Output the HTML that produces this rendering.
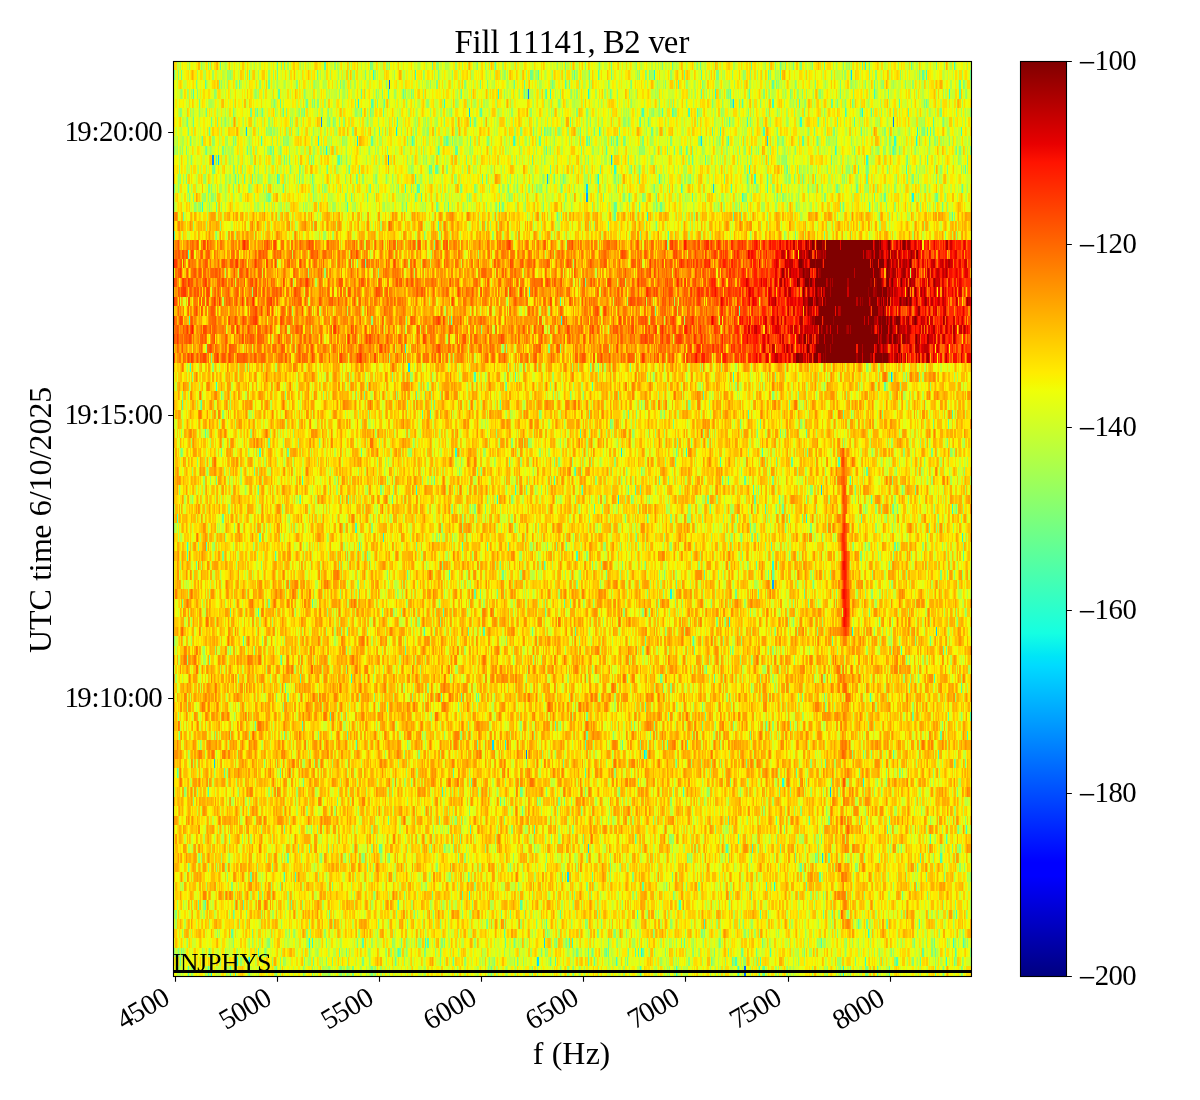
<!DOCTYPE html>
<html lang="en"><head><meta charset="utf-8"><title>Fill 11141, B2 ver</title>
<style>
html,body{margin:0;padding:0;background:#fff}
svg{display:block}
text{font-family:"Liberation Serif","DejaVu Serif",serif;fill:#000;white-space:pre}
.k{stroke:#000;stroke-width:1.11;fill:none}
</style></head><body>
<svg width="1200" height="1100" viewBox="0 0 1200 1100">
<defs>
<clipPath id="c"><rect x="173" y="61" width="799" height="916"/></clipPath>
<linearGradient id="j" x1="0" y1="0" x2="0" y2="1"><stop offset="0" stop-color="#800000"/><stop offset="0.09" stop-color="#e80000"/><stop offset="0.11" stop-color="#ff1300"/><stop offset="0.34" stop-color="#ffec00"/><stop offset="0.35" stop-color="#f7f600"/><stop offset="0.36" stop-color="#efff08"/><stop offset="0.625" stop-color="#15ffe2"/><stop offset="0.65" stop-color="#00e5f7"/><stop offset="0.66" stop-color="#00dbff"/><stop offset="0.875" stop-color="#0000ff"/><stop offset="0.89" stop-color="#0000ff"/><stop offset="1" stop-color="#000080"/></linearGradient>
</defs>
<rect width="1200" height="1100" fill="#fff"/>
<g clip-path="url(#c)" shape-rendering="crispEdges" fill="none">
<rect x="173" y="61" width="799" height="9" fill="#e9ff0e"/>
<rect x="173" y="70" width="799" height="10" fill="#f5f701"/>
<rect x="173" y="80" width="799" height="9" fill="#e9ff0e"/>
<rect x="173" y="89" width="799" height="10" fill="#f5f701"/>
<rect x="173" y="99" width="799" height="9" fill="#f5f701"/>
<rect x="173" y="108" width="799" height="9" fill="#f5f701"/>
<rect x="173" y="117" width="799" height="10" fill="#f5f701"/>
<rect x="173" y="127" width="799" height="9" fill="#f5f701"/>
<rect x="173" y="136" width="799" height="10" fill="#dcff1b"/>
<rect x="173" y="146" width="799" height="9" fill="#e9ff0e"/>
<rect x="173" y="155" width="799" height="10" fill="#f5f701"/>
<rect x="173" y="165" width="799" height="9" fill="#f5f701"/>
<rect x="173" y="174" width="799" height="10" fill="#f5f701"/>
<rect x="173" y="184" width="799" height="9" fill="#f5f701"/>
<rect x="173" y="193" width="799" height="9" fill="#f5f701"/>
<rect x="173" y="202" width="799" height="10" fill="#e9ff0e"/>
<rect x="173" y="212" width="799" height="9" fill="#ffcb00"/>
<rect x="173" y="221" width="799" height="10" fill="#ffcb00"/>
<rect x="173" y="231" width="799" height="9" fill="#ffcb00"/>
<rect x="173" y="240" width="799" height="10" fill="#ff9000"/>
<rect x="173" y="250" width="799" height="9" fill="#ff7200"/>
<rect x="173" y="259" width="799" height="9" fill="#ff7200"/>
<rect x="173" y="268" width="799" height="10" fill="#ff9000"/>
<rect x="173" y="278" width="799" height="9" fill="#ff9e00"/>
<rect x="173" y="287" width="799" height="10" fill="#ff8100"/>
<rect x="173" y="297" width="799" height="9" fill="#ff8100"/>
<rect x="173" y="306" width="799" height="10" fill="#ff9000"/>
<rect x="173" y="316" width="799" height="9" fill="#ff9000"/>
<rect x="173" y="325" width="799" height="9" fill="#ff7200"/>
<rect x="173" y="334" width="799" height="10" fill="#ff9e00"/>
<rect x="173" y="344" width="799" height="9" fill="#ff7200"/>
<rect x="173" y="353" width="799" height="10" fill="#ff9e00"/>
<rect x="173" y="363" width="799" height="9" fill="#ffda00"/>
<rect x="173" y="372" width="799" height="10" fill="#ffcb00"/>
<rect x="173" y="382" width="799" height="9" fill="#ffda00"/>
<rect x="173" y="391" width="799" height="9" fill="#ffbc00"/>
<rect x="173" y="400" width="799" height="10" fill="#ffcb00"/>
<rect x="173" y="410" width="799" height="9" fill="#ffcb00"/>
<rect x="173" y="419" width="799" height="10" fill="#ffbc00"/>
<rect x="173" y="429" width="799" height="9" fill="#ffcb00"/>
<rect x="173" y="438" width="799" height="10" fill="#ffcb00"/>
<rect x="173" y="448" width="799" height="9" fill="#ffcb00"/>
<rect x="173" y="457" width="799" height="10" fill="#ffe800"/>
<rect x="173" y="467" width="799" height="9" fill="#ffda00"/>
<rect x="173" y="476" width="799" height="9" fill="#ffcb00"/>
<rect x="173" y="485" width="799" height="10" fill="#ffda00"/>
<rect x="173" y="495" width="799" height="9" fill="#ffda00"/>
<rect x="173" y="504" width="799" height="10" fill="#ffcb00"/>
<rect x="173" y="514" width="799" height="9" fill="#ffda00"/>
<rect x="173" y="523" width="799" height="10" fill="#ffbc00"/>
<rect x="173" y="533" width="799" height="9" fill="#ffcb00"/>
<rect x="173" y="542" width="799" height="9" fill="#ffda00"/>
<rect x="173" y="551" width="799" height="10" fill="#ffbc00"/>
<rect x="173" y="561" width="799" height="9" fill="#ffda00"/>
<rect x="173" y="570" width="799" height="10" fill="#ffda00"/>
<rect x="173" y="580" width="799" height="9" fill="#ffcb00"/>
<rect x="173" y="589" width="799" height="10" fill="#ffe800"/>
<rect x="173" y="599" width="799" height="9" fill="#ffbc00"/>
<rect x="173" y="608" width="799" height="9" fill="#ffad00"/>
<rect x="173" y="617" width="799" height="10" fill="#ffcb00"/>
<rect x="173" y="627" width="799" height="9" fill="#ffcb00"/>
<rect x="173" y="636" width="799" height="10" fill="#ffcb00"/>
<rect x="173" y="646" width="799" height="9" fill="#ffcb00"/>
<rect x="173" y="655" width="799" height="10" fill="#ffbc00"/>
<rect x="173" y="665" width="799" height="9" fill="#ffbc00"/>
<rect x="173" y="674" width="799" height="9" fill="#ffbc00"/>
<rect x="173" y="683" width="799" height="10" fill="#ffcb00"/>
<rect x="173" y="693" width="799" height="9" fill="#ffcb00"/>
<rect x="173" y="702" width="799" height="10" fill="#ffcb00"/>
<rect x="173" y="712" width="799" height="9" fill="#ffbc00"/>
<rect x="173" y="721" width="799" height="10" fill="#ffcb00"/>
<rect x="173" y="731" width="799" height="9" fill="#ffcb00"/>
<rect x="173" y="740" width="799" height="10" fill="#ffbc00"/>
<rect x="173" y="750" width="799" height="9" fill="#ffbc00"/>
<rect x="173" y="759" width="799" height="9" fill="#ffbc00"/>
<rect x="173" y="768" width="799" height="10" fill="#ffbc00"/>
<rect x="173" y="778" width="799" height="9" fill="#ffcb00"/>
<rect x="173" y="787" width="799" height="10" fill="#ffcb00"/>
<rect x="173" y="797" width="799" height="9" fill="#ffcb00"/>
<rect x="173" y="806" width="799" height="10" fill="#ffcb00"/>
<rect x="173" y="816" width="799" height="9" fill="#ffcb00"/>
<rect x="173" y="825" width="799" height="9" fill="#ffcb00"/>
<rect x="173" y="834" width="799" height="10" fill="#ffcb00"/>
<rect x="173" y="844" width="799" height="9" fill="#ffcb00"/>
<rect x="173" y="853" width="799" height="10" fill="#ffda00"/>
<rect x="173" y="863" width="799" height="9" fill="#ffcb00"/>
<rect x="173" y="872" width="799" height="10" fill="#ffcb00"/>
<rect x="173" y="882" width="799" height="9" fill="#ffda00"/>
<rect x="173" y="891" width="799" height="9" fill="#ffe800"/>
<rect x="173" y="900" width="799" height="10" fill="#f5f701"/>
<rect x="173" y="910" width="799" height="9" fill="#ffcb00"/>
<rect x="173" y="919" width="799" height="10" fill="#ffe800"/>
<rect x="173" y="929" width="799" height="9" fill="#ffda00"/>
<rect x="173" y="938" width="799" height="10" fill="#f5f701"/>
<rect x="173" y="948" width="799" height="9" fill="#e9ff0e"/>
<rect x="173" y="957" width="799" height="9" fill="#e9ff0e"/>
<rect x="173" y="966" width="799" height="11" fill="#e9ff0e"/>
<path stroke="#0058ff" stroke-width="9" d="M389 84.5h1"/>
<path stroke="#0068ff" stroke-width="11" d="M744 971.5h2"/>
<path stroke="#0078ff" stroke-width="9" d="M526 754.5h1"/>
<path stroke="#0078ff" stroke-width="10" d="M528 94h1M893 122h1"/>
<path stroke="#0087ff" stroke-width="10" d="M321 122h1M212 160h2"/>
<path stroke="#00a7ff" stroke-width="9" d="M586 197.5h2M772 584.5h2"/>
<path stroke="#00a7ff" stroke-width="10" d="M388 160h1"/>
<path stroke="#00b7ff" stroke-width="10" d="M547 179h1M830 792h1"/>
<path stroke="#00c7ff" stroke-width="9" d="M469 112.5h1M246 131.5h1M713 188.5h1M936 631.5h1M214 763.5h1"/>
<path stroke="#00c7ff" stroke-width="10" d="M611 160h1M891 377h1M821 490h1"/>
<path stroke="#00d7ff" stroke-width="9" d="M733 103.5h1M586 188.5h2M408 367.5h2M588 848.5h1M537 961.5h1"/>
<path stroke="#00d7ff" stroke-width="10" d="M851 75h1M701 141h1m65 0h1M218 160h1M492 745h2M822 858h1M567 877h2M544 943h1"/>
<path stroke="#01e7f5" stroke-width="9" d="M396 131.5h1M621 452.5h1M618 499.5h1M644 754.5h1M249 961.5h1m288 0h1"/>
<path stroke="#01e7f5" stroke-width="10" d="M357 141h1"/>
<path stroke="#0ef7e9" stroke-width="9" d="M173 65.5h1M358 103.5h1M862 112.5h1M917 131.5h1M326 150.5h1M912 197.5h2M647 216.5h1M561 320.5h1M806 518.5h1M383 537.5h1m578 0h1M852 631.5h1M863 782.5h1M774 886.5h1M641 952.5h1"/>
<path stroke="#0ef7e9" stroke-width="10" d="M654 75h1M588 94h1M318 141h1m597 0h1M598 179h1M670 594h2M505 745h1M309 943h1"/>
<path stroke="#0ef7e9" stroke-width="11" d="M211 971.5h1m631 0h1"/>
<path stroke="#1bffdc" stroke-width="9" d="M865 65.5h1M444 103.5h1M749 169.5h1M405 348.5h1M686 452.5h1M772 565.5h2M351 678.5h1M782 782.5h2M469 895.5h1M868 933.5h1"/>
<path stroke="#1bffdc" stroke-width="10" d="M373 75h1M498 94h1m51 0h1m164 0h1M202 207h1M733 377h1M416 490h1M952 509h1M312 943h1"/>
<path stroke="#28ffcf" stroke-width="9" d="M599 131.5h1m120 0h1M835 150.5h1M614 169.5h2m290 0h1M742 197.5h1M216 386.5h1M455 452.5h2M497 499.5h1M187 546.5h1M258 612.5h1M752 848.5h1M237 961.5h1m627 0h1m80 0h1"/>
<path stroke="#28ffcf" stroke-width="10" d="M415 75h1m510 0h1M388 94h1m485 0h1m74 0h1M800 122h2M514 141h1m379 0h2M866 160h2M277 179h1m476 0h2M515 490h1M729 622h1M442 792h1M425 943h1m146 0h1m380 0h1"/>
<path stroke="#35ffc2" stroke-width="9" d="M954 65.5h1M772 103.5h2M845 112.5h1M961 131.5h1M438 150.5h1M405 188.5h1m11 0h1m263 0h1M421 197.5h1M188 254.5h1M190 367.5h1M430 414.5h1m317 0h1M580 433.5h1M259 452.5h2m501 0h1M302 480.5h1m251 0h1M206 546.5h1m152 0h1m102 0h1M870 697.5h1M967 735.5h1M470 829.5h1m63 0h1m431 0h1M766 886.5h1M637 914.5h1m318 0h1M616 961.5h1"/>
<path stroke="#35ffc2" stroke-width="10" d="M747 122h1M261 141h1m150 0h1m315 0h1M659 179h1M347 207h1M529 292h1M720 462h1M753 490h1M765 509h1M356 528h1M576 556h2M449 575h1M302 726h1M683 792h1M284 877h1m10 0h1M679 905h2M704 924h1"/>
<path stroke="#35ffc2" stroke-width="11" d="M676 971.5h1m61 0h1"/>
<path stroke="#42ffb5" stroke-width="9" d="M565 84.5h1m112 0h1M799 103.5h1m99 0h1M642 112.5h2m18 0h1m9 0h1m15 0h2M763 131.5h2m162 0h1m2 0h1M893 150.5h1M858 169.5h1M731 188.5h1m35 0h1M733 216.5h1M560 301.5h1M451 320.5h1M592 386.5h1M703 395.5h1M422 414.5h1m529 0h1M575 471.5h1M850 480.5h1M177 518.5h1M771 546.5h1M544 565.5h1M312 603.5h1M443 612.5h1M424 631.5h1M901 650.5h1M934 678.5h1M461 697.5h1M330 716.5h1M645 754.5h2m246 0h1m44 0h1M887 829.5h1M760 914.5h1M258 952.5h1m139 0h1m239 0h1m131 0h1M735 961.5h2m23 0h1m136 0h1"/>
<path stroke="#42ffb5" stroke-width="10" d="M193 94h1m352 0h1M397 122h1m72 0h1m383 0h1m78 0h1M338 160h1M415 179h1M499 207h1m369 0h1M438 226h1M474 377h2m39 0h1M182 405h1M838 462h2M582 490h1m52 0h1M594 509h1M355 528h1M187 556h1m87 0h1M243 641h1m449 0h1M961 688h1M555 726h1M356 745h1m228 0h1m101 0h1M585 773h1M930 839h1m15 0h1M920 858h1m19 0h2M919 924h1M569 943h1m251 0h1m141 0h1"/>
<path stroke="#42ffb5" stroke-width="11" d="M235 971.5h1m404 0h1"/>
<path stroke="#4effa8" stroke-width="9" d="M324 65.5h2M205 84.5h1m753 0h2M371 103.5h2m369 0h1M481 112.5h1m215 0h1m173 0h1M379 131.5h1m332 0h1M606 150.5h1M429 169.5h1m535 0h1M283 188.5h1m134 0h2M629 197.5h1m62 0h1M952 216.5h1M174 235.5h1m493 0h1M189 320.5h1M416 395.5h1M205 433.5h1m600 0h1M728 480.5h1M300 499.5h1m91 0h1m478 0h1M861 518.5h1M259 537.5h2M487 546.5h1M196 565.5h1m559 0h1M564 603.5h1M483 631.5h2m90 0h1M405 650.5h1M300 678.5h1m413 0h1M441 697.5h1M970 716.5h2M347 735.5h1M500 801.5h1M726 848.5h2M806 886.5h1M560 914.5h1M504 933.5h1M635 952.5h1m319 0h1M555 961.5h1m340 0h1"/>
<path stroke="#4effa8" stroke-width="10" d="M249 75h1m288 0h1m35 0h1m23 0h1m102 0h1m78 0h1M278 94h2m421 0h1m28 0h1m18 0h1m209 0h2M640 122h1m88 0h1M513 141h1m103 0h1m185 0h1M216 160h1m122 0h1m365 0h1M482 179h1m156 0h1m107 0h1m19 0h1M448 207h1M201 405h1m298 0h1M963 556h1M704 575h1M281 660h1M285 688h1M766 726h1M622 745h1m44 0h1M224 773h1m55 0h1m172 0h1M208 792h1M738 839h1M205 905h1m37 0h1m154 0h1m121 0h2M546 924h1m311 0h1M362 943h2m63 0h2"/>
<path stroke="#4effa8" stroke-width="11" d="M188 971.5h1m19 0h1m21 0h1m528 0h1"/>
<path stroke="#5bff9c" stroke-width="9" d="M220 65.5h1m56 0h1m154 0h1m62 0h1m176 0h1m78 0h1m110 0h1m48 0h1M239 84.5h1m28 0h2m244 0h1m9 0h1m247 0h2m100 0h1M280 103.5h1m103 0h1m446 0h1m94 0h1M257 112.5h1m4 0h1m20 0h1m77 0h1m21 0h1m96 0h1m427 0h1M209 131.5h1m334 0h1m316 0h1M247 150.5h1m25 0h1m181 0h3m88 0h1m139 0h1M349 169.5h1m81 0h1m3 0h3m112 0h1m49 0h1m186 0h1M188 188.5h1m181 0h1m410 0h1m180 0h1M415 197.5h1m240 0h1m227 0h2M183 216.5h1m373 0h1m56 0h2M365 263.5h1M506 386.5h1m377 0h2M628 414.5h1m214 0h1M780 433.5h1M361 452.5h1M254 471.5h1m611 0h2M434 480.5h1m224 0h1m62 0h1m21 0h2M754 499.5h2m23 0h1M222 518.5h2m565 0h1M894 546.5h2M676 584.5h1M230 612.5h1M468 631.5h1m63 0h1M943 650.5h1M476 697.5h1m1 0h1M948 716.5h1M284 735.5h1m655 0h2M825 763.5h1m128 0h1M471 782.5h1M728 820.5h1m80 0h1m79 0h1M379 848.5h1m400 0h1M800 867.5h2M642 886.5h2m272 0h1M462 895.5h1m288 0h1M233 914.5h1m589 0h1m8 0h1M231 933.5h2M588 952.5h1m17 0h1m1 0h1m313 0h2M248 961.5h1m146 0h1m57 0h1m96 0h1m37 0h1m5 0h1m137 0h1m187 0h1"/>
<path stroke="#5bff9c" stroke-width="10" d="M684 75h1m83 0h1m153 0h2M361 94h1m41 0h1m57 0h1M193 122h1m376 0h1m77 0h1M202 141h1m168 0h2m73 0h2m91 0h2m45 0h2m1 0h1m21 0h1m88 0h1m101 0h1M532 160h1m159 0h1m138 0h1m95 0h1M235 179h1m8 0h1m7 0h1m46 0h1m12 0h1m502 0h1m50 0h2M216 207h1m189 0h1m207 0h2m23 0h1M667 245h1M739 311h1M760 424h1m187 0h1M791 462h2M640 490h1M893 509h1M407 575h1m360 0h1m3 0h2M474 594h2m4 0h1m277 0h1m45 0h1M832 641h1M645 707h1M255 726h1M477 745h1M177 773h1m618 0h1M522 811h1M635 839h1M287 858h2m526 0h1M250 877h2m216 0h1m93 0h1m29 0h1m226 0h2M198 905h1M505 943h1m178 0h1"/>
<path stroke="#5bff9c" stroke-width="11" d="M763 971.5h2m112 0h1m11 0h1"/>
<path stroke="#68ff8f" stroke-width="9" d="M284 65.5h1m280 0h1m134 0h1m79 0h1m43 0h1m111 0h1M480 84.5h1m71 0h1m16 0h1M199 103.5h1m106 0h2m47 0h1m374 0h1m101 0h1m19 0h1M206 112.5h1m43 0h2m52 0h1m65 0h1M580 131.5h1m13 0h1m56 0h2M206 150.5h1m63 0h1m396 0h1m6 0h1m6 0h1m69 0h1m102 0h1m101 0h1M214 169.5h1m39 0h1m72 0h1m31 0h1m271 0h1m7 0h1M233 188.5h1m79 0h1m194 0h1m52 0h1m36 0h1m55 0h1m182 0h1m18 0h2M268 197.5h2m81 0h1m15 0h1m235 0h1m270 0h1m61 0h2M741 216.5h1M640 235.5h1m154 0h1m28 0h1M585 282.5h1M590 367.5h1m7 0h1M364 395.5h1M221 452.5h1m65 0h2m387 0h1m130 0h1M574 471.5h1M216 480.5h1M348 499.5h1m358 0h2m97 0h1M647 518.5h1m89 0h1m64 0h1M636 537.5h1m115 0h1m4 0h1M416 546.5h1m91 0h1m57 0h1m330 0h1M500 565.5h1M813 584.5h1M570 603.5h1M545 612.5h1m103 0h1M347 631.5h1M694 650.5h1m251 0h1M706 669.5h1M660 678.5h2M802 697.5h1m21 0h1M705 716.5h1m206 0h2M586 735.5h2m162 0h1M863 754.5h1M563 763.5h1m112 0h1m288 0h1M303 782.5h1M388 820.5h1m387 0h1M284 829.5h1M309 848.5h1m70 0h2M917 867.5h1M258 895.5h1m173 0h1m469 0h1M329 914.5h1m171 0h1m8 0h1M252 933.5h1M339 952.5h1m6 0h1m52 0h2m39 0h1m151 0h1m49 0h2m84 0h1m13 0h1m13 0h1m178 0h1M180 961.5h1m132 0h1m203 0h1m109 0h1m83 0h1m45 0h1m196 0h1"/>
<path stroke="#68ff8f" stroke-width="10" d="M174 75h1m6 0h1m95 0h1m39 0h1m212 0h2m57 0h1m21 0h1m358 0h2M524 94h1m20 0h1m64 0h1m229 0h1m47 0h1M187 122h1m23 0h1m606 0h1m18 0h1M190 141h1m279 0h1m109 0h1m236 0h1m111 0h1M284 160h1m4 0h1m617 0h1m59 0h1M238 179h1m39 0h2m76 0h1m129 0h1m67 0h1m8 0h1m33 0h1m126 0h1m78 0h1M436 207h2m178 0h1m43 0h2m178 0h1m2 0h1m98 0h1M608 226h1m47 0h1M655 311h1M892 377h1M434 405h1M610 424h1m62 0h1m66 0h1m192 0h1M268 443h2m407 0h1M675 462h1m100 0h1M258 490h1m267 0h1m101 0h1m286 0h1M710 509h1m71 0h2m172 0h1M750 528h1m178 0h1M367 556h1M502 575h2m102 0h1M735 594h2M645 641h1m284 0h1M209 660h1M702 707h1M702 726h1m87 0h1M520 792h2M821 839h1M795 858h1m32 0h2M672 877h1M291 905h1M866 924h2m19 0h1M514 943h1m93 0h1m72 0h1m37 0h1m42 0h1m171 0h1"/>
<path stroke="#68ff8f" stroke-width="11" d="M491 971.5h1m348 0h1m94 0h1"/>
<path stroke="#75ff82" stroke-width="9" d="M281 65.5h1m88 0h1m228 0h1m11 0h1m50 0h1m122 0h1m7 0h1m6 0h2m67 0h1M196 84.5h1m22 0h1m16 0h1m103 0h1m95 0h2m49 0h1m101 0h1m18 0h1m22 0h1m70 0h1m73 0h1m38 0h1m24 0h1m122 0h1M274 103.5h1m39 0h1m62 0h1m334 0h1m19 0h1m6 0h1m97 0h1m86 0h1M233 112.5h1m21 0h1m30 0h1m386 0h1m130 0h1m55 0h1m32 0h1m46 0h2M188 131.5h1m109 0h1m234 0h1m7 0h1m8 0h1m68 0h1m194 0h1m19 0h1m89 0h1m8 0h1M186 150.5h1m35 0h2m47 0h1m8 0h1m106 0h1m193 0h1m110 0h1m143 0h1m62 0h1m59 0h2M212 169.5h2m19 0h1m56 0h1m8 0h1m130 0h1m435 0h2m79 0h1M174 188.5h1m33 0h2m39 0h1m161 0h1m49 0h1m207 0h1m138 0h1m27 0h1M189 197.5h1m3 0h1m151 0h1m123 0h1m95 0h1m177 0h1m33 0h1M561 216.5h1m132 0h1M424 235.5h1M630 367.5h1M367 386.5h1m137 0h1M221 395.5h1m63 0h1m284 0h1M589 414.5h1m292 0h1M757 433.5h1M181 452.5h1m749 0h2M477 471.5h1m163 0h1M772 480.5h2M631 499.5h1M625 518.5h1m312 0h1M339 565.5h1m102 0h1m149 0h1m8 0h1m20 0h1m22 0h1m243 0h1M182 603.5h1m85 0h2m538 0h1M382 612.5h1m486 0h1M730 650.5h1m1 0h1M824 678.5h1M287 697.5h2M586 716.5h2m80 0h1M179 735.5h1m138 0h1m331 0h1M852 754.5h1M746 763.5h1M638 782.5h1m91 0h1m100 0h1M337 801.5h1m166 0h1m32 0h1m20 0h2m4 0h1M439 820.5h1m388 0h2M784 829.5h1m173 0h1M298 848.5h1m145 0h1m8 0h1m498 0h1M188 867.5h1m178 0h1m242 0h1M280 886.5h1m51 0h1m365 0h2M262 895.5h1m311 0h1m98 0h1m253 0h1M433 914.5h1m163 0h1M547 933.5h1m49 0h1m103 0h1M181 952.5h1m27 0h1m99 0h1m114 0h1m116 0h1m34 0h2m50 0h1m85 0h1m26 0h1m62 0h1M304 961.5h1m27 0h1m29 0h2m76 0h1m414 0h1"/>
<path stroke="#75ff82" stroke-width="10" d="M365 75h1m72 0h1m93 0h1m112 0h1m3 0h1m66 0h3m200 0h1M382 94h1m28 0h1m316 0h1m61 0h1M217 122h1m72 0h1m38 0h1m3 0h1m140 0h2m274 0h1m192 0h1M233 141h1m173 0h1m36 0h1m7 0h1m163 0h1m6 0h2m17 0h2m133 0h1m111 0h1M311 160h1m1 0h1m23 0h1m128 0h1m161 0h1m139 0h1M186 179h1m503 0h1m103 0h1m117 0h2m22 0h1M173 207h1m26 0h1m63 0h1m237 0h2m39 0h1m112 0h1M434 245h1M211 358h1M392 377h1m513 0h1m12 0h1M688 405h2m99 0h1M319 443h1M509 462h1m44 0h1M380 490h2m473 0h1m46 0h1M474 509h2m9 0h1m290 0h1m115 0h1m4 0h1M785 528h1m24 0h2M222 556h2m518 0h1m117 0h2m31 0h1M664 575h1m275 0h2m5 0h1M497 594h1M879 622h1M906 660h1M387 707h1m437 0h1M634 726h1m98 0h1M640 745h1M899 773h1M460 839h1m122 0h1M389 858h1m68 0h1m228 0h1m63 0h1M926 877h1m17 0h1M729 905h1M378 924h1m108 0h1M326 943h1m30 0h1m43 0h1m42 0h1m111 0h1m9 0h1m347 0h1"/>
<path stroke="#75ff82" stroke-width="11" d="M249 971.5h1m26 0h1m75 0h2m17 0h2m159 0h1m40 0h1m292 0h2m75 0h1"/>
<path stroke="#82ff75" stroke-width="9" d="M208 65.5h1m162 0h2m104 0h1m107 0h1m189 0h1m36 0h1m30 0h1M173 84.5h1m122 0h2m88 0h1m77 0h2m199 0h1m129 0h1m69 0h1m17 0h1m21 0h1M312 103.5h1m4 0h2m54 0h1m184 0h2m99 0h1m13 0h1m86 0h1m35 0h1m48 0h1M180 112.5h1m147 0h1m122 0h1m124 0h2m8 0h2m65 0h1m21 0h1m72 0h1m97 0h1m14 0h1M266 131.5h1m4 0h1m19 0h1m60 0h2m166 0h2m25 0h1m10 0h2m40 0h1m176 0h1m55 0h1m50 0h2m36 0h2M205 150.5h1m233 0h1m110 0h1m88 0h1m47 0h1m51 0h1m18 0h1m11 0h1m6 0h1m17 0h1m87 0h1m8 0h1m1 0h2m74 0h2M179 169.5h1m62 0h1m203 0h2m19 0h1m105 0h1m210 0h1m1 0h1m12 0h1m68 0h1m18 0h1m28 0h1m44 0h1M211 188.5h1m51 0h1m58 0h1m75 0h1m61 0h1m13 0h2m23 0h1m17 0h1m11 0h1m6 0h1m4 0h1m4 0h1m69 0h1m65 0h1M208 197.5h1m2 0h1m54 0h1m3 0h1m42 0h1m195 0h1m113 0h2m17 0h2m102 0h1m35 0h2m40 0h2m109 0h1M767 216.5h1m111 0h1m9 0h1m64 0h1M216 235.5h1m222 0h1m505 0h1m10 0h1M357 263.5h1M371 320.5h2M481 329.5h1M506 348.5h1m41 0h2m10 0h1M427 386.5h2m121 0h1m349 0h1M182 395.5h1m173 0h1m39 0h1m156 0h1m29 0h1m34 0h1m153 0h2m24 0h1M222 414.5h2m315 0h2m95 0h1m27 0h1m186 0h1M785 433.5h1M459 471.5h1m21 0h1m482 0h1M668 480.5h1m223 0h1M299 499.5h1m187 0h1m23 0h2m62 0h1M462 518.5h1m126 0h1m80 0h2m30 0h1M741 537.5h1m80 0h1M198 546.5h1m348 0h1m8 0h1m81 0h1m214 0h1m11 0h1m3 0h1m93 0h1M261 565.5h1M358 584.5h1m217 0h2m22 0h1m196 0h1M439 603.5h1m218 0h1m134 0h1M401 612.5h1m240 0h2m106 0h1M341 631.5h1m433 0h1m41 0h1M254 650.5h1m387 0h2m247 0h1M238 678.5h1m679 0h1M374 697.5h1m37 0h1m385 0h1M215 735.5h1m245 0h1m151 0h1M418 754.5h2m451 0h1M264 763.5h1M173 782.5h1m632 0h1m79 0h1M193 801.5h1M461 820.5h1m191 0h1M311 829.5h1m5 0h1m115 0h1m138 0h1M328 848.5h1m102 0h1m102 0h1m223 0h1m58 0h1m83 0h1m57 0h2M272 867.5h1m237 0h1m34 0h1m257 0h1m51 0h1M231 886.5h2m285 0h1m67 0h2m78 0h1m19 0h1M374 895.5h1m29 0h1m231 0h1m186 0h1M175 914.5h2m69 0h1m149 0h1m17 0h1m47 0h1m305 0h1M289 933.5h1m20 0h1m234 0h1m52 0h1m15 0h2m10 0h1m26 0h1m48 0h1m1 0h1m132 0h1m125 0h1M178 952.5h1m86 0h1m131 0h1m27 0h1m119 0h1m58 0h2m59 0h1m27 0h1m197 0h1m39 0h2m37 0h2M280 961.5h1m45 0h1m162 0h1m4 0h1m130 0h1m62 0h2m204 0h2m16 0h2"/>
<path stroke="#82ff75" stroke-width="10" d="M178 75h1m51 0h1m408 0h1m110 0h1m19 0h1m60 0h1m37 0h1m5 0h2m23 0h1M197 94h1m106 0h1m71 0h1m28 0h1m7 0h1m113 0h1m32 0h1m202 0h2m37 0h1m16 0h2m32 0h1M225 122h1m113 0h1m104 0h1m145 0h1m37 0h1m10 0h1m57 0h1M235 141h1m47 0h1m129 0h1m73 0h2m124 0h1m56 0h2m26 0h2m19 0h1m58 0h1m3 0h2m52 0h1m112 0h1M191 160h1m117 0h1m31 0h1m4 0h1m241 0h1m197 0h1M345 179h1m11 0h1m18 0h1m9 0h1m227 0h2m2 0h1m170 0h1m117 0h1m10 0h1M209 207h1m108 0h1m83 0h1m93 0h1m95 0h1m146 0h1m7 0h1m48 0h1m89 0h1m33 0h1M220 226h1M378 273h1M192 377h1m582 0h1M407 405h1m23 0h1m209 0h1M511 443h2m15 0h1m162 0h1m151 0h1m103 0h1M558 462h2M393 490h1m364 0h1m51 0h2M282 509h1m169 0h1m149 0h1m262 0h1m15 0h1M371 528h2M586 556h2m201 0h1M387 575h1m192 0h1m249 0h1m41 0h1m33 0h1m55 0h1M340 594h1m306 0h1m15 0h1m172 0h1m35 0h1M440 622h1m275 0h2m7 0h1m67 0h1M262 641h1m652 0h1M533 660h1M663 688h1m6 0h2m237 0h1M283 707h1m174 0h1M468 726h1m91 0h1m70 0h1m22 0h1m287 0h1M407 745h1M859 773h1m26 0h1m15 0h1M522 792h1m23 0h1m38 0h1m33 0h1m53 0h1m105 0h1m10 0h1m166 0h1M469 811h1m87 0h1m23 0h1M229 839h1m223 0h1m97 0h1M199 858h1m121 0h1m40 0h2m182 0h1m270 0h1m61 0h1M632 877h2M302 905h1m169 0h1m482 0h1M309 924h1m97 0h1m32 0h1m45 0h1m49 0h1m48 0h1m15 0h1m137 0h1m3 0h1m142 0h1M233 943h1m34 0h2m136 0h1m34 0h2m277 0h1"/>
<path stroke="#82ff75" stroke-width="11" d="M303 971.5h1m8 0h1m27 0h2m5 0h1m27 0h1m112 0h1m248 0h1m24 0h1m87 0h1m14 0h1m95 0h1"/>
<path stroke="#8fff68" stroke-width="9" d="M201 65.5h1m8 0h1m123 0h2m53 0h1m46 0h3m46 0h1m150 0h1m60 0h1m71 0h1m174 0h1M221 84.5h1m37 0h2m53 0h1m28 0h2m85 0h1m148 0h1m77 0h1m28 0h1m91 0h1m72 0h1m60 0h2m50 0h1M406 103.5h1m20 0h2m38 0h1m163 0h1m54 0h1m35 0h1m8 0h1m73 0h1M181 112.5h1m17 0h1m75 0h1m23 0h1m1 0h1m20 0h1m32 0h2m16 0h1m137 0h2m17 0h2m109 0h1m17 0h1m16 0h1m44 0h1m44 0h1m10 0h1m16 0h1m29 0h1m48 0h1m7 0h1m74 0h1m13 0h2M258 131.5h1m11 0h1m15 0h1m26 0h1m60 0h1m41 0h1m10 0h2m6 0h1m109 0h1m262 0h1m80 0h1M174 150.5h1m7 0h1m67 0h2m68 0h1m2 0h1m5 0h1m39 0h1m53 0h1m120 0h1m99 0h1m9 0h1m89 0h2m132 0h1m11 0h1m24 0h1M234 169.5h1m2 0h1m62 0h1m110 0h1m172 0h1m71 0h1m87 0h2m81 0h1m18 0h1m2 0h1m2 0h1m81 0h1m5 0h2m25 0h1M178 188.5h1m69 0h1m17 0h1m57 0h2m43 0h1m8 0h1m110 0h1m38 0h1m219 0h1m7 0h2m14 0h2m48 0h1m45 0h1m25 0h2m29 0h1M205 197.5h1m6 0h2m1 0h1m51 0h1m78 0h1m120 0h1m57 0h1m71 0h1m107 0h1m38 0h2m5 0h1m46 0h1m82 0h1m36 0h1m26 0h1M837 216.5h1m111 0h1M492 235.5h2m256 0h1m33 0h1M406 320.5h1M206 348.5h1m295 0h2M212 367.5h2m294 0h1m16 0h1m52 0h1m287 0h2M735 386.5h2m87 0h1m105 0h1M323 395.5h1m100 0h1m6 0h1m8 0h1M368 414.5h1M250 433.5h2m123 0h1m120 0h1m92 0h1m42 0h2m21 0h1m47 0h1m5 0h1M182 452.5h1m65 0h1m161 0h2m127 0h2m207 0h1m123 0h1m30 0h2m45 0h2M207 471.5h1m373 0h1m44 0h1m114 0h1m55 0h1m98 0h1M210 480.5h1m126 0h1m49 0h1m34 0h1m8 0h1m163 0h2m24 0h1M192 499.5h1m147 0h1m257 0h1m26 0h1m23 0h1m244 0h2m12 0h1M476 518.5h1m210 0h4m32 0h1m6 0h1m35 0h1m119 0h1m74 0h1M439 537.5h1m12 0h1m120 0h1m90 0h1m66 0h1m19 0h1m175 0h1M214 546.5h1m38 0h1m107 0h1m242 0h2m14 0h1m49 0h2m60 0h1m32 0h1m156 0h2M236 565.5h1m461 0h2m29 0h1m17 0h1m30 0h1M289 584.5h1m67 0h1m112 0h1m421 0h1M406 603.5h1m138 0h1m47 0h1m81 0h1m6 0h1m28 0h1M327 612.5h1m65 0h1m229 0h2m32 0h1m307 0h1M665 631.5h1m208 0h1M230 650.5h1m115 0h1m425 0h2M346 669.5h1M526 678.5h1m100 0h1m132 0h1m53 0h1m15 0h1m79 0h1M276 697.5h1m82 0h1m209 0h1M173 716.5h1m167 0h1m4 0h1m84 0h1m529 0h1M249 735.5h1m172 0h1m21 0h1m89 0h1m157 0h1M404 754.5h1m137 0h1M314 763.5h1m405 0h1m89 0h2m143 0h1M411 782.5h1m57 0h1M571 801.5h1m98 0h2M452 820.5h1m2 0h2m47 0h1m103 0h1m250 0h1m70 0h1m34 0h1M448 829.5h1m62 0h2m202 0h1M371 848.5h2m112 0h1M373 867.5h1m62 0h2m182 0h1m235 0h2m101 0h2m3 0h1M426 886.5h1m30 0h1m16 0h2M591 895.5h1m137 0h1m2 0h1m77 0h2m52 0h1M417 914.5h1m52 0h1m53 0h1m133 0h1m179 0h2m7 0h2m52 0h1m3 0h1m22 0h1m9 0h1m27 0h1M217 933.5h1m76 0h1m11 0h2m16 0h2m418 0h2m2 0h1m120 0h1m69 0h1M174 952.5h1m8 0h1m202 0h1m19 0h1m28 0h1m68 0h1m68 0h1m80 0h1m190 0h1m33 0h1m65 0h1m10 0h1M220 961.5h1m3 0h1m15 0h2m30 0h1m10 0h1m85 0h1m34 0h1m59 0h2m48 0h1m8 0h1m84 0h1m116 0h1m7 0h1m10 0h2m52 0h1m38 0h1m2 0h1m41 0h1m52 0h1m26 0h1"/>
<path stroke="#8fff68" stroke-width="10" d="M227 75h1m40 0h2m3 0h1m80 0h1m20 0h1m47 0h1m28 0h1m51 0h1m60 0h1m6 0h1m64 0h1m8 0h1m23 0h2m60 0h1m10 0h1m101 0h1m4 0h1M181 94h1m32 0h2m39 0h1m83 0h1m83 0h1m80 0h1m66 0h1m4 0h2m39 0h1m11 0h1m96 0h2m41 0h1m27 0h1m8 0h1m159 0h1M221 122h1m46 0h2m22 0h1m34 0h1m15 0h2m22 0h1m255 0h2m99 0h1m45 0h1m54 0h1M212 141h2m35 0h1m22 0h1m14 0h2m53 0h1m71 0h1m33 0h1m105 0h1m70 0h1m87 0h1m12 0h2m98 0h1m24 0h1m38 0h1m43 0h2m1 0h1M273 160h1m12 0h1m120 0h1m18 0h1m89 0h1m27 0h1m143 0h2m47 0h1m9 0h1m2 0h1m155 0h1m13 0h1m37 0h1M178 179h1m1 0h1m24 0h1m52 0h1m9 0h2m14 0h1m77 0h2m11 0h1m16 0h1m61 0h1m55 0h1m6 0h1m25 0h1m16 0h1m29 0h1m73 0h1m20 0h1m100 0h1m55 0h1m1 0h1m51 0h1M194 207h2m107 0h1m140 0h1m41 0h1m38 0h1m38 0h1m64 0h1m88 0h1m68 0h1m89 0h1m16 0h2m39 0h1m11 0h1M485 226h1m4 0h1m103 0h1M308 273h1m15 0h2M252 292h1M389 358h1M349 377h1m60 0h1m236 0h1m5 0h1M200 405h1m268 0h1m239 0h1M611 424h2m187 0h2M283 443h1m14 0h1m114 0h1m146 0h1m359 0h1M197 462h1m263 0h1m110 0h1m18 0h1m22 0h2m308 0h1M179 490h1m361 0h1m270 0h1M228 509h2m240 0h1m108 0h1m108 0h2m126 0h1m58 0h2m57 0h1M442 528h1m19 0h1m52 0h1m22 0h1m215 0h2m119 0h2m15 0h1m43 0h1M472 556h1m438 0h1M520 575h2m98 0h1m38 0h1m58 0h1m94 0h1m140 0h1M358 594h1m38 0h1m467 0h1m5 0h1M411 622h1m6 0h2m368 0h1m103 0h1m64 0h1M174 641h1m331 0h1m216 0h1m17 0h1M187 660h1m92 0h1m232 0h1m226 0h1m10 0h1m42 0h1m114 0h1M427 688h2m322 0h1M520 726h2m193 0h1m56 0h2M200 745h1m461 0h1m256 0h1M227 773h1m386 0h2m284 0h1m32 0h1M184 792h2m11 0h1m194 0h1m52 0h1m32 0h1m228 0h2m31 0h1m82 0h1M800 811h2m24 0h1m94 0h1M242 839h1m315 0h2m110 0h2m1 0h1m102 0h1M198 858h1m30 0h1m36 0h1m53 0h1m24 0h1m3 0h1m38 0h1m75 0h2m47 0h1m72 0h2m22 0h1m80 0h1m36 0h1m87 0h1m47 0h1m68 0h1M227 877h1m221 0h1m160 0h1m193 0h1M203 905h2m244 0h1m72 0h1m50 0h1m48 0h1M333 924h1m252 0h2m82 0h2m117 0h1M267 943h1m124 0h1m25 0h3m133 0h1m62 0h1m29 0h1m55 0h1m113 0h1m28 0h1m84 0h2m14 0h1m16 0h1m2 0h1"/>
<path stroke="#8fff68" stroke-width="11" d="M191 971.5h1m56 0h1m31 0h1m47 0h2m207 0h1m22 0h1m6 0h2m100 0h1m4 0h1m2 0h1m100 0h1m8 0h1m39 0h1m134 0h1"/>
<path stroke="#9cff5b" stroke-width="9" d="M189 65.5h1m97 0h2m48 0h1m11 0h1m36 0h2m67 0h2m32 0h1m67 0h1m207 0h1m15 0h1m64 0h1m2 0h1m48 0h1M206 84.5h1m20 0h1m49 0h1m59 0h1m12 0h1m202 0h2m11 0h1m63 0h1m43 0h1m12 0h1m41 0h1m4 0h1m14 0h1m75 0h1m29 0h1m21 0h1m3 0h2m10 0h1M324 103.5h2m16 0h1m40 0h1m42 0h1m28 0h2m87 0h1m38 0h1m220 0h1m48 0h1m14 0h1m11 0h1m8 0h1m38 0h1M190 112.5h1m2 0h1m67 0h1m40 0h1m24 0h1m39 0h1m3 0h2m57 0h1m67 0h1m52 0h1m1 0h1m97 0h2m5 0h1m15 0h1m23 0h2m1 0h1m21 0h1m29 0h1m14 0h1m160 0h1m31 0h1M193 131.5h1m74 0h2m3 0h2m2 0h1m58 0h1m45 0h1m4 0h1m13 0h1m11 0h1m1 0h1m39 0h3m56 0h1m42 0h1m9 0h2m9 0h1m67 0h1m10 0h1m167 0h1m45 0h1m37 0h1m11 0h1m12 0h1m13 0h1M177 150.5h1m2 0h1m29 0h1m14 0h1m30 0h1m7 0h1m2 0h3m11 0h1m7 0h1m23 0h2m6 0h1m12 0h2m10 0h1m28 0h1m94 0h1m1 0h1m32 0h1m30 0h1m55 0h2m46 0h4m16 0h2m17 0h2m21 0h1m23 0h2m5 0h1m22 0h1m27 0h1m87 0h1m4 0h1m6 0h2m43 0h1m25 0h1M206 169.5h1m51 0h1m6 0h1m9 0h1m60 0h1m11 0h1m89 0h1m52 0h1m119 0h1m4 0h1m12 0h1m10 0h1m154 0h1m11 0h1m8 0h1m30 0h2m114 0h1M187 188.5h1m37 0h1m72 0h1m37 0h1m5 0h1m4 0h1m6 0h1m87 0h1m59 0h2m3 0h1m29 0h1m1 0h2m21 0h1m11 0h1m78 0h1m9 0h1m83 0h1m64 0h1m52 0h1m9 0h2m47 0h1m4 0h1m31 0h1m5 0h1M202 197.5h3m49 0h1m73 0h1m45 0h1m41 0h1m24 0h1m3 0h1m65 0h2m53 0h1m61 0h1m15 0h2m39 0h1m36 0h1m51 0h1m89 0h1m46 0h1M496 216.5h1m30 0h1m85 0h1m68 0h1m214 0h1M215 235.5h1m19 0h1m87 0h3m7 0h1m217 0h1m158 0h1M431 254.5h1m46 0h1M277 263.5h1m295 0h1M507 301.5h1m119 0h1m46 0h1M684 320.5h1M405 329.5h1M248 367.5h1m323 0h1m148 0h1m156 0h1M189 386.5h1m228 0h2m153 0h1m126 0h1m1 0h1m56 0h1m98 0h1M658 395.5h1m157 0h1m29 0h1m43 0h1M249 414.5h1m410 0h2M181 433.5h1m25 0h1m85 0h1m305 0h1m6 0h1m41 0h1m15 0h1M408 452.5h2m73 0h2m32 0h1m436 0h1M192 471.5h1m340 0h1m291 0h1m38 0h1m52 0h1m3 0h1M203 480.5h2m35 0h2m383 0h1m301 0h1m3 0h2M494 499.5h1m61 0h1m47 0h2m26 0h2m62 0h1m19 0h2m137 0h1M289 518.5h1m221 0h2M225 537.5h1m54 0h1m155 0h2m87 0h1m185 0h1m20 0h1m7 0h1m224 0h1M530 546.5h2m71 0h1m41 0h1m82 0h1m139 0h1m29 0h1m43 0h1M180 565.5h1m161 0h1m5 0h1m77 0h1m68 0h1m49 0h1M364 584.5h1m23 0h1m72 0h1m5 0h1m171 0h1m164 0h1m84 0h1m1 0h1M469 603.5h1m13 0h2m98 0h1m160 0h2m72 0h1m56 0h2M295 612.5h1m171 0h1m319 0h1m168 0h1M367 631.5h1m66 0h1m362 0h1m150 0h1M203 650.5h2m10 0h1m12 0h1m504 0h1m34 0h1m68 0h1M420 669.5h1m171 0h1m111 0h1m60 0h1M373 678.5h1m76 0h1m321 0h2m129 0h2M423 697.5h1m70 0h1m104 0h1m126 0h2m33 0h1m64 0h1m128 0h1M178 716.5h1m55 0h1m337 0h1m229 0h1M425 735.5h1m34 0h1m309 0h1M188 754.5h1m196 0h1m169 0h1m56 0h1m252 0h1m20 0h1M318 763.5h1m79 0h1m127 0h1m164 0h1m129 0h1m60 0h1m33 0h1M404 782.5h1m342 0h1m129 0h1M249 801.5h1m289 0h2m81 0h1m81 0h1M613 820.5h1m252 0h2M261 829.5h1m109 0h2m152 0h1m47 0h1m204 0h1m111 0h1m35 0h1m15 0h1m14 0h1M429 848.5h1m15 0h1m3 0h1m45 0h1m176 0h1m52 0h1m2 0h1m36 0h1m29 0h1m94 0h1m7 0h1m29 0h1m11 0h2m2 0h1m12 0h1M208 867.5h1m7 0h1m8 0h1m31 0h1m250 0h1m118 0h1m121 0h1m28 0h1m20 0h1M261 886.5h1m9 0h1m149 0h1m172 0h1m151 0h1m24 0h1m121 0h1M287 895.5h2m65 0h1m177 0h1m37 0h1m17 0h1m43 0h2m164 0h1m17 0h1m29 0h1M234 914.5h1m26 0h1m11 0h1m174 0h1m198 0h1m7 0h1m11 0h1m279 0h1m5 0h2M182 933.5h1m102 0h1m7 0h1m64 0h2m17 0h1m80 0h1m129 0h1m24 0h1m71 0h1m34 0h1m33 0h2m3 0h1m18 0h1m26 0h1m111 0h1M202 952.5h1m22 0h1m11 0h1m26 0h1m52 0h1m50 0h2m20 0h2m66 0h1m88 0h1m43 0h1m1 0h1m98 0h1m116 0h1m64 0h1m18 0h1M308 961.5h1m1 0h1m36 0h1m38 0h1m230 0h1m42 0h2m11 0h1m4 0h1m33 0h1m21 0h1m8 0h1m94 0h2m39 0h1m37 0h1m37 0h2"/>
<path stroke="#9cff5b" stroke-width="10" d="M212 75h2m14 0h2m15 0h1m12 0h1m30 0h1m40 0h1m7 0h1m9 0h1m25 0h1m19 0h1m39 0h1m59 0h1m10 0h1m1 0h1m18 0h1m9 0h1m15 0h1m23 0h2m166 0h2m11 0h1m17 0h1m66 0h1m1 0h1m79 0h1M187 94h1m3 0h1m64 0h1m1 0h1m4 0h1m83 0h1m30 0h1m15 0h2m64 0h1m10 0h1m47 0h1m6 0h1m47 0h1m14 0h1m14 0h2m5 0h1m43 0h1m39 0h1m10 0h1m12 0h2m8 0h1m18 0h1m36 0h1m12 0h1m14 0h1m55 0h1m46 0h1m26 0h1m21 0h1M186 122h1m67 0h1m17 0h1m55 0h1m5 0h2m42 0h1m13 0h1m22 0h1m1 0h1m7 0h1m80 0h1m6 0h1m33 0h1m38 0h2m14 0h1m22 0h1m18 0h1m69 0h1m18 0h1m28 0h1m24 0h1m11 0h1m44 0h1m79 0h1m17 0h1M214 141h1m10 0h1m1 0h1m49 0h1m8 0h1m24 0h1m11 0h1m7 0h1m14 0h1m98 0h1m8 0h1m4 0h1m7 0h1m47 0h1m13 0h1m6 0h1m32 0h1m70 0h1m9 0h1m69 0h1m20 0h1m56 0h1m19 0h1m9 0h2m56 0h1m30 0h1M187 160h1m41 0h1m3 0h1m4 0h1m33 0h1m8 0h1m16 0h1m113 0h1m10 0h1m9 0h1m37 0h1m5 0h1m107 0h1m26 0h1m22 0h1m15 0h2m126 0h1m2 0h4m82 0h1M179 179h1m3 0h1m19 0h2m20 0h1m3 0h2m71 0h2m117 0h1m7 0h1m25 0h2m107 0h2m18 0h1m99 0h1m3 0h2m23 0h1m34 0h1m22 0h1m16 0h1m1 0h1m9 0h2m44 0h1m9 0h2m48 0h1m32 0h1M198 207h2m21 0h1m36 0h1m15 0h1m6 0h1m51 0h1m21 0h1m28 0h1m40 0h1m37 0h1m31 0h1m75 0h1m25 0h1m55 0h1m3 0h1m56 0h1m8 0h2m10 0h2m38 0h2m150 0h1M193 226h1m12 0h1m58 0h1m114 0h2m151 0h1m7 0h1m47 0h1m54 0h1m45 0h1m168 0h1m19 0h1M566 245h1M292 311h1M449 358h1M365 377h1m45 0h2m19 0h1m52 0h1m67 0h1m44 0h1m289 0h2m64 0h1M230 405h1m413 0h1m154 0h1m3 0h1M219 424h1m415 0h1m121 0h1M379 443h1m119 0h1m29 0h1m177 0h2m182 0h2m32 0h1m3 0h1m34 0h1M377 462h1m7 0h1m2 0h1m105 0h1m25 0h2m143 0h1m99 0h1M245 490h1m90 0h2m29 0h1m15 0h1m70 0h1m51 0h1m28 0h1m11 0h1m33 0h1m174 0h1M451 509h1m186 0h1m27 0h1m23 0h1m63 0h2m107 0h1m99 0h1M234 528h1m31 0h1m28 0h1m145 0h1m193 0h1m98 0h1m92 0h1m125 0h1M257 556h1m88 0h1m173 0h2m16 0h1m152 0h1m80 0h2m23 0h1m80 0h1M565 575h1m4 0h1m8 0h1m47 0h1m48 0h1m46 0h1m86 0h2M298 594h1m55 0h1m40 0h1m48 0h1m113 0h2m113 0h1m205 0h1M272 622h1m144 0h1m185 0h1m218 0h1M405 641h1m173 0h1m112 0h1m198 0h1m7 0h1M280 688h1m123 0h1m8 0h1m360 0h1M378 707h1m297 0h1m235 0h2M376 726h1m418 0h1m72 0h1M593 745h1m54 0h1m71 0h1M178 773h1m35 0h1m495 0h1m228 0h1M238 792h1m29 0h2m26 0h2m199 0h1m120 0h1m255 0h1m6 0h1M248 811h1m57 0h2m26 0h2m273 0h1m153 0h2m29 0h1m70 0h1m88 0h1M376 839h1m118 0h1m49 0h1m90 0h1m32 0h1m148 0h1M201 858h1m19 0h1m60 0h1m18 0h1m62 0h1m15 0h2m306 0h2M318 877h1m36 0h1m73 0h1m20 0h1m18 0h1m249 0h1m102 0h1m30 0h1m34 0h1m17 0h1m60 0h1m2 0h2M234 905h1m52 0h2m94 0h1m13 0h1m32 0h1m12 0h1m17 0h1m352 0h1m128 0h1M239 924h1m41 0h1m106 0h1m44 0h1m70 0h1m15 0h2m20 0h1m28 0h1m64 0h1m79 0h2m33 0h2m106 0h1m93 0h1M187 943h1m61 0h1m2 0h1m55 0h1m62 0h2m20 0h2m39 0h1m39 0h2m48 0h1m26 0h1m3 0h1m9 0h1m50 0h1m17 0h1m4 0h1m29 0h1m6 0h1m16 0h1m114 0h1m10 0h2m3 0h1m27 0h1m5 0h1m11 0h1m55 0h1m28 0h1m2 0h1m6 0h1"/>
<path stroke="#9cff5b" stroke-width="11" d="M192 971.5h1m12 0h1m20 0h1m48 0h1m46 0h1m16 0h1m8 0h1m21 0h1m9 0h2m75 0h1m48 0h1m8 0h1m56 0h1m6 0h1m18 0h1m24 0h2m16 0h1m25 0h1m42 0h1m39 0h1m24 0h2m35 0h1m23 0h1"/>
<path stroke="#a8ff4e" stroke-width="9" d="M180 65.5h1m44 0h1m28 0h1m45 0h1m144 0h1m16 0h1m13 0h1m17 0h1m7 0h2m12 0h1m45 0h1m8 0h1m83 0h1m2 0h1m17 0h1m17 0h1m1 0h1m36 0h2m64 0h1m33 0h1m2 0h1m14 0h1m98 0h2m3 0h1m11 0h1M224 84.5h1m39 0h1m19 0h1m28 0h1m4 0h1m4 0h1m30 0h2m70 0h1m67 0h1m12 0h1m5 0h1m25 0h2m9 0h2m39 0h1m17 0h1m37 0h1m15 0h1m30 0h1m8 0h2m10 0h4m31 0h1m45 0h1m53 0h1m99 0h2M209 103.5h3m21 0h1m37 0h1m1 0h1m1 0h1m7 0h1m21 0h1m108 0h1m27 0h1m14 0h1m16 0h2m7 0h2m11 0h1m36 0h1m14 0h2m2 0h1m7 0h1m5 0h1m7 0h1m23 0h1m2 0h1m15 0h1m12 0h1m37 0h1m1 0h2m112 0h1m5 0h1m2 0h1m48 0h1m68 0h1m15 0h1m34 0h1M179 112.5h1m37 0h1m7 0h1m30 0h1m25 0h1m15 0h1m4 0h1m13 0h1m3 0h1m9 0h1m25 0h1m2 0h1m47 0h2m6 0h1m23 0h2m7 0h2m28 0h1m82 0h1m63 0h1m1 0h1m20 0h1m65 0h1m6 0h1m63 0h1m130 0h1m12 0h1m4 0h1m3 0h1m25 0h1M324 131.5h2m97 0h2m90 0h1m20 0h1m11 0h2m3 0h1m6 0h1m25 0h2m68 0h1m6 0h1m50 0h1m3 0h1m33 0h1m111 0h1m17 0h1m10 0h1m4 0h2m19 0h1m27 0h1M218 150.5h1m9 0h1m2 0h2m22 0h1m71 0h1m50 0h1m24 0h2m64 0h1m21 0h1m28 0h2m76 0h1m15 0h2m1 0h1m85 0h1m19 0h1m128 0h1m36 0h1m24 0h1m52 0h1M187 169.5h1m10 0h1m46 0h1m56 0h2m22 0h1m10 0h1m8 0h1m61 0h2m2 0h2m48 0h1m10 0h1m80 0h1m75 0h1m7 0h1m8 0h1m15 0h1m10 0h1m3 0h1m5 0h1m1 0h1m6 0h1m95 0h1m13 0h1m27 0h1m2 0h1m75 0h1m8 0h1m4 0h1M173 188.5h1m17 0h1m4 0h1m18 0h1m3 0h3m28 0h2m21 0h1m52 0h1m66 0h1m2 0h1m16 0h1m34 0h1m27 0h1m37 0h1m10 0h1m34 0h1m23 0h1m19 0h2m147 0h1m20 0h1m24 0h1m7 0h1m5 0h1m1 0h1m2 0h1m2 0h1m5 0h1m10 0h2m11 0h1m12 0h1m1 0h2m16 0h2m2 0h1m31 0h1M187 197.5h1m37 0h1m7 0h1m6 0h2m66 0h1m93 0h1m26 0h1m40 0h1m30 0h1m4 0h1m1 0h1m1 0h1m8 0h1m2 0h1m20 0h1m36 0h1m30 0h1m51 0h1m13 0h1m4 0h1m38 0h1m1 0h1m52 0h1m8 0h1m3 0h1m1 0h2m15 0h1m44 0h1m7 0h1m6 0h1m75 0h1M207 216.5h1m70 0h2m37 0h1m2 0h1m158 0h1m76 0h1m1 0h2m76 0h1m48 0h1m4 0h1m57 0h1m51 0h2m105 0h1M332 235.5h1m107 0h1m76 0h1m46 0h1m64 0h1m58 0h2m95 0h1m65 0h1m17 0h1m42 0h2M293 282.5h1m21 0h2M494 329.5h1M187 367.5h1m57 0h1m30 0h1m171 0h1m65 0h1m5 0h2m15 0h1m66 0h2m58 0h1m35 0h1m1 0h1m32 0h2m14 0h1m33 0h1m84 0h1m54 0h1M345 386.5h1m92 0h1m143 0h1m98 0h1m58 0h1m65 0h1m80 0h1M188 395.5h1m41 0h1m506 0h1m39 0h1m125 0h2m5 0h1M253 414.5h1m104 0h1m147 0h1m3 0h1m30 0h1m18 0h1m62 0h2m85 0h1m122 0h1m19 0h1m75 0h1m24 0h1M208 433.5h1m61 0h1m149 0h1m18 0h1m171 0h1m204 0h1m82 0h1M180 452.5h1m76 0h1m227 0h1m62 0h2m127 0h1m5 0h1m268 0h1M224 471.5h1m15 0h2m16 0h1m11 0h1m31 0h1m27 0h1m27 0h1m25 0h1m259 0h1m124 0h1m35 0h1m143 0h1M228 480.5h1m33 0h1m71 0h2m58 0h1m32 0h2m86 0h1m12 0h1m21 0h1m141 0h1m11 0h1m43 0h1m53 0h1m147 0h2M221 499.5h1m34 0h1m303 0h1m30 0h1m77 0h1m32 0h3m77 0h2m44 0h2m89 0h1M173 518.5h1m196 0h1m5 0h1m13 0h2m256 0h1m100 0h1m19 0h1m124 0h2M327 537.5h1m82 0h1m32 0h2m19 0h2m99 0h1m69 0h1m89 0h1m107 0h1m1 0h1M212 546.5h2m19 0h1m69 0h1m39 0h2m12 0h1m207 0h1m61 0h1m66 0h1m46 0h1m44 0h1m65 0h1m24 0h1m68 0h1M201 565.5h1m168 0h1m168 0h2m11 0h1m42 0h2m44 0h1m106 0h1m178 0h1m29 0h1M347 584.5h1m54 0h1m2 0h1m11 0h1m45 0h1m49 0h1m136 0h1m5 0h1m3 0h2m28 0h1m42 0h1m20 0h3m201 0h1M202 603.5h1m62 0h1m249 0h1m22 0h1m250 0h1M205 612.5h1m190 0h1m19 0h1m18 0h1m77 0h1m155 0h1m8 0h1m100 0h1m164 0h1m21 0h1M326 631.5h1m7 0h2m144 0h1m108 0h1m29 0h1m64 0h1m89 0h1m107 0h1m3 0h1m4 0h1M382 650.5h1m81 0h2m99 0h1m209 0h1m33 0h1m56 0h2M266 669.5h1m28 0h1m78 0h1m8 0h1m71 0h3m234 0h1m12 0h1m57 0h2m6 0h1m7 0h1m138 0h1m49 0h2M175 678.5h2m93 0h1m90 0h1m205 0h2m93 0h1m46 0h1m13 0h1m99 0h1m137 0h1M542 697.5h1m71 0h2m114 0h1m37 0h1m118 0h1M494 716.5h1m308 0h1M230 735.5h1m50 0h1m49 0h1m381 0h2m62 0h1m150 0h1m32 0h1M882 754.5h1M193 763.5h1m3 0h1m105 0h2m27 0h1m208 0h1m64 0h1m68 0h1m25 0h1m9 0h1m87 0h1m34 0h1M236 782.5h1m120 0h1m34 0h2m2 0h1m8 0h1m99 0h1m196 0h1m73 0h1m7 0h1m14 0h1m47 0h2m81 0h1m2 0h1m25 0h2M233 801.5h1m11 0h1m104 0h1m56 0h1m187 0h2m11 0h1m17 0h1m101 0h1m43 0h2m141 0h1M601 820.5h1m26 0h1m3 0h2m22 0h1m36 0h1m30 0h1m22 0h1m40 0h1m32 0h1m125 0h1M306 829.5h2m15 0h1m54 0h1m63 0h1m18 0h1m35 0h1m60 0h2m163 0h1m2 0h2m95 0h1M188 848.5h1m143 0h1m25 0h1m48 0h1m40 0h1m17 0h1m71 0h1m102 0h1m42 0h1m12 0h1m107 0h1m152 0h1M226 867.5h1m87 0h1m89 0h1m74 0h2m41 0h1m53 0h2m79 0h1m176 0h1m99 0h1m9 0h1M182 886.5h1m23 0h1m31 0h1m112 0h1m12 0h1m60 0h1m257 0h1m46 0h2m16 0h1M234 895.5h1m15 0h2m99 0h1m21 0h1m174 0h2m6 0h1m43 0h1m17 0h1m55 0h1m66 0h1m75 0h1m7 0h1m26 0h1m35 0h2M203 914.5h2m24 0h1m42 0h1m54 0h1m95 0h1m45 0h1m63 0h1m200 0h1m6 0h1m45 0h1m10 0h1m76 0h2m54 0h2M219 933.5h1m13 0h1m36 0h1m15 0h1m106 0h1m31 0h1m22 0h1m83 0h1m15 0h2m8 0h2m19 0h1m60 0h1m13 0h1m12 0h1m145 0h1m20 0h1m36 0h1M173 952.5h1m36 0h1m44 0h1m10 0h1m14 0h1m21 0h1m24 0h1m56 0h1m8 0h2m11 0h1m74 0h1m26 0h1m9 0h1m10 0h2m14 0h1m20 0h2m9 0h1m2 0h1m3 0h1m63 0h1m36 0h1m11 0h2m98 0h1m3 0h1m7 0h2m3 0h1m74 0h1m46 0h1M179 961.5h1m104 0h2m23 0h1m12 0h1m73 0h1m47 0h1m37 0h1m9 0h2m79 0h1m38 0h1m53 0h1m9 0h1m25 0h1m10 0h1m4 0h1m22 0h1m51 0h1m10 0h1m102 0h1m55 0h1"/>
<path stroke="#a8ff4e" stroke-width="10" d="M197 75h1m7 0h1m25 0h2m87 0h1m31 0h2m15 0h1m7 0h1m46 0h1m46 0h1m14 0h1m13 0h1m32 0h1m1 0h1m1 0h1m44 0h1m5 0h1m10 0h1m50 0h4m51 0h1m3 0h1m14 0h1m164 0h1m72 0h1M180 94h1m7 0h1m27 0h1m37 0h1m50 0h1m20 0h1m2 0h1m13 0h2m20 0h1m36 0h1m54 0h1m71 0h1m25 0h1m14 0h1m24 0h2m39 0h1m20 0h1m46 0h1m4 0h1m2 0h1m55 0h1m22 0h2m25 0h1m3 0h1m52 0h2m33 0h1M224 122h1m3 0h1m14 0h1m57 0h1m48 0h1m72 0h1m3 0h2m7 0h2m17 0h2m79 0h2m23 0h1m67 0h1m19 0h2m17 0h1m57 0h2m4 0h1m53 0h1m30 0h1m44 0h1m14 0h1m1 0h1m7 0h1m31 0h1m1 0h1m31 0h1m11 0h1M177 141h1m4 0h2m17 0h1m24 0h1m57 0h2m57 0h2m34 0h3m29 0h1m26 0h2m3 0h1m11 0h2m3 0h2m15 0h1m26 0h1m4 0h1m9 0h1m5 0h2m17 0h1m46 0h1m12 0h3m44 0h2m14 0h1m41 0h1m6 0h2m20 0h1m5 0h2m70 0h1m47 0h1m15 0h1m15 0h1m43 0h2m1 0h1m8 0h1M230 160h1m19 0h3m11 0h1m85 0h1m15 0h1m7 0h1m4 0h1m161 0h1m62 0h3m14 0h1m63 0h1m21 0h2m6 0h1m2 0h1m1 0h1m1 0h1m17 0h1m36 0h1m3 0h1m11 0h1m47 0h1m5 0h2m7 0h2m25 0h1m69 0h1m5 0h2M226 179h1m28 0h1m1 0h1m3 0h1m8 0h1m14 0h1m24 0h1m2 0h1m16 0h1m42 0h1m46 0h1m11 0h1m74 0h1m6 0h1m17 0h2m8 0h1m5 0h2m3 0h1m31 0h3m7 0h2m23 0h1m39 0h2m6 0h1m12 0h1m11 0h1m76 0h1m14 0h1m42 0h2m81 0h1M174 207h1m21 0h1m57 0h1m2 0h1m14 0h1m7 0h1m5 0h1m18 0h1m26 0h1m1 0h2m47 0h1m54 0h1m13 0h1m14 0h1m139 0h1m5 0h1m6 0h1m15 0h1m17 0h1m7 0h1m1 0h1m28 0h1m39 0h1m27 0h4m32 0h1m1 0h1m10 0h2m95 0h1m3 0h1m17 0h1M295 226h1m17 0h1m59 0h1m124 0h1m56 0h1m2 0h2m208 0h1m58 0h1m5 0h1m46 0h1m5 0h1m2 0h1m34 0h1M416 245h1M225 273h1m188 0h1m495 0h1M320 311h1m26 0h1m97 0h1m102 0h2M453 358h1M459 377h1m19 0h1m24 0h2m46 0h1m101 0h1m31 0h1m74 0h1m23 0h1m32 0h1m7 0h1m51 0h1m24 0h2m17 0h2m33 0h1M271 405h1m223 0h1m28 0h1m114 0h1m50 0h1m215 0h1m18 0h1M286 424h1m74 0h1m6 0h2m115 0h1m62 0h2m14 0h1m239 0h1M191 443h1m18 0h1m18 0h1m300 0h2m54 0h2m29 0h1m252 0h1m17 0h1M209 462h1m55 0h1m18 0h1m8 0h1m161 0h2m127 0h1m15 0h1m280 0h1m17 0h1m11 0h1m28 0h2m25 0h1M257 490h1m70 0h1m69 0h1m68 0h1m187 0h1m23 0h2m126 0h1m135 0h1m21 0h1M309 509h1m67 0h1m81 0h1m40 0h1m112 0h1m2 0h1m50 0h1m62 0h3m34 0h1m187 0h1M174 528h1m3 0h1m38 0h1m38 0h1m86 0h2m156 0h1m12 0h1m82 0h1m2 0h1m112 0h1m14 0h1m41 0h1m87 0h1m40 0h1m38 0h1M173 556h1m182 0h1m5 0h2m5 0h1m51 0h1m24 0h2m14 0h1m56 0h1m180 0h1m38 0h1m124 0h1m15 0h1m40 0h1m24 0h1M193 575h1m26 0h1m136 0h1m108 0h1m38 0h1m259 0h1m8 0h1m20 0h1m27 0h1M398 594h1m105 0h1m198 0h1m128 0h1m23 0h2m22 0h1M191 622h1m532 0h1M191 641h1m92 0h1m49 0h2m366 0h1m186 0h1M203 660h3m209 0h1m125 0h1m87 0h1m79 0h1m144 0h1m67 0h2m3 0h1M617 688h1m36 0h1m121 0h1m190 0h1M322 707h1m26 0h1m122 0h1m4 0h1m95 0h1m40 0h2m77 0h1m37 0h1m94 0h1m7 0h1m40 0h2M343 726h2m51 0h1m214 0h1m155 0h1m56 0h1m49 0h1M262 745h1m162 0h1m194 0h1m187 0h1M173 773h1m232 0h1m9 0h1m52 0h1m161 0h1m74 0h1m71 0h1m28 0h1M207 792h1m64 0h1m65 0h1m9 0h1m39 0h1m63 0h1m5 0h1m250 0h1m100 0h2m26 0h2m24 0h1m54 0h2M358 811h1m65 0h1m23 0h1m4 0h1m87 0h1m9 0h1m140 0h1m201 0h3m17 0h1m40 0h1M250 839h2m165 0h1m115 0h1m138 0h1m47 0h1m35 0h1m12 0h1m26 0h1m5 0h2m12 0h1m28 0h1m45 0h1m43 0h1m11 0h1M228 858h1m132 0h1m25 0h1m80 0h1m106 0h1m77 0h1m48 0h1m19 0h1m51 0h1m48 0h1m21 0h1m1 0h2m93 0h1M326 877h1m66 0h1m1 0h1m138 0h1m121 0h1m45 0h1m55 0h1m195 0h1M177 905h1m5 0h1m8 0h1m55 0h1m73 0h2m47 0h2m38 0h2m78 0h1m69 0h2m115 0h1m39 0h1m39 0h1m211 0h2M175 924h2m32 0h1m212 0h1m25 0h1m95 0h1m12 0h1m77 0h1m55 0h1m20 0h1m7 0h1m12 0h1m57 0h2m25 0h1m11 0h1m1 0h1m20 0h1m6 0h1m9 0h1m65 0h1M259 943h2m45 0h2m32 0h1m66 0h1m6 0h1m34 0h1m44 0h1m20 0h1m2 0h1m8 0h1m35 0h1m68 0h2m26 0h2m56 0h1m50 0h1m19 0h1m14 0h1m13 0h1m4 0h1m1 0h1m18 0h2m51 0h1m3 0h1m10 0h2m40 0h1"/>
<path stroke="#a8ff4e" stroke-width="11" d="M177 971.5h1m1 0h1m29 0h2m47 0h1m15 0h1m48 0h1m19 0h2m1 0h1m2 0h1m10 0h1m5 0h1m7 0h1m14 0h1m34 0h2m28 0h1m22 0h1m12 0h1m5 0h1m87 0h1m54 0h1m16 0h1m7 0h1m22 0h1m27 0h1m2 0h1m1 0h1m18 0h1m2 0h1m15 0h1m7 0h1m19 0h1m3 0h1m2 0h1m30 0h1m13 0h2m80 0h1"/>
<path stroke="#b5ff42" stroke-width="9" d="M177 65.5h1m48 0h1m12 0h1m19 0h2m38 0h1m3 0h1m4 0h1m29 0h1m12 0h1m9 0h1m20 0h1m35 0h2m6 0h1m19 0h3m18 0h1m5 0h1m39 0h1m53 0h2m7 0h2m20 0h1m36 0h1m5 0h1m9 0h2m12 0h1m7 0h1m12 0h1m18 0h1m8 0h1m74 0h1m15 0h1m4 0h2m9 0h1m25 0h2m10 0h1m24 0h2m22 0h1m3 0h2m2 0h2m9 0h1M235 84.5h1m1 0h1m2 0h2m4 0h1m26 0h1m2 0h1m8 0h1m29 0h2m7 0h3m15 0h1m18 0h1m5 0h2m13 0h1m35 0h2m2 0h1m4 0h2m15 0h1m7 0h1m7 0h1m47 0h1m28 0h1m3 0h1m41 0h2m59 0h1m14 0h1m83 0h1m22 0h1m1 0h1m2 0h1m2 0h1m2 0h1m3 0h1m2 0h1m67 0h2m37 0h2m17 0h1m11 0h2m4 0h1m41 0h2M208 103.5h1m3 0h2m86 0h1m88 0h1m5 0h1m2 0h1m19 0h2m31 0h1m6 0h1m9 0h2m3 0h1m5 0h1m6 0h2m7 0h1m15 0h2m59 0h2m70 0h1m32 0h1m15 0h1m19 0h1m29 0h1m8 0h2m58 0h1m1 0h1m20 0h2m7 0h1m9 0h1m5 0h1m79 0h2M205 112.5h1m28 0h1m42 0h1m14 0h1m66 0h1m39 0h2m45 0h2m41 0h1m7 0h1m11 0h1m19 0h1m18 0h2m58 0h1m2 0h1m9 0h1m1 0h2m10 0h1m30 0h1m33 0h1m38 0h1m39 0h1m7 0h1m10 0h2m21 0h1m48 0h1m7 0h1m9 0h1m8 0h1m27 0h1M181 131.5h1m37 0h1m25 0h1m4 0h2m15 0h1m19 0h2m7 0h2m20 0h1m15 0h2m69 0h1m16 0h1m3 0h1m21 0h1m45 0h1m12 0h1m38 0h1m4 0h1m9 0h1m68 0h1m34 0h1m16 0h2m17 0h1m40 0h1m1 0h3m6 0h1m22 0h1m30 0h1m16 0h1m11 0h1m9 0h1m4 0h1m8 0h1m5 0h2m81 0h1M175 150.5h2m34 0h1m17 0h1m3 0h1m44 0h2m16 0h2m3 0h1m1 0h1m2 0h3m51 0h1m7 0h1m8 0h1m17 0h1m22 0h2m16 0h2m43 0h1m26 0h1m24 0h1m27 0h2m133 0h1m7 0h1m11 0h2m25 0h1m24 0h1m16 0h1m1 0h1m6 0h1m20 0h1m3 0h2m3 0h1m6 0h1m39 0h1m3 0h2m23 0h2m16 0h1m9 0h1m17 0h1m18 0h1M189 169.5h1m7 0h1m3 0h1m66 0h2m10 0h1m3 0h1m35 0h1m56 0h1m98 0h1m24 0h1m2 0h1m25 0h3m8 0h1m21 0h1m16 0h1m7 0h1m94 0h1m1 0h1m8 0h1m24 0h1m3 0h1m42 0h1m18 0h1m14 0h2m2 0h1m3 0h1m1 0h2m28 0h1m24 0h1m12 0h1m23 0h1m24 0h1M226 188.5h1m9 0h1m45 0h1m28 0h2m55 0h1m7 0h1m39 0h1m60 0h1m26 0h1m8 0h1m2 0h1m17 0h1m12 0h1m23 0h1m25 0h1m25 0h2m32 0h1m17 0h1m26 0h1m8 0h1m2 0h1m36 0h1m6 0h1m6 0h1m32 0h1m4 0h1m26 0h1m4 0h1m7 0h1m56 0h1m37 0h1m5 0h1m13 0h1M174 197.5h1m89 0h1m15 0h1m28 0h1m5 0h2m6 0h1m7 0h1m64 0h1m1 0h1m4 0h2m3 0h2m7 0h1m17 0h1m15 0h1m19 0h1m8 0h2m51 0h1m8 0h1m9 0h1m17 0h1m1 0h1m25 0h1m10 0h1m12 0h1m7 0h2m23 0h1m16 0h1m14 0h1m7 0h2m38 0h2m43 0h1m3 0h1m1 0h1m1 0h1m7 0h1m25 0h1m29 0h1m27 0h1m2 0h1m25 0h1m6 0h1m9 0h1m7 0h1m22 0h1m8 0h1M290 216.5h1m3 0h1m137 0h1m59 0h2m39 0h1m78 0h1m40 0h1m196 0h1m27 0h1m29 0h2m40 0h2M182 235.5h1m43 0h1m34 0h1m153 0h1m9 0h1m24 0h1m9 0h1m41 0h2m7 0h2m26 0h2m14 0h1m46 0h1m46 0h1m17 0h1m6 0h1m26 0h1m28 0h1m66 0h1m30 0h2m122 0h1M292 254.5h1m77 0h1m174 0h1M351 263.5h1M579 282.5h1m45 0h1M222 301.5h2m84 0h1m337 0h1M448 320.5h1m200 0h1m14 0h1M608 329.5h1M609 348.5h1M219 367.5h1m18 0h1m36 0h1m138 0h1m7 0h1m96 0h1m71 0h1m3 0h2m4 0h1m219 0h1m9 0h1m36 0h1m32 0h1m7 0h1M199 386.5h1m85 0h1m63 0h1m72 0h1m44 0h1m85 0h1m8 0h1m18 0h1m85 0h1m30 0h2m30 0h1m2 0h1m29 0h2m52 0h1m43 0h1m13 0h2m9 0h1M202 395.5h1m19 0h2m21 0h2m80 0h1m43 0h2m13 0h1m11 0h1m19 0h2m126 0h1m9 0h1m1 0h2m11 0h1m137 0h1m2 0h1m26 0h1m13 0h1m20 0h1m31 0h1m71 0h1m43 0h2M250 414.5h2m93 0h1m36 0h1m69 0h1m224 0h2m22 0h1m106 0h1m108 0h1M394 433.5h1m10 0h1m2 0h2m77 0h1m45 0h1m79 0h1m20 0h1m80 0h1m26 0h1m13 0h1m8 0h1m102 0h1M254 452.5h1m55 0h1m23 0h2m104 0h2m35 0h1m104 0h1m3 0h2m15 0h1m69 0h1m22 0h1m77 0h1m29 0h1m66 0h1m42 0h1m22 0h1M206 471.5h1m22 0h1m64 0h1m70 0h1m28 0h1m28 0h1m20 0h1m12 0h1m3 0h1m147 0h1m2 0h1m29 0h2m28 0h1m133 0h1m80 0h1m6 0h2m26 0h2m3 0h1m11 0h1m4 0h1m13 0h1m3 0h1M295 480.5h1m178 0h2m29 0h1m126 0h2m39 0h1m11 0h1m82 0h1m28 0h1m9 0h1m15 0h1m39 0h1m106 0h2M184 499.5h2m4 0h1m105 0h2m17 0h2m34 0h1m3 0h1m5 0h1m27 0h1m13 0h1m109 0h1m8 0h2m37 0h1m85 0h1m76 0h1m33 0h1m9 0h1m11 0h1m71 0h1m83 0h1M287 518.5h2m32 0h1m14 0h1m9 0h1m56 0h1m11 0h1m50 0h1m33 0h1m69 0h1m103 0h1m6 0h1m13 0h1m54 0h1m28 0h1m5 0h1m91 0h1m6 0h2m51 0h1m6 0h1M173 537.5h1m4 0h1m1 0h2m18 0h1m82 0h1m44 0h1m30 0h1m72 0h2m8 0h1m11 0h1m15 0h1m47 0h1m109 0h1m101 0h1m81 0h1m1 0h2m66 0h1m24 0h1M188 546.5h1m69 0h1m47 0h2m10 0h1m28 0h1m104 0h1m79 0h1m12 0h1m27 0h1m7 0h1m81 0h1m5 0h1m48 0h1m60 0h1m10 0h1m35 0h1m72 0h1m27 0h1M320 565.5h1m54 0h1m123 0h1m8 0h1m135 0h1m20 0h1m37 0h1m36 0h1m120 0h1m29 0h1M186 584.5h1m23 0h1m10 0h1m63 0h1m29 0h3m76 0h3m51 0h1m75 0h1m101 0h1m73 0h1m56 0h1m40 0h1m13 0h1m118 0h2M205 603.5h1m19 0h1m8 0h1m79 0h3m30 0h1m30 0h1m102 0h1m29 0h2m13 0h1m15 0h1m41 0h1m119 0h1m1 0h1m21 0h1m2 0h1m58 0h1m24 0h1m19 0h1m90 0h1m36 0h1M255 612.5h2m137 0h1m171 0h1m32 0h1m82 0h1m112 0h1m66 0h1m35 0h1m9 0h1m17 0h1M256 631.5h1m45 0h1m120 0h1m26 0h1m215 0h1m72 0h1m30 0h1m17 0h1m135 0h1M202 650.5h1m43 0h1m103 0h1m162 0h1m9 0h1m113 0h1m19 0h1m9 0h1m19 0h1m94 0h2m95 0h1M199 669.5h1m20 0h1m3 0h1m17 0h1m51 0h1m27 0h1m75 0h1m128 0h1m215 0h1m18 0h1m53 0h1m24 0h1m107 0h1M463 678.5h1m122 0h2m6 0h1m3 0h1m143 0h1m128 0h1m42 0h1M226 697.5h1m38 0h1m32 0h1m94 0h1m469 0h1m7 0h1M430 716.5h1m29 0h1m58 0h1m383 0h2M287 735.5h2m110 0h2m65 0h1m4 0h1m183 0h1m123 0h1m84 0h1M205 754.5h1m10 0h1m20 0h1m72 0h1m129 0h1m107 0h2m45 0h2m132 0h1m23 0h1m61 0h1m102 0h1m46 0h1M276 763.5h1m4 0h1m37 0h1m27 0h1m13 0h1m223 0h1m26 0h1m14 0h1m95 0h1m111 0h1m53 0h1m48 0h1m3 0h1M190 782.5h1m36 0h1m71 0h1m40 0h1m36 0h1m114 0h2m57 0h1m31 0h1m24 0h1m166 0h1m70 0h1M231 801.5h2m13 0h1m76 0h1m108 0h1m36 0h1m160 0h1m224 0h3m60 0h1m2 0h1m43 0h1m1 0h1M240 820.5h2m47 0h1m69 0h1m15 0h1m39 0h1m38 0h1m9 0h2m88 0h1m39 0h1m17 0h1m28 0h1m21 0h1m33 0h1m61 0h1m123 0h1m65 0h1M218 829.5h1m80 0h1m99 0h2m39 0h1m68 0h1m16 0h2m135 0h1m61 0h1m6 0h1m164 0h1m11 0h1m8 0h1m46 0h1m4 0h2M189 848.5h1m2 0h1m90 0h1m68 0h2m12 0h1m15 0h1m38 0h1m35 0h1m79 0h1m54 0h1m11 0h2m47 0h1m29 0h1m9 0h1m63 0h1m74 0h1m55 0h1m8 0h1M189 867.5h1m205 0h1m55 0h1m45 0h1m39 0h1m23 0h1m1 0h2m54 0h1m8 0h1m105 0h1m92 0h1m78 0h1m40 0h1m9 0h1M180 886.5h1m121 0h1m24 0h1m173 0h1m12 0h1m148 0h2m58 0h1m51 0h1m77 0h1m56 0h1m7 0h1m49 0h2M242 895.5h1m28 0h1m116 0h1m28 0h1m101 0h1m310 0h1M201 914.5h1m12 0h1m70 0h1m127 0h1m115 0h1m45 0h1m24 0h1m45 0h1m28 0h1m7 0h2m48 0h1m75 0h1m18 0h2m32 0h1m1 0h1m5 0h1m64 0h1m31 0h1M191 933.5h1m81 0h1m121 0h1m11 0h1m60 0h1m2 0h1m63 0h1m30 0h1m51 0h1m20 0h1m63 0h1m15 0h1m23 0h1m32 0h1m148 0h1m33 0h2M177 952.5h1m1 0h1m2 0h1m25 0h1m20 0h1m6 0h1m12 0h1m60 0h1m4 0h2m1 0h1m14 0h3m5 0h2m5 0h1m21 0h1m33 0h1m36 0h1m9 0h1m33 0h1m65 0h1m49 0h1m5 0h1m3 0h1m7 0h1m7 0h1m39 0h1m6 0h1m35 0h2m7 0h1m23 0h1m51 0h1m1 0h1m60 0h1m2 0h1m6 0h1m9 0h1m40 0h1m14 0h1M219 961.5h1m16 0h1m18 0h1m63 0h2m15 0h1m3 0h1m15 0h1m13 0h1m53 0h1m24 0h1m2 0h1m26 0h2m7 0h1m21 0h1m7 0h1m17 0h1m11 0h2m1 0h1m18 0h1m82 0h1m2 0h1m11 0h1m17 0h1m27 0h1m39 0h2m29 0h1m39 0h1m62 0h1m22 0h1m17 0h1m7 0h1m2 0h2m3 0h1m3 0h1m20 0h2"/>
<path stroke="#b5ff42" stroke-width="10" d="M203 75h2m17 0h2m100 0h2m15 0h1m61 0h2m34 0h1m18 0h1m13 0h2m16 0h1m11 0h2m41 0h1m38 0h2m27 0h1m108 0h1m39 0h1m6 0h1m7 0h2m44 0h1m13 0h1m34 0h1m8 0h1m25 0h1m9 0h1m2 0h1m22 0h1m3 0h1m5 0h1M182 94h1m42 0h1m4 0h1m41 0h1m17 0h1m21 0h1m4 0h1m18 0h1m5 0h1m30 0h1m30 0h1m3 0h2m2 0h1m54 0h1m20 0h1m18 0h1m2 0h1m3 0h1m8 0h1m1 0h1m6 0h1m6 0h2m38 0h1m51 0h1m19 0h2m5 0h1m3 0h1m25 0h2m1 0h1m55 0h1m24 0h2m8 0h2m62 0h1m16 0h1m13 0h1m6 0h2m12 0h1m23 0h2m12 0h1m8 0h2M182 122h2m47 0h2m29 0h1m97 0h1m5 0h1m1 0h1m1 0h3m15 0h1m25 0h1m20 0h1m47 0h2m9 0h1m2 0h1m30 0h1m4 0h1m7 0h1m9 0h1m11 0h1m17 0h1m13 0h2m4 0h1m10 0h1m51 0h1m50 0h1m14 0h1m9 0h1m19 0h1m27 0h1m7 0h1m63 0h1m14 0h2m38 0h1m2 0h1m1 0h1m1 0h2m20 0h1m1 0h2m14 0h1M191 141h1m27 0h1m28 0h1m1 0h2m28 0h1m31 0h1m14 0h3m15 0h1m8 0h1m18 0h1m47 0h1m4 0h3m6 0h1m14 0h1m11 0h1m26 0h1m60 0h1m24 0h1m12 0h1m12 0h1m51 0h1m33 0h1m46 0h1m25 0h1m11 0h2m5 0h1m1 0h1m51 0h1m27 0h1m22 0h2m34 0h2m8 0h1m25 0h2m10 0h2M179 160h1m8 0h1m26 0h1m176 0h1m38 0h2m11 0h1m8 0h1m4 0h1m52 0h2m16 0h1m15 0h1m10 0h1m23 0h2m19 0h1m7 0h1m28 0h2m7 0h1m5 0h1m27 0h1m11 0h1m6 0h1m8 0h1m19 0h1m21 0h1m9 0h1m1 0h2m13 0h1m55 0h1m1 0h1m3 0h1m30 0h1m1 0h1m19 0h1m40 0h2m6 0h1M196 179h1m15 0h2m6 0h1m13 0h1m10 0h1m3 0h1m9 0h2m1 0h1m11 0h1m12 0h2m7 0h2m144 0h1m17 0h1m26 0h1m13 0h1m42 0h1m12 0h1m4 0h1m50 0h1m68 0h1m24 0h2m37 0h1m37 0h1m19 0h1m25 0h1m4 0h1m7 0h1m11 0h1m17 0h1m59 0h1m6 0h2M207 207h1m3 0h1m13 0h1m29 0h1m12 0h2m8 0h2m3 0h1m22 0h2m37 0h1m6 0h3m12 0h1m14 0h1m4 0h1m5 0h1m9 0h1m10 0h1m7 0h2m66 0h1m10 0h1m13 0h2m6 0h2m23 0h2m48 0h1m12 0h1m51 0h1m19 0h1m48 0h1m4 0h1m60 0h1m4 0h1m12 0h1m25 0h1m27 0h1m4 0h2M271 226h1m98 0h1m55 0h1m15 0h1m26 0h1m10 0h1m76 0h1m23 0h1m37 0h1m35 0h1m25 0h1m12 0h1m66 0h1m19 0h1m13 0h1m21 0h1m31 0h1M523 273h1m71 0h2M446 339h2M318 377h1m82 0h1m108 0h1m6 0h1m1 0h1m230 0h1m47 0h1m62 0h1M186 405h1m9 0h1m17 0h1m83 0h1m1 0h1m173 0h2m5 0h1m41 0h1m65 0h1m46 0h1m13 0h1m5 0h1m11 0h1m138 0h1m91 0h1m7 0h1m40 0h1M182 424h1m52 0h1m62 0h1m74 0h1m59 0h1m47 0h1m5 0h1m134 0h1m8 0h1m55 0h1m46 0h1m190 0h1M222 443h2m158 0h1m31 0h1m2 0h1m105 0h1m41 0h1m87 0h1m10 0h1m36 0h1m48 0h1m7 0h1m86 0h1m64 0h1m51 0h2M205 462h1m48 0h1m9 0h1m12 0h1m39 0h1m177 0h1m85 0h1m63 0h1m113 0h1m10 0h1m60 0h1m57 0h1m28 0h1M196 490h1m6 0h2m107 0h1m52 0h1m92 0h1m152 0h1m14 0h1m37 0h1m110 0h1m40 0h1m37 0h1m48 0h2M364 509h1m9 0h1m97 0h1m16 0h1m88 0h1m10 0h1m78 0h2m28 0h2m9 0h1m14 0h1m8 0h1m14 0h1m26 0h1m90 0h2m39 0h1m46 0h1M175 528h2m31 0h1m10 0h1m42 0h1m7 0h1m18 0h1m2 0h1m12 0h1m191 0h1m19 0h1m15 0h1m54 0h1m22 0h1m6 0h1m1 0h1m74 0h1m39 0h2m16 0h1m189 0h1M237 556h1m25 0h1m40 0h1m7 0h1m15 0h1m7 0h1m11 0h1m19 0h1m53 0h1m161 0h1m32 0h1m17 0h1m131 0h1m137 0h1M247 575h1m4 0h1m214 0h1m64 0h2m4 0h1m2 0h1m20 0h1m11 0h1m100 0h1m33 0h1m174 0h2m15 0h1M188 594h1m20 0h1m36 0h1m38 0h1m28 0h1m8 0h1m45 0h1m31 0h1m1 0h1m9 0h1m109 0h1m1 0h1m2 0h1m4 0h1m78 0h1m14 0h1m87 0h1m171 0h1m70 0h3m6 0h1M259 622h2m78 0h1m8 0h1m21 0h1m17 0h1m156 0h1m307 0h1m76 0h1m25 0h1M245 641h1m21 0h1m13 0h1m89 0h2m16 0h1m111 0h1m35 0h1m53 0h1m20 0h1m16 0h1m64 0h1m185 0h1m7 0h1m1 0h1M178 660h1m135 0h1m13 0h1m70 0h2m24 0h1m276 0h1m49 0h1m77 0h1m13 0h1m105 0h2M524 688h1m105 0h1m35 0h1m17 0h1m104 0h1m143 0h1M187 707h1m50 0h1m98 0h1m154 0h2m141 0h1m4 0h1m36 0h1m4 0h1m21 0h1m81 0h1m10 0h1M180 726h1m92 0h1m71 0h1m94 0h1m48 0h1m38 0h1m5 0h1m23 0h2m57 0h1m57 0h1m9 0h1m110 0h1m26 0h1m122 0h1m9 0h1M198 745h1m2 0h1m26 0h1m179 0h2m162 0h1m36 0h1m45 0h1m291 0h1M277 773h1m13 0h1m55 0h1m191 0h2m183 0h1m181 0h1M174 792h1m140 0h2m49 0h1m121 0h1m25 0h1m40 0h1m145 0h1m102 0h1M283 811h1m12 0h2m95 0h1m49 0h1m64 0h1m2 0h2m57 0h1m60 0h1m38 0h3m112 0h1m177 0h1M203 839h2m9 0h1m6 0h3m22 0h1m25 0h1m45 0h1m18 0h1m67 0h1m19 0h1m8 0h1m87 0h1m7 0h2m28 0h1m39 0h1m89 0h1m12 0h1m20 0h1m27 0h1m46 0h3m11 0h1m3 0h1m36 0h1m69 0h1m4 0h1M285 858h1m33 0h1m23 0h2m13 0h1m47 0h1m150 0h1m7 0h1m8 0h1m65 0h1m34 0h1m14 0h1m30 0h1m83 0h1m47 0h1m34 0h1m36 0h1m29 0h1M262 877h1m20 0h1m87 0h2m14 0h1m42 0h1m17 0h1m4 0h1m69 0h1m11 0h1m21 0h1m22 0h1m26 0h1m115 0h1m75 0h1m3 0h1m69 0h1m7 0h1m35 0h1m50 0h2M186 905h1m152 0h1m91 0h1m8 0h1m1 0h1m12 0h2m33 0h1m1 0h2m33 0h1m41 0h1m12 0h1m12 0h2m2 0h1m59 0h1m2 0h1m42 0h1m9 0h1m35 0h1m14 0h1m31 0h2m7 0h1m24 0h1m41 0h1M184 924h2m59 0h1m82 0h1m11 0h1m11 0h2m128 0h1m16 0h1m6 0h1m104 0h1m48 0h2m10 0h1m108 0h1m51 0h1m22 0h2m14 0h1m5 0h1m36 0h1m2 0h1m25 0h1M229 943h1m18 0h1m7 0h1m9 0h1m5 0h1m11 0h1m2 0h2m6 0h1m22 0h2m21 0h1m35 0h2m32 0h1m50 0h2m46 0h1m2 0h1m6 0h2m45 0h2m19 0h1m5 0h1m6 0h1m8 0h1m55 0h1m3 0h2m1 0h1m13 0h1m3 0h2m29 0h1m40 0h2m5 0h1m23 0h1m68 0h1m58 0h2m25 0h1"/>
<path stroke="#b5ff42" stroke-width="11" d="M178 971.5h1m1 0h1m1 0h1m24 0h1m8 0h1m1 0h1m8 0h1m1 0h1m63 0h1m10 0h1m9 0h1m2 0h1m6 0h4m2 0h1m30 0h1m7 0h1m14 0h1m8 0h1m16 0h1m53 0h2m12 0h1m10 0h1m2 0h2m3 0h1m7 0h1m1 0h1m21 0h1m22 0h1m27 0h1m7 0h1m20 0h1m3 0h1m15 0h1m7 0h2m15 0h2m22 0h1m4 0h2m1 0h1m37 0h1m64 0h1m35 0h2m20 0h2m12 0h1m6 0h1m3 0h1m5 0h1m1 0h1m5 0h3m38 0h1m14 0h1"/>
<path stroke="#c2ff35" stroke-width="9" d="M178 65.5h1m8 0h1m14 0h3m19 0h1m20 0h1m4 0h2m4 0h1m11 0h2m6 0h1m13 0h1m40 0h1m33 0h1m12 0h1m1 0h2m6 0h1m25 0h1m2 0h1m22 0h2m54 0h1m14 0h2m9 0h1m9 0h1m23 0h1m3 0h1m39 0h1m3 0h3m13 0h1m13 0h1m5 0h1m19 0h2m4 0h1m1 0h2m4 0h1m2 0h2m22 0h1m2 0h1m13 0h1m3 0h1m40 0h2m14 0h1m2 0h2m7 0h2m13 0h1m35 0h1m25 0h1m21 0h1m30 0h1m4 0h1m6 0h1m15 0h1m20 0h2M177 84.5h1m5 0h3m11 0h1m9 0h1m47 0h1m18 0h1m8 0h1m24 0h1m1 0h1m6 0h1m28 0h1m12 0h1m27 0h1m15 0h1m30 0h1m10 0h1m20 0h1m4 0h1m2 0h2m16 0h2m12 0h1m20 0h1m57 0h1m30 0h1m9 0h1m28 0h2m1 0h1m36 0h1m1 0h1m7 0h1m17 0h3m2 0h1m11 0h1m26 0h1m11 0h1m14 0h1m19 0h1m8 0h2m2 0h1m16 0h1m11 0h2m1 0h1m3 0h2m3 0h2m10 0h1m13 0h2m2 0h3m7 0h2m11 0h1m4 0h1m29 0h1m1 0h1m6 0h2M186 103.5h1m1 0h1m17 0h1m21 0h1m13 0h1m3 0h1m25 0h1m3 0h1m19 0h2m15 0h1m7 0h1m11 0h3m81 0h1m17 0h3m50 0h1m15 0h1m27 0h1m34 0h2m6 0h4m15 0h1m7 0h1m3 0h1m16 0h2m1 0h1m7 0h1m23 0h1m8 0h1m46 0h2m7 0h1m4 0h1m12 0h1m5 0h1m9 0h1m7 0h1m1 0h1m21 0h1m1 0h2m9 0h1m18 0h1m5 0h1m15 0h1m22 0h2m1 0h1m13 0h1m21 0h1m13 0h1m1 0h3m1 0h1m10 0h1M178 112.5h1m7 0h1m5 0h1m7 0h1m1 0h1m24 0h2m6 0h1m23 0h2m2 0h1m3 0h1m8 0h1m4 0h1m8 0h2m1 0h1m2 0h2m10 0h1m21 0h1m11 0h1m11 0h1m3 0h1m38 0h1m19 0h1m18 0h2m35 0h1m8 0h1m16 0h3m5 0h1m35 0h1m14 0h2m13 0h2m13 0h1m1 0h1m4 0h2m47 0h1m5 0h1m3 0h1m1 0h1m3 0h2m49 0h2m1 0h1m9 0h1m3 0h1m17 0h1m4 0h1m26 0h1m18 0h1m24 0h1m2 0h1m33 0h1m24 0h2m38 0h1m42 0h3M175 131.5h2m3 0h1m6 0h1m12 0h1m7 0h1m1 0h1m11 0h2m16 0h3m32 0h2m5 0h1m21 0h1m4 0h1m9 0h1m9 0h1m34 0h1m10 0h1m21 0h1m36 0h1m11 0h2m19 0h1m28 0h2m24 0h1m31 0h1m21 0h2m1 0h1m3 0h1m9 0h1m7 0h1m2 0h2m38 0h1m8 0h1m27 0h1m3 0h1m5 0h1m33 0h1m12 0h1m22 0h2m27 0h1m12 0h1m5 0h1m27 0h1m7 0h1m33 0h1m3 0h1m13 0h1m2 0h1m7 0h1m16 0h1m28 0h1m3 0h3M179 150.5h1m8 0h1m18 0h1m1 0h1m17 0h1m11 0h1m3 0h1m2 0h1m2 0h1m22 0h1m29 0h1m21 0h2m25 0h1m62 0h1m10 0h1m9 0h1m17 0h1m10 0h2m1 0h1m3 0h1m17 0h1m16 0h1m3 0h1m32 0h1m1 0h1m2 0h2m2 0h2m30 0h1m19 0h2m1 0h1m22 0h1m6 0h1m17 0h1m13 0h1m48 0h1m1 0h1m3 0h1m4 0h1m5 0h2m30 0h1m14 0h2m5 0h2m23 0h1m12 0h1m51 0h1m16 0h1m10 0h2m15 0h1m33 0h1m2 0h1M186 169.5h1m1 0h1m19 0h1m6 0h1m28 0h1m10 0h1m25 0h1m7 0h1m1 0h1m27 0h1m12 0h1m5 0h1m37 0h1m16 0h1m16 0h1m6 0h1m9 0h2m10 0h1m11 0h1m22 0h2m11 0h1m2 0h1m37 0h1m41 0h1m12 0h1m5 0h1m35 0h1m10 0h2m17 0h1m10 0h1m44 0h1m2 0h1m11 0h2m7 0h2m15 0h1m12 0h1m39 0h1m6 0h1m8 0h1m4 0h1m6 0h1m4 0h2m5 0h1m4 0h1m37 0h1m20 0h1m10 0h1m1 0h2m14 0h2m2 0h1M179 188.5h1m62 0h1m32 0h1m1 0h1m17 0h1m19 0h2m10 0h1m62 0h2m5 0h1m25 0h1m14 0h2m9 0h1m12 0h1m24 0h1m10 0h1m39 0h1m3 0h1m14 0h1m8 0h1m11 0h1m6 0h1m3 0h1m24 0h2m21 0h1m13 0h2m3 0h1m1 0h1m17 0h1m17 0h1m20 0h1m14 0h1m18 0h1m36 0h1m27 0h1m16 0h1m26 0h1m30 0h1m6 0h1m6 0h2m6 0h1m38 0h2m3 0h1m7 0h1m2 0h1M181 197.5h1m8 0h1m23 0h1m11 0h1m2 0h1m4 0h1m4 0h1m19 0h2m1 0h1m2 0h1m48 0h1m4 0h2m8 0h2m1 0h1m7 0h1m11 0h2m10 0h1m18 0h1m2 0h2m11 0h2m5 0h1m39 0h3m10 0h2m5 0h1m29 0h1m21 0h1m27 0h2m5 0h1m27 0h1m35 0h1m7 0h1m13 0h1m33 0h1m4 0h1m7 0h1m1 0h2m12 0h1m13 0h2m8 0h2m10 0h2m10 0h1m28 0h1m41 0h1m13 0h1m43 0h1m21 0h1m19 0h1m43 0h1M346 216.5h1m15 0h2m25 0h1m20 0h1m22 0h1m95 0h1m9 0h2m7 0h2m33 0h1m22 0h1m28 0h1m38 0h1m2 0h1m15 0h1m4 0h2m93 0h1m8 0h1m18 0h1m18 0h1m1 0h1m34 0h1m37 0h1M187 235.5h1m1 0h1m64 0h1m38 0h1m9 0h1m14 0h1m35 0h1m212 0h2m32 0h1m17 0h1m30 0h1m100 0h1m34 0h1m6 0h1m10 0h1m41 0h1m44 0h1m2 0h2m26 0h2M349 254.5h1m204 0h1M408 263.5h2m11 0h1m8 0h1m30 0h1M235 282.5h1m337 0h1M429 301.5h1m76 0h1m106 0h1M542 320.5h1m176 0h1M226 329.5h1m157 0h1m35 0h1m124 0h1m2 0h2m5 0h1M295 348.5h1m99 0h1m118 0h1M189 367.5h1m8 0h1m64 0h1m193 0h1m11 0h1m141 0h1m76 0h2m23 0h1m95 0h1m35 0h1m33 0h1m60 0h2M173 386.5h1m1 0h2m54 0h2m24 0h1m25 0h1m12 0h2m23 0h1m148 0h1m11 0h1m2 0h1m51 0h1m203 0h1m65 0h1m14 0h1m85 0h1M301 395.5h1m10 0h1m39 0h2m16 0h1m96 0h1m31 0h1m82 0h1m26 0h1m53 0h1m4 0h1m13 0h1m27 0h1m76 0h1m3 0h2m58 0h1m53 0h1m8 0h1M181 414.5h2m28 0h1m4 0h1m31 0h1m32 0h1m30 0h1m94 0h1m78 0h1m18 0h1m5 0h2m9 0h1m122 0h1m17 0h1m57 0h1m59 0h1m14 0h1m80 0h1m65 0h1m2 0h1m18 0h1M201 433.5h1m36 0h1m39 0h2m1 0h1m4 0h1m41 0h1m47 0h1m83 0h1m56 0h1m43 0h1m5 0h2m144 0h1m52 0h1m15 0h2m15 0h1m71 0h1M173 452.5h1m32 0h1m9 0h1m32 0h1m92 0h1m47 0h2m9 0h1m24 0h1m5 0h1m27 0h1m81 0h1m18 0h1m61 0h2m21 0h1m77 0h1m36 0h1m5 0h1m4 0h2m21 0h1m34 0h1m5 0h1m23 0h2m16 0h1M247 471.5h1m19 0h3m62 0h1m44 0h1m43 0h1m10 0h1m8 0h1m18 0h1m19 0h1m76 0h1m69 0h1m139 0h1m163 0h2M231 480.5h2m87 0h1m6 0h1m104 0h1m40 0h1m15 0h1m21 0h2m5 0h1m27 0h1m28 0h1m30 0h1m10 0h1m58 0h1m9 0h1m36 0h1m15 0h1m37 0h1m21 0h1m36 0h1m12 0h1m8 0h1m20 0h1m36 0h1m3 0h1m37 0h1m4 0h1M191 499.5h1m10 0h1m12 0h1m14 0h1m27 0h1m16 0h1m17 0h1m194 0h1m7 0h1m42 0h2m95 0h1m11 0h1m17 0h1m64 0h1m12 0h2m113 0h1m8 0h1m3 0h1m10 0h1m58 0h1m1 0h1m3 0h1M238 518.5h1m43 0h1m21 0h1m3 0h1m4 0h1m3 0h1m64 0h1m3 0h1m47 0h1m28 0h1m4 0h1m14 0h2m1 0h1m17 0h1m2 0h1m61 0h1m38 0h1m25 0h1m127 0h1m5 0h1m45 0h1m12 0h1m31 0h1m8 0h1m3 0h1m45 0h1m1 0h1m46 0h1M208 537.5h1m6 0h1m49 0h2m91 0h1m1 0h1m94 0h2m49 0h1m31 0h1m3 0h1m36 0h1m31 0h1m33 0h1m96 0h1m15 0h2m29 0h1m27 0h1m88 0h1M191 546.5h1m51 0h1m50 0h1m18 0h1m32 0h1m42 0h1m12 0h1m17 0h1m113 0h1m7 0h2m25 0h1m60 0h1m31 0h1m114 0h1m4 0h2m22 0h1m57 0h1m63 0h1m5 0h1m17 0h1M191 565.5h1m18 0h1m45 0h1m53 0h1m127 0h1m40 0h1m44 0h2m90 0h1m20 0h1m25 0h1m27 0h1m31 0h1m126 0h1m30 0h1m6 0h1m20 0h1m2 0h2m23 0h1m12 0h2M188 584.5h1m25 0h1m182 0h1m71 0h1m84 0h1m126 0h1m42 0h1m7 0h1m28 0h1m32 0h1m60 0h1m8 0h1m10 0h2m33 0h1m27 0h1M242 603.5h1m105 0h1m39 0h1m18 0h1m117 0h1m24 0h1m74 0h1m29 0h1m54 0h1m60 0h1m30 0h1m71 0h1m40 0h1m46 0h1M189 612.5h1m54 0h1m31 0h1m22 0h1m32 0h1m22 0h1m96 0h1m28 0h1m12 0h1m51 0h1m94 0h1m6 0h1m27 0h1m76 0h3m5 0h1m163 0h1M358 631.5h1m53 0h1m2 0h1m28 0h2m30 0h1m68 0h1m4 0h1m126 0h1m73 0h1m56 0h1m15 0h1m65 0h1m19 0h1m59 0h2M175 650.5h2m42 0h1m7 0h1m7 0h1m39 0h1m23 0h1m49 0h1m150 0h1m23 0h1m59 0h1m15 0h1m55 0h1m26 0h1m83 0h1m9 0h1m1 0h1m33 0h1m64 0h1M302 669.5h1m29 0h1m60 0h1m218 0h1m37 0h1m15 0h1m63 0h1m11 0h1m43 0h1m72 0h1M182 678.5h1m17 0h1m44 0h1m9 0h1m66 0h1m97 0h1m127 0h2m47 0h1m136 0h1m35 0h1m4 0h2m39 0h1m1 0h1m6 0h1m93 0h1m32 0h1M190 697.5h1m127 0h1m60 0h1m54 0h1m81 0h1m148 0h1m114 0h1m41 0h1m19 0h1m95 0h1m6 0h1M192 716.5h1m5 0h1m1 0h1m80 0h1m143 0h1m7 0h1m239 0h1m17 0h1m102 0h1m58 0h1m12 0h2m94 0h1M211 735.5h1m6 0h1m205 0h1m85 0h1m17 0h1m117 0h1m11 0h1m36 0h1m4 0h1m17 0h1m139 0h1m53 0h2m8 0h2M189 754.5h1m102 0h1m15 0h1m186 0h1m69 0h1m22 0h1m3 0h1m48 0h1m33 0h1m63 0h1m77 0h1m60 0h1m15 0h2m67 0h2M189 763.5h1m95 0h1m16 0h1m104 0h1m105 0h1m240 0h2m143 0h1m37 0h1m23 0h1M208 782.5h1m3 0h2m75 0h1m130 0h1m98 0h1m32 0h3m42 0h1m46 0h1m29 0h1m73 0h1m9 0h1m116 0h2m3 0h1m35 0h1m41 0h1M294 801.5h1m1 0h2m145 0h1m22 0h1m23 0h1m69 0h1m124 0h1m12 0h2m5 0h1m60 0h2m31 0h1m26 0h1m14 0h1m20 0h1m39 0h1m27 0h1m35 0h1M212 820.5h2m40 0h1m106 0h1m16 0h1m20 0h2m49 0h1m46 0h1m50 0h2m7 0h1m9 0h2m5 0h1m39 0h2m95 0h1m28 0h1m67 0h1m17 0h1m101 0h1m9 0h1m13 0h1m2 0h1M205 829.5h1m16 0h2m85 0h1m42 0h2m2 0h2m86 0h1m22 0h1m28 0h1m26 0h1m43 0h2m77 0h1m35 0h1m2 0h1m6 0h1m35 0h1m90 0h2m48 0h1m19 0h1m4 0h2m16 0h2m34 0h1m10 0h2m6 0h1M228 848.5h1m62 0h1m12 0h1m96 0h1m8 0h1m32 0h1m2 0h2m13 0h1m28 0h1m32 0h1m47 0h1m9 0h2m20 0h1m44 0h1m5 0h1m41 0h1m43 0h1m8 0h1m69 0h2m66 0h1m12 0h1m36 0h1m4 0h1M394 867.5h1m40 0h1m178 0h2m58 0h1m16 0h1m4 0h1m5 0h1m2 0h1m13 0h1m78 0h1m115 0h1m3 0h1M276 886.5h1m26 0h1m24 0h1m53 0h2m15 0h2m5 0h1m15 0h1m16 0h1m62 0h3m6 0h3m5 0h1m37 0h1m16 0h1m22 0h1m11 0h1m12 0h1m44 0h1m48 0h2m1 0h1m4 0h1m16 0h1m5 0h1m5 0h1M224 895.5h1m67 0h1m21 0h3m58 0h1m75 0h1m29 0h1m23 0h1m18 0h1m131 0h1m6 0h1m11 0h1m1 0h1m22 0h1m90 0h2m12 0h1m153 0h2m6 0h1M173 914.5h2m4 0h1m9 0h1m10 0h1m14 0h1m54 0h1m6 0h1m18 0h2m44 0h1m21 0h1m106 0h1m15 0h1m48 0h1m21 0h2m2 0h1m82 0h1m10 0h1m13 0h2m42 0h1m71 0h1m30 0h1m13 0h1m14 0h1m6 0h1m27 0h1m4 0h1m55 0h1M215 933.5h1m40 0h1m38 0h1m36 0h1m40 0h1m1 0h1m65 0h1m9 0h1m1 0h1m16 0h1m34 0h1m45 0h1m37 0h1m16 0h1m10 0h1m10 0h1m7 0h1m77 0h1m19 0h1m64 0h1m6 0h1m14 0h1m6 0h2m1 0h1m31 0h1m10 0h1m13 0h1m8 0h1m28 0h1m4 0h2m5 0h1m16 0h1m6 0h1M175 952.5h2m7 0h2m3 0h1m13 0h2m12 0h2m1 0h1m6 0h1m11 0h1m56 0h2m31 0h1m21 0h3m25 0h1m25 0h1m67 0h1m9 0h2m14 0h1m13 0h1m9 0h1m14 0h1m3 0h1m9 0h1m16 0h1m2 0h1m1 0h1m5 0h1m31 0h1m31 0h1m3 0h1m46 0h1m8 0h1m13 0h1m38 0h1m4 0h1m6 0h1m1 0h1m2 0h1m2 0h1m13 0h2m3 0h1m6 0h1m31 0h1m8 0h1m1 0h1m12 0h1m11 0h1m9 0h2m32 0h1m11 0h1m5 0h1m2 0h1M183 961.5h1m27 0h1m15 0h1m15 0h1m12 0h1m5 0h1m27 0h1m103 0h1m13 0h2m3 0h1m25 0h1m32 0h1m10 0h2m6 0h1m15 0h1m1 0h1m1 0h2m13 0h1m19 0h1m13 0h1m17 0h1m10 0h1m3 0h1m1 0h2m7 0h2m3 0h1m3 0h3m23 0h1m19 0h1m2 0h1m12 0h1m16 0h1m44 0h1m49 0h1m8 0h1m29 0h1m4 0h2m8 0h1m35 0h1m38 0h1m2 0h1m13 0h1"/>
<path stroke="#c2ff35" stroke-width="10" d="M173 75h1m43 0h1m6 0h1m13 0h1m62 0h1m9 0h1m6 0h1m24 0h2m25 0h1m12 0h1m23 0h1m40 0h2m10 0h1m59 0h2m22 0h1m6 0h1m8 0h1m12 0h1m9 0h1m35 0h1m15 0h1m2 0h1m25 0h1m7 0h2m49 0h1m18 0h1m33 0h1m27 0h1m2 0h1m27 0h2m1 0h2m20 0h1m41 0h1m11 0h2m26 0h1m1 0h1m13 0h1M192 94h1m64 0h1m45 0h1m14 0h2m7 0h1m3 0h1m2 0h2m9 0h1m6 0h3m41 0h1m10 0h1m47 0h2m7 0h2m11 0h1m28 0h1m2 0h1m8 0h1m11 0h2m3 0h1m21 0h1m25 0h1m24 0h2m25 0h1m17 0h1m2 0h1m11 0h2m2 0h2m5 0h2m13 0h1m5 0h1m21 0h1m15 0h1m22 0h1m9 0h1m2 0h2m10 0h1m34 0h1m16 0h2m3 0h1m3 0h2m41 0h2m5 0h1m22 0h1m7 0h1m23 0h3m8 0h1M192 122h1m6 0h1m26 0h1m9 0h1m5 0h1m3 0h1m8 0h1m7 0h1m27 0h1m6 0h1m31 0h1m34 0h1m19 0h1m10 0h1m4 0h1m2 0h1m19 0h1m9 0h1m38 0h1m2 0h1m11 0h1m9 0h1m10 0h1m63 0h2m51 0h2m2 0h1m50 0h2m35 0h1m2 0h1m20 0h2m2 0h1m4 0h2m8 0h1m6 0h2m33 0h1m26 0h2m20 0h1m5 0h1m11 0h2m6 0h1m13 0h1m19 0h3M174 141h3m3 0h2m4 0h1m6 0h3m2 0h1m21 0h1m13 0h1m1 0h1m10 0h1m14 0h1m27 0h1m48 0h1m34 0h2m34 0h1m22 0h1m15 0h1m8 0h1m17 0h1m9 0h1m18 0h1m18 0h1m13 0h1m14 0h1m8 0h1m10 0h1m2 0h2m21 0h1m28 0h1m12 0h1m14 0h1m2 0h1m19 0h2m21 0h1m3 0h1m11 0h1m16 0h2m12 0h1m8 0h1m21 0h1m38 0h2m6 0h1m2 0h3m1 0h2m8 0h1m8 0h1m2 0h2m33 0h1m9 0h1m1 0h2m3 0h1m27 0h1m9 0h1m1 0h1m10 0h2m3 0h3M190 160h1m12 0h2m14 0h1m2 0h3m3 0h1m8 0h1m5 0h2m13 0h1m12 0h1m2 0h1m18 0h1m11 0h1m13 0h1m12 0h1m7 0h1m29 0h1m7 0h1m3 0h2m27 0h1m1 0h1m4 0h3m3 0h2m13 0h2m5 0h2m11 0h1m10 0h1m28 0h1m24 0h1m10 0h1m2 0h1m15 0h1m12 0h2m25 0h1m39 0h1m15 0h1m11 0h1m39 0h1m11 0h1m8 0h1m2 0h2m79 0h2m24 0h1m11 0h1m4 0h1m3 0h1m6 0h1m10 0h1m1 0h1m34 0h1m9 0h1m41 0h1M233 179h1m2 0h1m3 0h2m6 0h1m5 0h1m16 0h2m28 0h1m12 0h1m7 0h2m9 0h1m18 0h2m20 0h1m2 0h1m7 0h1m1 0h1m5 0h1m1 0h1m5 0h1m14 0h1m1 0h2m5 0h1m4 0h2m9 0h1m28 0h1m9 0h1m41 0h1m3 0h1m12 0h2m20 0h1m11 0h1m30 0h2m10 0h2m14 0h2m13 0h1m10 0h1m28 0h1m9 0h1m35 0h1m15 0h1m16 0h1m1 0h1m26 0h1m9 0h1m3 0h3m21 0h1m60 0h2m19 0h2m30 0h1m19 0h1M191 207h1m9 0h1m42 0h1m2 0h1m39 0h3m9 0h1m9 0h1m2 0h1m16 0h2m7 0h1m2 0h1m4 0h1m10 0h1m17 0h1m12 0h2m2 0h1m8 0h1m18 0h1m24 0h1m8 0h1m7 0h1m8 0h1m1 0h1m17 0h1m49 0h2m29 0h1m39 0h1m8 0h2m17 0h1m18 0h1m17 0h1m8 0h1m29 0h2m1 0h1m23 0h3m7 0h1m32 0h1m8 0h1m9 0h1m3 0h1m5 0h1m15 0h1m12 0h1m6 0h1m22 0h1m55 0h1m12 0h1m8 0h1M231 226h2m57 0h1m5 0h2m38 0h1m86 0h1m5 0h1m140 0h1m20 0h1m73 0h1m27 0h1m36 0h1m1 0h1m73 0h1m21 0h2m99 0h1m10 0h2M364 245h1m31 0h1m44 0h1m156 0h1M238 273h1M508 292h1m91 0h1M362 311h2m80 0h1m6 0h1m18 0h1m9 0h1m13 0h1m25 0h2m3 0h1m13 0h2m59 0h1m76 0h1M272 339h1M406 358h1m67 0h2M324 377h2m15 0h1m10 0h2m119 0h1m12 0h1m56 0h1m120 0h1m22 0h1m26 0h1m13 0h1m39 0h1m69 0h2m68 0h1M228 405h1m41 0h1m111 0h1m10 0h1m68 0h1m36 0h1m92 0h1m69 0h1m19 0h1m2 0h1m65 0h1m113 0h1m17 0h1M227 424h1m37 0h1m104 0h1m47 0h2m62 0h1m105 0h1m24 0h1m118 0h1m8 0h1m39 0h1m14 0h1m5 0h1m33 0h1m10 0h3m14 0h1M242 443h1m49 0h1m27 0h1m35 0h1m9 0h1m68 0h1m12 0h1m39 0h1m104 0h1m22 0h1m3 0h1m11 0h2m39 0h1m12 0h1m24 0h1m37 0h1m6 0h1m188 0h2M261 462h1m41 0h1m38 0h1m119 0h1m48 0h2m16 0h3m20 0h1m48 0h1m53 0h1m39 0h1m47 0h3m33 0h1m35 0h1m61 0h1m4 0h1m3 0h1m4 0h1m67 0h2m3 0h1M200 490h1m30 0h2m13 0h1m27 0h1m91 0h1m79 0h2m40 0h1m27 0h1m1 0h1m17 0h2m89 0h1m82 0h1m87 0h1m60 0h1m41 0h1m28 0h1m2 0h1M174 509h1m30 0h1m50 0h1m1 0h3m67 0h1m98 0h2m3 0h1m36 0h1m3 0h1m73 0h1m24 0h1m44 0h1m4 0h1m77 0h2m11 0h1m11 0h1m55 0h1m4 0h1m6 0h1m131 0h1M192 528h1m29 0h2m18 0h1m106 0h1m60 0h2m84 0h1m10 0h1m87 0h2m35 0h2m4 0h1m35 0h1m21 0h1m7 0h1m15 0h2m44 0h1m19 0h1m107 0h2m21 0h1M212 556h2m24 0h1m37 0h1m116 0h1m23 0h1m21 0h1m5 0h1m3 0h1m89 0h2m19 0h1m45 0h1m22 0h1m47 0h1m36 0h1m23 0h1m47 0h1m11 0h1m23 0h1m51 0h1m59 0h1m15 0h2m2 0h1M198 575h1m13 0h3m29 0h1m17 0h1m42 0h1m36 0h1m23 0h1m41 0h2m53 0h1m34 0h1m2 0h1m28 0h2m2 0h1m43 0h1m68 0h1m14 0h1m9 0h1m64 0h1m28 0h1M350 594h1m35 0h1m109 0h1m269 0h1m19 0h1m106 0h3m32 0h1m32 0h1m8 0h2M184 622h2m1 0h1m27 0h1m38 0h1m144 0h3m12 0h1m241 0h1m31 0h2m101 0h2m5 0h1m15 0h1m46 0h1m54 0h1m5 0h2m24 0h1M175 641h2m6 0h1m4 0h1m86 0h1m22 0h1m22 0h1m54 0h1m80 0h1m46 0h1m208 0h1m4 0h1m13 0h3m143 0h1m69 0h1M201 660h1m25 0h1m72 0h1m221 0h1m119 0h2m2 0h1m39 0h1m90 0h1m148 0h1m34 0h1m1 0h1M177 688h1m22 0h1m61 0h1m31 0h1m22 0h1m69 0h1m15 0h1m65 0h1m4 0h2m31 0h1m22 0h2m24 0h1m5 0h2m111 0h1m10 0h1m3 0h1m61 0h2m111 0h1m18 0h2m31 0h1m45 0h1M196 707h1m33 0h1m14 0h1m111 0h1m66 0h1m119 0h1m31 0h2m34 0h1m168 0h1m162 0h1M200 726h1m5 0h1m47 0h1m75 0h1m16 0h1m8 0h1m22 0h1m51 0h1m58 0h1m28 0h1m12 0h1m50 0h1m39 0h2m15 0h1m88 0h1m5 0h2m26 0h2m56 0h1M261 745h1m29 0h1m14 0h2m14 0h1m32 0h1m12 0h1m114 0h2m122 0h1m93 0h1m10 0h1m38 0h1m73 0h1m35 0h1m53 0h1M197 773h1m3 0h1m152 0h1m62 0h1m174 0h1m168 0h1m23 0h1m49 0h1m58 0h2M186 792h1m6 0h1m43 0h1m38 0h1m40 0h1m112 0h1m18 0h1m30 0h1m79 0h1m22 0h1m33 0h1m8 0h1m57 0h1m21 0h1m6 0h1m34 0h1m133 0h1m9 0h1m59 0h1M197 811h1m3 0h1m38 0h2m72 0h1m3 0h2m9 0h1m47 0h1m145 0h2m57 0h1m8 0h1m122 0h1m46 0h1m65 0h1m58 0h1m37 0h1M184 839h2m105 0h1m27 0h1m1 0h1m60 0h1m6 0h1m42 0h1m41 0h2m177 0h1m4 0h1m87 0h1m163 0h1m3 0h1m19 0h1m9 0h1M286 858h1m52 0h1m27 0h1m14 0h1m53 0h2m66 0h1m23 0h1m31 0h1m15 0h2m24 0h1m26 0h1m11 0h1m7 0h1m15 0h1m8 0h1m49 0h1m24 0h1m62 0h2m5 0h2m17 0h2m9 0h1m8 0h1m111 0h2M184 877h2m72 0h3m82 0h2m65 0h1m7 0h2m1 0h1m24 0h2m16 0h2m6 0h1m49 0h1m41 0h1m113 0h1m16 0h1m45 0h3m10 0h2m3 0h1m1 0h1m26 0h1m108 0h1m14 0h2m1 0h1M210 905h1m1 0h2m24 0h1m57 0h2m56 0h1m50 0h1m38 0h1m5 0h1m2 0h1m70 0h1m16 0h1m14 0h1m15 0h1m39 0h1m6 0h1m26 0h1m60 0h2m3 0h2m43 0h1m65 0h2m62 0h1m36 0h1m3 0h1m34 0h1M196 924h1m62 0h2m137 0h1m16 0h1m54 0h1m9 0h1m9 0h1m1 0h2m31 0h1m46 0h1m9 0h1m55 0h1m39 0h1m31 0h1m31 0h1m7 0h1m16 0h1m36 0h2m22 0h2m31 0h1m60 0h2m11 0h1m9 0h1M183 943h1m2 0h1m5 0h1m38 0h2m20 0h1m44 0h1m16 0h2m3 0h1m8 0h1m6 0h1m19 0h1m4 0h1m5 0h1m17 0h1m22 0h2m11 0h1m4 0h1m13 0h1m7 0h1m8 0h1m3 0h1m26 0h1m9 0h1m10 0h1m16 0h1m30 0h1m6 0h1m11 0h2m31 0h1m9 0h2m6 0h1m16 0h1m50 0h1m34 0h1m34 0h1m15 0h1m3 0h3m39 0h1m49 0h1m22 0h1m2 0h2m28 0h1m14 0h1"/>
<path stroke="#c2ff35" stroke-width="11" d="M183 971.5h1m3 0h1m1 0h1m16 0h1m12 0h2m7 0h1m2 0h2m14 0h1m2 0h2m4 0h1m9 0h1m17 0h1m47 0h1m5 0h1m3 0h1m30 0h1m9 0h1m3 0h1m17 0h1m12 0h4m1 0h1m16 0h1m7 0h1m38 0h1m26 0h1m8 0h2m5 0h2m9 0h1m19 0h1m7 0h1m8 0h1m28 0h2m1 0h1m7 0h3m47 0h1m10 0h2m4 0h1m44 0h3m48 0h1m59 0h2m16 0h2m55 0h1m2 0h1m19 0h1m4 0h1"/>
<path stroke="#cfff28" stroke-width="9" d="M179 65.5h1m39 0h1m2 0h2m7 0h2m3 0h1m16 0h1m18 0h1m12 0h1m16 0h1m3 0h2m2 0h1m19 0h1m1 0h1m6 0h1m3 0h2m13 0h1m14 0h1m22 0h1m4 0h1m13 0h1m4 0h1m4 0h1m23 0h1m24 0h2m4 0h1m5 0h1m20 0h1m12 0h2m11 0h1m12 0h1m3 0h2m1 0h2m6 0h1m4 0h1m2 0h1m5 0h1m2 0h1m18 0h1m3 0h1m8 0h1m12 0h3m1 0h2m3 0h2m8 0h2m4 0h2m13 0h1m11 0h1m11 0h1m10 0h2m2 0h1m8 0h1m9 0h1m13 0h2m6 0h1m13 0h1m19 0h1m10 0h1m5 0h1m13 0h2m27 0h1m7 0h1m4 0h1m20 0h1m8 0h1m5 0h2m17 0h3m17 0h1m8 0h1m21 0h1m6 0h2M186 84.5h1m33 0h1m1 0h2m2 0h1m16 0h1m28 0h1m5 0h2m7 0h3m3 0h3m5 0h1m20 0h1m11 0h2m5 0h1m3 0h1m5 0h1m14 0h1m10 0h1m7 0h1m11 0h2m5 0h1m8 0h2m9 0h1m7 0h2m17 0h1m5 0h1m11 0h1m8 0h2m8 0h2m1 0h1m19 0h2m3 0h1m2 0h1m14 0h1m8 0h1m23 0h2m4 0h1m6 0h1m9 0h1m13 0h3m10 0h1m2 0h1m39 0h2m6 0h1m16 0h1m2 0h2m3 0h1m25 0h1m6 0h2m25 0h1m3 0h1m5 0h2m15 0h1m10 0h2m12 0h1m4 0h2m14 0h1m11 0h2m14 0h1m20 0h2m19 0h1m6 0h2m2 0h1m9 0h2m15 0h1M174 103.5h1m2 0h1m22 0h1m13 0h1m2 0h2m28 0h1m53 0h1m6 0h1m2 0h1m15 0h1m15 0h2m29 0h1m5 0h3m18 0h1m3 0h1m1 0h1m12 0h1m4 0h1m3 0h1m4 0h1m8 0h1m18 0h1m9 0h1m3 0h1m8 0h1m23 0h1m3 0h1m21 0h1m10 0h1m10 0h1m3 0h1m17 0h2m12 0h1m38 0h2m1 0h1m1 0h1m13 0h2m4 0h1m5 0h1m2 0h1m11 0h1m8 0h1m23 0h1m49 0h1m32 0h1m5 0h2m1 0h1m2 0h1m8 0h1m6 0h1m15 0h2m6 0h1m27 0h1m2 0h1m20 0h1m3 0h3m1 0h1m41 0h1m3 0h1m3 0h1M191 112.5h1m6 0h1m2 0h1m10 0h2m2 0h1m1 0h2m2 0h2m34 0h1m5 0h1m5 0h1m23 0h1m19 0h3m3 0h1m11 0h1m4 0h1m30 0h1m16 0h2m7 0h1m20 0h1m22 0h1m9 0h1m3 0h1m13 0h1m18 0h1m2 0h1m15 0h2m27 0h1m1 0h1m8 0h2m6 0h1m19 0h1m27 0h1m17 0h1m6 0h1m1 0h1m1 0h2m5 0h1m18 0h1m1 0h1m5 0h1m43 0h2m11 0h1m9 0h1m7 0h1m8 0h1m11 0h1m7 0h1m2 0h1m5 0h1m5 0h2m16 0h2m5 0h1m4 0h1m13 0h1m29 0h2m6 0h1m36 0h1m10 0h2m4 0h1m3 0h2m4 0h1m2 0h2m3 0h1m15 0h1m11 0h1M179 131.5h1m18 0h1m6 0h1m18 0h1m24 0h1m6 0h1m15 0h1m22 0h1m18 0h3m20 0h1m29 0h1m15 0h1m2 0h1m17 0h1m7 0h1m12 0h1m14 0h3m18 0h1m14 0h1m57 0h1m55 0h1m31 0h1m12 0h1m9 0h1m9 0h1m19 0h1m52 0h1m10 0h1m34 0h1m25 0h3m29 0h1m20 0h1m9 0h1m8 0h1m5 0h1m1 0h1m13 0h2m5 0h2m4 0h1m2 0h1m4 0h1m39 0h2m10 0h1M173 150.5h1m7 0h1m12 0h2m5 0h1m1 0h2m3 0h1m3 0h3m9 0h1m1 0h1m3 0h1m17 0h1m42 0h1m1 0h1m6 0h1m11 0h1m2 0h2m11 0h1m10 0h1m2 0h1m2 0h1m13 0h1m10 0h1m21 0h1m3 0h2m9 0h1m18 0h1m23 0h1m8 0h1m6 0h1m23 0h1m10 0h1m5 0h1m47 0h1m4 0h1m30 0h1m3 0h3m5 0h1m6 0h1m5 0h1m6 0h2m3 0h2m2 0h3m3 0h1m7 0h1m6 0h1m19 0h1m11 0h1m15 0h1m7 0h2m8 0h1m32 0h1m1 0h2m22 0h1m23 0h1m1 0h2m10 0h1m5 0h2m1 0h1m6 0h1m1 0h1m3 0h3m14 0h1m5 0h1m11 0h1m14 0h1m9 0h1m3 0h1m6 0h1m6 0h2m12 0h1m2 0h1m5 0h1m7 0h1m6 0h1m7 0h1M192 169.5h1m27 0h1m5 0h1m2 0h1m34 0h1m13 0h2m12 0h2m1 0h1m44 0h1m24 0h1m7 0h3m13 0h1m35 0h1m6 0h1m11 0h1m18 0h1m24 0h1m3 0h2m6 0h1m15 0h1m2 0h1m19 0h2m2 0h1m46 0h1m37 0h1m16 0h1m13 0h1m37 0h1m14 0h2m20 0h1m5 0h1m16 0h1m56 0h1m7 0h1m1 0h1m12 0h1m5 0h1m17 0h2m8 0h1m8 0h1m10 0h1m11 0h2m12 0h1m3 0h1m34 0h1m7 0h1M175 188.5h3m11 0h1m2 0h1m12 0h2m3 0h1m1 0h2m10 0h1m2 0h1m24 0h2m11 0h1m6 0h1m5 0h2m4 0h1m1 0h3m25 0h1m8 0h1m26 0h1m13 0h1m10 0h1m28 0h1m2 0h1m13 0h2m11 0h2m15 0h2m33 0h1m22 0h1m8 0h1m14 0h1m1 0h1m17 0h1m21 0h1m3 0h1m8 0h1m1 0h1m2 0h1m8 0h1m8 0h1m8 0h1m24 0h2m3 0h1m4 0h1m9 0h1m8 0h1m8 0h2m16 0h1m4 0h1m33 0h1m5 0h1m7 0h2m10 0h1m24 0h2m16 0h3m16 0h2m10 0h1m1 0h1m12 0h1m15 0h1m14 0h1m22 0h1m11 0h1m4 0h1m1 0h1m1 0h1m12 0h1m3 0h1M182 197.5h1m5 0h1m12 0h1m5 0h1m2 0h1m11 0h3m28 0h1m7 0h1m1 0h1m7 0h1m32 0h1m12 0h1m15 0h1m24 0h1m6 0h1m2 0h1m28 0h1m3 0h1m12 0h1m18 0h2m18 0h1m1 0h3m10 0h1m8 0h1m9 0h1m12 0h1m6 0h1m21 0h1m2 0h1m6 0h2m7 0h2m1 0h1m4 0h1m4 0h1m11 0h1m14 0h1m23 0h1m1 0h3m9 0h1m10 0h1m2 0h1m12 0h2m28 0h2m43 0h1m3 0h1m16 0h1m11 0h2m4 0h1m29 0h1m1 0h1m14 0h1m29 0h1m24 0h1m17 0h1m5 0h1m8 0h1m14 0h1m1 0h1m18 0h1m7 0h1M178 216.5h1m5 0h2m30 0h2m4 0h2m24 0h1m21 0h1m6 0h1m5 0h1m72 0h1m8 0h1m8 0h1m1 0h1m3 0h2m24 0h1m79 0h1m80 0h2m22 0h1m10 0h2m22 0h1m13 0h1m5 0h1m37 0h1m66 0h1m81 0h1m7 0h1m48 0h1m8 0h1M188 235.5h1m28 0h2m8 0h1m64 0h1m22 0h3m2 0h1m5 0h1m25 0h2m22 0h2m38 0h1m96 0h1m38 0h1m28 0h1m7 0h1m74 0h1m29 0h1m7 0h1m29 0h1m29 0h1m26 0h1m53 0h1m1 0h1m24 0h2m86 0h1M394 254.5h1m32 0h2m1 0h1m33 0h2M280 263.5h1m210 0h1m150 0h2M491 282.5h1m125 0h1M180 301.5h1m2 0h1m173 0h1m205 0h1m89 0h1M467 320.5h1M287 329.5h3m21 0h1m220 0h1M243 348.5h1m8 0h1m215 0h1m32 0h1M186 367.5h1m118 0h1m12 0h1m24 0h2m56 0h1m57 0h1m82 0h1m1 0h1m52 0h1m41 0h1m16 0h1m74 0h1m185 0h2m5 0h1m24 0h1M215 386.5h1m54 0h1m22 0h1m16 0h1m2 0h1m51 0h1m60 0h1m3 0h1m35 0h1m7 0h2m67 0h1m111 0h1m41 0h1m41 0h1m51 0h2m28 0h1m1 0h1m1 0h1m36 0h1m93 0h1m4 0h2m2 0h1M173 395.5h1m24 0h1m43 0h1m30 0h1m44 0h1m40 0h1m51 0h2m45 0h1m20 0h1m15 0h1m4 0h1m29 0h2m42 0h1m94 0h1m15 0h1m1 0h1m25 0h1m5 0h1m26 0h1m50 0h1m19 0h1m19 0h1m18 0h2m31 0h1M295 414.5h1m4 0h1m29 0h1m17 0h1m2 0h1m80 0h2m20 0h1m59 0h1m110 0h1m127 0h1m51 0h1m46 0h1m11 0h1m74 0h1m16 0h1M197 433.5h1m5 0h2m1 0h1m8 0h1m12 0h1m119 0h1m37 0h1m31 0h2m14 0h1m5 0h1m5 0h2m6 0h1m4 0h1m67 0h1m19 0h1m79 0h1m18 0h1m177 0h1m10 0h1m8 0h1m4 0h1m51 0h1m9 0h3m2 0h2M220 452.5h1m12 0h1m2 0h1m27 0h1m11 0h1m7 0h1m16 0h1m10 0h1m11 0h2m20 0h1m1 0h1m15 0h2m17 0h1m23 0h1m116 0h1m87 0h1m24 0h1m13 0h2m21 0h1m90 0h1m3 0h1m11 0h1m49 0h1m37 0h1m3 0h2m19 0h2m3 0h1m10 0h2m17 0h1M179 471.5h1m2 0h1m25 0h1m117 0h1m2 0h1m34 0h1m20 0h1m49 0h1m96 0h1m2 0h1m37 0h1m63 0h1m39 0h1m19 0h1m41 0h1m22 0h1m12 0h1m6 0h2m69 0h1m9 0h1m20 0h3m24 0h1m2 0h1m35 0h2m7 0h2M214 480.5h1m12 0h1m50 0h2m12 0h1m47 0h1m7 0h1m2 0h1m25 0h1m10 0h2m43 0h1m5 0h1m6 0h2m21 0h1m6 0h1m13 0h1m22 0h1m9 0h1m8 0h1m79 0h1m9 0h1m17 0h1m7 0h1m4 0h1m72 0h2m18 0h1m4 0h1m28 0h1m19 0h2m76 0h1m43 0h2m2 0h1m1 0h1m25 0h1m4 0h2M193 499.5h1m24 0h1m5 0h1m2 0h1m85 0h1m18 0h1m12 0h1m44 0h2m15 0h1m26 0h1m54 0h1m24 0h1m19 0h1m23 0h2m33 0h1m9 0h1m47 0h2m4 0h1m7 0h1m11 0h1m63 0h1m46 0h1m20 0h3m51 0h1m2 0h2m2 0h1m18 0h1m34 0h1m37 0h2M196 518.5h1m3 0h1m17 0h1m2 0h1m21 0h1m6 0h2m78 0h1m24 0h1m33 0h1m7 0h1m35 0h1m7 0h1m32 0h2m12 0h1m13 0h2m1 0h1m4 0h1m6 0h1m57 0h1m33 0h1m13 0h2m20 0h1m17 0h1m14 0h3m33 0h1m13 0h1m43 0h3m40 0h1m2 0h1m36 0h3m21 0h1m9 0h2m1 0h1m17 0h1m8 0h1M192 537.5h1m168 0h1m17 0h1m12 0h1m31 0h1m23 0h1m41 0h1m28 0h1m16 0h1m73 0h1m43 0h1m17 0h1m45 0h1m7 0h2m39 0h1m19 0h1m2 0h1m17 0h1m14 0h1m57 0h1m5 0h1m8 0h1m2 0h1m35 0h1m31 0h1M186 546.5h1m30 0h1m36 0h1m30 0h1m9 0h1m15 0h1m14 0h1m12 0h1m10 0h1m1 0h2m40 0h1m6 0h1m95 0h1m26 0h1m4 0h1m5 0h1m15 0h1m15 0h2m49 0h1m15 0h1m14 0h1m31 0h1m28 0h1m65 0h1m8 0h1m3 0h1m34 0h1m24 0h1m16 0h2m87 0h1M192 565.5h1m64 0h1m25 0h1m6 0h1m12 0h1m51 0h1m12 0h1m29 0h1m25 0h1m2 0h2m22 0h1m54 0h1m29 0h1m77 0h2m1 0h1m2 0h1m6 0h1m6 0h1m31 0h1m8 0h1m28 0h1m16 0h1m19 0h1m2 0h2m20 0h1m35 0h1m11 0h1m9 0h1m41 0h2m14 0h1m63 0h2m8 0h1m13 0h2M181 584.5h1m2 0h2m1 0h1m4 0h1m162 0h1m12 0h1m29 0h1m26 0h1m17 0h1m13 0h2m9 0h1m36 0h1m66 0h1m28 0h3m23 0h1m4 0h2m39 0h1m20 0h1m3 0h2m16 0h2m5 0h1m1 0h1m25 0h1m6 0h1m12 0h1m42 0h1m6 0h1M329 603.5h1m27 0h1m17 0h1m49 0h1m12 0h1m71 0h1m83 0h1m99 0h1m29 0h1m41 0h1m5 0h2m10 0h3m32 0h2m9 0h1m29 0h1m8 0h1m20 0h1M178 612.5h1m23 0h3m89 0h1m39 0h2m1 0h1m13 0h1m58 0h1m20 0h1m36 0h2m39 0h1m6 0h1m9 0h1m31 0h2m70 0h1m7 0h1m1 0h1m63 0h1m42 0h1m29 0h2m9 0h1m8 0h1m44 0h1m74 0h1m35 0h1m10 0h1M194 631.5h2m5 0h1m31 0h1m5 0h1m35 0h1m23 0h1m9 0h2m35 0h1m38 0h1m85 0h1m2 0h2m3 0h1m22 0h2m14 0h1m11 0h2m1 0h1m14 0h2m1 0h1m47 0h1m18 0h1m12 0h1m28 0h2m10 0h1m23 0h1m8 0h1m27 0h1m25 0h1m105 0h1m7 0h1m73 0h1m1 0h1m2 0h1M217 650.5h2m48 0h1m22 0h1m75 0h1m20 0h1m58 0h2m11 0h1m29 0h1m39 0h1m48 0h1m89 0h1m5 0h1m66 0h1m20 0h1m44 0h1m69 0h1M174 669.5h1m166 0h1m52 0h1m16 0h1m61 0h1m72 0h1m46 0h1m20 0h3m79 0h1m22 0h1m50 0h1m9 0h1m108 0h1m8 0h1m12 0h1m44 0h1M198 678.5h1m8 0h1m70 0h2m10 0h1m160 0h1m9 0h1m21 0h2m62 0h1m17 0h1m47 0h1m25 0h1m18 0h1m18 0h1m38 0h2m19 0h2m152 0h1m25 0h1M187 697.5h1m68 0h1m4 0h1m37 0h1m3 0h1m79 0h1m24 0h2m10 0h1m56 0h1m8 0h1m51 0h1m17 0h1m17 0h1m4 0h1m18 0h1m135 0h1m21 0h1m74 0h1m32 0h1m4 0h1m2 0h1m41 0h1m11 0h1m12 0h1m23 0h1M220 716.5h1m14 0h1m11 0h1m4 0h1m43 0h2m38 0h1m51 0h1m23 0h1m53 0h1m18 0h1m9 0h1m52 0h2m44 0h1m42 0h1m43 0h1m81 0h2m2 0h1m2 0h1m4 0h1m10 0h2m5 0h1m18 0h1m107 0h1m38 0h2M178 735.5h1m12 0h1m79 0h1m43 0h2m25 0h1m35 0h1m23 0h1m20 0h1m11 0h1m51 0h1m32 0h2m16 0h1m33 0h1m2 0h1m36 0h1m1 0h2m7 0h2m107 0h1m51 0h1m8 0h1m19 0h2m22 0h3m34 0h1m71 0h1M295 754.5h1m41 0h1m13 0h1m64 0h1m12 0h1m23 0h1m3 0h1m38 0h1m3 0h1m53 0h1m9 0h1m16 0h1m31 0h1m16 0h1m162 0h1m25 0h2m34 0h1m40 0h1m37 0h1m12 0h1m8 0h1M236 763.5h1m90 0h1m17 0h1m98 0h1m66 0h2m11 0h1m10 0h1m33 0h1m29 0h1m85 0h1m84 0h1m47 0h1m22 0h1m65 0h1M191 782.5h1m63 0h1m45 0h2m109 0h1m10 0h1m53 0h1m36 0h1m61 0h2m31 0h1m35 0h1m29 0h1m83 0h1m67 0h1m2 0h1m53 0h2m53 0h1M228 801.5h1m29 0h1m8 0h1m17 0h1m22 0h1m31 0h1m47 0h1m31 0h1m18 0h1m4 0h1m50 0h1m5 0h3m3 0h1m1 0h1m4 0h1m9 0h1m13 0h1m3 0h1m31 0h1m28 0h1m2 0h1m12 0h1m5 0h1m3 0h1m10 0h1m16 0h1m16 0h1m8 0h1m22 0h1m19 0h2m34 0h1m35 0h1m104 0h2m22 0h1m31 0h2m3 0h1m3 0h2M179 820.5h1m29 0h1m5 0h1m26 0h1m12 0h1m104 0h1m45 0h4m22 0h2m32 0h1m16 0h2m44 0h1m22 0h1m32 0h1m14 0h1m8 0h1m11 0h1m54 0h1m27 0h1m41 0h1m37 0h1m4 0h1m56 0h1m40 0h1m43 0h2m30 0h1M229 829.5h1m15 0h1m31 0h1m32 0h1m19 0h1m5 0h1m65 0h1m33 0h2m8 0h2m15 0h1m60 0h1m38 0h1m49 0h1m16 0h1m16 0h1m10 0h1m8 0h1m56 0h1m15 0h1m2 0h1m44 0h1m1 0h1m8 0h1m65 0h1m13 0h1m11 0h1m4 0h1m41 0h1m22 0h1M191 848.5h1m4 0h1m14 0h1m27 0h3m26 0h3m3 0h1m47 0h1m15 0h1m23 0h3m103 0h1m20 0h1m2 0h2m22 0h1m7 0h1m10 0h2m2 0h2m15 0h1m23 0h1m12 0h1m8 0h1m17 0h1m16 0h1m20 0h1m11 0h2m4 0h2m31 0h1m10 0h1m8 0h1m104 0h1m16 0h1m39 0h1m11 0h2m58 0h1M218 867.5h1m11 0h1m72 0h1m8 0h2m1 0h2m2 0h1m93 0h1m16 0h1m32 0h1m10 0h3m22 0h1m7 0h1m1 0h1m1 0h2m3 0h1m15 0h1m29 0h1m35 0h1m13 0h1m25 0h1m11 0h1m12 0h1m31 0h1m39 0h2m15 0h1m36 0h1m17 0h1m1 0h1m76 0h1m18 0h1m23 0h1m15 0h1m16 0h1M181 886.5h1m1 0h1m13 0h1m18 0h1m9 0h1m138 0h1m26 0h1m31 0h1m15 0h1m18 0h1m29 0h1m8 0h1m11 0h1m9 0h2m19 0h1m18 0h1m6 0h2m9 0h1m16 0h2m62 0h1m51 0h1m3 0h1m38 0h2m5 0h1m62 0h1m10 0h2m82 0h1m44 0h1M198 895.5h1m110 0h1m57 0h1m30 0h1m6 0h1m51 0h1m14 0h1m12 0h1m49 0h1m33 0h1m31 0h1m2 0h2m11 0h1m36 0h1m14 0h1m21 0h1m76 0h1m10 0h1m34 0h1m4 0h2m10 0h1m45 0h1m25 0h2m24 0h1m8 0h1m27 0h1m3 0h2M190 914.5h1m72 0h1m37 0h1m32 0h2m5 0h1m19 0h1m3 0h1m24 0h2m13 0h1m20 0h1m5 0h1m11 0h1m15 0h1m27 0h1m6 0h1m3 0h1m7 0h1m31 0h2m16 0h1m13 0h1m38 0h1m6 0h1m7 0h2m11 0h1m61 0h1m20 0h1m17 0h1m30 0h1m35 0h1m28 0h1m55 0h2m3 0h1m5 0h1m15 0h1m2 0h4m15 0h2m4 0h1M178 933.5h1m10 0h1m15 0h1m31 0h1m19 0h1m3 0h1m2 0h1m2 0h1m19 0h2m34 0h1m7 0h1m4 0h1m4 0h2m33 0h1m10 0h1m26 0h1m3 0h2m6 0h1m22 0h1m2 0h1m16 0h1m7 0h1m40 0h1m11 0h2m14 0h1m15 0h1m23 0h2m35 0h2m2 0h1m45 0h1m19 0h1m13 0h2m9 0h1m13 0h1m14 0h1m20 0h1m21 0h1m127 0h1m2 0h1m2 0h1m8 0h1m30 0h1M180 952.5h1m11 0h1m18 0h1m3 0h1m10 0h1m1 0h1m1 0h3m26 0h2m9 0h1m29 0h1m7 0h1m2 0h1m31 0h2m14 0h1m7 0h1m28 0h1m4 0h1m19 0h2m13 0h2m10 0h1m10 0h1m7 0h2m22 0h1m3 0h2m3 0h1m9 0h1m11 0h1m1 0h1m2 0h1m11 0h2m24 0h2m8 0h1m8 0h1m1 0h2m25 0h1m41 0h1m1 0h1m4 0h1m24 0h3m22 0h2m18 0h1m4 0h1m20 0h1m2 0h1m1 0h2m29 0h1m26 0h1m11 0h2m6 0h1m38 0h1m5 0h1m2 0h1m24 0h1m3 0h1m5 0h1m1 0h1m11 0h1M181 961.5h2m5 0h1m9 0h1m13 0h2m24 0h1m3 0h1m34 0h1m28 0h2m13 0h1m32 0h1m4 0h1m1 0h1m21 0h1m9 0h1m7 0h1m10 0h1m10 0h1m1 0h1m10 0h3m27 0h1m3 0h1m19 0h1m8 0h1m8 0h1m4 0h1m6 0h2m3 0h1m3 0h1m35 0h1m6 0h1m26 0h2m5 0h1m13 0h1m7 0h1m34 0h1m3 0h1m37 0h1m17 0h1m14 0h1m12 0h2m16 0h1m29 0h1m44 0h1m19 0h1m19 0h2m3 0h1m8 0h1m7 0h1m35 0h1m23 0h4"/>
<path stroke="#cfff28" stroke-width="10" d="M175 75h2m41 0h1m1 0h1m4 0h1m24 0h2m3 0h1m14 0h1m5 0h1m4 0h1m14 0h2m2 0h1m3 0h1m32 0h1m7 0h1m12 0h2m2 0h3m15 0h3m9 0h1m9 0h1m8 0h1m28 0h1m2 0h1m7 0h1m33 0h1m1 0h2m57 0h1m24 0h1m3 0h1m10 0h2m6 0h1m17 0h1m9 0h1m8 0h1m4 0h1m26 0h1m27 0h2m5 0h2m20 0h1m16 0h1m3 0h1m11 0h1m25 0h1m34 0h1m7 0h1m9 0h1m7 0h2m4 0h1m33 0h1m9 0h1m27 0h1m2 0h1m12 0h1m14 0h1M174 94h1m2 0h1m1 0h1m19 0h1m1 0h1m19 0h3m21 0h1m7 0h1m23 0h1m4 0h2m1 0h1m20 0h2m1 0h2m17 0h1m3 0h2m26 0h1m14 0h1m1 0h1m11 0h1m11 0h1m27 0h1m11 0h1m3 0h1m5 0h1m14 0h1m66 0h1m10 0h1m27 0h1m17 0h1m15 0h1m5 0h1m3 0h1m13 0h1m1 0h2m20 0h1m15 0h2m20 0h1m12 0h1m29 0h2m3 0h1m2 0h1m8 0h1m9 0h1m21 0h1m11 0h1m3 0h2m6 0h1m3 0h1m10 0h1m6 0h1m2 0h1m8 0h1m2 0h1m35 0h1m10 0h2m2 0h1m2 0h1m21 0h1m26 0h1m1 0h2m15 0h1M184 122h2m2 0h1m2 0h1m6 0h1m13 0h2m8 0h2m3 0h1m1 0h1m7 0h1m32 0h2m22 0h1m5 0h1m4 0h1m8 0h1m7 0h1m3 0h1m5 0h1m24 0h1m6 0h1m21 0h1m12 0h2m12 0h1m2 0h1m12 0h1m2 0h1m10 0h1m16 0h1m8 0h1m17 0h1m8 0h1m11 0h1m16 0h1m16 0h2m18 0h1m19 0h1m6 0h1m4 0h1m4 0h1m7 0h2m7 0h1m4 0h2m12 0h1m11 0h1m8 0h1m10 0h1m7 0h1m2 0h1m4 0h1m1 0h2m3 0h1m2 0h1m8 0h1m13 0h2m1 0h1m11 0h1m2 0h1m9 0h2m3 0h1m4 0h2m3 0h1m22 0h2m14 0h1m3 0h1m16 0h2m40 0h1m1 0h1m5 0h1m16 0h1m1 0h1m12 0h1m4 0h1m4 0h1m22 0h2m1 0h2m6 0h1m2 0h1m5 0h1M189 141h1m10 0h1m20 0h1m21 0h1m37 0h1m7 0h1m1 0h2m26 0h1m10 0h1m6 0h1m2 0h1m6 0h1m22 0h1m14 0h1m22 0h2m47 0h1m8 0h1m4 0h2m9 0h1m9 0h2m13 0h1m8 0h1m35 0h1m3 0h1m4 0h1m30 0h1m5 0h1m4 0h1m5 0h2m1 0h1m1 0h2m2 0h3m6 0h1m3 0h1m17 0h1m15 0h1m6 0h1m3 0h1m14 0h2m10 0h2m5 0h1m26 0h1m21 0h1m1 0h1m6 0h1m15 0h2m18 0h3m3 0h2m40 0h1m20 0h1m7 0h1m11 0h1m11 0h1m4 0h1m3 0h2m26 0h1m1 0h2m12 0h1M183 160h1m8 0h1m4 0h1m4 0h1m3 0h1m10 0h1m13 0h2m6 0h1m8 0h1m13 0h1m20 0h1m6 0h1m21 0h1m1 0h1m3 0h1m23 0h4m1 0h1m1 0h1m19 0h1m26 0h1m7 0h1m3 0h2m20 0h1m3 0h1m13 0h1m13 0h1m13 0h1m2 0h1m8 0h1m2 0h1m26 0h1m1 0h2m1 0h1m13 0h1m4 0h1m7 0h1m4 0h1m15 0h1m14 0h2m14 0h1m24 0h1m45 0h2m16 0h1m3 0h1m2 0h2m1 0h1m8 0h1m32 0h3m30 0h1m12 0h1m12 0h1m11 0h1m20 0h1m1 0h1m11 0h1m1 0h1m7 0h1m10 0h1m16 0h1m6 0h2m9 0h1m22 0h1m15 0h1m10 0h1m7 0h1M173 179h1m3 0h1m19 0h1m8 0h1m20 0h2m47 0h1m16 0h1m12 0h2m1 0h1m37 0h1m18 0h2m20 0h1m7 0h1m25 0h1m27 0h1m39 0h1m1 0h2m15 0h1m10 0h2m24 0h1m19 0h3m6 0h1m7 0h1m10 0h1m11 0h1m12 0h1m1 0h1m28 0h1m2 0h1m2 0h1m5 0h1m13 0h1m14 0h2m10 0h1m2 0h1m35 0h4m17 0h2m14 0h1m7 0h1m8 0h1m21 0h3m16 0h1m3 0h1m16 0h1m3 0h1m23 0h1m23 0h1m6 0h1m2 0h2m6 0h1m19 0h1m7 0h1m4 0h1m4 0h1m1 0h2M175 207h2m6 0h1m9 0h1m3 0h1m10 0h1m1 0h1m6 0h1m15 0h2m8 0h1m5 0h1m6 0h1m2 0h2m24 0h1m14 0h1m9 0h1m17 0h1m13 0h3m28 0h1m12 0h1m9 0h1m1 0h1m5 0h2m15 0h1m2 0h1m9 0h1m4 0h1m6 0h2m3 0h1m12 0h2m8 0h2m6 0h1m14 0h1m6 0h1m30 0h1m27 0h1m1 0h2m14 0h1m53 0h1m19 0h1m26 0h1m1 0h1m9 0h1m11 0h1m6 0h1m1 0h1m54 0h1m6 0h1m7 0h1m7 0h1m10 0h1m48 0h1m25 0h1m20 0h1m33 0h1m13 0h1M248 226h1m96 0h1m19 0h1m21 0h1m15 0h1m7 0h1m15 0h2m7 0h2m10 0h1m21 0h1m39 0h1m12 0h1m11 0h2m19 0h1m26 0h1m45 0h1m23 0h1m12 0h1m15 0h1m24 0h2m106 0h1m14 0h1m41 0h1m39 0h2m35 0h1m7 0h1M341 245h1m23 0h1m18 0h1m129 0h1m43 0h2M262 273h1m232 0h1m67 0h1M211 292h1m92 0h1m41 0h1m132 0h1M487 311h1m31 0h1M291 339h1m258 0h1m122 0h1M529 358h1M187 377h1m36 0h1m13 0h1m57 0h2m32 0h1m38 0h1m4 0h1m30 0h1m27 0h1m1 0h1m24 0h1m21 0h1m50 0h2m26 0h1m27 0h1m22 0h1m52 0h1m86 0h1m9 0h1m49 0h1m15 0h2m38 0h1M253 405h1m33 0h2m77 0h1m16 0h1m28 0h1m2 0h1m8 0h1m32 0h1m22 0h1m41 0h1m12 0h1m68 0h2m13 0h1m22 0h2m23 0h1m28 0h1m4 0h1m79 0h1m16 0h1m1 0h2m73 0h2m21 0h1m22 0h1m35 0h1M175 424h2m6 0h1m71 0h1m5 0h1m53 0h2m3 0h1m6 0h1m23 0h1m40 0h1m86 0h1m61 0h1m23 0h1m15 0h1m11 0h1m36 0h1m166 0h1m34 0h1m23 0h2m16 0h3m73 0h2m3 0h1M179 443h1m58 0h1m8 0h1m97 0h1m13 0h1m27 0h2m43 0h1m7 0h1m17 0h1m39 0h1m34 0h1m7 0h1m14 0h1m1 0h2m4 0h1m29 0h1m39 0h1m28 0h1m18 0h1m9 0h1m22 0h1m60 0h2m3 0h1m12 0h1m51 0h1m6 0h1m32 0h1m22 0h1m5 0h1m2 0h1m11 0h1m12 0h1M180 462h1m30 0h1m33 0h1m37 0h1m18 0h1m24 0h1m62 0h2m10 0h1m23 0h1m7 0h1m22 0h2m4 0h1m26 0h2m53 0h1m14 0h2m23 0h1m2 0h1m10 0h1m8 0h1m67 0h1m58 0h2m3 0h1m82 0h1m36 0h1m19 0h1m7 0h1m14 0h2m20 0h1m13 0h1m5 0h1m3 0h1m15 0h1M220 490h1m23 0h1m8 0h1m13 0h1m12 0h1m29 0h1m10 0h1m60 0h1m79 0h1m9 0h1m4 0h1m27 0h1m17 0h1m3 0h1m6 0h1m41 0h2m78 0h1m54 0h1m23 0h2m39 0h1m114 0h1m37 0h1m7 0h1m15 0h1M184 509h2m60 0h1m36 0h2m23 0h1m6 0h3m1 0h1m4 0h2m49 0h2m9 0h1m47 0h1m26 0h1m1 0h1m44 0h1m101 0h1m82 0h1m84 0h1m61 0h1m17 0h1m5 0h1m29 0h3m3 0h1m23 0h1m8 0h1m10 0h1m12 0h1M189 528h1m28 0h1m2 0h1m74 0h2m60 0h1m7 0h1m105 0h1m43 0h1m8 0h1m25 0h1m11 0h1m2 0h1m52 0h1m6 0h1m1 0h1m10 0h1m17 0h1m61 0h1m38 0h1m17 0h1m25 0h1m4 0h1m6 0h1m35 0h1m27 0h2m11 0h1m13 0h1m16 0h2M229 556h1m18 0h1m43 0h1m56 0h1m20 0h1m2 0h1m106 0h2m54 0h1m15 0h1m51 0h2m35 0h1m158 0h2m7 0h1m8 0h1m7 0h1m9 0h2m2 0h1m27 0h1m49 0h1m16 0h1m19 0h1M179 575h1m59 0h1m55 0h1m10 0h2m12 0h1m31 0h2m32 0h1m46 0h1m12 0h3m8 0h1m14 0h1m4 0h1m5 0h2m24 0h1m9 0h1m19 0h2m59 0h1m2 0h1m24 0h1m36 0h1m22 0h2m51 0h1m5 0h1m6 0h2m35 0h2m68 0h1m106 0h2M206 594h1m173 0h2m2 0h1m25 0h1m5 0h1m29 0h2m3 0h1m10 0h1m20 0h2m49 0h1m16 0h1m28 0h1m28 0h1m35 0h1m22 0h1m3 0h1m1 0h1m49 0h1m56 0h1m6 0h1m20 0h1m7 0h1m59 0h1m5 0h1m30 0h1m11 0h1m15 0h1M242 622h1m91 0h2m19 0h1m15 0h2m29 0h2m6 0h1m21 0h1m39 0h1m25 0h1m10 0h1m81 0h2m4 0h1m19 0h1m28 0h1m19 0h1m14 0h1m15 0h1m96 0h1m85 0h1M177 641h1m42 0h1m115 0h2m77 0h1m14 0h1m27 0h1m40 0h1m2 0h2m28 0h1m38 0h1m1 0h1m14 0h1m1 0h1m10 0h1m35 0h1m57 0h1m33 0h1m170 0h1m28 0h1m1 0h2m14 0h1M179 660h1m82 0h1m21 0h1m20 0h1m143 0h1m27 0h1m11 0h1m24 0h1m21 0h1m60 0h1m33 0h1m4 0h1m8 0h1m1 0h1m16 0h1m14 0h2m32 0h1m5 0h2m3 0h1m5 0h1m28 0h1m54 0h1m92 0h1m8 0h1m22 0h1M237 688h1m49 0h2m1 0h1m59 0h1m45 0h1m37 0h1m4 0h1m33 0h1m14 0h1m25 0h1m23 0h1m41 0h1m110 0h1m2 0h1m27 0h1m38 0h1m41 0h2m54 0h1m33 0h1m43 0h1M370 707h1m5 0h1m57 0h1m54 0h1m1 0h1m24 0h2m5 0h1m69 0h1m57 0h2m63 0h2m19 0h1m127 0h1m55 0h1m6 0h1M187 726h1m43 0h2m19 0h1m70 0h4m68 0h1m109 0h1m1 0h2m42 0h1m13 0h1m38 0h2m78 0h1m29 0h1m61 0h1m23 0h2m5 0h1m27 0h1m45 0h1m58 0h2M183 745h1m86 0h1m77 0h1m53 0h1m20 0h1m28 0h1m6 0h1m55 0h1m23 0h2m80 0h1m3 0h1m28 0h1m10 0h1m13 0h2m30 0h1m60 0h2m17 0h2m58 0h1m56 0h1m25 0h1m23 0h1M226 773h1m51 0h2m39 0h1m35 0h1m144 0h1m122 0h2m11 0h1m142 0h1m25 0h1m13 0h2M215 792h1m14 0h1m35 0h1m63 0h1m1 0h1m21 0h1m32 0h1m45 0h1m37 0h1m24 0h1m1 0h1m24 0h2m37 0h1m23 0h2m48 0h1m14 0h2m7 0h2m16 0h1m25 0h1m33 0h2m1 0h2m11 0h2m9 0h1m52 0h1m6 0h1m2 0h2m1 0h1m39 0h1m21 0h1m24 0h1m7 0h3m5 0h1M220 811h1m134 0h1m1 0h1m7 0h1m16 0h1m32 0h1m5 0h1m7 0h1m2 0h1m40 0h1m46 0h2m30 0h1m59 0h1m42 0h1m50 0h1m12 0h1m4 0h1m90 0h1m12 0h2m22 0h1m7 0h1m2 0h2m35 0h1m21 0h2M191 839h2m94 0h2m23 0h1m7 0h1m7 0h1m4 0h1m14 0h1m16 0h1m18 0h1m25 0h1m15 0h1m17 0h1m65 0h1m18 0h1m16 0h1m24 0h1m6 0h1m10 0h1m12 0h1m17 0h1m104 0h1m13 0h1m14 0h2m7 0h2m5 0h1m15 0h1m47 0h1m36 0h1m45 0h1m10 0h1m25 0h1M253 858h1m18 0h1m5 0h2m34 0h1m7 0h1m73 0h1m18 0h1m57 0h1m71 0h1m9 0h1m2 0h2m7 0h2m15 0h1m10 0h2m15 0h1m10 0h2m5 0h1m33 0h1m5 0h2m20 0h1m10 0h1m9 0h1m6 0h1m29 0h1m6 0h1m13 0h1m7 0h2m21 0h1m7 0h2m44 0h2m36 0h2m35 0h2m17 0h2m7 0h2m3 0h1M192 877h1m52 0h2m61 0h1m18 0h1m14 0h1m19 0h2m5 0h1m24 0h1m67 0h1m10 0h1m11 0h1m11 0h1m73 0h1m36 0h1m4 0h1m37 0h2m6 0h1m4 0h1m23 0h2m88 0h1m108 0h1m28 0h1m45 0h1M202 905h1m51 0h1m19 0h1m2 0h1m91 0h1m3 0h1m58 0h1m21 0h1m7 0h1m36 0h1m28 0h1m71 0h1m7 0h1m4 0h1m7 0h1m75 0h1m30 0h1m1 0h1m9 0h1m2 0h1m19 0h3m25 0h2m73 0h3m28 0h1m22 0h1M173 924h1m60 0h1m144 0h1m7 0h1m8 0h1m28 0h1m15 0h1m7 0h1m19 0h1m47 0h1m19 0h1m57 0h2m2 0h1m2 0h1m4 0h1m15 0h2m9 0h1m2 0h1m1 0h1m56 0h1m41 0h1m27 0h1m8 0h1m41 0h1m19 0h1m30 0h1m2 0h1m25 0h1m56 0h1M179 943h1m13 0h3m25 0h1m4 0h1m1 0h1m1 0h1m16 0h1m16 0h2m4 0h1m11 0h1m2 0h1m3 0h1m2 0h1m3 0h2m5 0h1m6 0h1m17 0h1m1 0h1m6 0h1m1 0h1m12 0h2m1 0h1m4 0h1m13 0h1m4 0h3m7 0h1m5 0h1m3 0h2m1 0h1m9 0h1m4 0h1m12 0h1m12 0h1m35 0h1m17 0h1m6 0h1m11 0h1m2 0h1m12 0h1m58 0h1m12 0h3m4 0h1m6 0h1m12 0h1m3 0h1m21 0h1m7 0h1m1 0h1m15 0h1m18 0h1m4 0h2m1 0h2m3 0h3m22 0h1m36 0h1m27 0h1m10 0h1m5 0h1m5 0h3m3 0h1m5 0h1m9 0h1m5 0h2m21 0h1m18 0h1m19 0h1m18 0h1m18 0h1m5 0h1m3 0h1m3 0h2"/>
<path stroke="#cfff28" stroke-width="11" d="M193 971.5h1m21 0h1m1 0h1m19 0h1m15 0h1m23 0h1m11 0h1m15 0h1m28 0h2m14 0h1m17 0h1m7 0h1m17 0h1m2 0h1m10 0h2m3 0h1m30 0h1m4 0h1m8 0h1m11 0h1m3 0h3m5 0h1m18 0h1m8 0h1m5 0h1m2 0h1m30 0h1m23 0h1m8 0h1m69 0h1m9 0h1m2 0h1m6 0h1m1 0h1m25 0h1m12 0h1m8 0h1m17 0h1m1 0h1m9 0h1m26 0h1m10 0h2m1 0h2m2 0h1m18 0h1m1 0h2m24 0h1m3 0h1m6 0h2m25 0h1m8 0h1m7 0h1m5 0h1m8 0h1m10 0h1m27 0h1m4 0h2m4 0h1"/>
<path stroke="#dcff1b" stroke-width="9" d="M188 65.5h1m1 0h1m2 0h1m6 0h1m8 0h1m17 0h1m21 0h1m8 0h1m4 0h1m6 0h1m3 0h1m5 0h1m20 0h1m7 0h1m2 0h1m8 0h2m23 0h1m12 0h1m4 0h1m1 0h1m7 0h2m16 0h1m9 0h1m3 0h2m8 0h1m10 0h2m1 0h2m7 0h1m3 0h2m5 0h1m1 0h1m4 0h1m29 0h1m11 0h1m8 0h1m1 0h1m8 0h1m10 0h2m4 0h1m10 0h1m10 0h2m24 0h1m5 0h1m2 0h1m1 0h2m10 0h1m4 0h1m6 0h1m27 0h1m8 0h1m10 0h1m15 0h2m10 0h1m7 0h1m2 0h1m30 0h1m2 0h1m18 0h1m2 0h1m11 0h1m1 0h1m7 0h1m5 0h1m44 0h1m5 0h1m12 0h1m11 0h2m2 0h1m8 0h1m3 0h1m13 0h1m17 0h1m12 0h1m2 0h2m2 0h1m7 0h1m4 0h1M201 84.5h1m6 0h2m21 0h2m11 0h1m2 0h2m9 0h1m2 0h1m5 0h1m2 0h1m9 0h3m23 0h2m11 0h1m13 0h1m18 0h2m6 0h1m10 0h2m5 0h1m5 0h1m8 0h1m16 0h1m14 0h1m3 0h1m1 0h1m9 0h1m1 0h1m2 0h2m37 0h1m23 0h2m14 0h1m12 0h1m3 0h1m1 0h1m1 0h1m8 0h1m1 0h1m2 0h2m2 0h1m5 0h1m4 0h1m12 0h1m12 0h1m8 0h1m11 0h3m2 0h1m20 0h1m5 0h1m7 0h1m1 0h1m1 0h2m22 0h1m23 0h1m15 0h1m20 0h1m2 0h2m2 0h2m22 0h2m1 0h1m3 0h2m2 0h1m5 0h3m10 0h1m30 0h1m16 0h2m8 0h1m2 0h1m5 0h1m9 0h2m6 0h1m8 0h1m7 0h1m28 0h2m4 0h1m3 0h1M187 103.5h1m6 0h2m2 0h1m21 0h1m3 0h1m12 0h1m17 0h1m2 0h1m3 0h2m2 0h1m23 0h2m12 0h1m10 0h2m9 0h1m18 0h2m2 0h1m9 0h1m5 0h1m1 0h1m17 0h1m7 0h1m8 0h1m9 0h1m25 0h1m9 0h3m29 0h1m10 0h1m24 0h1m21 0h1m6 0h1m1 0h1m5 0h1m17 0h1m18 0h1m1 0h1m7 0h1m3 0h2m14 0h1m15 0h1m2 0h2m4 0h1m7 0h1m11 0h1m10 0h1m6 0h1m10 0h1m3 0h2m20 0h1m4 0h3m1 0h1m4 0h1m3 0h1m9 0h1m13 0h1m13 0h1m18 0h1m17 0h1m14 0h2m43 0h1m1 0h2m1 0h1m3 0h1m7 0h2m4 0h2m10 0h1m7 0h1m14 0h2m14 0h1m5 0h1M182 112.5h1m1 0h2m8 0h3m6 0h2m3 0h1m1 0h1m9 0h1m3 0h1m11 0h1m6 0h1m2 0h1m19 0h1m22 0h1m23 0h1m15 0h1m4 0h2m2 0h1m13 0h2m30 0h1m4 0h1m5 0h2m1 0h1m8 0h1m4 0h1m7 0h1m4 0h1m5 0h1m10 0h1m10 0h1m29 0h2m1 0h1m3 0h1m5 0h1m13 0h1m2 0h4m17 0h1m3 0h1m32 0h1m13 0h1m3 0h1m11 0h1m17 0h1m20 0h1m4 0h2m18 0h1m17 0h3m10 0h1m12 0h1m21 0h2m19 0h1m8 0h1m3 0h1m8 0h2m14 0h1m5 0h1m8 0h1m4 0h2m30 0h1m4 0h2m9 0h1m41 0h1m13 0h1m11 0h1m6 0h1m14 0h1m10 0h2m5 0h1M182 131.5h1m6 0h2m36 0h1m15 0h2m2 0h1m9 0h1m4 0h1m2 0h1m12 0h2m19 0h1m3 0h1m4 0h1m3 0h1m4 0h1m4 0h2m4 0h1m3 0h1m12 0h2m2 0h1m1 0h1m19 0h3m14 0h1m60 0h1m12 0h1m5 0h1m5 0h2m10 0h1m3 0h1m1 0h2m1 0h1m36 0h1m2 0h1m1 0h1m14 0h1m32 0h1m6 0h1m2 0h3m28 0h1m2 0h1m1 0h1m10 0h2m5 0h2m7 0h1m5 0h1m9 0h1m1 0h1m9 0h1m17 0h1m2 0h2m10 0h1m1 0h1m15 0h1m3 0h1m1 0h1m31 0h1m21 0h2m5 0h1m1 0h1m6 0h1m1 0h1m7 0h1m20 0h1m2 0h2m9 0h1m3 0h1m6 0h1m11 0h1m10 0h1m3 0h1m6 0h2m21 0h1m4 0h2m6 0h1m6 0h1m21 0h2M183 150.5h1m3 0h1m2 0h2m29 0h1m23 0h1m31 0h1m12 0h1m1 0h1m2 0h1m23 0h1m20 0h1m21 0h2m2 0h1m4 0h2m11 0h1m8 0h1m4 0h1m6 0h2m1 0h2m2 0h2m6 0h1m19 0h2m12 0h1m13 0h1m4 0h1m23 0h1m13 0h2m5 0h1m3 0h1m2 0h2m24 0h1m13 0h1m3 0h1m15 0h1m8 0h1m4 0h1m13 0h1m6 0h1m14 0h2m8 0h1m1 0h2m1 0h1m24 0h1m12 0h2m3 0h1m1 0h1m9 0h1m9 0h1m9 0h1m14 0h1m16 0h1m1 0h1m1 0h1m7 0h1m16 0h1m6 0h1m2 0h1m9 0h2m5 0h1m12 0h1m24 0h1m1 0h1m37 0h1m5 0h1m7 0h1m6 0h2m6 0h1m1 0h2m1 0h2m4 0h2m7 0h2m26 0h2M173 169.5h1m9 0h1m18 0h1m4 0h1m13 0h1m6 0h1m14 0h1m9 0h1m2 0h2m3 0h1m8 0h1m33 0h1m13 0h1m3 0h1m5 0h1m4 0h1m5 0h1m1 0h1m5 0h1m2 0h1m5 0h1m21 0h1m18 0h1m6 0h1m2 0h1m16 0h1m1 0h1m13 0h1m4 0h1m4 0h1m10 0h1m9 0h1m6 0h1m3 0h1m2 0h1m9 0h1m19 0h1m17 0h2m7 0h1m8 0h1m8 0h1m34 0h2m1 0h2m4 0h3m12 0h1m12 0h2m7 0h1m4 0h1m11 0h1m3 0h1m1 0h1m27 0h1m12 0h1m12 0h1m14 0h1m12 0h1m13 0h1m2 0h2m37 0h1m3 0h1m8 0h1m9 0h1m25 0h1m7 0h1m9 0h1m7 0h1m1 0h1m6 0h1m12 0h1m1 0h1m9 0h1m3 0h1m2 0h1m6 0h1m2 0h1m17 0h1m7 0h1m2 0h1M182 188.5h2m13 0h3m14 0h1m7 0h2m7 0h2m4 0h1m38 0h1m3 0h2m11 0h1m26 0h1m25 0h1m14 0h3m10 0h1m2 0h1m14 0h1m1 0h1m19 0h1m11 0h1m26 0h2m30 0h1m20 0h1m8 0h1m3 0h1m4 0h1m5 0h2m12 0h2m5 0h2m5 0h2m21 0h1m1 0h1m7 0h2m10 0h1m9 0h1m12 0h1m8 0h1m13 0h1m14 0h1m1 0h1m10 0h1m7 0h1m9 0h1m9 0h1m6 0h1m3 0h2m14 0h1m1 0h1m2 0h1m1 0h1m3 0h1m15 0h1m27 0h1m1 0h1m3 0h1m1 0h1m1 0h1m2 0h2m2 0h2m17 0h1m8 0h1m16 0h2m3 0h1m27 0h1m16 0h1m10 0h1m11 0h2m21 0h2m9 0h1m2 0h2m3 0h1m3 0h2M179 197.5h1m29 0h1m6 0h1m10 0h1m10 0h1m47 0h1m8 0h1m16 0h1m14 0h1m6 0h2m11 0h1m7 0h1m5 0h1m9 0h3m8 0h1m1 0h1m5 0h2m13 0h1m18 0h1m2 0h2m13 0h1m1 0h1m9 0h1m3 0h1m19 0h1m23 0h2m12 0h1m3 0h2m1 0h1m6 0h2m2 0h1m15 0h1m13 0h1m6 0h1m7 0h1m9 0h1m5 0h2m13 0h1m2 0h1m4 0h1m19 0h1m2 0h1m20 0h1m3 0h2m6 0h1m1 0h1m14 0h1m1 0h1m7 0h1m1 0h1m2 0h1m11 0h1m5 0h1m4 0h1m11 0h1m21 0h2m3 0h1m2 0h3m4 0h1m14 0h1m1 0h1m9 0h1m9 0h1m10 0h1m7 0h1m14 0h2m9 0h1m2 0h1m6 0h2m6 0h1m3 0h1m3 0h1m13 0h1m30 0h3m5 0h1m23 0h1M201 216.5h1m37 0h1m34 0h1m31 0h2m6 0h3m2 0h1m12 0h1m10 0h3m4 0h1m15 0h1m2 0h1m1 0h3m29 0h1m4 0h2m16 0h1m16 0h1m84 0h1m75 0h2m39 0h1m8 0h1m15 0h2m94 0h1m36 0h4m36 0h1m20 0h1m8 0h1m12 0h1m11 0h1m4 0h2m9 0h1M197 235.5h1m66 0h1m8 0h1m13 0h2m9 0h1m11 0h1m3 0h1m41 0h1m9 0h1m32 0h2m11 0h1m13 0h1m3 0h1m101 0h1m20 0h1m9 0h1m5 0h1m2 0h1m11 0h1m24 0h1m52 0h1m16 0h3m24 0h1m2 0h1m15 0h1m90 0h1m13 0h2m2 0h1m5 0h1m15 0h2m14 0h1m1 0h1m49 0h1m8 0h1m25 0h2M308 254.5h1m62 0h2m29 0h1m89 0h2m193 0h1M336 263.5h1m10 0h1m280 0h1M481 282.5h1m37 0h1M184 301.5h2m1 0h1m17 0h1m39 0h1m190 0h2m90 0h1m51 0h1m97 0h1m80 0h1M293 320.5h1m90 0h1m153 0h1m5 0h1m56 0h1M278 329.5h2m146 0h1m65 0h2m50 0h1m1 0h1m56 0h1m53 0h1m63 0h1M407 348.5h1m2 0h1m104 0h1m49 0h1M217 367.5h1m86 0h1m43 0h1m24 0h1m5 0h3m41 0h1m1 0h1m23 0h1m66 0h1m15 0h1m10 0h1m76 0h1m8 0h1m4 0h1m13 0h1m6 0h1m51 0h2m25 0h1m54 0h1m7 0h1m24 0h1m61 0h2m11 0h1m29 0h1m6 0h1m10 0h2m1 0h1m4 0h1M190 386.5h1m26 0h1m7 0h1m24 0h2m21 0h1m54 0h1m28 0h1m24 0h1m2 0h1m3 0h1m88 0h1m17 0h1m26 0h1m33 0h1m33 0h1m38 0h1m97 0h1m18 0h1m3 0h1m2 0h2m104 0h1m22 0h1m36 0h1m3 0h1m39 0h1m1 0h1M266 395.5h1m33 0h1m29 0h1m49 0h2m8 0h2m30 0h1m125 0h2m49 0h2m12 0h1m21 0h1m31 0h1m66 0h1m6 0h1m23 0h1m12 0h1m61 0h2m26 0h1m22 0h1m14 0h1m8 0h1m39 0h1M187 414.5h1m36 0h1m2 0h1m54 0h1m20 0h1m25 0h1m20 0h1m1 0h2m16 0h1m5 0h1m41 0h2m11 0h1m7 0h1m15 0h2m6 0h1m49 0h1m3 0h1m40 0h2m25 0h1m45 0h1m5 0h2m23 0h1m4 0h1m4 0h1m38 0h1m58 0h1m51 0h1m13 0h1m57 0h2m16 0h2m4 0h1m12 0h2M175 433.5h2m1 0h1m4 0h1m18 0h1m13 0h1m25 0h1m33 0h1m7 0h1m4 0h1m43 0h1m61 0h1m7 0h1m13 0h1m43 0h1m7 0h1m43 0h1m29 0h1m10 0h1m19 0h1m23 0h1m18 0h1m27 0h1m22 0h2m6 0h1m11 0h2m5 0h1m32 0h1m11 0h1m9 0h1m20 0h1m30 0h1m1 0h1m29 0h1m3 0h2m6 0h1m53 0h1m8 0h1m14 0h1M179 452.5h1m3 0h1m35 0h1m14 0h1m48 0h1m65 0h1m10 0h1m72 0h1m5 0h1m8 0h1m30 0h1m38 0h2m18 0h1m7 0h1m13 0h1m6 0h2m2 0h1m35 0h1m11 0h1m25 0h1m1 0h2m5 0h1m12 0h1m7 0h1m8 0h1m29 0h1m3 0h1m41 0h1m5 0h1m21 0h1m2 0h2m75 0h1m84 0h1m3 0h1m12 0h2M197 471.5h2m26 0h1m54 0h1m5 0h1m6 0h1m7 0h1m2 0h1m22 0h1m27 0h1m31 0h1m8 0h1m1 0h1m16 0h1m38 0h1m3 0h1m52 0h2m11 0h2m10 0h1m14 0h1m65 0h2m2 0h1m32 0h1m4 0h1m18 0h1m19 0h3m77 0h1m131 0h1m50 0h1M173 480.5h1m56 0h1m3 0h1m4 0h1m37 0h1m8 0h1m3 0h1m12 0h1m11 0h2m4 0h1m11 0h1m39 0h1m19 0h1m46 0h1m7 0h1m52 0h3m51 0h1m4 0h1m4 0h1m4 0h1m7 0h1m23 0h1m34 0h1m19 0h1m2 0h2m5 0h1m56 0h1m4 0h2m1 0h1m8 0h2m11 0h3m22 0h1m2 0h2m1 0h1m10 0h1m31 0h2m23 0h1m20 0h1m8 0h1m14 0h2m18 0h1m33 0h1m3 0h1M199 499.5h1m8 0h1m19 0h2m51 0h1m8 0h1m4 0h1m37 0h1m34 0h1m1 0h1m4 0h1m12 0h1m29 0h2m33 0h1m10 0h2m54 0h2m23 0h1m1 0h1m14 0h1m8 0h2m12 0h1m6 0h1m6 0h1m2 0h1m14 0h1m26 0h2m16 0h1m4 0h1m29 0h3m78 0h1m2 0h1m21 0h1m18 0h1m28 0h1m10 0h1m19 0h1m10 0h1m13 0h1m25 0h1M203 518.5h2m15 0h1m119 0h3m4 0h1m13 0h1m7 0h1m1 0h2m31 0h1m30 0h1m4 0h1m41 0h1m9 0h2m7 0h1m32 0h1m91 0h1m4 0h1m26 0h1m24 0h1m13 0h1m5 0h1m15 0h1m9 0h1m5 0h2m1 0h1m49 0h1m20 0h1m13 0h1m56 0h1m20 0h1m3 0h1m5 0h1m34 0h1M182 537.5h1m10 0h1m20 0h1m11 0h1m21 0h1m36 0h2m39 0h1m12 0h1m3 0h2m1 0h1m15 0h2m35 0h2m56 0h1m10 0h1m102 0h2m20 0h1m15 0h1m77 0h1m51 0h1m30 0h1m29 0h2m16 0h1m5 0h1m9 0h1m37 0h1m15 0h1m9 0h1m4 0h2m9 0h1m11 0h1M270 546.5h1m25 0h2m34 0h1m18 0h1m16 0h1m42 0h1m10 0h1m32 0h2m4 0h1m19 0h1m14 0h1m10 0h1m7 0h1m25 0h1m2 0h1m5 0h1m9 0h1m19 0h1m18 0h1m22 0h1m17 0h1m41 0h1m76 0h1m15 0h1m2 0h1m19 0h1m15 0h1m1 0h1m46 0h1m14 0h1m12 0h1m16 0h1m20 0h1m13 0h1m10 0h1M246 565.5h1m49 0h2m2 0h1m44 0h2m41 0h1m12 0h1m15 0h1m2 0h1m11 0h1m43 0h1m79 0h1m26 0h1m13 0h1m21 0h1m12 0h2m15 0h1m14 0h1m18 0h1m36 0h1m3 0h1m32 0h1m11 0h1m23 0h1m36 0h1m4 0h1m38 0h1m36 0h1m12 0h1m37 0h1M182 584.5h1m7 0h1m48 0h1m7 0h1m22 0h1m11 0h1m16 0h1m5 0h1m42 0h2m33 0h1m24 0h2m20 0h1m42 0h1m33 0h1m15 0h1m5 0h1m37 0h2m56 0h1m5 0h1m34 0h1m82 0h1m32 0h3m14 0h3m82 0h2m32 0h1m3 0h2m33 0h1m7 0h1M175 603.5h2m56 0h1m62 0h2m15 0h1m4 0h1m112 0h1m4 0h2m2 0h1m9 0h2m22 0h3m11 0h1m71 0h1m10 0h1m63 0h1m23 0h1m10 0h2m7 0h2m11 0h1m25 0h1m27 0h1m30 0h1m18 0h1m20 0h1m141 0h2M236 612.5h1m20 0h1m1 0h2m20 0h1m59 0h1m53 0h1m28 0h1m55 0h1m56 0h1m29 0h3m5 0h1m92 0h1m60 0h1m9 0h1m40 0h1m3 0h1m40 0h2m32 0h1m8 0h1M261 631.5h3m32 0h2m61 0h1m58 0h2m2 0h1m2 0h1m34 0h1m73 0h1m26 0h1m11 0h1m14 0h1m1 0h1m11 0h1m4 0h1m3 0h1m8 0h1m13 0h1m20 0h1m20 0h1m21 0h2m9 0h1m33 0h3m21 0h1m25 0h1m59 0h1m8 0h1m52 0h1M229 650.5h1m1 0h2m4 0h1m15 0h1m8 0h1m3 0h1m10 0h1m30 0h1m69 0h1m10 0h1m58 0h1m61 0h1m11 0h1m7 0h2m3 0h1m76 0h1m31 0h1m14 0h1m59 0h1m2 0h1m61 0h1m15 0h2m6 0h1m19 0h2m70 0h1m56 0h1M190 669.5h1m1 0h1m7 0h1m26 0h1m15 0h1m30 0h1m6 0h1m17 0h1m30 0h1m19 0h1m26 0h1m98 0h1m90 0h2m11 0h1m5 0h2m13 0h1m108 0h1m33 0h2m20 0h1m50 0h1m8 0h1m3 0h1m13 0h1m4 0h1m14 0h1m21 0h1m35 0h2m24 0h1M187 678.5h1m78 0h1m39 0h2m29 0h1m28 0h1m15 0h1m27 0h1m41 0h1m34 0h1m1 0h1m34 0h2m69 0h2m13 0h1m27 0h1m8 0h1m9 0h1m88 0h1m1 0h1m87 0h1m25 0h1m12 0h2m58 0h1M175 697.5h2m44 0h1m5 0h1m15 0h1m8 0h1m10 0h2m12 0h1m4 0h1m67 0h1m56 0h1m18 0h1m37 0h2m8 0h2m3 0h1m12 0h2m8 0h2m127 0h1m2 0h1m35 0h2m1 0h1m32 0h3m15 0h1m27 0h1m18 0h1m41 0h1m30 0h1m34 0h1m23 0h2M188 716.5h1m42 0h2m109 0h1m11 0h1m74 0h1m22 0h1m18 0h1m20 0h2m34 0h1m16 0h1m23 0h1m38 0h1m13 0h1m22 0h1m16 0h1m51 0h1m11 0h2m26 0h2m35 0h2m13 0h1m1 0h1m79 0h1m10 0h1m31 0h2m14 0h1m2 0h2M207 735.5h1m4 0h2m6 0h1m109 0h1m28 0h1m20 0h2m63 0h1m26 0h1m15 0h1m9 0h1m57 0h1m63 0h1m7 0h1m19 0h1m72 0h2m16 0h1m8 0h1m23 0h2m89 0h1m8 0h1m5 0h1m35 0h1m3 0h1m7 0h1m43 0h2M333 754.5h1m39 0h1m9 0h1m2 0h1m59 0h2m19 0h1m4 0h1m9 0h3m12 0h1m6 0h1m41 0h1m44 0h1m29 0h1m4 0h1m8 0h1m21 0h1m108 0h1m22 0h1m4 0h1m4 0h1m70 0h1m30 0h1m15 0h1m3 0h1m20 0h1m11 0h1M190 763.5h1m25 0h1m17 0h1m2 0h1m27 0h1m33 0h1m40 0h1m70 0h1m31 0h1m43 0h1m4 0h2m89 0h1m54 0h1m11 0h1m112 0h2m6 0h1m28 0h2m14 0h1m34 0h1m21 0h1m65 0h1M226 782.5h1m16 0h2m31 0h1m10 0h2m5 0h1m107 0h1m13 0h1m26 0h1m20 0h2m16 0h1m67 0h1m39 0h2m6 0h1m43 0h2m12 0h1m40 0h1m5 0h1m10 0h1m8 0h1m8 0h1m41 0h1m4 0h1m5 0h1m54 0h1m13 0h1m9 0h1m18 0h1m25 0h1m27 0h1m2 0h2M225 801.5h1m1 0h1m24 0h1m64 0h1m52 0h1m108 0h1m11 0h1m26 0h1m4 0h1m3 0h1m27 0h1m6 0h1m9 0h1m21 0h1m2 0h1m6 0h2m38 0h1m43 0h2m2 0h1m21 0h1m87 0h1m24 0h1m51 0h1m8 0h1m12 0h1m23 0h1m8 0h1M205 820.5h1m56 0h1m35 0h1m40 0h1m42 0h1m59 0h1m24 0h1m11 0h1m123 0h1m23 0h1m66 0h1m59 0h2m19 0h1m27 0h2m11 0h1m6 0h1m3 0h1m25 0h2m20 0h3m55 0h3m25 0h1m4 0h1m1 0h2M203 829.5h2m66 0h1m36 0h1m3 0h1m18 0h1m47 0h1m36 0h1m7 0h1m16 0h1m20 0h1m45 0h1m30 0h2m5 0h1m54 0h1m6 0h1m59 0h2m18 0h2m7 0h1m24 0h1m16 0h1m16 0h1m51 0h1m3 0h1m30 0h1m20 0h1m62 0h1m40 0h2M190 848.5h1m54 0h1m36 0h1m2 0h1m26 0h1m4 0h1m32 0h1m9 0h2m3 0h1m3 0h1m8 0h1m23 0h1m27 0h1m7 0h1m11 0h1m16 0h1m76 0h1m1 0h1m8 0h1m35 0h1m16 0h1m26 0h1m38 0h2m2 0h1m95 0h1m29 0h1m2 0h1m25 0h1m16 0h1m15 0h2m5 0h1m7 0h1m14 0h1m46 0h1m17 0h1M182 867.5h1m13 0h2m3 0h1m76 0h3m8 0h2m20 0h1m9 0h1m17 0h1m8 0h1m1 0h1m23 0h1m13 0h1m3 0h1m15 0h2m77 0h1m12 0h1m19 0h2m12 0h1m48 0h1m23 0h1m5 0h1m12 0h1m29 0h1m8 0h1m9 0h1m22 0h2m11 0h2m5 0h1m1 0h1m17 0h1m4 0h1m6 0h1m2 0h1m11 0h1m31 0h1m16 0h1m2 0h1m40 0h1m99 0h1m2 0h1m3 0h1M174 886.5h1m59 0h1m28 0h1m14 0h2m4 0h1m7 0h1m21 0h1m11 0h1m9 0h1m1 0h1m18 0h1m4 0h2m51 0h1m7 0h1m27 0h1m29 0h1m14 0h1m20 0h1m14 0h1m33 0h1m39 0h1m29 0h1m20 0h2m1 0h3m2 0h1m6 0h1m55 0h1m3 0h1m56 0h1m24 0h1m54 0h1m4 0h1m6 0h1m71 0h1M194 895.5h3m14 0h4m48 0h1m54 0h1m7 0h1m22 0h2m11 0h2m26 0h2m107 0h1m9 0h1m6 0h1m10 0h1m14 0h1m4 0h1m2 0h1m11 0h1m2 0h1m18 0h1m17 0h1m7 0h1m5 0h1m3 0h1m14 0h1m12 0h1m35 0h1m13 0h2m11 0h1m4 0h2m6 0h1m21 0h1m1 0h1m22 0h1m15 0h1m6 0h1m11 0h1m86 0h1m7 0h1m60 0h1M180 914.5h1m13 0h2m12 0h1m7 0h1m22 0h1m25 0h1m5 0h1m11 0h1m74 0h1m18 0h3m38 0h2m5 0h1m4 0h1m30 0h1m1 0h1m3 0h1m12 0h1m28 0h1m25 0h1m1 0h1m82 0h1m18 0h1m20 0h2m34 0h1m15 0h1m56 0h1m38 0h1m7 0h1m7 0h1m24 0h1m37 0h1m1 0h2m3 0h2m4 0h1m14 0h2m17 0h1m4 0h1m17 0h1m12 0h2M183 933.5h1m23 0h1m6 0h1m1 0h1m1 0h1m8 0h1m6 0h1m1 0h1m7 0h1m23 0h2m26 0h2m3 0h1m24 0h1m3 0h1m2 0h1m44 0h1m9 0h2m72 0h1m15 0h1m8 0h1m37 0h1m8 0h1m15 0h1m1 0h1m1 0h1m2 0h1m27 0h1m13 0h1m4 0h2m19 0h1m56 0h1m9 0h1m7 0h1m4 0h1m40 0h1m3 0h1m2 0h1m16 0h1m4 0h1m3 0h1m2 0h2m23 0h2m5 0h1m2 0h1m20 0h3m18 0h1m36 0h1m18 0h1m14 0h1m23 0h1M190 952.5h1m8 0h1m16 0h1m21 0h1m4 0h1m4 0h1m18 0h1m3 0h1m2 0h1m3 0h2m15 0h1m18 0h1m7 0h1m22 0h1m1 0h1m14 0h2m52 0h1m9 0h5m11 0h1m34 0h1m1 0h1m6 0h1m5 0h2m4 0h1m6 0h4m2 0h2m7 0h2m3 0h1m18 0h1m26 0h1m7 0h1m9 0h2m3 0h1m7 0h2m6 0h1m3 0h2m4 0h2m8 0h1m9 0h1m15 0h1m6 0h2m10 0h1m8 0h1m21 0h1m13 0h2m16 0h1m1 0h1m18 0h1m58 0h3m1 0h1m7 0h1m5 0h1m15 0h1m13 0h2m15 0h1m3 0h1m4 0h1m1 0h2m2 0h1m7 0h1m4 0h1m5 0h1m11 0h1m9 0h1m4 0h1m4 0h1m4 0h1M190 961.5h1m2 0h1m34 0h1m10 0h1m6 0h1m5 0h1m33 0h3m6 0h1m3 0h1m5 0h1m8 0h1m9 0h2m24 0h1m13 0h1m3 0h1m16 0h1m3 0h1m7 0h1m7 0h2m8 0h1m2 0h3m13 0h1m6 0h1m12 0h1m14 0h1m11 0h1m5 0h1m7 0h1m28 0h1m3 0h1m5 0h1m4 0h2m2 0h3m7 0h1m7 0h1m2 0h1m6 0h1m35 0h1m2 0h1m7 0h2m6 0h1m4 0h3m1 0h1m2 0h1m2 0h3m20 0h2m8 0h1m12 0h1m2 0h2m12 0h1m10 0h1m3 0h2m8 0h1m9 0h1m31 0h3m3 0h1m16 0h1m21 0h1m17 0h1m19 0h1m63 0h1m12 0h2m3 0h1m16 0h1"/>
<path stroke="#dcff1b" stroke-width="10" d="M179 75h1m2 0h2m5 0h1m24 0h1m4 0h1m6 0h1m12 0h1m8 0h1m7 0h2m22 0h1m2 0h2m2 0h2m30 0h1m2 0h2m5 0h1m3 0h1m2 0h1m2 0h1m20 0h1m5 0h1m26 0h1m11 0h1m4 0h1m25 0h2m3 0h1m4 0h2m2 0h1m28 0h1m35 0h1m3 0h1m14 0h1m4 0h2m9 0h1m12 0h2m51 0h1m3 0h1m11 0h2m14 0h1m7 0h1m3 0h3m3 0h1m12 0h2m9 0h1m5 0h1m3 0h1m6 0h2m3 0h1m6 0h1m10 0h1m2 0h1m18 0h1m3 0h1m14 0h1m2 0h1m16 0h2m2 0h3m29 0h1m5 0h1m15 0h1m2 0h1m1 0h1m27 0h1m20 0h2m5 0h4m11 0h1m7 0h1m1 0h1m9 0h2m3 0h2m16 0h2M173 94h1m4 0h1m11 0h1m7 0h1m12 0h3m17 0h3m3 0h1m1 0h3m20 0h1m1 0h1m2 0h5m9 0h1m2 0h1m1 0h1m2 0h1m3 0h1m4 0h1m2 0h1m6 0h1m2 0h1m18 0h1m6 0h2m2 0h1m4 0h1m11 0h1m20 0h3m5 0h1m5 0h1m4 0h1m7 0h1m3 0h1m15 0h1m7 0h1m23 0h1m17 0h1m5 0h3m6 0h1m10 0h2m1 0h1m37 0h1m7 0h1m2 0h1m1 0h1m1 0h2m6 0h1m6 0h1m1 0h1m44 0h3m41 0h2m8 0h1m3 0h1m35 0h1m6 0h1m1 0h1m7 0h1m2 0h1m7 0h1m13 0h1m42 0h1m3 0h1m5 0h1m21 0h1m5 0h1m3 0h1m8 0h1m17 0h1m3 0h2m4 0h1m3 0h1m3 0h1m15 0h1m12 0h1m1 0h1m6 0h2m13 0h1m24 0h1m3 0h4M177 122h1m11 0h2m14 0h1m4 0h1m9 0h1m31 0h2m2 0h1m1 0h1m7 0h1m6 0h1m4 0h2m2 0h1m28 0h1m11 0h3m14 0h1m14 0h1m23 0h1m18 0h1m3 0h1m8 0h1m9 0h1m27 0h1m27 0h1m29 0h1m14 0h1m3 0h1m17 0h1m19 0h1m19 0h2m7 0h1m6 0h1m8 0h1m4 0h2m1 0h1m18 0h1m5 0h2m1 0h2m8 0h1m32 0h2m6 0h1m1 0h2m3 0h1m6 0h1m9 0h1m4 0h1m2 0h1m19 0h1m22 0h3m11 0h1m11 0h1m6 0h1m27 0h1m20 0h1m2 0h2m14 0h1m16 0h2m19 0h1m15 0h1m3 0h1m27 0h1m7 0h1M180 160h1m8 0h1m3 0h1m2 0h1m1 0h2m7 0h1m19 0h1m7 0h1m20 0h1m18 0h1m6 0h1m2 0h1m1 0h2m3 0h1m6 0h1m10 0h1m22 0h1m2 0h1m25 0h4m32 0h4m20 0h1m4 0h2m12 0h1m27 0h1m8 0h1m1 0h1m15 0h1m20 0h1m8 0h2m18 0h4m25 0h1m6 0h1m7 0h1m2 0h1m1 0h2m11 0h1m31 0h1m5 0h1m7 0h1m2 0h2m1 0h2m2 0h4m35 0h1m15 0h1m8 0h1m1 0h1m10 0h1m6 0h1m4 0h1m4 0h1m21 0h1m6 0h2m1 0h1m3 0h1m4 0h3m21 0h1m8 0h1m11 0h1m1 0h1m6 0h1m4 0h1m1 0h1m2 0h1m5 0h1m31 0h1m6 0h1m15 0h1m11 0h1m15 0h1m4 0h1M184 179h2m8 0h2m15 0h1m9 0h1m9 0h2m6 0h1m13 0h1m13 0h1m5 0h1m1 0h1m14 0h1m9 0h1m10 0h1m7 0h2m20 0h2m5 0h1m11 0h2m2 0h1m4 0h1m12 0h2m42 0h1m8 0h1m3 0h1m9 0h1m16 0h1m35 0h2m11 0h1m2 0h2m5 0h1m9 0h3m3 0h1m10 0h1m2 0h1m16 0h1m6 0h1m9 0h1m10 0h1m2 0h1m4 0h1m3 0h1m22 0h1m4 0h1m8 0h1m7 0h1m5 0h1m1 0h2m8 0h1m10 0h1m27 0h1m19 0h1m18 0h1m21 0h1m6 0h2m23 0h1m8 0h1m5 0h1m13 0h1m8 0h1m1 0h2m5 0h1m20 0h3m22 0h1m30 0h2m2 0h1m6 0h1m22 0h1M182 207h1m7 0h1m12 0h2m1 0h1m5 0h2m6 0h1m18 0h1m6 0h1m14 0h1m1 0h1m13 0h1m23 0h1m9 0h1m25 0h1m10 0h1m2 0h1m12 0h1m6 0h2m1 0h1m10 0h1m4 0h2m21 0h1m4 0h2m7 0h2m24 0h1m5 0h1m25 0h1m8 0h1m11 0h1m55 0h1m4 0h2m4 0h1m21 0h2m20 0h1m1 0h1m10 0h1m13 0h1m4 0h1m1 0h2m5 0h1m26 0h1m4 0h1m5 0h1m31 0h1m9 0h1m1 0h1m30 0h1m2 0h1m5 0h1m3 0h1m3 0h1m11 0h2m4 0h1m1 0h1m8 0h1m6 0h1m1 0h1m22 0h1m11 0h1m1 0h1m2 0h2m14 0h1m1 0h2m3 0h1m12 0h1m9 0h3m6 0h1m18 0h2m2 0h1m5 0h2m14 0h4M173 226h1m56 0h1m6 0h1m9 0h1m7 0h1m61 0h1m1 0h1m22 0h1m5 0h1m10 0h2m64 0h1m41 0h2m10 0h1m6 0h1m33 0h2m51 0h1m1 0h1m31 0h1m17 0h1m4 0h1m5 0h1m14 0h2m1 0h1m2 0h1m15 0h1m14 0h2m8 0h3m2 0h1m2 0h1m15 0h1m10 0h1m50 0h1m85 0h1m19 0h1m1 0h2m45 0h1M358 245h1m14 0h1m30 0h1m22 0h2m19 0h1m193 0h2m24 0h1M371 273h2m31 0h2m18 0h1m52 0h1m59 0h1m134 0h1M518 292h1M276 311h1m28 0h1m6 0h1m6 0h1m13 0h1m158 0h2m14 0h1m17 0h1m74 0h1M324 339h2m32 0h1m54 0h1m40 0h1m14 0h1M348 358h1m119 0h1m166 0h1m30 0h1m45 0h1M177 377h1m55 0h1m23 0h1m64 0h1m6 0h1m1 0h1m35 0h1m5 0h1m21 0h1m33 0h1m31 0h1m14 0h1m24 0h1m9 0h2m19 0h1m29 0h1m41 0h2m12 0h1m18 0h1m10 0h2m1 0h2m10 0h1m6 0h2m22 0h1m16 0h2m30 0h1m44 0h1m54 0h1m10 0h1m11 0h2m13 0h1m8 0h1M180 405h1m8 0h1m9 0h1m16 0h1m145 0h2m20 0h1m78 0h1m4 0h1m19 0h1m3 0h2m16 0h1m14 0h1m29 0h1m6 0h2m18 0h1m51 0h2m33 0h1m3 0h1m48 0h1m18 0h1m4 0h1m5 0h1m12 0h1m36 0h1m23 0h2m16 0h1m5 0h1m26 0h1m32 0h1m15 0h1m12 0h1m25 0h2M190 424h1m6 0h1m3 0h1m18 0h1m41 0h1m3 0h2m17 0h1m20 0h2m6 0h1m37 0h2m6 0h1m22 0h1m1 0h1m29 0h1m16 0h1m25 0h1m12 0h1m11 0h2m3 0h1m22 0h3m13 0h1m16 0h1m39 0h1m36 0h1m35 0h1m30 0h2m52 0h1m52 0h1m29 0h1m5 0h1m71 0h3m13 0h1m4 0h1m18 0h1M177 443h1m31 0h1m4 0h1m21 0h1m2 0h1m25 0h1m12 0h2m2 0h1m38 0h1m4 0h1m2 0h1m30 0h1m28 0h1m22 0h1m23 0h2m8 0h2m11 0h1m3 0h3m39 0h1m8 0h1m51 0h1m4 0h1m32 0h2m8 0h2m9 0h1m20 0h1m112 0h1m33 0h1m8 0h1m5 0h1m23 0h1m8 0h1m10 0h1m6 0h1m9 0h1M186 462h1m52 0h1m17 0h1m27 0h1m6 0h1m94 0h1m1 0h1m26 0h1m10 0h2m48 0h2m3 0h1m2 0h1m55 0h1m34 0h2m17 0h2m5 0h1m19 0h1m23 0h1m54 0h1m19 0h2m45 0h1m29 0h1m25 0h1m12 0h1m21 0h1m27 0h1m2 0h1m10 0h1m8 0h1m45 0h1M180 490h1m7 0h1m8 0h1m12 0h1m4 0h1m3 0h1m7 0h1m12 0h3m4 0h1m23 0h1m60 0h1m24 0h1m16 0h1m93 0h1m38 0h1m2 0h1m53 0h2m5 0h1m3 0h1m26 0h1m17 0h1m62 0h1m18 0h1m11 0h1m15 0h1m28 0h1m2 0h1m5 0h1m13 0h2m19 0h1m5 0h1m37 0h2m37 0h1m5 0h1m7 0h1m39 0h2m15 0h1m10 0h2M180 509h1m2 0h1m17 0h1m31 0h1m39 0h1m36 0h1m9 0h2m33 0h1m5 0h1m22 0h1m20 0h1m6 0h1m22 0h1m5 0h1m15 0h2m65 0h1m1 0h1m28 0h2m23 0h1m19 0h2m12 0h2m21 0h1m36 0h1m10 0h1m8 0h1m8 0h1m56 0h1m16 0h1m12 0h1m47 0h2m37 0h1m11 0h1m8 0h1m9 0h2m8 0h1m3 0h2m5 0h1m23 0h1m13 0h1M180 528h1m28 0h1m30 0h2m10 0h1m8 0h1m25 0h2m15 0h1m4 0h1m20 0h1m5 0h1m37 0h1m1 0h1m10 0h1m20 0h2m26 0h2m36 0h2m5 0h1m47 0h1m69 0h1m12 0h1m45 0h1m1 0h2m11 0h1m28 0h1m3 0h1m7 0h1m1 0h2m7 0h1m25 0h2m19 0h2m13 0h1m5 0h1m15 0h1m5 0h1m15 0h1m82 0h1m30 0h1m12 0h1m4 0h2M180 556h1m120 0h1m76 0h1m20 0h2m62 0h1m9 0h1m15 0h1m35 0h1m18 0h1m38 0h1m4 0h1m12 0h2m7 0h1m17 0h1m89 0h1m6 0h1m24 0h1m1 0h2m2 0h1m6 0h2m1 0h1m21 0h1m1 0h1m32 0h1m45 0h1m9 0h1m9 0h1m12 0h1m11 0h1m2 0h1m43 0h1M181 575h1m39 0h1m24 0h1m7 0h1m21 0h2m8 0h1m23 0h1m38 0h1m9 0h1m24 0h2m4 0h2m4 0h1m45 0h1m2 0h1m58 0h1m1 0h1m6 0h1m41 0h1m13 0h1m22 0h1m11 0h2m73 0h2m41 0h1m3 0h2m48 0h1m16 0h1m32 0h1m35 0h1m63 0h1m19 0h1m6 0h1m1 0h1m8 0h1M216 594h1m16 0h1m30 0h1m2 0h1m61 0h1m37 0h1m14 0h1m16 0h2m3 0h1m15 0h2m44 0h1m18 0h1m8 0h1m12 0h1m24 0h1m5 0h1m71 0h1m47 0h1m5 0h1m27 0h2m6 0h1m33 0h1m4 0h1m6 0h1m2 0h1m7 0h1m29 0h1m19 0h1m5 0h1m7 0h1m33 0h1m14 0h1m62 0h1m23 0h1m8 0h1M190 622h1m33 0h1m5 0h1m8 0h1m10 0h2m114 0h1m2 0h1m6 0h1m27 0h1m40 0h1m6 0h1m28 0h1m33 0h1m3 0h1m22 0h1m4 0h3m61 0h1m9 0h1m25 0h1m3 0h2m19 0h1m70 0h1m14 0h1m4 0h2m3 0h1m106 0h2M190 641h1m33 0h1m17 0h1m25 0h2m34 0h1m28 0h1m53 0h1m9 0h1m6 0h1m69 0h2m16 0h2m75 0h2m36 0h1m111 0h1m50 0h1m17 0h2m47 0h1m12 0h1m19 0h1m16 0h1m4 0h1m24 0h1m32 0h2M329 660h1m59 0h1m68 0h2m1 0h1m4 0h1m38 0h1m32 0h1m31 0h1m21 0h1m13 0h1m2 0h1m12 0h1m30 0h1m41 0h1m16 0h1m13 0h2m19 0h1m18 0h1m5 0h2m25 0h1m108 0h1m3 0h2m30 0h1m14 0h2M178 688h1m14 0h1m3 0h1m4 0h1m42 0h1m27 0h1m12 0h1m112 0h2m23 0h1m10 0h1m34 0h1m90 0h1m38 0h1m6 0h4m28 0h1m39 0h2m15 0h1m12 0h1m14 0h1m3 0h1m48 0h1m7 0h1m63 0h1m74 0h1M198 707h1m22 0h1m7 0h1m1 0h2m3 0h1m43 0h2m31 0h1m42 0h1m22 0h1m41 0h1m9 0h1m22 0h1m4 0h1m2 0h1m82 0h1m19 0h1m45 0h1m10 0h1m41 0h1m16 0h1m5 0h1m3 0h1m8 0h1m2 0h1m31 0h2m23 0h1m13 0h1m25 0h2m148 0h2M184 726h2m13 0h1m45 0h1m4 0h2m18 0h1m34 0h1m15 0h1m14 0h1m13 0h1m7 0h1m58 0h1m27 0h1m26 0h1m26 0h1m4 0h1m13 0h1m31 0h1m10 0h1m2 0h1m70 0h3m22 0h2m31 0h1m56 0h1m8 0h1m34 0h1m30 0h1m26 0h1m65 0h1m42 0h1M181 745h1m23 0h1m33 0h1m7 0h1m38 0h1m8 0h1m55 0h1m22 0h1m35 0h1m15 0h1m8 0h1m2 0h1m32 0h1m42 0h1m4 0h1m5 0h1m11 0h1m10 0h2m16 0h1m135 0h1m18 0h1m53 0h1m76 0h2m8 0h1m2 0h1m23 0h1m3 0h1m11 0h1m29 0h1M190 773h1m24 0h1m68 0h1m11 0h2m24 0h1m5 0h1m2 0h1m58 0h2m109 0h1m22 0h1m13 0h1m26 0h1m59 0h1m55 0h1m20 0h1m18 0h1m84 0h1m63 0h1m9 0h1m9 0h2m4 0h1m56 0h1M210 792h1m13 0h1m56 0h1m5 0h2m29 0h1m12 0h1m1 0h1m70 0h1m26 0h1m32 0h3m2 0h1m22 0h3m14 0h1m35 0h1m1 0h1m13 0h1m16 0h1m103 0h1m93 0h1m29 0h1m38 0h1m14 0h1m64 0h1m23 0h1m6 0h1m1 0h3M224 811h1m34 0h2m30 0h1m28 0h2m61 0h1m26 0h1m23 0h1m32 0h1m6 0h2m82 0h2m47 0h2m13 0h1m31 0h1m2 0h1m7 0h1m7 0h1m9 0h1m18 0h1m64 0h1m28 0h1m47 0h1m5 0h1m27 0h1m38 0h1m17 0h1M215 839h1m47 0h1m2 0h1m63 0h1m9 0h1m11 0h2m3 0h1m21 0h3m14 0h1m4 0h1m11 0h1m4 0h2m38 0h1m4 0h1m13 0h1m101 0h1m61 0h1m4 0h1m1 0h2m16 0h1m14 0h1m12 0h1m6 0h2m10 0h1m7 0h1m7 0h1m23 0h1m12 0h1m1 0h1m5 0h1m33 0h1m14 0h1m62 0h1m34 0h1m23 0h1m3 0h1m12 0h1M197 858h1m7 0h1m8 0h1m12 0h1m2 0h3m2 0h1m11 0h1m55 0h1m19 0h1m22 0h1m23 0h1m12 0h1m18 0h1m10 0h2m17 0h1m21 0h1m37 0h2m2 0h2m18 0h1m17 0h1m4 0h2m13 0h1m9 0h1m26 0h1m2 0h1m2 0h1m5 0h1m21 0h1m5 0h1m10 0h2m16 0h3m43 0h1m16 0h1m10 0h1m46 0h1m16 0h1m5 0h1m9 0h1m50 0h1m12 0h1m4 0h1m16 0h1m23 0h1m43 0h2M190 877h1m31 0h2m2 0h1m36 0h2m41 0h2m4 0h1m11 0h2m2 0h1m32 0h1m5 0h1m15 0h1m28 0h1m4 0h1m4 0h1m4 0h2m13 0h1m14 0h1m18 0h1m6 0h2m5 0h1m5 0h1m29 0h1m31 0h2m23 0h1m36 0h1m1 0h1m103 0h2m67 0h1m10 0h1m14 0h1m30 0h1m9 0h1m3 0h2m18 0h1m58 0h1m9 0h1M184 905h2m25 0h1m6 0h1m34 0h1m3 0h1m4 0h1m5 0h2m12 0h1m2 0h1m18 0h1m6 0h1m50 0h2m18 0h1m16 0h2m1 0h1m42 0h1m52 0h1m40 0h2m22 0h1m1 0h1m45 0h1m17 0h1m1 0h1m45 0h1m3 0h1m22 0h1m4 0h1m10 0h1m23 0h2m6 0h1m36 0h1m66 0h2m22 0h1m15 0h1m8 0h1m33 0h1m8 0h1m3 0h1m12 0h1m2 0h2M200 924h1m21 0h2m31 0h1m2 0h1m19 0h2m2 0h1m9 0h1m5 0h1m1 0h1m14 0h2m25 0h3m2 0h1m36 0h3m10 0h1m10 0h2m33 0h1m30 0h4m5 0h2m3 0h1m19 0h1m7 0h1m9 0h1m5 0h1m12 0h1m8 0h1m3 0h2m7 0h2m24 0h1m6 0h1m9 0h1m21 0h2m13 0h1m2 0h1m2 0h1m9 0h1m9 0h2m17 0h2m3 0h1m9 0h2m14 0h1m25 0h1m3 0h1m20 0h1m1 0h1m16 0h1m4 0h1m15 0h1m1 0h1m6 0h1m17 0h1m12 0h1m69 0h1m18 0h1m23 0h1M202 943h1m4 0h1m2 0h1m16 0h1m10 0h1m47 0h1m3 0h2m9 0h1m9 0h1m2 0h1m2 0h1m5 0h1m26 0h1m7 0h1m9 0h1m4 0h1m39 0h1m19 0h1m39 0h1m2 0h1m3 0h1m8 0h1m6 0h1m2 0h1m6 0h1m10 0h1m7 0h1m2 0h1m52 0h3m15 0h2m6 0h1m15 0h3m19 0h1m13 0h1m15 0h1m9 0h1m8 0h1m3 0h2m12 0h2m7 0h1m4 0h2m1 0h1m7 0h1m1 0h1m16 0h1m9 0h1m4 0h3m10 0h1m8 0h1m4 0h1m7 0h1m5 0h1m38 0h1m9 0h2m1 0h1m4 0h1m1 0h1m6 0h1m1 0h1m7 0h1m26 0h1m1 0h1m3 0h1m8 0h1m7 0h1m7 0h1m12 0h2m7 0h2"/>
<path stroke="#dcff1b" stroke-width="11" d="M181 971.5h1m8 0h1m7 0h1m37 0h1m8 0h1m6 0h1m43 0h2m2 0h1m1 0h1m12 0h2m14 0h1m19 0h1m4 0h1m2 0h1m7 0h1m11 0h1m8 0h1m7 0h1m1 0h3m2 0h1m25 0h1m5 0h1m10 0h2m2 0h1m35 0h1m13 0h1m3 0h1m33 0h1m6 0h2m1 0h2m3 0h1m4 0h2m25 0h1m16 0h2m12 0h1m33 0h1m6 0h1m7 0h1m16 0h1m7 0h2m6 0h3m4 0h1m5 0h1m7 0h1m13 0h2m5 0h1m8 0h1m7 0h1m2 0h1m4 0h1m4 0h1m3 0h1m13 0h1m7 0h2m4 0h1m10 0h1m7 0h1m29 0h1m3 0h1m23 0h1m4 0h2m4 0h1m11 0h1m7 0h1m6 0h1m18 0h1m16 0h1"/>
<path stroke="#e9ff0e" stroke-width="9" d="M178 103.5h1m5 0h2m5 0h1m13 0h1m1 0h1m28 0h1m11 0h1m3 0h1m1 0h1m4 0h2m3 0h1m2 0h3m14 0h1m17 0h1m16 0h1m10 0h1m1 0h1m7 0h1m9 0h1m3 0h1m1 0h1m5 0h3m1 0h1m1 0h1m1 0h1m7 0h1m11 0h3m6 0h2m7 0h2m3 0h1m2 0h1m35 0h1m8 0h1m8 0h1m18 0h2m10 0h3m1 0h1m12 0h9m7 0h1m4 0h2m13 0h3m12 0h1m16 0h2m7 0h3m18 0h1m1 0h1m3 0h1m6 0h1m8 0h1m23 0h1m16 0h2m11 0h1m4 0h1m8 0h1m17 0h1m19 0h2m12 0h1m7 0h1m4 0h1m2 0h2m9 0h1m2 0h1m70 0h1m5 0h1m13 0h1m29 0h2m1 0h2m3 0h2m31 0h2m9 0h1m4 0h2M175 112.5h2m6 0h1m13 0h1m28 0h1m11 0h2m4 0h2m2 0h1m29 0h2m31 0h1m12 0h2m7 0h1m12 0h1m1 0h1m17 0h1m11 0h1m3 0h1m5 0h1m15 0h2m12 0h2m6 0h1m2 0h1m2 0h1m6 0h1m5 0h1m8 0h1m4 0h3m5 0h2m5 0h2m2 0h1m27 0h1m1 0h1m23 0h1m17 0h1m6 0h1m2 0h2m1 0h1m5 0h1m5 0h1m8 0h1m12 0h1m1 0h1m2 0h1m3 0h2m1 0h1m12 0h1m25 0h1m15 0h1m37 0h1m13 0h2m11 0h1m10 0h1m3 0h2m3 0h1m4 0h2m4 0h1m19 0h1m8 0h1m16 0h1m6 0h1m1 0h1m7 0h1m7 0h1m3 0h2m3 0h1m2 0h2m6 0h1m2 0h2m7 0h1m4 0h1m14 0h1m2 0h1m5 0h1m5 0h1m6 0h1m41 0h1m5 0h1m1 0h1m6 0h1M177 131.5h1m8 0h1m9 0h2m1 0h1m1 0h2m3 0h1m41 0h1m10 0h2m20 0h1m1 0h1m9 0h1m6 0h1m9 0h1m15 0h1m23 0h1m6 0h1m8 0h1m9 0h2m6 0h1m10 0h1m3 0h2m7 0h2m4 0h1m6 0h1m28 0h1m18 0h2m1 0h1m4 0h2m23 0h2m4 0h1m19 0h1m14 0h1m21 0h1m16 0h1m19 0h1m9 0h1m5 0h1m1 0h1m6 0h1m19 0h2m5 0h1m12 0h1m10 0h1m5 0h1m44 0h1m1 0h2m7 0h1m9 0h1m20 0h1m6 0h1m9 0h2m28 0h3m14 0h1m4 0h2m12 0h1m1 0h2m7 0h1m2 0h1m1 0h1m15 0h1m19 0h1m5 0h2m2 0h1m1 0h1m1 0h1m7 0h2m10 0h2m3 0h1m11 0h1M180 169.5h1m35 0h1m8 0h1m1 0h1m3 0h2m13 0h1m5 0h1m14 0h1m6 0h1m7 0h1m2 0h1m8 0h1m6 0h1m6 0h2m32 0h1m17 0h1m8 0h1m10 0h2m2 0h1m5 0h3m21 0h3m1 0h2m14 0h1m6 0h1m6 0h1m6 0h3m1 0h1m21 0h1m1 0h2m4 0h1m6 0h1m1 0h2m5 0h1m1 0h1m9 0h2m1 0h3m6 0h1m16 0h1m1 0h2m8 0h2m5 0h1m10 0h2m15 0h1m16 0h1m7 0h1m4 0h2m23 0h1m8 0h1m7 0h1m1 0h1m2 0h2m3 0h2m2 0h2m6 0h1m7 0h1m14 0h1m14 0h1m11 0h1m5 0h1m4 0h1m7 0h1m5 0h1m9 0h2m6 0h1m7 0h1m1 0h1m3 0h1m14 0h1m7 0h1m5 0h1m8 0h1m31 0h1m9 0h1m9 0h2m4 0h1m1 0h1m7 0h1m4 0h1m1 0h1m25 0h1m9 0h1m4 0h1m1 0h2m3 0h1m2 0h3m5 0h1M186 188.5h1m3 0h1m9 0h2m1 0h2m11 0h1m1 0h1m11 0h1m3 0h2m4 0h2m4 0h2m14 0h1m11 0h1m15 0h1m3 0h1m35 0h2m19 0h1m31 0h1m3 0h2m6 0h1m3 0h2m5 0h1m1 0h2m5 0h1m4 0h1m3 0h1m18 0h1m2 0h2m11 0h1m18 0h1m9 0h1m8 0h1m3 0h1m3 0h1m5 0h2m14 0h1m15 0h1m4 0h2m13 0h1m8 0h1m3 0h2m2 0h1m13 0h1m6 0h1m4 0h2m4 0h1m12 0h1m2 0h1m9 0h1m9 0h1m24 0h1m5 0h2m15 0h1m10 0h2m1 0h1m7 0h2m4 0h1m19 0h2m4 0h1m17 0h1m2 0h1m3 0h1m14 0h1m5 0h1m9 0h1m12 0h2m3 0h3m17 0h1m7 0h2m29 0h1m8 0h1m5 0h1m3 0h1m11 0h1m16 0h2m4 0h1m1 0h1m17 0h1M183 197.5h1m2 0h1m4 0h2m28 0h1m13 0h1m1 0h1m34 0h1m5 0h2m1 0h1m12 0h1m6 0h1m1 0h1m2 0h2m10 0h1m17 0h1m2 0h1m1 0h1m6 0h1m1 0h1m6 0h1m2 0h1m9 0h1m14 0h1m24 0h1m1 0h1m10 0h1m15 0h1m39 0h1m3 0h4m1 0h3m14 0h1m18 0h1m16 0h1m2 0h1m10 0h1m1 0h1m4 0h1m13 0h3m3 0h1m2 0h1m18 0h2m1 0h2m12 0h1m5 0h1m4 0h2m26 0h2m35 0h1m6 0h1m15 0h1m10 0h1m5 0h1m10 0h1m3 0h1m22 0h1m5 0h1m5 0h1m2 0h1m3 0h1m5 0h2m4 0h2m2 0h3m10 0h1m4 0h2m11 0h1m3 0h1m27 0h1m15 0h1m17 0h1m2 0h1m11 0h2m3 0h1m26 0h1m1 0h1m7 0h1m2 0h1M187 216.5h3m12 0h1m41 0h1m46 0h1m29 0h1m18 0h1m13 0h1m5 0h1m3 0h1m10 0h1m8 0h1m2 0h1m10 0h3m6 0h1m19 0h2m2 0h1m4 0h2m6 0h1m19 0h2m41 0h1m16 0h1m21 0h1m3 0h1m4 0h1m60 0h1m52 0h1m37 0h2m6 0h1m26 0h1m6 0h1m6 0h1m3 0h1m4 0h1m6 0h2m7 0h1m16 0h1m37 0h1m1 0h2m53 0h3m14 0h1m6 0h1m19 0h1m15 0h1M181 235.5h1m43 0h1m31 0h1m46 0h1m8 0h1m8 0h1m4 0h1m1 0h1m13 0h2m20 0h1m36 0h1m4 0h1m6 0h1m23 0h1m3 0h1m16 0h1m8 0h1m4 0h1m17 0h1m3 0h1m14 0h1m9 0h3m7 0h2m30 0h1m8 0h1m1 0h1m43 0h1m7 0h1m2 0h1m7 0h1m22 0h1m3 0h1m5 0h1m23 0h1m34 0h1m20 0h1m13 0h2m17 0h2m7 0h2m3 0h1m66 0h2m3 0h1m9 0h1m17 0h1m23 0h1m4 0h1m5 0h2m11 0h1m1 0h2M194 254.5h2m43 0h1m121 0h1m6 0h1m8 0h1m37 0h1m27 0h1m22 0h2m48 0h1m112 0h1M182 263.5h1m3 0h1m60 0h1m50 0h1m31 0h1m25 0h1m44 0h1m40 0h1m109 0h1M323 282.5h1m53 0h1m196 0h1m31 0h1M192 301.5h1m116 0h1m140 0h1m48 0h1m53 0h1M267 320.5h1m54 0h1m7 0h1m34 0h1m136 0h2m218 0h1M235 329.5h1m41 0h1m54 0h1m64 0h2m7 0h1m8 0h1m52 0h1m28 0h1M192 348.5h1m12 0h1m124 0h1M196 367.5h2m4 0h3m6 0h1m12 0h1m28 0h1m18 0h1m41 0h1m2 0h1m4 0h1m18 0h1m5 0h1m26 0h2m6 0h1m5 0h1m8 0h1m9 0h1m3 0h1m3 0h1m8 0h1m9 0h1m25 0h1m34 0h1m26 0h1m7 0h2m30 0h1m22 0h1m63 0h1m31 0h1m24 0h1m7 0h1m22 0h1m2 0h1m19 0h1m32 0h1m25 0h2m5 0h1m28 0h1m7 0h1m5 0h1m36 0h1m13 0h1m14 0h2m5 0h1m1 0h1m14 0h2M203 386.5h3m27 0h1m24 0h1m22 0h1m29 0h1m6 0h1m27 0h1m45 0h1m36 0h1m6 0h2m90 0h1m32 0h1m5 0h2m43 0h1m14 0h1m54 0h1m5 0h2m11 0h1m40 0h1m42 0h1m11 0h1m90 0h1m20 0h2m8 0h1M181 395.5h1m7 0h1m6 0h1m6 0h3m14 0h1m16 0h1m6 0h1m4 0h1m28 0h2m16 0h2m12 0h1m8 0h2m10 0h1m74 0h1m31 0h1m4 0h1m16 0h1m5 0h1m13 0h1m8 0h1m2 0h2m28 0h1m27 0h2m8 0h3m10 0h1m7 0h1m40 0h1m13 0h1m14 0h2m58 0h1m10 0h1m12 0h2m3 0h1m13 0h2m6 0h1m3 0h1m4 0h1m43 0h1m2 0h1m4 0h1m26 0h1m1 0h1m5 0h1m39 0h1m8 0h2m22 0h2m33 0h1M183 414.5h1m33 0h1m7 0h1m5 0h2m29 0h1m3 0h1m7 0h2m2 0h2m3 0h1m9 0h1m89 0h2m3 0h1m12 0h1m10 0h1m3 0h1m57 0h2m4 0h1m7 0h1m15 0h1m10 0h1m13 0h1m23 0h1m26 0h1m19 0h1m21 0h1m23 0h2m10 0h1m33 0h1m7 0h1m4 0h1m1 0h2m30 0h1m10 0h1m3 0h2m50 0h1m14 0h1m81 0h3m9 0h1m5 0h1m31 0h1m16 0h2M182 433.5h1m15 0h1m30 0h1m1 0h2m12 0h1m11 0h1m1 0h2m10 0h1m13 0h1m20 0h2m13 0h1m5 0h1m6 0h2m11 0h1m1 0h1m4 0h1m4 0h1m38 0h1m3 0h1m40 0h1m45 0h1m14 0h1m10 0h1m28 0h1m10 0h1m10 0h1m70 0h1m13 0h2m28 0h1m3 0h1m25 0h1m37 0h1m8 0h1m25 0h1m4 0h1m10 0h2m1 0h1m1 0h1m35 0h1m27 0h1m9 0h3m26 0h1m10 0h1m2 0h2m7 0h2m3 0h1m26 0h1M174 452.5h1m14 0h1m12 0h1m4 0h1m9 0h1m4 0h2m1 0h1m18 0h1m5 0h3m12 0h1m7 0h1m3 0h1m7 0h1m32 0h1m9 0h1m2 0h1m4 0h1m2 0h1m7 0h1m14 0h2m15 0h1m41 0h1m13 0h3m58 0h1m9 0h1m2 0h2m17 0h1m4 0h1m3 0h1m12 0h1m38 0h1m2 0h1m11 0h2m2 0h1m7 0h2m2 0h1m4 0h1m6 0h2m2 0h1m16 0h1m31 0h1m11 0h1m24 0h2m26 0h2m11 0h2m12 0h1m35 0h1m3 0h1m9 0h3m23 0h1m5 0h1m36 0h1m20 0h1m20 0h1m23 0h1m3 0h1M174 471.5h1m8 0h1m58 0h1m5 0h1m46 0h1m17 0h1m4 0h1m33 0h2m3 0h1m28 0h1m1 0h1m28 0h1m6 0h1m23 0h1m4 0h1m22 0h1m17 0h2m26 0h1m3 0h1m1 0h1m1 0h2m9 0h1m10 0h1m19 0h1m49 0h1m5 0h2m10 0h1m16 0h1m12 0h2m4 0h1m16 0h1m40 0h1m5 0h1m1 0h1m14 0h1m3 0h1m6 0h1m15 0h1m5 0h1m16 0h1m18 0h2m31 0h1m21 0h1m6 0h1m11 0h1m24 0h1m7 0h1m4 0h1m6 0h2m10 0h1M189 480.5h1m12 0h1m4 0h1m3 0h3m12 0h1m10 0h1m16 0h1m18 0h1m9 0h1m28 0h1m4 0h1m1 0h1m3 0h1m62 0h1m39 0h1m33 0h1m27 0h1m5 0h1m15 0h1m3 0h1m74 0h1m2 0h1m35 0h1m53 0h1m22 0h2m7 0h1m16 0h1m11 0h1m6 0h1m20 0h1m12 0h1m4 0h1m3 0h1m1 0h1m21 0h1m57 0h3m2 0h1m29 0h1m8 0h1m19 0h1M179 499.5h1m6 0h1m16 0h2m21 0h1m37 0h2m5 0h1m11 0h1m14 0h1m4 0h5m72 0h2m12 0h2m2 0h1m37 0h2m14 0h1m10 0h1m19 0h2m6 0h1m15 0h2m24 0h1m21 0h1m1 0h1m30 0h1m21 0h1m19 0h1m8 0h1m10 0h1m5 0h1m1 0h1m41 0h2m20 0h1m3 0h5m11 0h1m24 0h1m2 0h2m46 0h1m2 0h1m31 0h1m7 0h1m34 0h2m7 0h1m12 0h1m1 0h1m13 0h1M216 518.5h2m1 0h1m9 0h1m4 0h1m14 0h1m2 0h1m3 0h1m7 0h1m21 0h1m4 0h1m11 0h1m1 0h1m25 0h1m13 0h1m12 0h1m18 0h1m14 0h1m65 0h1m47 0h1m12 0h1m15 0h1m5 0h3m22 0h1m4 0h1m11 0h1m7 0h1m11 0h1m45 0h1m10 0h2m20 0h1m30 0h1m11 0h1m15 0h1m9 0h1m8 0h2m18 0h1m9 0h1m17 0h1m12 0h1m10 0h1m42 0h2m22 0h2m29 0h1m5 0h1m8 0h1m4 0h2m16 0h2M183 537.5h1m77 0h1m20 0h1m9 0h1m10 0h3m2 0h1m2 0h1m2 0h1m34 0h1m4 0h1m16 0h2m3 0h1m9 0h1m1 0h1m45 0h1m3 0h1m14 0h1m15 0h1m6 0h1m19 0h1m10 0h1m2 0h1m6 0h1m12 0h2m20 0h1m8 0h1m12 0h1m14 0h1m18 0h1m12 0h2m82 0h1m31 0h2m7 0h1m1 0h1m1 0h1m2 0h1m32 0h1m45 0h1m3 0h1m25 0h1m5 0h1m1 0h1m13 0h2m3 0h1m7 0h1m7 0h1m2 0h1m11 0h1m3 0h1m3 0h1m4 0h2m29 0h1M211 546.5h1m19 0h2m1 0h1m3 0h1m5 0h1m53 0h1m3 0h1m1 0h2m21 0h1m8 0h1m25 0h2m19 0h1m40 0h1m32 0h1m24 0h1m5 0h1m59 0h2m22 0h1m25 0h1m10 0h1m29 0h1m14 0h1m1 0h1m1 0h1m13 0h1m6 0h2m12 0h1m13 0h2m11 0h2m28 0h1m1 0h1m55 0h1m16 0h1m8 0h1m19 0h1m1 0h2m15 0h1m43 0h1m27 0h1m3 0h1m17 0h1M193 565.5h1m3 0h1m7 0h1m48 0h1m3 0h1m3 0h1m8 0h1m19 0h1m2 0h1m3 0h1m7 0h2m1 0h1m11 0h1m10 0h1m27 0h1m38 0h2m14 0h2m14 0h1m20 0h1m35 0h1m15 0h1m11 0h1m1 0h1m11 0h3m13 0h1m10 0h1m5 0h1m8 0h1m6 0h1m11 0h1m21 0h1m9 0h2m28 0h1m2 0h1m2 0h1m7 0h1m13 0h1m31 0h1m32 0h1m6 0h1m11 0h1m94 0h1m22 0h3m73 0h2M189 584.5h1m13 0h2m3 0h1m6 0h1m6 0h3m9 0h1m21 0h1m14 0h1m67 0h1m6 0h1m9 0h1m2 0h1m26 0h2m1 0h1m3 0h1m51 0h1m3 0h1m12 0h1m9 0h1m17 0h1m92 0h1m4 0h1m79 0h1m18 0h1m16 0h1m10 0h1m6 0h1m11 0h1m4 0h1m10 0h1m64 0h2m46 0h1m10 0h1m6 0h1m1 0h1m13 0h1m9 0h1m12 0h2m24 0h1M177 603.5h1m23 0h1m14 0h3m7 0h1m71 0h1m43 0h1m31 0h1m9 0h1m7 0h2m61 0h3m2 0h1m3 0h2m1 0h1m9 0h1m17 0h1m12 0h2m38 0h2m8 0h2m16 0h2m3 0h1m3 0h1m26 0h1m3 0h1m55 0h1m5 0h1m14 0h1m15 0h1m5 0h1m27 0h1m38 0h2m14 0h1m10 0h1m11 0h1m6 0h2m1 0h1m51 0h1m19 0h2m22 0h1m33 0h1m4 0h1M175 612.5h3m4 0h1m102 0h1m94 0h2m1 0h1m28 0h1m12 0h1m34 0h1m12 0h1m14 0h1m25 0h1m39 0h1m10 0h1m23 0h1m13 0h3m25 0h3m2 0h2m17 0h1m6 0h1m3 0h1m17 0h1m15 0h2m17 0h1m39 0h2m11 0h2m84 0h1m27 0h2m12 0h1m13 0h1m21 0h1m11 0h1m10 0h2m9 0h2M217 631.5h2m6 0h1m50 0h1m14 0h1m27 0h1m2 0h1m22 0h1m14 0h1m8 0h1m1 0h2m34 0h1m3 0h1m14 0h1m2 0h1m3 0h1m15 0h1m88 0h1m13 0h1m16 0h1m21 0h2m1 0h1m11 0h1m20 0h1m19 0h1m54 0h1m11 0h1m45 0h1m2 0h2m17 0h2m3 0h1m3 0h2m1 0h1m9 0h1m2 0h1m5 0h1m61 0h2m4 0h1m5 0h1m4 0h1m26 0h1m2 0h2m4 0h1m39 0h2M201 650.5h1m3 0h1m72 0h2m46 0h1m59 0h1m5 0h1m25 0h2m46 0h2m3 0h1m9 0h1m43 0h2m12 0h2m1 0h1m1 0h1m6 0h1m2 0h1m9 0h1m42 0h1m8 0h2m33 0h2m10 0h1m14 0h1m5 0h1m17 0h1m9 0h1m18 0h1m54 0h1m15 0h1m2 0h2m5 0h1m27 0h1m24 0h1m9 0h2m11 0h1m30 0h1m16 0h1m17 0h1M177 669.5h1m27 0h1m163 0h1m70 0h1m9 0h1m36 0h1m25 0h1m40 0h1m55 0h1m2 0h1m5 0h1m81 0h1m9 0h1m3 0h1m43 0h1m29 0h2m21 0h1m41 0h1m61 0h1m11 0h1m15 0h1m13 0h1m11 0h2M177 678.5h1m6 0h3m12 0h1m3 0h2m1 0h1m30 0h1m33 0h1m5 0h1m42 0h1m7 0h1m20 0h2m23 0h1m22 0h1m7 0h1m52 0h1m3 0h1m1 0h2m8 0h2m12 0h1m93 0h2m7 0h1m1 0h1m7 0h1m26 0h1m6 0h1m1 0h1m90 0h1m48 0h1m6 0h1m30 0h1m54 0h1m7 0h1m4 0h3m2 0h1m27 0h1m33 0h2m1 0h1m2 0h1m9 0h1M278 697.5h3m58 0h1m62 0h1m2 0h2m9 0h2m6 0h1m46 0h1m128 0h1m19 0h1m9 0h1m13 0h1m10 0h1m11 0h1m25 0h1m15 0h1m75 0h1m11 0h1m1 0h1m3 0h1m15 0h2m16 0h1m21 0h1m5 0h1m7 0h1m16 0h1m5 0h1m28 0h1M181 716.5h2m16 0h1m1 0h1m8 0h1m19 0h1m2 0h1m60 0h1m54 0h2m1 0h2m22 0h1m37 0h1m6 0h1m4 0h1m15 0h1m6 0h1m7 0h1m46 0h1m51 0h1m26 0h1m34 0h1m1 0h1m11 0h2m41 0h2m13 0h1m22 0h1m1 0h1m3 0h1m21 0h1m32 0h1m15 0h1m92 0h1m24 0h1m58 0h1M187 735.5h2m3 0h1m42 0h2m30 0h1m5 0h1m3 0h1m2 0h1m2 0h1m7 0h1m41 0h1m7 0h1m16 0h1m3 0h2m19 0h1m6 0h2m3 0h1m7 0h1m8 0h1m21 0h1m6 0h1m4 0h2m3 0h1m40 0h2m2 0h1m29 0h1m26 0h2m3 0h2m20 0h1m35 0h1m20 0h1m72 0h1m20 0h1m11 0h1m2 0h1m9 0h1m6 0h2m24 0h1m34 0h2m1 0h1m3 0h1m14 0h1m14 0h1m7 0h3m3 0h3m4 0h1m7 0h1m11 0h3m14 0h1m7 0h1m5 0h1m5 0h1m17 0h1M184 754.5h2m29 0h1m1 0h1m40 0h1m7 0h1m27 0h1m57 0h2m8 0h3m38 0h1m9 0h2m36 0h1m101 0h1m20 0h1m8 0h1m13 0h3m27 0h1m6 0h1m20 0h2m1 0h1m17 0h1m2 0h2m11 0h1m28 0h1m50 0h2m14 0h1m9 0h1m1 0h3m3 0h1m67 0h1m12 0h1m56 0h1m12 0h1M183 763.5h1m4 0h1m7 0h1m8 0h1m12 0h1m3 0h2m43 0h1m43 0h1m12 0h2m20 0h1m3 0h1m43 0h1m17 0h1m3 0h1m65 0h1m8 0h1m5 0h1m8 0h1m18 0h1m13 0h2m1 0h1m11 0h1m37 0h1m14 0h1m75 0h2m31 0h2m73 0h2m31 0h1m38 0h1m36 0h1m11 0h2m52 0h1M270 782.5h1m10 0h1m8 0h1m35 0h1m22 0h1m89 0h1m5 0h1m42 0h1m2 0h1m2 0h1m60 0h1m54 0h1m28 0h1m1 0h1m13 0h1m14 0h2m38 0h1m27 0h1m24 0h2m40 0h1m22 0h2m22 0h2m24 0h1m36 0h1m15 0h2m3 0h1m10 0h1M219 801.5h1m14 0h1m12 0h1m91 0h1m6 0h1m7 0h1m2 0h1m15 0h1m6 0h2m4 0h1m6 0h1m19 0h2m1 0h1m6 0h1m7 0h1m10 0h1m25 0h1m23 0h2m5 0h1m5 0h1m16 0h1m3 0h1m6 0h1m29 0h1m5 0h1m19 0h1m19 0h1m11 0h1m50 0h1m11 0h1m2 0h1m7 0h1m13 0h1m2 0h1m28 0h1m6 0h1m33 0h2m16 0h2m20 0h1m8 0h1m10 0h1m29 0h1m8 0h1m15 0h1m7 0h1m4 0h1m3 0h1M180 820.5h1m3 0h2m52 0h1m4 0h2m22 0h1m34 0h1m9 0h1m44 0h2m9 0h1m7 0h2m9 0h1m1 0h1m7 0h2m11 0h1m29 0h1m22 0h1m4 0h1m20 0h1m8 0h1m6 0h1m4 0h1m36 0h1m10 0h2m33 0h1m10 0h2m1 0h1m8 0h1m5 0h1m63 0h1m5 0h1m2 0h1m7 0h1m34 0h2m11 0h1m4 0h1m20 0h2m39 0h3m4 0h1m8 0h1m17 0h1m19 0h3m13 0h1m22 0h1m17 0h1m16 0h1m17 0h1M175 829.5h2m11 0h1m11 0h1m14 0h1m10 0h2m7 0h1m7 0h1m50 0h1m3 0h1m6 0h1m16 0h1m14 0h1m2 0h1m25 0h1m30 0h1m23 0h1m9 0h1m2 0h1m10 0h1m3 0h1m14 0h3m7 0h3m33 0h1m4 0h1m14 0h2m9 0h1m2 0h2m1 0h1m8 0h1m3 0h1m4 0h1m68 0h1m25 0h2m10 0h1m6 0h2m15 0h1m10 0h2m68 0h1m4 0h2m37 0h1m22 0h1m29 0h1m13 0h1m25 0h1m29 0h1m4 0h1M205 848.5h1m12 0h1m7 0h1m11 0h1m23 0h1m4 0h1m5 0h1m10 0h1m33 0h1m1 0h1m8 0h1m21 0h1m7 0h1m23 0h2m66 0h1m18 0h1m6 0h1m1 0h1m14 0h1m20 0h1m9 0h3m4 0h2m19 0h1m11 0h1m9 0h1m7 0h1m16 0h1m13 0h2m15 0h1m58 0h1m10 0h2m36 0h1m23 0h2m1 0h1m18 0h2m34 0h2m46 0h1m7 0h1m21 0h1m2 0h1m23 0h1m27 0h1M187 867.5h1m22 0h1m28 0h1m80 0h1m35 0h1m11 0h1m20 0h1m17 0h1m2 0h1m23 0h1m3 0h1m29 0h1m1 0h1m24 0h1m19 0h1m25 0h1m1 0h2m1 0h1m18 0h1m7 0h2m13 0h1m3 0h1m25 0h1m36 0h1m13 0h1m14 0h1m19 0h1m5 0h1m2 0h1m2 0h2m3 0h1m9 0h1m16 0h1m20 0h1m9 0h1m13 0h1m2 0h1m24 0h1m9 0h1m21 0h2m35 0h1m5 0h1m22 0h2m7 0h1m34 0h1m2 0h1m3 0h2M201 886.5h1m27 0h2m4 0h1m7 0h1m2 0h1m27 0h1m8 0h1m9 0h1m49 0h4m20 0h1m11 0h1m4 0h1m3 0h1m1 0h2m4 0h1m17 0h1m26 0h1m2 0h1m5 0h1m44 0h1m4 0h1m23 0h1m11 0h1m10 0h1m7 0h1m13 0h1m6 0h2m10 0h1m28 0h1m12 0h1m6 0h1m30 0h1m1 0h2m35 0h2m3 0h1m5 0h1m3 0h1m14 0h1m18 0h2m14 0h2m4 0h2m10 0h1m9 0h2m66 0h1m19 0h2m2 0h1m35 0h1m23 0h1m14 0h1m2 0h2M174 895.5h1m12 0h1m19 0h1m9 0h1m25 0h1m13 0h1m22 0h1m1 0h1m10 0h1m1 0h1m14 0h1m6 0h1m89 0h1m45 0h1m4 0h1m15 0h2m2 0h1m7 0h1m7 0h1m7 0h2m4 0h1m1 0h1m15 0h1m28 0h1m37 0h1m5 0h1m25 0h1m81 0h2m25 0h1m21 0h1m3 0h2m62 0h1m29 0h1m19 0h3m14 0h1m2 0h2m10 0h1m17 0h1m27 0h2M186 914.5h1m1 0h1m4 0h1m8 0h1m16 0h1m8 0h1m1 0h1m11 0h1m1 0h1m29 0h1m11 0h3m2 0h2m7 0h1m18 0h1m3 0h1m8 0h1m3 0h1m1 0h1m1 0h1m7 0h1m7 0h1m3 0h1m1 0h2m7 0h2m35 0h2m6 0h1m17 0h1m15 0h1m35 0h1m15 0h2m10 0h1m13 0h1m5 0h1m13 0h2m5 0h1m75 0h1m3 0h1m4 0h1m16 0h1m1 0h1m2 0h1m3 0h1m30 0h1m17 0h1m22 0h1m3 0h1m16 0h1m1 0h1m9 0h3m1 0h1m13 0h1m17 0h1m14 0h1m13 0h1m21 0h1m25 0h2m31 0h1m2 0h1m8 0h1m3 0h1m21 0h1m7 0h1M181 933.5h1m26 0h2m11 0h1m16 0h4m24 0h1m9 0h1m13 0h1m1 0h1m34 0h1m19 0h1m6 0h1m2 0h1m10 0h1m15 0h1m11 0h2m1 0h2m7 0h3m2 0h1m10 0h1m4 0h2m15 0h2m11 0h1m29 0h1m2 0h2m3 0h1m1 0h1m33 0h1m2 0h1m30 0h2m15 0h1m44 0h1m2 0h2m1 0h1m30 0h1m19 0h1m19 0h1m14 0h1m41 0h2m6 0h3m3 0h1m6 0h1m6 0h2m5 0h1m5 0h1m7 0h1m9 0h1m3 0h1m28 0h1m8 0h1m5 0h1m64 0h1m4 0h2m5 0h1m13 0h1"/>
<path stroke="#e9ff0e" stroke-width="10" d="M198 75h2m11 0h1m23 0h3m6 0h1m14 0h2m4 0h1m1 0h1m6 0h1m3 0h2m12 0h1m6 0h1m15 0h2m4 0h1m18 0h1m26 0h2m7 0h1m1 0h1m10 0h3m3 0h2m16 0h1m2 0h1m5 0h1m7 0h1m2 0h1m19 0h1m5 0h1m8 0h1m8 0h1m13 0h3m7 0h1m4 0h1m1 0h1m33 0h2m34 0h1m12 0h1m5 0h1m4 0h5m10 0h2m4 0h2m9 0h1m20 0h1m2 0h1m34 0h1m3 0h1m6 0h1m10 0h1m9 0h1m33 0h1m3 0h2m2 0h1m4 0h2m12 0h2m5 0h1m4 0h1m14 0h1m2 0h1m1 0h3m7 0h3m12 0h1m19 0h2m9 0h1m18 0h1m12 0h1m1 0h1m27 0h1m1 0h1m15 0h1m8 0h1M175 94h2m6 0h1m10 0h3m27 0h1m2 0h1m8 0h1m1 0h1m4 0h1m2 0h1m27 0h3m14 0h1m23 0h2m5 0h1m17 0h1m9 0h1m4 0h1m3 0h1m6 0h1m3 0h3m10 0h1m1 0h1m4 0h3m23 0h1m10 0h2m1 0h2m10 0h1m7 0h1m11 0h1m5 0h1m9 0h1m1 0h1m27 0h1m7 0h1m31 0h2m14 0h1m21 0h2m3 0h1m5 0h2m1 0h1m2 0h1m19 0h2m9 0h1m31 0h2m9 0h1m12 0h1m5 0h1m1 0h2m7 0h2m1 0h2m13 0h1m6 0h1m4 0h1m1 0h1m1 0h1m4 0h1m4 0h1m1 0h1m13 0h1m2 0h1m5 0h1m2 0h2m8 0h1m3 0h1m16 0h2m2 0h1m19 0h2m13 0h1m9 0h1m19 0h1m3 0h1m3 0h1m1 0h1m13 0h2m2 0h1m3 0h3m12 0h2m9 0h1m2 0h2m2 0h1M194 122h2m5 0h2m3 0h1m1 0h1m5 0h1m15 0h1m13 0h1m2 0h1m19 0h1m9 0h1m11 0h1m3 0h1m5 0h1m4 0h1m7 0h1m18 0h1m4 0h1m1 0h1m8 0h1m8 0h1m1 0h1m21 0h2m2 0h1m2 0h1m5 0h1m18 0h1m9 0h1m10 0h1m5 0h1m2 0h1m7 0h1m3 0h1m8 0h1m7 0h1m8 0h1m1 0h1m6 0h1m2 0h2m1 0h1m9 0h1m17 0h1m8 0h1m1 0h2m14 0h1m4 0h1m4 0h1m8 0h1m1 0h1m3 0h1m4 0h1m10 0h2m13 0h1m27 0h1m3 0h1m2 0h1m11 0h2m8 0h1m23 0h1m23 0h1m11 0h1m15 0h1m49 0h1m1 0h3m28 0h1m5 0h2m3 0h1m8 0h1m4 0h2m2 0h1m3 0h1m9 0h1m7 0h1m9 0h3m8 0h2m2 0h1m8 0h1m28 0h1m2 0h3m25 0h1M173 141h1m14 0h1m3 0h1m3 0h1m9 0h1m8 0h1m12 0h1m25 0h1m1 0h2m8 0h1m1 0h2m12 0h1m10 0h1m16 0h1m11 0h1m25 0h2m26 0h1m9 0h1m9 0h1m18 0h1m4 0h1m1 0h1m45 0h2m10 0h2m3 0h1m4 0h1m6 0h1m29 0h1m6 0h1m6 0h1m5 0h1m3 0h1m5 0h1m2 0h1m3 0h1m2 0h2m5 0h1m3 0h1m6 0h1m40 0h1m9 0h1m8 0h1m11 0h1m8 0h1m1 0h2m4 0h1m18 0h1m13 0h2m2 0h1m13 0h1m7 0h1m5 0h2m9 0h1m2 0h1m33 0h1m24 0h1m24 0h4m1 0h1m2 0h2m7 0h2m4 0h1m4 0h1m2 0h1m1 0h1m12 0h1m16 0h1m1 0h1m25 0h1m38 0h1m2 0h2M173 160h2m3 0h1m29 0h1m25 0h1m1 0h1m8 0h2m2 0h1m13 0h1m13 0h1m16 0h1m22 0h1m5 0h1m5 0h1m4 0h2m12 0h1m2 0h1m6 0h1m1 0h2m6 0h1m8 0h1m24 0h1m7 0h1m10 0h1m13 0h1m13 0h1m13 0h1m8 0h1m27 0h1m4 0h2m6 0h1m11 0h1m17 0h1m18 0h1m35 0h1m1 0h1m2 0h1m3 0h1m2 0h1m9 0h1m8 0h1m6 0h2m3 0h1m6 0h2m6 0h1m2 0h1m3 0h1m8 0h1m2 0h1m2 0h1m8 0h1m6 0h1m2 0h1m6 0h1m1 0h1m6 0h1m2 0h2m3 0h1m9 0h1m3 0h2m2 0h1m9 0h1m19 0h2m20 0h2m2 0h1m1 0h2m6 0h2m2 0h1m17 0h3m8 0h2m12 0h1m12 0h1m15 0h1m14 0h1m5 0h1m8 0h1m4 0h3m3 0h2m2 0h1m6 0h1m3 0h1m2 0h2m1 0h1m6 0h2m4 0h1m5 0h1m3 0h1M190 179h1m2 0h1m24 0h2m17 0h1m25 0h1m2 0h1m19 0h1m4 0h2m2 0h1m2 0h1m5 0h1m3 0h1m6 0h4m12 0h1m2 0h2m4 0h1m2 0h2m4 0h1m4 0h1m13 0h1m9 0h1m5 0h1m4 0h3m2 0h1m7 0h1m30 0h1m2 0h2m5 0h1m4 0h1m8 0h1m18 0h1m12 0h1m18 0h1m4 0h1m2 0h1m10 0h1m2 0h2m6 0h1m17 0h1m1 0h2m9 0h1m29 0h1m1 0h1m7 0h3m15 0h1m39 0h1m15 0h1m10 0h2m8 0h1m5 0h1m9 0h1m8 0h1m8 0h2m10 0h1m5 0h4m5 0h1m3 0h1m68 0h2m19 0h1m3 0h1m6 0h1m7 0h1m3 0h1m10 0h1m5 0h1m2 0h1m16 0h1m2 0h2m5 0h1m4 0h1m14 0h1m5 0h1m1 0h1m4 0h1m1 0h1m5 0h2M186 226h1m37 0h2m1 0h3m16 0h1m38 0h1m24 0h1m13 0h2m26 0h2m22 0h1m132 0h1m24 0h1m12 0h1m21 0h1m4 0h1m31 0h1m41 0h1m21 0h3m2 0h2m54 0h1m20 0h1m27 0h1m27 0h1m5 0h1m1 0h1m56 0h1m4 0h1m8 0h1m22 0h1m9 0h1m27 0h1M173 245h1m25 0h1m78 0h2m10 0h1m130 0h1m38 0h1m7 0h1m66 0h1m29 0h1M174 273h1m167 0h1m133 0h1m66 0h1m6 0h1m16 0h2m1 0h1m2 0h1m7 0h1m52 0h1m81 0h2M334 292h2m47 0h1m140 0h1m51 0h2m21 0h1m27 0h1M207 311h1m8 0h1m29 0h1m39 0h1m27 0h1m96 0h1m23 0h1m38 0h2m12 0h1m17 0h1m50 0h1m6 0h1m51 0h1m23 0h1M209 339h1m118 0h1m17 0h1m105 0h1M291 358h1m46 0h1m82 0h1m19 0h1m36 0h1m30 0h1m1 0h2m56 0h1m1 0h1m23 0h2m88 0h1m35 0h1M174 377h1m15 0h1m7 0h1m2 0h1m9 0h1m3 0h1m42 0h1m61 0h1m22 0h2m21 0h1m16 0h1m34 0h2m4 0h1m9 0h1m48 0h2m17 0h2m12 0h1m3 0h3m56 0h2m22 0h1m21 0h2m58 0h1m2 0h2m3 0h1m10 0h1m36 0h1m9 0h1m2 0h2m4 0h1m2 0h2m72 0h1m36 0h1m61 0h1m31 0h2M205 405h1m9 0h1m23 0h1m14 0h1m2 0h4m2 0h1m31 0h1m5 0h1m13 0h6m18 0h1m17 0h2m21 0h2m116 0h1m44 0h1m10 0h1m57 0h1m27 0h1m29 0h2m30 0h1m47 0h1m77 0h2m44 0h1m3 0h1m9 0h1m11 0h1m10 0h1m16 0h2m7 0h1m9 0h1m1 0h1m2 0h2M174 424h1m121 0h2m14 0h2m9 0h1m2 0h1m6 0h4m17 0h1m4 0h1m11 0h2m4 0h2m5 0h1m5 0h2m28 0h2m18 0h2m11 0h1m16 0h1m1 0h1m60 0h1m16 0h1m57 0h1m14 0h2m33 0h1m15 0h1m3 0h1m7 0h1m8 0h1m19 0h1m3 0h1m13 0h1m10 0h2m10 0h1m1 0h2m6 0h1m36 0h1m17 0h1m2 0h1m35 0h1m40 0h1m4 0h1m1 0h1m7 0h1m3 0h1m28 0h1M178 443h1m7 0h1m21 0h1m7 0h1m7 0h1m15 0h2m38 0h2m11 0h1m60 0h2m67 0h1m9 0h1m28 0h1m16 0h1m33 0h1m3 0h1m14 0h1m4 0h1m4 0h1m3 0h1m10 0h1m3 0h1m33 0h2m11 0h1m4 0h1m17 0h1m13 0h1m3 0h1m88 0h1m15 0h2m1 0h1m12 0h1m36 0h1m11 0h2m30 0h1m8 0h1m29 0h1m20 0h1m5 0h1m32 0h2M174 462h1m23 0h1m11 0h1m9 0h2m2 0h1m1 0h1m19 0h1m9 0h1m21 0h2m61 0h1m29 0h3m8 0h1m1 0h1m20 0h1m48 0h1m4 0h1m4 0h2m13 0h1m3 0h2m7 0h2m10 0h1m9 0h1m29 0h1m28 0h1m20 0h1m25 0h1m14 0h1m18 0h1m23 0h1m14 0h1m3 0h1m20 0h1m35 0h2m1 0h1m11 0h1m23 0h1m1 0h1m1 0h1m21 0h2m4 0h1m6 0h1m25 0h1m43 0h1m23 0h2m16 0h1m9 0h1m8 0h1M209 490h1m14 0h1m18 0h1m12 0h1m8 0h2m8 0h1m17 0h1m4 0h1m10 0h1m1 0h1m2 0h1m7 0h1m16 0h1m6 0h1m9 0h1m7 0h1m8 0h1m18 0h1m6 0h2m2 0h1m7 0h1m21 0h1m62 0h1m31 0h2m12 0h1m3 0h1m72 0h1m3 0h2m4 0h1m23 0h2m8 0h1m2 0h1m7 0h1m1 0h1m32 0h1m3 0h1m53 0h1m17 0h1m20 0h1m1 0h1m26 0h2m38 0h3m2 0h1m38 0h1m11 0h2m6 0h1m8 0h1m5 0h1m3 0h1M173 509h1m56 0h1m26 0h1m6 0h1m7 0h1m22 0h1m26 0h1m7 0h2m5 0h2m3 0h1m8 0h1m27 0h1m38 0h2m11 0h1m1 0h1m26 0h1m10 0h1m4 0h1m6 0h2m3 0h1m7 0h1m9 0h1m4 0h2m2 0h1m13 0h1m16 0h1m7 0h1m27 0h1m5 0h1m1 0h1m2 0h1m27 0h1m19 0h1m5 0h1m25 0h1m38 0h1m27 0h1m9 0h1m10 0h1m10 0h2m13 0h1m6 0h1m8 0h1m15 0h3m40 0h1m36 0h1m11 0h1m35 0h1M216 528h1m3 0h1m3 0h1m8 0h1m1 0h1m11 0h1m19 0h1m12 0h1m5 0h1m13 0h2m4 0h2m6 0h1m9 0h2m6 0h1m15 0h1m10 0h1m5 0h1m1 0h1m5 0h1m19 0h1m3 0h1m6 0h1m12 0h1m16 0h1m22 0h1m72 0h2m2 0h1m2 0h1m9 0h1m77 0h1m1 0h1m27 0h1m35 0h1m6 0h2m3 0h1m8 0h1m9 0h1m48 0h1m22 0h1m3 0h1m5 0h1m1 0h1m1 0h1m3 0h2m47 0h1m6 0h1m8 0h1m2 0h2m8 0h1m5 0h1m6 0h2m25 0h1m24 0h1m6 0h1M192 556h1m15 0h1m18 0h1m8 0h1m33 0h1m6 0h1m37 0h2m44 0h1m30 0h1m45 0h1m11 0h1m16 0h1m1 0h1m12 0h1m17 0h1m32 0h1m3 0h1m17 0h1m18 0h2m40 0h1m8 0h1m4 0h1m41 0h1m5 0h1m58 0h1m11 0h1m8 0h1m12 0h1m52 0h1m10 0h1m27 0h1m19 0h1m3 0h1m4 0h1m5 0h1m13 0h2m6 0h1m7 0h1m4 0h1m24 0h1m3 0h1m1 0h2M173 575h1m14 0h1m3 0h1m6 0h1m9 0h1m45 0h2m4 0h1m4 0h1m22 0h1m25 0h2m33 0h2m6 0h1m8 0h1m20 0h1m6 0h1m15 0h2m45 0h1m5 0h2m5 0h1m6 0h1m18 0h1m16 0h1m20 0h1m6 0h1m3 0h1m3 0h1m5 0h1m19 0h2m7 0h1m33 0h1m5 0h1m13 0h1m20 0h2m1 0h1m3 0h1m9 0h2m8 0h1m19 0h2m2 0h1m7 0h1m14 0h3m5 0h1m24 0h1m16 0h1m11 0h1m30 0h1m35 0h1m5 0h1m17 0h1m11 0h1m27 0h1m20 0h1m14 0h1M218 594h1m3 0h2m26 0h2m63 0h2m40 0h1m6 0h1m3 0h1m14 0h1m61 0h1m33 0h1m9 0h1m2 0h2m22 0h1m3 0h2m5 0h1m7 0h1m10 0h1m20 0h2m51 0h1m61 0h1m49 0h2m9 0h1m35 0h1m2 0h2m16 0h2m14 0h1m7 0h2m43 0h1m3 0h1m4 0h1m58 0h1m12 0h2m10 0h1m2 0h1m2 0h2M198 622h1m44 0h1m1 0h1m31 0h1m9 0h2m20 0h1m44 0h1m1 0h1m4 0h1m15 0h1m12 0h2m43 0h1m12 0h1m8 0h1m8 0h1m21 0h3m45 0h1m20 0h1m5 0h1m8 0h1m15 0h1m12 0h1m2 0h2m2 0h1m50 0h1m8 0h1m1 0h2m1 0h1m17 0h1m10 0h2m53 0h1m32 0h1m12 0h1m14 0h1m33 0h1m2 0h1m4 0h1m17 0h1m7 0h1m4 0h1m1 0h1m21 0h1m51 0h3M184 641h2m3 0h1m65 0h1m5 0h1m1 0h1m9 0h1m57 0h1m19 0h1m5 0h1m7 0h1m22 0h1m1 0h2m4 0h1m5 0h1m13 0h1m31 0h1m1 0h1m19 0h1m8 0h1m20 0h1m13 0h1m12 0h1m89 0h1m1 0h1m3 0h2m7 0h2m25 0h1m2 0h2m96 0h1m7 0h1m5 0h1m41 0h1m49 0h2m30 0h1m9 0h1m29 0h1m31 0h2M202 660h1m3 0h1m7 0h2m67 0h1m1 0h1m10 0h2m32 0h1m33 0h2m14 0h2m30 0h1m19 0h1m27 0h1m40 0h1m9 0h2m40 0h1m4 0h2m50 0h1m26 0h1m11 0h1m10 0h2m41 0h1m25 0h1m30 0h1m23 0h1m8 0h1m2 0h1m31 0h2m38 0h1m42 0h1m5 0h1m1 0h1m1 0h1m8 0h1m4 0h2m8 0h1m3 0h1m12 0h1m1 0h1m1 0h1M229 688h1m4 0h1m8 0h1m48 0h1m113 0h1m3 0h1m27 0h1m59 0h1m33 0h1m6 0h2m9 0h1m16 0h2m6 0h3m10 0h1m10 0h1m1 0h1m19 0h1m16 0h1m1 0h1m23 0h2m19 0h1m11 0h1m4 0h1m3 0h1m3 0h1m18 0h2m6 0h1m12 0h1m18 0h1m10 0h1m77 0h1m4 0h1m44 0h1m13 0h2m10 0h1m23 0h3m3 0h1M194 707h2m1 0h1m39 0h1m1 0h1m12 0h1m23 0h1m16 0h1m2 0h2m48 0h1m11 0h1m10 0h1m7 0h1m61 0h2m12 0h1m3 0h1m18 0h1m42 0h1m14 0h1m22 0h1m14 0h1m37 0h1m2 0h1m5 0h1m36 0h1m21 0h1m13 0h1m22 0h1m16 0h1m29 0h1m7 0h1m31 0h1m48 0h2m38 0h1m4 0h1m14 0h1m3 0h1m19 0h1m28 0h1M193 726h1m17 0h1m10 0h2m3 0h1m49 0h1m12 0h1m18 0h1m12 0h1m41 0h1m8 0h1m4 0h1m8 0h1m9 0h1m18 0h1m7 0h1m13 0h1m15 0h1m18 0h1m17 0h1m14 0h1m59 0h1m33 0h1m2 0h1m2 0h1m1 0h2m29 0h1m18 0h1m6 0h1m7 0h1m60 0h1m13 0h1m8 0h1m21 0h1m26 0h1m15 0h1m9 0h1m5 0h2m46 0h1m43 0h1m26 0h1M222 745h2m70 0h1m7 0h1m31 0h2m67 0h1m107 0h2m30 0h1m21 0h1m42 0h1m10 0h1m3 0h2m11 0h1m10 0h1m76 0h1m37 0h1m13 0h1m16 0h1m15 0h1m7 0h1m88 0h1m3 0h1m25 0h1M175 773h2m5 0h1m26 0h1m51 0h1m1 0h1m11 0h1m39 0h2m33 0h1m5 0h1m5 0h2m22 0h1m14 0h1m27 0h1m41 0h1m19 0h1m14 0h1m4 0h3m5 0h1m13 0h1m14 0h2m10 0h1m5 0h1m17 0h1m8 0h1m38 0h2m105 0h1m30 0h1m26 0h1m84 0h2m19 0h3m12 0h2m5 0h1m8 0h1m14 0h1m5 0h1M181 792h1m20 0h1m17 0h1m6 0h2m25 0h1m35 0h1m15 0h2m63 0h2m20 0h1m2 0h1m6 0h1m3 0h1m8 0h1m62 0h1m99 0h1m13 0h1m8 0h1m9 0h2m21 0h1m18 0h2m12 0h1m3 0h1m6 0h2m21 0h1m2 0h1m13 0h1m8 0h1m32 0h1m24 0h1m29 0h1m24 0h1m19 0h1m13 0h2m34 0h1M174 811h1m2 0h1m6 0h2m23 0h1m54 0h1m2 0h1m49 0h1m15 0h1m3 0h1m32 0h1m52 0h1m15 0h1m17 0h2m7 0h1m1 0h1m1 0h3m6 0h1m10 0h1m1 0h3m14 0h2m3 0h1m3 0h1m26 0h1m1 0h3m36 0h2m12 0h1m5 0h1m13 0h1m13 0h1m24 0h1m33 0h1m9 0h1m7 0h1m14 0h2m18 0h1m19 0h1m19 0h1m3 0h1m33 0h2m12 0h2m19 0h1m1 0h1m7 0h1m17 0h1m23 0h1m7 0h1m9 0h1m10 0h2m7 0h1m18 0h2M193 839h1m5 0h1m12 0h2m14 0h1m14 0h1m23 0h1m10 0h2m12 0h2m17 0h1m1 0h1m9 0h1m5 0h1m6 0h1m13 0h1m27 0h1m6 0h1m4 0h2m12 0h1m1 0h1m13 0h1m28 0h2m21 0h1m33 0h1m4 0h2m19 0h1m17 0h1m1 0h2m7 0h1m18 0h2m29 0h2m1 0h2m5 0h1m1 0h2m20 0h1m1 0h1m8 0h1m10 0h1m11 0h2m19 0h1m17 0h1m22 0h1m25 0h1m41 0h1m39 0h1m24 0h1m14 0h1m22 0h2m1 0h2m8 0h1m1 0h1m3 0h3m21 0h1M240 858h2m10 0h1m1 0h2m6 0h1m17 0h1m2 0h1m7 0h2m17 0h1m18 0h1m17 0h1m9 0h1m10 0h1m15 0h1m1 0h1m3 0h3m5 0h1m2 0h1m8 0h1m24 0h1m12 0h2m3 0h1m15 0h1m2 0h1m6 0h2m17 0h1m11 0h3m1 0h2m1 0h1m9 0h1m13 0h2m13 0h1m6 0h1m9 0h1m11 0h1m6 0h1m14 0h1m1 0h1m1 0h1m9 0h1m22 0h2m10 0h1m16 0h1m8 0h1m15 0h2m18 0h1m16 0h2m11 0h1m3 0h1m14 0h1m2 0h1m4 0h1m11 0h1m9 0h1m11 0h1m11 0h1m22 0h1m1 0h1m5 0h1m21 0h1m2 0h1m27 0h1m6 0h2m16 0h1m5 0h3m8 0h1m17 0h1M173 877h1m4 0h1m7 0h1m18 0h1m1 0h1m1 0h1m14 0h1m6 0h2m14 0h1m13 0h1m6 0h2m12 0h1m6 0h1m2 0h1m58 0h1m8 0h1m9 0h1m61 0h1m33 0h1m21 0h1m6 0h1m10 0h1m12 0h1m4 0h1m2 0h1m16 0h1m34 0h1m32 0h1m5 0h1m2 0h1m8 0h1m19 0h1m2 0h1m11 0h1m3 0h3m13 0h1m5 0h1m6 0h2m4 0h1m23 0h1m4 0h1m40 0h1m52 0h1m63 0h1m43 0h1m3 0h1m16 0h1m9 0h1M178 905h1m8 0h1m2 0h1m10 0h1m22 0h1m1 0h1m2 0h2m40 0h1m3 0h1m10 0h1m39 0h1m52 0h1m21 0h1m31 0h1m44 0h1m17 0h1m26 0h1m21 0h1m24 0h1m9 0h1m26 0h1m6 0h2m39 0h1m13 0h1m3 0h1m17 0h1m4 0h1m1 0h2m14 0h1m8 0h1m10 0h3m2 0h1m2 0h1m35 0h1m5 0h2m11 0h1m2 0h3m2 0h1m2 0h1m4 0h1m7 0h2m15 0h2m9 0h1m33 0h1m16 0h1m26 0h1m1 0h1m5 0h1m8 0h2M174 924h1m8 0h1m26 0h2m38 0h3m4 0h1m8 0h1m3 0h1m9 0h1m6 0h2m4 0h1m1 0h1m14 0h1m12 0h1m33 0h1m12 0h1m9 0h2m22 0h1m1 0h1m9 0h1m4 0h1m4 0h1m7 0h1m19 0h1m5 0h1m24 0h1m12 0h1m10 0h2m2 0h1m24 0h1m4 0h1m3 0h3m10 0h1m14 0h3m6 0h1m9 0h1m11 0h1m1 0h1m4 0h3m2 0h1m12 0h1m8 0h1m28 0h1m20 0h1m7 0h3m20 0h1m10 0h1m8 0h1m5 0h1m11 0h1m40 0h2m1 0h1m5 0h3m3 0h1m3 0h2m15 0h1m18 0h1m25 0h1m16 0h1m17 0h1m3 0h1m25 0h1m16 0h1M174 943h1m22 0h1m8 0h1m1 0h1m2 0h1m8 0h1m14 0h1m1 0h1m1 0h1m2 0h1m3 0h1m3 0h2m5 0h1m13 0h1m1 0h1m6 0h1m21 0h1m1 0h1m19 0h2m1 0h1m5 0h3m6 0h1m5 0h2m1 0h1m7 0h1m10 0h1m25 0h1m1 0h1m32 0h1m7 0h1m5 0h1m7 0h2m3 0h1m23 0h3m7 0h2m8 0h2m30 0h1m38 0h1m1 0h1m2 0h1m13 0h1m2 0h2m1 0h1m3 0h1m19 0h1m5 0h1m9 0h1m3 0h2m24 0h1m8 0h2m11 0h1m6 0h1m2 0h2m36 0h1m8 0h2m12 0h1m17 0h1m15 0h1m6 0h1m12 0h1m15 0h1m3 0h1m2 0h2m14 0h2m3 0h1m15 0h2m5 0h2m9 0h1m2 0h1m2 0h1m8 0h1m15 0h2m9 0h2m6 0h1m6 0h3m4 0h1m3 0h1"/>
<path stroke="#f5f701" stroke-width="9" d="M184 65.5h3m4 0h2m12 0h1m1 0h1m32 0h2m6 0h1m6 0h1m5 0h2m2 0h1m1 0h1m3 0h1m14 0h1m4 0h1m3 0h1m22 0h1m10 0h1m15 0h1m44 0h2m2 0h1m13 0h3m12 0h1m36 0h2m4 0h1m16 0h2m21 0h1m2 0h1m19 0h1m7 0h1m4 0h1m48 0h2m1 0h1m13 0h1m5 0h2m13 0h1m7 0h2m5 0h1m19 0h1m5 0h2m13 0h1m2 0h2m22 0h1m6 0h1m3 0h3m6 0h1m9 0h1m1 0h2m10 0h1m4 0h1m4 0h3m26 0h1m2 0h1m5 0h1m18 0h1m1 0h1m5 0h2m5 0h2m18 0h1m14 0h2m14 0h1m2 0h1m6 0h1m2 0h1m26 0h1m10 0h2m3 0h1m15 0h2m5 0h2M182 84.5h1m5 0h1m1 0h1m3 0h2m4 0h1m2 0h2m6 0h1m18 0h1m14 0h1m7 0h2m2 0h1m5 0h1m1 0h1m24 0h1m18 0h1m1 0h1m46 0h1m6 0h1m7 0h2m15 0h2m7 0h2m16 0h1m50 0h1m7 0h1m6 0h2m10 0h1m5 0h1m2 0h1m10 0h1m2 0h1m1 0h2m14 0h1m8 0h1m10 0h1m6 0h1m8 0h1m1 0h1m6 0h1m4 0h2m6 0h1m8 0h1m10 0h2m2 0h1m10 0h1m4 0h1m3 0h1m3 0h2m2 0h1m2 0h1m48 0h2m9 0h1m1 0h1m19 0h2m2 0h2m2 0h1m16 0h1m5 0h1m43 0h2m5 0h1m2 0h1m2 0h3m8 0h1m2 0h1m3 0h1m63 0h2m17 0h1m6 0h1m29 0h1M200 150.5h1m14 0h1m1 0h1m17 0h2m7 0h1m7 0h1m5 0h1m15 0h3m6 0h1m1 0h1m1 0h2m5 0h1m4 0h1m11 0h1m10 0h1m15 0h1m10 0h1m2 0h2m1 0h1m8 0h1m24 0h3m2 0h1m22 0h1m11 0h1m2 0h3m10 0h1m6 0h1m9 0h1m11 0h2m7 0h2m7 0h2m15 0h1m3 0h2m15 0h3m4 0h2m3 0h1m4 0h1m8 0h1m6 0h2m10 0h1m3 0h1m2 0h1m3 0h5m18 0h1m1 0h1m7 0h1m1 0h1m9 0h1m31 0h1m2 0h1m3 0h2m4 0h1m1 0h1m5 0h1m9 0h1m2 0h1m2 0h1m11 0h1m25 0h1m3 0h1m3 0h2m5 0h1m11 0h1m8 0h1m4 0h1m23 0h1m8 0h1m4 0h1m10 0h2m11 0h1m2 0h1m2 0h2m7 0h2m8 0h4m10 0h2m54 0h1m13 0h2m14 0h1M179 216.5h1m13 0h1m3 0h1m59 0h1m31 0h1m28 0h1m28 0h1m3 0h1m30 0h1m3 0h1m43 0h1m26 0h2m4 0h1m12 0h1m4 0h1m8 0h2m34 0h1m27 0h1m5 0h1m46 0h1m36 0h1m12 0h1m14 0h2m9 0h1m36 0h1m26 0h1m11 0h1m1 0h1m6 0h1m2 0h1m14 0h1m20 0h1m11 0h2m1 0h2m30 0h1m20 0h2m23 0h1m1 0h1m2 0h1m21 0h1m27 0h2M190 235.5h1m1 0h2m7 0h1m1 0h2m16 0h1m49 0h1m18 0h1m14 0h1m3 0h1m1 0h1m19 0h1m7 0h1m1 0h2m2 0h1m9 0h1m27 0h1m2 0h1m34 0h1m39 0h1m12 0h2m18 0h1m14 0h1m4 0h1m10 0h1m17 0h1m16 0h1m13 0h1m4 0h1m3 0h1m6 0h1m2 0h1m3 0h1m23 0h1m5 0h1m20 0h1m17 0h1m15 0h1m30 0h1m10 0h1m6 0h1m1 0h1m3 0h1m2 0h1m6 0h2m4 0h1m3 0h1m17 0h1m14 0h1m24 0h1m22 0h2m4 0h1m2 0h2m24 0h1m15 0h1m3 0h1m25 0h1m7 0h2m41 0h2M242 254.5h1m28 0h1m29 0h1m82 0h1m13 0h1m8 0h1m15 0h1m5 0h1m56 0h1m311 0h1M265 263.5h1m12 0h2m26 0h2m3 0h1m34 0h1m7 0h1m118 0h1m90 0h1m64 0h1m14 0h1m19 0h1M245 282.5h1m31 0h1m17 0h1m88 0h1m4 0h1m71 0h1m20 0h1m30 0h1m11 0h1m192 0h1M201 301.5h1m54 0h1m151 0h2m10 0h1m34 0h3m50 0h1m21 0h3m122 0h1m48 0h1m1 0h1M227 320.5h1m151 0h1m209 0h1m20 0h1m67 0h1M256 329.5h1m46 0h2m108 0h1m60 0h2m124 0h1M290 348.5h1m236 0h2m157 0h1m262 0h1M188 367.5h1m18 0h1m10 0h1m10 0h1m25 0h1m26 0h1m9 0h1m5 0h1m22 0h1m9 0h1m8 0h1m4 0h1m3 0h2m13 0h1m6 0h2m13 0h1m2 0h1m16 0h1m6 0h1m13 0h3m37 0h1m21 0h1m10 0h1m25 0h1m26 0h1m3 0h1m26 0h1m1 0h2m11 0h1m21 0h1m9 0h1m12 0h1m12 0h1m7 0h1m66 0h2m5 0h1m10 0h1m8 0h1m12 0h2m16 0h1m3 0h1m70 0h1m24 0h1m2 0h1m11 0h1m1 0h1m25 0h1m3 0h1m1 0h1m3 0h1m6 0h2m5 0h1M174 386.5h1m59 0h1m12 0h1m1 0h1m4 0h1m7 0h1m17 0h1m1 0h1m1 0h1m10 0h1m26 0h1m17 0h2m16 0h2m30 0h2m1 0h1m5 0h2m24 0h1m36 0h1m36 0h1m4 0h1m4 0h1m12 0h1m12 0h1m16 0h1m5 0h2m6 0h1m5 0h1m17 0h1m2 0h1m22 0h1m4 0h2m6 0h1m23 0h1m2 0h1m47 0h1m20 0h3m15 0h1m17 0h1m6 0h1m1 0h1m13 0h1m1 0h1m9 0h1m3 0h2m7 0h1m28 0h4m4 0h1m7 0h1m10 0h1m45 0h1m6 0h1m3 0h2m2 0h2m9 0h1m6 0h1m1 0h2M180 395.5h1m5 0h1m10 0h1m45 0h1m12 0h1m23 0h1m5 0h1m3 0h1m4 0h1m7 0h1m45 0h1m4 0h1m13 0h1m4 0h1m36 0h1m3 0h1m8 0h1m12 0h2m23 0h2m28 0h1m6 0h1m9 0h1m7 0h1m2 0h3m2 0h1m4 0h1m14 0h1m41 0h2m7 0h2m28 0h1m46 0h1m17 0h1m38 0h1m8 0h1m3 0h1m24 0h1m26 0h1m12 0h1m4 0h1m25 0h2m3 0h1m9 0h1m6 0h1m22 0h1m16 0h1m15 0h1m4 0h1m3 0h1m26 0h1M174 414.5h1m9 0h2m35 0h1m7 0h1m6 0h1m15 0h1m52 0h1m3 0h1m5 0h2m9 0h3m14 0h2m1 0h1m2 0h1m11 0h1m15 0h1m11 0h1m3 0h1m5 0h2m3 0h1m16 0h1m28 0h1m28 0h1m63 0h1m32 0h2m5 0h1m15 0h1m9 0h1m2 0h1m17 0h1m10 0h3m7 0h2m3 0h1m11 0h1m24 0h1m15 0h1m2 0h1m28 0h1m15 0h3m5 0h1m22 0h1m6 0h1m29 0h1m8 0h1m15 0h1m14 0h1m3 0h1m4 0h3m16 0h1m2 0h1m31 0h1m16 0h1M180 433.5h1m49 0h1m6 0h1m1 0h1m9 0h1m41 0h1m13 0h1m40 0h1m3 0h1m4 0h1m32 0h1m10 0h3m2 0h1m16 0h1m28 0h1m11 0h1m7 0h2m13 0h2m1 0h1m22 0h2m1 0h1m4 0h1m18 0h1m18 0h3m19 0h1m8 0h1m21 0h1m25 0h1m10 0h1m2 0h1m19 0h2m18 0h1m38 0h3m27 0h1m3 0h2m9 0h1m4 0h1m1 0h1m28 0h2m30 0h2m1 0h1m24 0h1m36 0h1m29 0h1m32 0h2M184 452.5h2m5 0h1m17 0h1m25 0h1m6 0h2m11 0h1m22 0h2m9 0h1m8 0h1m7 0h2m11 0h2m8 0h1m3 0h1m17 0h1m18 0h1m14 0h1m18 0h1m17 0h1m2 0h1m16 0h1m7 0h1m3 0h1m27 0h1m3 0h2m17 0h1m17 0h1m12 0h1m7 0h1m2 0h1m3 0h1m3 0h1m20 0h2m2 0h1m17 0h1m3 0h1m19 0h1m4 0h2m26 0h1m7 0h1m2 0h1m3 0h2m7 0h2m17 0h4m4 0h1m73 0h1m3 0h1m29 0h1m7 0h1m9 0h1m19 0h1m3 0h2m12 0h1m16 0h1m10 0h1m13 0h2m2 0h1m3 0h1m7 0h1m4 0h1m5 0h1M180 471.5h2m6 0h1m7 0h1m41 0h1m11 0h2m21 0h1m16 0h1m7 0h1m4 0h1m10 0h3m65 0h2m11 0h1m14 0h2m10 0h1m3 0h3m10 0h1m9 0h1m5 0h2m5 0h2m2 0h1m19 0h1m15 0h2m9 0h1m6 0h2m1 0h1m3 0h1m6 0h1m18 0h1m2 0h1m14 0h1m11 0h2m9 0h1m18 0h1m11 0h1m8 0h1m1 0h1m1 0h1m8 0h1m21 0h1m3 0h1m20 0h1m28 0h1m6 0h1m4 0h2m19 0h1m13 0h1m22 0h1m14 0h1m5 0h1m4 0h3m6 0h2m24 0h1m6 0h1m3 0h1m9 0h2m16 0h1m3 0h1m14 0h2m12 0h1m1 0h1m5 0h1m12 0h2M201 480.5h1m6 0h2m32 0h2m11 0h1m19 0h1m17 0h2m3 0h1m2 0h1m16 0h1m7 0h1m1 0h1m2 0h1m4 0h1m25 0h2m42 0h1m5 0h1m17 0h1m7 0h1m2 0h1m40 0h1m42 0h1m13 0h2m4 0h1m6 0h1m13 0h1m7 0h1m11 0h3m8 0h1m13 0h1m11 0h2m4 0h1m4 0h1m35 0h2m6 0h1m12 0h1m1 0h2m5 0h1m32 0h1m6 0h1m6 0h1m33 0h1m12 0h1m3 0h1m5 0h1m10 0h1m2 0h1m32 0h1m14 0h2m38 0h1m4 0h1m3 0h1m1 0h1m11 0h1m10 0h2m11 0h1m1 0h1M189 499.5h1m4 0h2m16 0h2m6 0h1m29 0h2m5 0h1m10 0h2m6 0h2m23 0h1m6 0h1m3 0h1m14 0h1m9 0h1m19 0h1m18 0h1m5 0h1m29 0h1m1 0h1m14 0h1m11 0h2m28 0h1m43 0h1m47 0h2m9 0h1m15 0h1m3 0h1m14 0h1m43 0h3m39 0h1m25 0h1m1 0h1m1 0h1m7 0h2m8 0h1m6 0h2m11 0h2m4 0h1m5 0h1m29 0h1m6 0h2m3 0h1m1 0h2m17 0h2m14 0h1m1 0h2m32 0h1m18 0h1m2 0h2m7 0h1m6 0h1m6 0h1m1 0h1m1 0h1m7 0h1M181 518.5h1m25 0h1m3 0h1m12 0h1m17 0h1m10 0h1m5 0h2m12 0h1m9 0h1m45 0h1m4 0h2m7 0h2m35 0h2m1 0h1m47 0h1m14 0h3m1 0h1m62 0h1m2 0h1m37 0h1m1 0h2m18 0h3m7 0h2m2 0h1m22 0h1m8 0h1m13 0h1m2 0h1m13 0h1m88 0h1m15 0h2m15 0h1m15 0h3m6 0h2m5 0h1m25 0h1m12 0h1m19 0h2m1 0h1m8 0h1m4 0h1m7 0h1m24 0h1m10 0h1m12 0h2m17 0h2m1 0h1M189 537.5h1m1 0h1m2 0h2m31 0h1m5 0h1m9 0h1m2 0h1m2 0h1m8 0h1m5 0h1m2 0h1m4 0h2m7 0h1m5 0h2m2 0h1m18 0h1m26 0h2m16 0h1m11 0h1m25 0h1m2 0h1m1 0h1m6 0h1m1 0h1m3 0h1m3 0h1m14 0h2m8 0h1m17 0h1m12 0h1m1 0h1m34 0h2m10 0h2m7 0h1m4 0h1m13 0h2m4 0h1m7 0h1m27 0h1m29 0h1m8 0h1m9 0h1m23 0h1m6 0h2m16 0h2m2 0h1m3 0h1m12 0h1m3 0h1m14 0h1m6 0h2m26 0h2m11 0h3m37 0h1m2 0h2m38 0h1m1 0h1m7 0h1m1 0h1m22 0h2m4 0h1m11 0h2m8 0h2m14 0h1m10 0h1m3 0h2m4 0h3M175 546.5h2m4 0h1m27 0h1m10 0h1m9 0h1m9 0h2m7 0h1m21 0h1m8 0h1m2 0h1m7 0h2m15 0h1m19 0h1m2 0h1m1 0h3m1 0h2m6 0h1m2 0h1m6 0h1m13 0h2m7 0h2m4 0h1m3 0h1m1 0h2m11 0h1m19 0h1m1 0h1m22 0h1m20 0h2m12 0h2m7 0h2m59 0h1m16 0h1m37 0h1m14 0h2m1 0h1m10 0h1m3 0h1m18 0h2m3 0h1m17 0h1m17 0h1m4 0h1m6 0h1m23 0h1m55 0h2m2 0h1m11 0h3m1 0h1m1 0h1m11 0h4m29 0h1m19 0h2m5 0h1m2 0h1m5 0h1m21 0h2m1 0h1m2 0h1m5 0h1m7 0h1m1 0h2m11 0h1m16 0h2M174 565.5h1m31 0h1m26 0h1m15 0h1m3 0h1m1 0h1m3 0h2m7 0h2m43 0h2m14 0h1m1 0h1m11 0h2m26 0h3m19 0h1m3 0h1m20 0h2m5 0h1m4 0h1m2 0h1m19 0h1m20 0h2m35 0h2m35 0h2m14 0h2m12 0h1m9 0h1m5 0h1m40 0h2m3 0h1m1 0h2m13 0h2m11 0h2m2 0h1m1 0h1m5 0h1m2 0h1m9 0h2m8 0h1m8 0h1m4 0h1m19 0h1m11 0h1m15 0h2m2 0h1m15 0h1m29 0h2m3 0h1m4 0h3m25 0h1m3 0h1m2 0h3m8 0h1m6 0h1m59 0h2M199 584.5h1m2 0h1m30 0h1m29 0h1m20 0h1m29 0h1m3 0h1m1 0h1m11 0h1m32 0h1m1 0h1m2 0h1m3 0h1m4 0h1m35 0h2m9 0h1m5 0h1m19 0h1m7 0h1m5 0h1m15 0h1m4 0h1m37 0h1m15 0h1m6 0h2m2 0h2m12 0h1m11 0h1m1 0h1m9 0h1m8 0h1m18 0h2m39 0h1m12 0h1m1 0h1m10 0h1m2 0h2m30 0h2m26 0h1m3 0h1m32 0h1m7 0h1m14 0h1m14 0h1m4 0h3m38 0h1m3 0h1m3 0h1m8 0h1m3 0h1m5 0h1m5 0h1m5 0h1m6 0h1m1 0h1m1 0h1m4 0h1m1 0h1m36 0h1m6 0h2M180 603.5h1m27 0h1m20 0h1m10 0h2m2 0h1m19 0h1m20 0h1m4 0h1m2 0h1m5 0h1m79 0h1m5 0h1m3 0h3m13 0h1m56 0h2m18 0h1m15 0h1m42 0h1m9 0h1m11 0h1m62 0h1m5 0h2m17 0h2m20 0h1m10 0h1m20 0h1m1 0h2m7 0h2m50 0h1m30 0h1m32 0h1m4 0h1m25 0h1m6 0h1m7 0h1m15 0h2m15 0h1m13 0h1m2 0h1m15 0h1M179 612.5h1m16 0h1m21 0h1m24 0h1m20 0h1m21 0h1m11 0h1m5 0h1m6 0h1m5 0h1m24 0h1m32 0h1m21 0h2m22 0h1m48 0h1m7 0h2m9 0h1m5 0h2m22 0h1m5 0h1m26 0h2m28 0h1m15 0h1m1 0h1m1 0h1m9 0h1m3 0h1m12 0h1m30 0h2m21 0h1m10 0h1m54 0h1m1 0h1m13 0h1m3 0h1m6 0h1m19 0h1m33 0h1m30 0h1m8 0h1m1 0h1m9 0h1m37 0h1m1 0h3m5 0h1m12 0h1m5 0h1m4 0h1M189 631.5h2m5 0h1m14 0h1m14 0h2m12 0h2m4 0h1m8 0h1m22 0h2m14 0h1m8 0h1m7 0h1m17 0h1m31 0h1m6 0h1m4 0h1m2 0h1m50 0h2m9 0h1m19 0h1m22 0h1m37 0h1m17 0h1m15 0h1m9 0h1m3 0h2m39 0h1m3 0h1m12 0h1m11 0h1m10 0h1m9 0h1m3 0h1m40 0h1m11 0h1m6 0h2m5 0h2m30 0h2m51 0h1m45 0h1m27 0h1m32 0h1m12 0h1m4 0h1M178 650.5h2m11 0h1m1 0h1m13 0h2m29 0h1m6 0h1m73 0h1m9 0h1m6 0h1m28 0h1m5 0h2m2 0h1m3 0h1m16 0h1m13 0h1m19 0h1m14 0h1m14 0h1m17 0h1m8 0h1m13 0h1m6 0h2m9 0h1m61 0h1m8 0h1m23 0h2m44 0h3m32 0h3m3 0h1m24 0h2m6 0h1m16 0h1m8 0h2m1 0h2m4 0h1m4 0h1m13 0h1m8 0h1m12 0h2m7 0h2m23 0h1m57 0h3m9 0h1m1 0h1m5 0h2m21 0h1m7 0h1m1 0h2m6 0h1M173 669.5h1m42 0h1m16 0h1m1 0h2m2 0h1m14 0h1m6 0h1m9 0h1m33 0h1m25 0h1m43 0h1m6 0h1m2 0h1m9 0h1m3 0h2m3 0h2m18 0h1m1 0h1m16 0h1m10 0h1m33 0h2m16 0h1m13 0h2m3 0h1m11 0h1m79 0h1m9 0h1m11 0h1m8 0h1m6 0h1m25 0h1m6 0h2m17 0h3m16 0h2m18 0h1m4 0h1m9 0h1m43 0h1m16 0h1m4 0h1m4 0h1m14 0h2m6 0h1m27 0h1m28 0h2m15 0h2m7 0h1m8 0h1m2 0h2m9 0h1M180 678.5h2m19 0h1m22 0h1m9 0h1m11 0h1m58 0h1m69 0h1m11 0h1m42 0h1m9 0h1m30 0h1m23 0h1m54 0h1m13 0h1m7 0h1m6 0h1m12 0h1m18 0h1m4 0h1m4 0h1m7 0h1m26 0h1m2 0h1m12 0h1m3 0h1m8 0h1m2 0h2m20 0h1m2 0h1m33 0h1m2 0h1m3 0h2m11 0h1m3 0h1m2 0h1m30 0h1m11 0h1m10 0h2m34 0h1m35 0h1m19 0h2m4 0h1m9 0h1m17 0h1M262 697.5h1m11 0h1m11 0h1m2 0h1m6 0h2m6 0h1m68 0h1m4 0h1m20 0h2m20 0h1m7 0h1m12 0h1m2 0h3m10 0h1m21 0h1m62 0h2m111 0h1m18 0h1m1 0h1m7 0h1m1 0h1m6 0h1m2 0h1m23 0h1m15 0h1m10 0h1m2 0h1m5 0h1m77 0h1m20 0h2m16 0h1m14 0h1m10 0h1m30 0h2M191 716.5h1m45 0h1m26 0h1m7 0h1m4 0h1m4 0h2m7 0h1m20 0h1m9 0h1m28 0h1m35 0h1m25 0h1m39 0h1m4 0h1m22 0h1m4 0h1m15 0h2m11 0h1m22 0h1m37 0h2m7 0h1m13 0h1m3 0h1m3 0h1m1 0h1m3 0h1m3 0h1m1 0h1m3 0h2m1 0h1m42 0h1m52 0h1m25 0h1m12 0h2m14 0h1m2 0h1m1 0h3m19 0h2m4 0h2m6 0h1m2 0h1m41 0h1m41 0h1m3 0h1m24 0h1m9 0h1m4 0h1m8 0h1m5 0h1m3 0h2M182 735.5h1m57 0h2m15 0h1m6 0h1m11 0h1m12 0h1m18 0h1m5 0h1m14 0h1m4 0h2m30 0h1m34 0h1m75 0h1m45 0h1m15 0h2m9 0h1m4 0h1m25 0h1m25 0h1m2 0h1m11 0h1m2 0h1m13 0h1m9 0h1m18 0h1m13 0h1m3 0h1m14 0h1m3 0h1m1 0h2m3 0h1m16 0h2m3 0h1m12 0h1m4 0h1m27 0h1m42 0h1m9 0h1m15 0h2m14 0h1m34 0h2m22 0h1m34 0h2m7 0h2M206 754.5h1m11 0h2m23 0h2m26 0h1m18 0h1m2 0h1m7 0h1m9 0h1m24 0h1m28 0h1m5 0h2m14 0h1m27 0h1m6 0h1m3 0h1m18 0h1m17 0h1m24 0h1m16 0h1m17 0h1m3 0h1m38 0h1m3 0h1m29 0h1m27 0h1m31 0h2m44 0h1m6 0h1m34 0h1m35 0h2m5 0h2m23 0h1m1 0h1m45 0h1m27 0h1m15 0h1m2 0h1m4 0h1m20 0h1m5 0h1m8 0h1m9 0h1M187 763.5h1m12 0h1m11 0h2m34 0h1m8 0h1m5 0h1m9 0h1m6 0h1m95 0h1m11 0h1m21 0h1m14 0h1m3 0h1m25 0h2m20 0h1m5 0h2m11 0h1m10 0h1m6 0h1m3 0h1m4 0h1m5 0h1m16 0h1m4 0h1m1 0h1m3 0h1m2 0h1m9 0h1m15 0h2m5 0h1m15 0h1m34 0h1m4 0h1m5 0h1m6 0h2m15 0h2m5 0h1m41 0h2m3 0h1m3 0h1m2 0h1m31 0h3m48 0h1m22 0h1m2 0h1m19 0h1m13 0h1m6 0h1m34 0h1m2 0h1m1 0h1m5 0h1m25 0h1M183 782.5h1m94 0h2m16 0h2m2 0h1m18 0h1m31 0h1m9 0h1m4 0h1m11 0h1m5 0h1m12 0h1m12 0h1m31 0h1m1 0h1m21 0h1m13 0h1m8 0h1m35 0h1m30 0h1m16 0h1m18 0h1m6 0h2m1 0h1m11 0h2m2 0h1m57 0h1m6 0h1m6 0h1m5 0h1m1 0h2m6 0h1m18 0h1m5 0h1m7 0h1m22 0h1m28 0h2m4 0h2m4 0h1m6 0h2m1 0h1m3 0h1m8 0h1m43 0h3m6 0h1m34 0h1m11 0h1m2 0h1m13 0h1m8 0h1m17 0h2M184 801.5h3m7 0h2m28 0h1m11 0h1m2 0h1m33 0h1m15 0h1m3 0h1m28 0h1m1 0h2m2 0h1m4 0h1m4 0h1m6 0h1m9 0h1m10 0h1m25 0h1m9 0h1m2 0h2m15 0h1m15 0h1m7 0h2m15 0h3m8 0h3m55 0h1m8 0h1m8 0h1m14 0h1m4 0h1m27 0h1m8 0h1m6 0h2m38 0h1m3 0h1m7 0h1m6 0h1m7 0h1m29 0h1m35 0h1m2 0h1m3 0h2m4 0h1m24 0h2m29 0h1m41 0h1m21 0h1m8 0h1m41 0h2m17 0h2M183 820.5h1m16 0h1m13 0h1m1 0h1m4 0h1m31 0h1m18 0h1m30 0h1m52 0h1m22 0h1m43 0h1m2 0h1m44 0h1m10 0h1m12 0h1m10 0h1m2 0h1m8 0h1m50 0h2m7 0h2m6 0h2m32 0h1m8 0h1m10 0h1m1 0h2m20 0h1m16 0h1m32 0h1m26 0h1m2 0h2m20 0h2m17 0h1m19 0h1m63 0h1m48 0h1m2 0h3m3 0h1M182 829.5h1m18 0h2m30 0h1m4 0h1m10 0h1m7 0h1m20 0h3m6 0h2m3 0h2m2 0h2m43 0h1m3 0h1m13 0h1m20 0h2m16 0h1m2 0h1m3 0h1m11 0h1m5 0h1m6 0h1m7 0h2m3 0h1m29 0h1m14 0h1m10 0h1m71 0h1m2 0h1m23 0h1m18 0h1m41 0h1m2 0h1m7 0h2m31 0h1m10 0h1m15 0h1m7 0h1m3 0h1m4 0h2m2 0h1m24 0h1m12 0h1m1 0h2m12 0h1m4 0h2m6 0h1m19 0h2m21 0h1m1 0h1m2 0h2m15 0h1m14 0h1m4 0h2m11 0h1m17 0h1m8 0h1m9 0h1M174 848.5h1m6 0h2m4 0h1m27 0h1m18 0h1m19 0h2m1 0h1m13 0h1m33 0h1m2 0h1m4 0h1m10 0h2m16 0h1m27 0h1m37 0h2m10 0h1m31 0h1m9 0h1m1 0h2m6 0h1m18 0h1m4 0h1m14 0h4m4 0h1m74 0h1m6 0h1m10 0h1m16 0h1m25 0h2m16 0h1m7 0h1m25 0h2m3 0h4m14 0h1m25 0h1m18 0h1m18 0h1m1 0h1m16 0h1m9 0h1m11 0h1m24 0h1m4 0h1m12 0h1m1 0h1m5 0h1m25 0h4m2 0h1m14 0h1m4 0h1m7 0h1m3 0h2M180 867.5h2m1 0h1m30 0h1m32 0h1m16 0h1m6 0h1m20 0h1m12 0h1m51 0h1m53 0h1m15 0h3m39 0h1m15 0h2m18 0h1m13 0h1m5 0h1m7 0h1m2 0h1m5 0h1m23 0h1m3 0h1m13 0h1m31 0h1m36 0h1m10 0h1m3 0h1m3 0h1m3 0h2m12 0h1m1 0h1m4 0h1m17 0h1m8 0h2m4 0h1m1 0h1m4 0h1m1 0h1m2 0h1m8 0h1m2 0h3m19 0h2m8 0h1m3 0h1m15 0h1m11 0h3m5 0h1m23 0h1m1 0h1m13 0h2m5 0h2m7 0h1m8 0h1m5 0h1m45 0h1m2 0h1m1 0h1M173 886.5h1m13 0h2m7 0h1m1 0h1m25 0h1m8 0h1m3 0h1m4 0h1m19 0h1m12 0h1m10 0h3m1 0h1m4 0h1m35 0h1m2 0h2m12 0h3m5 0h1m18 0h1m4 0h2m5 0h1m1 0h1m37 0h2m3 0h1m3 0h3m10 0h1m14 0h2m19 0h1m8 0h1m4 0h1m25 0h1m8 0h1m9 0h1m9 0h1m10 0h1m17 0h3m14 0h1m20 0h1m7 0h1m8 0h1m34 0h1m10 0h2m14 0h1m2 0h1m6 0h1m2 0h1m7 0h1m13 0h2m21 0h1m1 0h1m1 0h1m31 0h2m2 0h1m3 0h1m19 0h1m5 0h3m3 0h1m2 0h1m6 0h1m9 0h1m15 0h1m2 0h1m8 0h1m11 0h2m16 0h2m3 0h1m36 0h1M183 895.5h1m13 0h1m51 0h1m26 0h2m18 0h3m7 0h2m37 0h1m2 0h1m3 0h2m28 0h1m29 0h1m3 0h1m4 0h1m12 0h1m15 0h1m1 0h1m35 0h1m36 0h1m2 0h1m1 0h2m19 0h2m8 0h1m24 0h2m4 0h1m10 0h1m2 0h1m6 0h1m5 0h1m1 0h1m1 0h2m6 0h1m17 0h1m8 0h1m33 0h1m16 0h1m9 0h1m2 0h2m19 0h3m6 0h1m4 0h1m4 0h1m17 0h1m12 0h1m14 0h2m11 0h2m5 0h2m21 0h1m1 0h1m30 0h4m4 0h1m12 0h1m19 0h1m5 0h2m11 0h1m9 0h2m5 0h1m3 0h1M177 914.5h1m3 0h3m41 0h1m19 0h1m20 0h1m57 0h2m2 0h1m8 0h1m13 0h1m3 0h1m27 0h1m13 0h1m22 0h3m23 0h2m1 0h1m18 0h1m14 0h2m5 0h1m3 0h1m25 0h3m4 0h1m4 0h1m5 0h1m6 0h1m4 0h1m12 0h1m2 0h1m5 0h1m7 0h1m11 0h2m14 0h1m3 0h1m14 0h1m8 0h1m17 0h1m17 0h1m3 0h1m5 0h1m3 0h1m19 0h1m6 0h1m12 0h3m38 0h1m6 0h1m5 0h1m7 0h1m13 0h1m15 0h3m9 0h1m6 0h1m23 0h1m1 0h1m13 0h1m2 0h1m1 0h1m16 0h1m30 0h1m37 0h2M177 933.5h1m2 0h1m12 0h1m16 0h1m9 0h1m1 0h2m4 0h1m19 0h1m1 0h2m3 0h1m7 0h1m13 0h1m6 0h1m23 0h2m4 0h1m59 0h1m23 0h1m4 0h2m30 0h1m4 0h1m9 0h1m39 0h2m10 0h2m13 0h1m1 0h3m2 0h1m1 0h1m14 0h2m40 0h1m8 0h1m2 0h2m3 0h1m2 0h1m12 0h1m13 0h1m6 0h2m2 0h1m30 0h1m11 0h1m9 0h1m2 0h1m31 0h1m1 0h1m1 0h1m8 0h1m24 0h1m6 0h1m5 0h2m12 0h1m8 0h1m11 0h1m7 0h1m3 0h1m2 0h1m5 0h1m9 0h1m11 0h1m1 0h3m3 0h2m7 0h2m1 0h2m7 0h1m2 0h2m22 0h1m1 0h1m2 0h2m7 0h2m12 0h1m2 0h2m1 0h2m2 0h1m5 0h1M188 952.5h1m7 0h1m1 0h1m6 0h1m18 0h1m22 0h1m9 0h1m14 0h1m2 0h1m4 0h1m5 0h1m11 0h1m5 0h1m14 0h2m3 0h2m1 0h1m22 0h1m3 0h1m3 0h1m7 0h1m6 0h1m1 0h2m15 0h1m15 0h2m4 0h1m2 0h1m5 0h1m10 0h1m11 0h2m1 0h1m4 0h3m3 0h1m8 0h1m4 0h2m14 0h1m6 0h1m4 0h2m22 0h1m10 0h1m15 0h2m6 0h1m2 0h1m5 0h1m26 0h1m18 0h1m20 0h1m7 0h1m1 0h1m5 0h1m19 0h1m3 0h2m11 0h2m11 0h1m1 0h1m9 0h1m6 0h1m6 0h1m4 0h1m15 0h1m16 0h1m4 0h2m7 0h1m3 0h1m2 0h1m10 0h3m5 0h1m4 0h1m12 0h1m6 0h1m9 0h2m3 0h2m4 0h1m6 0h1m4 0h1m7 0h1m23 0h1m1 0h1m1 0h1m14 0h1m3 0h1m9 0h1m12 0h1m15 0h3m4 0h2M187 961.5h1m1 0h1m1 0h2m21 0h2m2 0h1m34 0h1m9 0h1m1 0h1m12 0h2m1 0h1m12 0h1m8 0h1m25 0h2m2 0h1m5 0h1m1 0h1m3 0h2m4 0h3m3 0h2m1 0h1m5 0h1m4 0h2m9 0h1m4 0h1m2 0h2m24 0h2m32 0h1m9 0h1m13 0h2m1 0h2m7 0h1m11 0h1m1 0h1m5 0h1m8 0h1m3 0h1m2 0h1m18 0h1m14 0h1m5 0h1m29 0h1m29 0h1m6 0h1m10 0h1m4 0h1m8 0h1m22 0h1m1 0h2m1 0h1m15 0h2m6 0h1m3 0h1m19 0h1m30 0h1m12 0h1m1 0h1m18 0h1m12 0h4m2 0h1m6 0h1m8 0h1m2 0h1m2 0h1m8 0h1m6 0h1m9 0h2m7 0h1m1 0h1m1 0h2m10 0h1m12 0h1m14 0h1m5 0h1m6 0h1m14 0h1m6 0h2m13 0h1"/>
<path stroke="#f5f701" stroke-width="10" d="M178 141h1m20 0h1m7 0h2m7 0h2m6 0h1m5 0h1m8 0h1m2 0h1m24 0h1m5 0h2m3 0h2m23 0h1m16 0h1m11 0h1m3 0h1m4 0h1m9 0h1m4 0h1m12 0h1m17 0h1m1 0h1m4 0h1m2 0h1m26 0h1m5 0h1m11 0h1m20 0h1m9 0h1m9 0h2m10 0h2m1 0h2m10 0h1m9 0h2m1 0h1m6 0h2m5 0h1m4 0h2m1 0h1m9 0h1m2 0h2m5 0h1m24 0h1m3 0h1m5 0h1m6 0h1m14 0h1m6 0h2m4 0h1m1 0h1m1 0h1m4 0h1m3 0h1m5 0h2m2 0h1m14 0h1m8 0h1m3 0h1m7 0h4m14 0h1m1 0h1m6 0h1m20 0h1m5 0h1m14 0h2m11 0h1m11 0h1m7 0h1m12 0h1m4 0h1m7 0h1m1 0h1m16 0h1m5 0h3m13 0h1m18 0h1m4 0h1m11 0h1m9 0h1m8 0h1m5 0h1m1 0h1m27 0h2m5 0h1M184 207h2m28 0h2m11 0h1m7 0h1m16 0h2m8 0h1m3 0h2m7 0h1m6 0h1m34 0h1m18 0h1m3 0h1m9 0h1m5 0h1m12 0h2m9 0h2m12 0h1m12 0h1m2 0h1m4 0h1m10 0h1m13 0h3m6 0h2m9 0h1m8 0h1m10 0h1m6 0h2m11 0h1m4 0h1m4 0h3m1 0h1m4 0h4m7 0h2m4 0h1m2 0h2m11 0h1m5 0h2m9 0h1m4 0h1m8 0h1m4 0h1m1 0h1m12 0h3m4 0h1m17 0h1m2 0h1m6 0h1m2 0h1m8 0h1m15 0h1m9 0h1m1 0h1m2 0h1m18 0h1m11 0h1m9 0h1m6 0h1m18 0h1m3 0h1m3 0h1m8 0h1m6 0h2m20 0h1m17 0h1m32 0h1m13 0h2m4 0h1m17 0h1m3 0h1m2 0h3m3 0h1m4 0h1m4 0h1m1 0h2m14 0h1m1 0h1m9 0h1m8 0h1m3 0h1m3 0h2m10 0h1M226 226h1m6 0h1m1 0h1m4 0h2m1 0h1m18 0h1m7 0h1m1 0h1m45 0h1m24 0h2m1 0h1m24 0h2m1 0h1m19 0h1m7 0h1m1 0h1m25 0h1m32 0h1m12 0h1m4 0h1m7 0h1m4 0h1m20 0h1m6 0h1m1 0h1m3 0h1m10 0h2m5 0h1m1 0h2m10 0h1m2 0h1m7 0h1m4 0h2m4 0h1m9 0h1m16 0h1m16 0h1m18 0h1m4 0h1m9 0h2m6 0h1m10 0h2m15 0h1m16 0h1m4 0h1m15 0h1m8 0h1m10 0h4m4 0h4m16 0h2m1 0h1m2 0h1m35 0h1m9 0h1m8 0h1m8 0h1m5 0h1m7 0h2m9 0h1m10 0h1m2 0h1m2 0h3m6 0h2m6 0h1m18 0h3m2 0h1m6 0h1m4 0h1M200 245h1m15 0h1m32 0h1m35 0h1m38 0h2m13 0h1m46 0h1m55 0h1m72 0h1m13 0h1m18 0h2m372 0h2M265 273h1m24 0h1m1 0h1m73 0h1m54 0h1m13 0h1m27 0h1m58 0h1m12 0h2m64 0h1m2 0h2M221 292h1m63 0h1m44 0h1m5 0h1m5 0h1m19 0h2m90 0h1m42 0h1m96 0h1M184 311h2m33 0h1m25 0h1m131 0h1m43 0h1m17 0h1m82 0h1m44 0h2m5 0h1m107 0h1M268 339h2m49 0h1m7 0h1m125 0h1m4 0h1m78 0h1m13 0h1m13 0h1M293 358h1m84 0h1m23 0h1m12 0h1m73 0h1m6 0h1m20 0h1m25 0h1m16 0h2m77 0h1m39 0h2m256 0h1M182 377h2m38 0h2m20 0h1m2 0h2m3 0h1m6 0h2m30 0h1m10 0h1m16 0h1m3 0h1m37 0h1m26 0h2m9 0h2m12 0h1m11 0h1m1 0h2m10 0h1m17 0h1m20 0h1m27 0h1m2 0h1m18 0h1m6 0h3m6 0h2m1 0h1m16 0h1m4 0h1m4 0h1m41 0h2m4 0h1m9 0h2m24 0h1m7 0h1m10 0h1m25 0h1m9 0h1m12 0h2m4 0h1m1 0h1m11 0h1m6 0h1m3 0h1m13 0h1m6 0h1m7 0h2m1 0h1m9 0h3m21 0h1m1 0h1m9 0h1m6 0h1m29 0h1m26 0h1m39 0h3m17 0h2m4 0h1M179 405h1m42 0h2m16 0h2m14 0h1m20 0h3m11 0h1m4 0h2m1 0h1m32 0h1m28 0h1m11 0h1m49 0h1m8 0h1m15 0h2m5 0h2m107 0h1m44 0h1m17 0h2m3 0h2m15 0h1m7 0h1m16 0h1m28 0h1m2 0h3m2 0h1m9 0h1m22 0h2m1 0h1m8 0h1m14 0h1m16 0h1m20 0h1m7 0h1m17 0h1m4 0h3m15 0h1m5 0h1m38 0h2m22 0h1m8 0h1m1 0h1M194 424h2m30 0h1m1 0h2m17 0h1m8 0h1m7 0h1m9 0h1m15 0h1m17 0h1m36 0h1m12 0h1m8 0h1m6 0h1m1 0h1m5 0h1m4 0h1m23 0h1m27 0h1m12 0h1m1 0h1m18 0h1m6 0h1m5 0h1m11 0h1m27 0h1m18 0h1m1 0h1m3 0h1m2 0h1m47 0h1m1 0h2m31 0h1m4 0h2m19 0h1m15 0h3m1 0h2m25 0h1m12 0h1m43 0h1m9 0h2m1 0h1m7 0h1m23 0h2m5 0h2m2 0h1m13 0h1m2 0h1m14 0h1m22 0h1m18 0h1m2 0h1m6 0h1m1 0h1m2 0h2m17 0h2m2 0h2m5 0h1m1 0h1m2 0h1m5 0h1M182 443h1m1 0h2m13 0h1m6 0h1m10 0h1m7 0h2m21 0h1m22 0h1m3 0h1m18 0h1m9 0h1m37 0h3m4 0h1m8 0h1m18 0h1m8 0h1m9 0h1m19 0h1m3 0h1m5 0h1m7 0h1m14 0h2m20 0h1m8 0h2m8 0h2m2 0h1m14 0h1m38 0h2m25 0h1m33 0h1m2 0h1m6 0h1m31 0h2m9 0h1m9 0h1m8 0h1m2 0h1m5 0h1m15 0h1m33 0h1m7 0h1m33 0h2m11 0h1m22 0h1m2 0h1m4 0h1m9 0h1m24 0h1m43 0h1m10 0h1m11 0h1m2 0h2m11 0h1m9 0h1m1 0h2m3 0h1m5 0h1M187 462h1m2 0h1m26 0h3m10 0h1m22 0h1m1 0h1m6 0h1m4 0h1m13 0h1m13 0h1m2 0h1m20 0h1m4 0h2m3 0h1m38 0h1m7 0h1m6 0h1m10 0h1m15 0h1m11 0h2m15 0h1m56 0h1m4 0h1m11 0h1m11 0h1m12 0h1m3 0h1m10 0h1m24 0h1m7 0h2m9 0h1m5 0h1m2 0h1m12 0h1m3 0h2m12 0h1m18 0h1m11 0h1m8 0h1m1 0h3m16 0h2m2 0h1m2 0h1m17 0h2m16 0h2m8 0h1m20 0h2m4 0h1m17 0h1m25 0h1m5 0h2m3 0h2m28 0h1m5 0h1m8 0h2m4 0h2m10 0h1m3 0h1m4 0h1m3 0h1m12 0h2m11 0h1m17 0h1m3 0h2m2 0h1m4 0h1m3 0h2M181 490h2m8 0h1m7 0h1m48 0h1m59 0h1m4 0h1m4 0h1m8 0h1m3 0h1m28 0h1m14 0h1m2 0h1m5 0h1m5 0h2m5 0h1m3 0h2m19 0h1m30 0h1m10 0h2m24 0h1m9 0h1m38 0h2m3 0h1m33 0h1m15 0h1m37 0h3m24 0h1m2 0h1m2 0h1m11 0h2m11 0h2m29 0h1m30 0h1m1 0h2m7 0h2m5 0h1m10 0h1m9 0h3m5 0h1m13 0h1m5 0h2m9 0h3m28 0h2m11 0h1m47 0h2m11 0h1m6 0h1m9 0h1M193 509h1m17 0h1m9 0h1m4 0h1m11 0h1m4 0h1m24 0h2m24 0h1m1 0h2m4 0h1m15 0h1m8 0h1m4 0h1m3 0h1m6 0h2m7 0h3m18 0h1m4 0h1m11 0h2m34 0h1m59 0h1m3 0h1m7 0h1m2 0h1m17 0h1m3 0h1m17 0h1m20 0h1m20 0h1m11 0h2m22 0h1m33 0h1m18 0h1m2 0h1m10 0h1m10 0h1m4 0h1m11 0h1m29 0h2m3 0h1m3 0h1m2 0h1m2 0h1m14 0h1m33 0h1m3 0h1m5 0h1m3 0h1m30 0h5m10 0h3m30 0h2m3 0h1m14 0h1m4 0h1m1 0h1m11 0h2m1 0h1M173 528h1m3 0h1m10 0h1m4 0h1m37 0h2m3 0h1m9 0h1m1 0h1m16 0h1m6 0h1m9 0h2m44 0h1m2 0h1m5 0h2m11 0h1m13 0h1m24 0h1m5 0h1m6 0h1m2 0h1m9 0h1m2 0h2m6 0h3m6 0h1m15 0h1m3 0h2m23 0h1m18 0h2m1 0h2m9 0h1m4 0h1m29 0h3m13 0h1m15 0h1m3 0h1m7 0h1m5 0h1m2 0h1m21 0h2m9 0h1m32 0h1m7 0h1m14 0h1m24 0h1m13 0h2m10 0h1m15 0h1m1 0h1m7 0h3m19 0h1m1 0h2m6 0h1m54 0h1m1 0h2m4 0h1m1 0h1m6 0h1m14 0h2m12 0h1m17 0h1m5 0h1m27 0h1m1 0h1M191 556h1m36 0h1m15 0h1m4 0h1m8 0h1m3 0h1m5 0h2m11 0h1m9 0h1m8 0h1m12 0h2m3 0h2m4 0h2m15 0h1m29 0h2m11 0h1m5 0h2m2 0h1m6 0h1m11 0h1m6 0h1m5 0h1m24 0h1m9 0h1m6 0h1m14 0h2m5 0h1m25 0h1m10 0h1m13 0h1m3 0h1m11 0h1m5 0h1m21 0h1m9 0h2m6 0h1m5 0h1m13 0h2m2 0h1m8 0h1m3 0h1m10 0h2m3 0h2m7 0h1m10 0h1m6 0h1m4 0h2m13 0h1m3 0h2m6 0h1m27 0h3m28 0h1m32 0h2m1 0h2m20 0h1m20 0h1m11 0h1m4 0h2m12 0h2m33 0h1m2 0h2m12 0h1m2 0h1m9 0h1m20 0h2M174 575h1m25 0h1m21 0h3m18 0h1m15 0h2m24 0h1m6 0h1m19 0h3m12 0h1m1 0h1m2 0h1m21 0h1m28 0h1m50 0h1m15 0h1m4 0h2m22 0h1m2 0h1m33 0h1m20 0h1m10 0h2m1 0h1m9 0h1m1 0h1m2 0h1m8 0h1m72 0h1m9 0h1m24 0h1m6 0h1m2 0h1m16 0h1m9 0h1m18 0h2m16 0h1m1 0h1m9 0h2m6 0h1m1 0h1m7 0h1m15 0h1m8 0h1m53 0h3m17 0h1m9 0h2m38 0h2m18 0h2M200 594h1m2 0h2m19 0h1m27 0h1m15 0h2m17 0h2m10 0h1m26 0h1m12 0h1m3 0h2m15 0h1m16 0h1m18 0h1m11 0h2m16 0h1m23 0h1m7 0h1m5 0h2m4 0h1m7 0h1m2 0h1m8 0h1m28 0h1m9 0h1m56 0h2m40 0h1m12 0h1m25 0h1m1 0h1m34 0h1m6 0h1m28 0h1m1 0h1m20 0h2m11 0h1m7 0h1m14 0h1m3 0h1m33 0h1m30 0h1m6 0h2m14 0h1m16 0h1m3 0h2m2 0h1m19 0h1M186 622h1m16 0h2m21 0h1m10 0h1m9 0h1m7 0h1m12 0h2m19 0h1m16 0h2m2 0h1m17 0h1m20 0h1m39 0h1m18 0h2m2 0h1m7 0h1m32 0h1m4 0h1m55 0h1m15 0h2m14 0h1m4 0h1m32 0h2m30 0h1m28 0h1m19 0h1m11 0h1m28 0h1m8 0h1m5 0h1m10 0h1m23 0h1m12 0h1m7 0h1m6 0h1m28 0h1m12 0h1m7 0h1m19 0h1m1 0h2m4 0h2m7 0h1m2 0h1m9 0h2m2 0h1m5 0h2m11 0h1m35 0h1m11 0h1m8 0h1M194 641h2m3 0h2m21 0h2m1 0h1m9 0h1m8 0h1m14 0h2m9 0h1m3 0h1m3 0h3m1 0h1m16 0h1m10 0h1m18 0h1m17 0h1m4 0h2m54 0h2m1 0h2m26 0h1m19 0h1m7 0h1m18 0h2m6 0h1m20 0h1m1 0h1m2 0h2m3 0h1m63 0h1m7 0h1m11 0h1m1 0h1m1 0h1m14 0h1m10 0h1m90 0h2m20 0h2m3 0h1m41 0h1m14 0h1m6 0h1m11 0h1m4 0h2m88 0h1m15 0h1m19 0h3M210 660h1m5 0h1m11 0h1m6 0h1m27 0h1m2 0h1m24 0h1m2 0h1m23 0h1m116 0h1m35 0h1m26 0h3m38 0h2m5 0h2m12 0h1m8 0h1m24 0h1m3 0h1m18 0h1m41 0h1m2 0h1m4 0h1m10 0h1m2 0h1m10 0h1m1 0h1m74 0h1m8 0h1m25 0h1m3 0h1m47 0h2m24 0h1m54 0h1m8 0h1m10 0h1M179 688h1m41 0h1m34 0h1m27 0h1m4 0h1m25 0h2m1 0h1m3 0h1m48 0h3m4 0h1m26 0h1m62 0h1m7 0h1m5 0h1m19 0h2m2 0h1m20 0h2m22 0h3m6 0h1m18 0h1m1 0h1m4 0h2m30 0h1m12 0h1m12 0h1m2 0h1m1 0h1m28 0h1m36 0h1m22 0h2m4 0h2m1 0h1m10 0h1m12 0h3m77 0h1m18 0h1m47 0h1m28 0h1M177 707h1m56 0h1m12 0h1m6 0h1m16 0h1m31 0h1m25 0h1m8 0h1m32 0h2m13 0h1m1 0h1m29 0h3m11 0h1m2 0h3m13 0h1m19 0h1m15 0h1m9 0h2m7 0h1m2 0h1m16 0h2m4 0h1m10 0h1m30 0h1m41 0h1m10 0h1m27 0h1m14 0h2m16 0h2m11 0h1m19 0h1m1 0h2m13 0h1m28 0h1m8 0h1m27 0h1m2 0h2m18 0h1m3 0h1m23 0h1m15 0h1m20 0h1m1 0h2m5 0h1m16 0h1m10 0h1m12 0h1m3 0h1m2 0h1m9 0h2M182 726h1m7 0h1m12 0h2m21 0h1m7 0h1m1 0h1m2 0h1m66 0h2m40 0h1m22 0h2m25 0h1m34 0h1m23 0h1m13 0h1m30 0h2m10 0h2m6 0h1m4 0h1m5 0h1m48 0h1m14 0h1m15 0h1m2 0h1m52 0h1m2 0h1m8 0h1m34 0h3m30 0h1m4 0h3m17 0h1m38 0h2m38 0h1m26 0h1m13 0h3m1 0h1m13 0h2m12 0h1m16 0h1m1 0h1m7 0h1m14 0h2M182 745h1m14 0h1m1 0h1m46 0h1m12 0h2m48 0h1m13 0h1m36 0h1m19 0h3m21 0h1m1 0h1m17 0h1m8 0h1m2 0h2m11 0h1m20 0h1m10 0h1m13 0h1m3 0h1m1 0h1m11 0h1m12 0h1m20 0h1m3 0h1m18 0h2m1 0h1m2 0h2m4 0h1m20 0h3m12 0h1m7 0h1m8 0h1m20 0h1m21 0h1m9 0h2m17 0h2m1 0h1m15 0h2m22 0h1m23 0h1m2 0h1m6 0h1m9 0h1m31 0h1m55 0h1m33 0h1m9 0h1M189 773h1m12 0h1m54 0h1m4 0h1m20 0h1m11 0h1m14 0h1m16 0h1m14 0h1m5 0h1m19 0h1m6 0h1m28 0h1m33 0h1m6 0h3m6 0h4m14 0h1m12 0h1m10 0h1m12 0h1m8 0h1m13 0h1m11 0h2m34 0h1m38 0h2m9 0h1m8 0h2m1 0h2m34 0h1m13 0h1m26 0h2m16 0h1m2 0h1m1 0h1m13 0h2m24 0h2m9 0h1m40 0h1m21 0h3m5 0h1m19 0h2m1 0h1m4 0h1m8 0h1m7 0h1m38 0h1m10 0h2M206 792h1m2 0h1m1 0h1m7 0h1m9 0h1m5 0h2m8 0h1m19 0h1m4 0h1m11 0h1m43 0h1m10 0h1m5 0h2m15 0h1m52 0h1m12 0h1m21 0h1m18 0h1m42 0h4m4 0h1m29 0h2m6 0h1m15 0h1m19 0h1m7 0h1m31 0h2m22 0h1m17 0h1m43 0h1m1 0h1m2 0h1m29 0h1m6 0h1m7 0h1m40 0h1m7 0h1m4 0h1m1 0h1m29 0h1m4 0h1m39 0h2m9 0h1m6 0h1m3 0h1m2 0h1m4 0h1m31 0h1M173 811h1m17 0h1m8 0h1m7 0h1m1 0h2m21 0h1m15 0h1m22 0h1m19 0h2m21 0h2m5 0h1m15 0h1m2 0h1m12 0h1m37 0h1m29 0h1m41 0h2m23 0h1m7 0h1m1 0h3m40 0h1m7 0h1m12 0h1m10 0h1m72 0h1m36 0h1m9 0h1m23 0h1m2 0h1m9 0h1m10 0h1m7 0h1m2 0h1m20 0h1m39 0h1m4 0h2m26 0h2m13 0h1m21 0h2m7 0h1m12 0h1m5 0h2m1 0h1m4 0h1m13 0h1m11 0h1m12 0h2m6 0h1M173 839h1m12 0h1m7 0h2m2 0h1m31 0h1m9 0h2m3 0h1m1 0h1m4 0h1m2 0h1m8 0h1m20 0h2m3 0h1m7 0h2m24 0h2m6 0h1m8 0h1m7 0h1m8 0h1m5 0h1m6 0h2m30 0h1m10 0h1m24 0h1m29 0h1m9 0h1m22 0h2m12 0h2m2 0h2m1 0h1m23 0h1m26 0h1m24 0h1m1 0h1m1 0h1m2 0h1m3 0h1m8 0h1m7 0h1m29 0h1m1 0h1m14 0h2m12 0h2m19 0h1m1 0h1m2 0h1m1 0h2m8 0h2m7 0h2m11 0h1m38 0h2m8 0h1m12 0h3m6 0h2m1 0h1m10 0h1m17 0h1m17 0h2m21 0h1m14 0h3m26 0h1m11 0h1m4 0h1m2 0h1m1 0h1M183 858h1m16 0h1m25 0h1m36 0h1m3 0h1m21 0h1m3 0h1m8 0h1m1 0h2m24 0h1m62 0h1m5 0h2m6 0h3m28 0h1m11 0h1m6 0h1m1 0h1m6 0h2m6 0h2m9 0h1m9 0h1m9 0h1m37 0h1m3 0h3m16 0h1m4 0h2m20 0h1m24 0h1m17 0h1m32 0h1m7 0h1m23 0h1m24 0h2m10 0h1m7 0h2m17 0h1m16 0h2m7 0h2m40 0h1m20 0h2m10 0h2m7 0h2m14 0h1m1 0h1m12 0h1m9 0h2m8 0h2m7 0h1m7 0h2m16 0h2M175 877h3m28 0h1m14 0h1m6 0h1m1 0h1m8 0h1m27 0h1m2 0h1m5 0h4m1 0h1m28 0h2m9 0h1m19 0h1m31 0h1m8 0h1m15 0h1m9 0h2m6 0h1m3 0h1m24 0h1m21 0h1m11 0h1m9 0h1m19 0h2m2 0h2m5 0h2m19 0h1m6 0h2m4 0h1m1 0h1m6 0h1m2 0h1m14 0h1m7 0h1m3 0h1m17 0h1m11 0h2m4 0h1m1 0h1m31 0h1m3 0h2m4 0h2m15 0h1m1 0h1m3 0h1m13 0h2m6 0h1m13 0h1m2 0h4m5 0h2m7 0h1m6 0h1m1 0h1m5 0h1m2 0h1m9 0h3m7 0h2m9 0h1m2 0h1m29 0h2m17 0h1m5 0h2m2 0h1m7 0h1m19 0h1m1 0h2m14 0h2m2 0h1m3 0h2m2 0h3m15 0h2m15 0h1M190 924h1m6 0h1m5 0h2m19 0h1m10 0h1m8 0h1m8 0h2m1 0h1m26 0h1m1 0h1m8 0h1m9 0h1m21 0h1m46 0h1m3 0h1m15 0h2m19 0h1m31 0h2m5 0h1m1 0h2m16 0h1m5 0h1m27 0h1m6 0h2m8 0h1m5 0h2m3 0h1m3 0h2m32 0h1m46 0h2m3 0h1m25 0h2m4 0h1m10 0h1m13 0h1m3 0h1m26 0h2m7 0h1m1 0h5m2 0h1m22 0h2m14 0h1m9 0h1m1 0h2m4 0h1m17 0h1m5 0h2m8 0h1m8 0h1m6 0h2m22 0h1m2 0h1m7 0h1m18 0h1m3 0h1m6 0h3m1 0h1m17 0h1m11 0h1m1 0h1m7 0h1m4 0h1m4 0h1m8 0h1m1 0h2"/>
<path stroke="#f5f701" stroke-width="11" d="M173 971.5h1m1 0h2m17 0h2m16 0h2m11 0h1m38 0h1m5 0h1m10 0h1m1 0h1m3 0h2m2 0h2m1 0h2m10 0h2m2 0h1m7 0h1m17 0h1m8 0h1m9 0h1m2 0h1m27 0h1m8 0h1m19 0h3m4 0h1m3 0h1m3 0h1m3 0h1m4 0h1m11 0h1m9 0h1m1 0h1m2 0h1m1 0h1m2 0h2m6 0h1m1 0h1m31 0h1m4 0h1m1 0h2m11 0h1m2 0h1m5 0h1m1 0h1m2 0h1m7 0h1m14 0h2m10 0h1m6 0h4m7 0h1m3 0h2m5 0h1m2 0h2m15 0h1m40 0h1m15 0h2m12 0h1m9 0h1m3 0h2m30 0h1m2 0h1m17 0h1m38 0h1m1 0h2m6 0h1m3 0h1m5 0h2m3 0h1m1 0h1m28 0h1m10 0h2m14 0h1m7 0h1m3 0h2m6 0h1m10 0h2m10 0h1m15 0h3m3 0h2"/>
<path stroke="#ffe800" stroke-width="9" d="M182 65.5h1m13 0h2m20 0h1m9 0h1m5 0h1m9 0h1m19 0h1m8 0h1m8 0h2m8 0h1m3 0h2m7 0h1m13 0h2m5 0h1m13 0h1m11 0h2m1 0h1m12 0h1m8 0h1m7 0h1m7 0h1m3 0h1m5 0h1m20 0h1m10 0h1m17 0h2m3 0h1m5 0h2m5 0h1m16 0h1m1 0h1m7 0h1m5 0h1m9 0h1m2 0h2m7 0h1m8 0h1m28 0h1m5 0h1m10 0h1m31 0h1m8 0h1m8 0h1m7 0h1m6 0h1m32 0h2m9 0h2m1 0h1m13 0h3m3 0h1m6 0h1m9 0h2m6 0h2m12 0h2m4 0h1m27 0h1m15 0h2m10 0h2m6 0h1m3 0h1m25 0h1m7 0h1m2 0h1m11 0h2m11 0h1m2 0h1m1 0h1m9 0h2m15 0h1m9 0h1m7 0h1m13 0h1m13 0h1M178 84.5h1m8 0h1m1 0h1m2 0h1m23 0h1m12 0h1m4 0h1m15 0h3m9 0h1m8 0h1m19 0h1m13 0h1m6 0h1m16 0h1m6 0h1m10 0h1m1 0h1m7 0h1m6 0h1m4 0h2m9 0h2m6 0h1m5 0h2m5 0h2m4 0h3m1 0h2m3 0h1m21 0h1m15 0h1m6 0h1m11 0h1m3 0h1m18 0h1m1 0h1m3 0h2m13 0h1m5 0h1m2 0h1m5 0h1m2 0h1m12 0h2m8 0h2m2 0h1m8 0h1m10 0h1m12 0h2m1 0h1m13 0h2m5 0h1m1 0h1m15 0h1m1 0h1m5 0h1m4 0h1m18 0h1m3 0h1m3 0h1m3 0h1m28 0h1m1 0h1m7 0h1m20 0h1m23 0h1m3 0h1m16 0h1m11 0h1m3 0h1m5 0h1m9 0h1m16 0h1m9 0h2m15 0h1m21 0h2m2 0h1m27 0h1m12 0h2m7 0h1m7 0h2m7 0h1M175 103.5h2m2 0h1m3 0h1m13 0h1m5 0h2m10 0h1m9 0h1m4 0h1m3 0h1m3 0h2m13 0h1m23 0h1m14 0h2m1 0h1m2 0h1m11 0h1m9 0h1m1 0h2m12 0h1m11 0h1m3 0h2m3 0h1m3 0h1m7 0h1m18 0h1m8 0h1m12 0h1m10 0h1m2 0h1m6 0h2m6 0h1m14 0h1m8 0h1m13 0h2m13 0h3m3 0h3m13 0h2m20 0h1m13 0h1m14 0h1m16 0h1m20 0h1m3 0h1m6 0h2m3 0h1m27 0h2m1 0h1m3 0h1m9 0h1m4 0h1m2 0h1m1 0h1m6 0h1m14 0h1m4 0h1m7 0h2m5 0h2m1 0h1m15 0h2m3 0h1m27 0h1m8 0h1m19 0h2m8 0h1m15 0h1m2 0h1m3 0h1m10 0h1m14 0h2m13 0h2m8 0h1m11 0h1m7 0h1m5 0h1m6 0h1m18 0h1m4 0h1m3 0h1M173 112.5h2m32 0h1m3 0h1m2 0h2m5 0h1m20 0h1m9 0h3m13 0h2m1 0h2m14 0h2m30 0h1m16 0h1m8 0h1m5 0h1m17 0h1m7 0h1m9 0h1m5 0h1m7 0h1m4 0h1m4 0h1m9 0h1m13 0h1m28 0h2m10 0h2m13 0h1m28 0h2m19 0h1m23 0h1m1 0h2m1 0h1m27 0h1m4 0h1m33 0h1m9 0h1m29 0h1m4 0h1m4 0h1m4 0h2m31 0h3m15 0h1m13 0h1m4 0h3m16 0h1m6 0h1m2 0h2m2 0h1m13 0h1m6 0h1m10 0h1m2 0h1m1 0h2m19 0h1m12 0h2m6 0h1m2 0h1m1 0h1m7 0h1m14 0h1m3 0h1m3 0h1m5 0h1m2 0h1m7 0h1m16 0h1m1 0h1m7 0h1m2 0h2m4 0h1M174 131.5h1m16 0h2m10 0h2m9 0h3m44 0h1m2 0h1m19 0h1m7 0h1m8 0h2m18 0h1m8 0h2m1 0h1m4 0h1m54 0h1m16 0h1m7 0h2m9 0h2m14 0h1m5 0h1m2 0h1m18 0h1m8 0h1m2 0h1m1 0h1m11 0h1m6 0h1m6 0h1m2 0h1m1 0h1m4 0h1m2 0h2m1 0h1m9 0h2m15 0h1m5 0h2m2 0h1m2 0h1m18 0h1m2 0h1m17 0h3m11 0h3m6 0h2m7 0h1m35 0h1m9 0h1m8 0h2m7 0h1m3 0h1m1 0h1m12 0h1m5 0h1m3 0h1m14 0h1m6 0h1m3 0h1m4 0h1m3 0h2m14 0h1m24 0h2m4 0h2m3 0h2m7 0h1m57 0h1m16 0h1m5 0h1m25 0h2m5 0h1m7 0h1m13 0h1M193 150.5h1m5 0h1m38 0h1m1 0h3m11 0h1m2 0h1m26 0h1m19 0h2m11 0h2m11 0h1m10 0h1m12 0h1m3 0h1m40 0h2m1 0h1m8 0h1m3 0h1m8 0h1m6 0h1m10 0h1m3 0h4m1 0h1m8 0h2m15 0h1m2 0h1m7 0h1m7 0h1m26 0h2m2 0h2m5 0h1m6 0h1m12 0h1m15 0h1m7 0h1m39 0h1m30 0h1m7 0h1m4 0h1m1 0h1m12 0h1m5 0h1m38 0h1m14 0h1m10 0h1m1 0h1m20 0h1m3 0h1m12 0h1m8 0h1m2 0h2m6 0h4m31 0h1m5 0h1m77 0h1m7 0h1m8 0h2m3 0h1m3 0h1M174 169.5h3m5 0h1m1 0h2m14 0h1m2 0h3m3 0h1m20 0h1m16 0h2m1 0h2m14 0h1m4 0h1m11 0h1m2 0h1m30 0h1m12 0h2m19 0h1m2 0h1m2 0h1m6 0h1m1 0h1m1 0h1m1 0h1m8 0h1m5 0h1m10 0h1m2 0h2m1 0h1m3 0h1m26 0h1m24 0h1m1 0h1m3 0h2m4 0h1m37 0h2m4 0h1m12 0h1m8 0h2m14 0h2m1 0h1m6 0h1m1 0h1m9 0h2m3 0h1m6 0h2m3 0h1m2 0h1m14 0h1m12 0h1m4 0h1m7 0h1m13 0h1m10 0h2m6 0h2m3 0h1m7 0h1m6 0h2m1 0h1m12 0h1m1 0h1m2 0h1m18 0h1m9 0h1m2 0h1m11 0h1m37 0h2m37 0h1m5 0h1m56 0h1m3 0h2m27 0h1m2 0h2m13 0h2m6 0h1m15 0h4M243 188.5h1m10 0h2m2 0h3m3 0h1m6 0h1m17 0h1m6 0h2m2 0h1m3 0h1m13 0h1m9 0h1m9 0h2m20 0h1m6 0h1m5 0h1m6 0h3m1 0h1m25 0h1m16 0h2m7 0h2m26 0h2m1 0h1m3 0h1m9 0h1m9 0h1m2 0h1m15 0h1m9 0h2m4 0h1m23 0h1m3 0h3m7 0h2m1 0h2m4 0h1m21 0h2m12 0h2m20 0h3m2 0h1m33 0h2m56 0h1m13 0h1m27 0h1m9 0h1m3 0h2m16 0h1m31 0h1m11 0h1m12 0h1m2 0h1m6 0h1m2 0h1m8 0h1m9 0h1m20 0h2m5 0h1m7 0h1m6 0h2m18 0h1m15 0h2M173 197.5h1m20 0h2m4 0h1m19 0h1m10 0h2m10 0h1m2 0h1m2 0h3m5 0h2m23 0h2m6 0h1m1 0h1m7 0h1m4 0h1m4 0h2m10 0h1m1 0h2m11 0h2m10 0h1m12 0h2m15 0h1m9 0h1m4 0h1m12 0h1m3 0h1m6 0h3m22 0h1m5 0h1m11 0h2m10 0h1m2 0h1m5 0h1m12 0h1m1 0h2m5 0h1m12 0h1m8 0h1m1 0h1m16 0h1m17 0h1m19 0h1m35 0h1m37 0h1m1 0h1m4 0h1m3 0h1m6 0h1m39 0h1m3 0h1m10 0h1m25 0h1m1 0h1m1 0h1m5 0h1m42 0h1m17 0h1m2 0h1m2 0h1m3 0h1m5 0h1m7 0h1m7 0h1m17 0h1m10 0h1m17 0h1m7 0h2m4 0h1m7 0h1m1 0h1m11 0h1m5 0h2M180 216.5h1m5 0h1m11 0h1m7 0h1m24 0h2m5 0h1m16 0h1m2 0h1m7 0h1m1 0h2m32 0h2m8 0h1m36 0h1m5 0h1m14 0h1m12 0h1m4 0h1m16 0h1m39 0h1m14 0h1m19 0h1m6 0h1m9 0h1m10 0h1m1 0h1m4 0h1m4 0h2m1 0h1m1 0h1m4 0h2m2 0h1m6 0h1m3 0h1m16 0h1m1 0h1m17 0h1m7 0h1m7 0h2m8 0h1m2 0h1m8 0h1m6 0h1m1 0h1m28 0h1m28 0h1m7 0h1m14 0h1m7 0h1m2 0h1m16 0h1m19 0h1m25 0h1m11 0h1m2 0h1m18 0h1m28 0h3m24 0h1m8 0h3m5 0h1m4 0h1m9 0h1m9 0h1m4 0h3m7 0h2m26 0h2M175 235.5h3m8 0h1m4 0h1m4 0h1m3 0h1m13 0h1m15 0h1m3 0h1m27 0h1m28 0h1m8 0h1m11 0h1m8 0h1m16 0h1m7 0h1m20 0h1m10 0h1m6 0h1m10 0h3m14 0h1m15 0h1m13 0h1m18 0h1m3 0h1m2 0h1m15 0h1m4 0h1m47 0h1m2 0h1m19 0h1m3 0h1m4 0h1m9 0h1m4 0h1m8 0h1m12 0h1m4 0h1m5 0h1m3 0h3m5 0h1m8 0h1m11 0h2m2 0h2m16 0h1m21 0h1m30 0h2m1 0h1m9 0h1m18 0h1m2 0h1m5 0h2m7 0h1m10 0h1m6 0h1m3 0h1m7 0h1m11 0h3m2 0h1m1 0h1m23 0h1m3 0h1m4 0h1m3 0h1m2 0h1m17 0h1m13 0h2m6 0h3m30 0h1m24 0h1m3 0h3M189 254.5h1m22 0h2m12 0h1m3 0h1m4 0h1m34 0h1m65 0h1m38 0h2m1 0h1m24 0h1m18 0h1m1 0h1m17 0h1m7 0h1m18 0h1m24 0h1m14 0h1m5 0h1m9 0h1m6 0h1m32 0h1m12 0h1m5 0h1m5 0h1m6 0h1m21 0h1m36 0h1m25 0h1m48 0h1M187 263.5h1m85 0h1m9 0h1m44 0h1m114 0h1m10 0h1m13 0h1m21 0h1m59 0h1m2 0h1m29 0h1m1 0h1m21 0h1m8 0h1m59 0h1M179 282.5h1m146 0h1m16 0h2m21 0h1m15 0h1m107 0h1m35 0h1m1 0h1m14 0h2m21 0h1m30 0h1m56 0h1m71 0h2M198 301.5h1m83 0h2m18 0h1m48 0h1m70 0h1m66 0h1m5 0h1m33 0h1m12 0h1m9 0h1m1 0h1m6 0h1m11 0h1m36 0h1m14 0h1m336 0h1M203 320.5h3m148 0h1m53 0h2m8 0h2m44 0h2m31 0h1m3 0h1m115 0h1m4 0h1m56 0h2m57 0h1M276 329.5h1m51 0h1m39 0h1m10 0h1m15 0h1m18 0h1m47 0h1m6 0h1m28 0h1m28 0h1m56 0h1m59 0h1m13 0h1m24 0h1M203 348.5h2m80 0h1m29 0h2m207 0h1m20 0h1m91 0h1m88 0h2m207 0h1M175 367.5h2m7 0h2m8 0h2m24 0h1m5 0h1m19 0h1m3 0h2m2 0h1m16 0h1m13 0h1m14 0h1m12 0h1m5 0h1m9 0h1m29 0h1m23 0h1m21 0h1m6 0h1m8 0h1m24 0h2m2 0h1m2 0h1m4 0h1m7 0h1m24 0h3m2 0h1m8 0h1m5 0h3m19 0h1m18 0h1m16 0h1m19 0h1m32 0h3m25 0h1m7 0h1m18 0h1m9 0h1m17 0h1m9 0h1m14 0h1m10 0h1m10 0h1m8 0h1m9 0h1m26 0h1m14 0h1m36 0h1m1 0h1m24 0h1m13 0h1m16 0h1m38 0h1m4 0h1m8 0h1m5 0h1M214 386.5h1m11 0h1m8 0h1m19 0h1m3 0h2m2 0h1m4 0h2m24 0h1m10 0h1m25 0h1m5 0h1m42 0h2m1 0h1m12 0h1m1 0h1m17 0h2m45 0h3m3 0h1m9 0h1m18 0h1m8 0h1m5 0h1m1 0h1m14 0h2m16 0h2m1 0h1m11 0h1m19 0h2m4 0h1m23 0h1m22 0h1m8 0h1m8 0h1m7 0h1m6 0h1m3 0h1m5 0h2m12 0h2m16 0h1m3 0h1m4 0h1m1 0h2m8 0h1m1 0h1m18 0h1m13 0h1m22 0h1m3 0h1m71 0h3m8 0h1m2 0h3m6 0h1m17 0h1m7 0h1m5 0h1m3 0h1m7 0h1m4 0h1m9 0h1m19 0h2M187 395.5h1m21 0h2m20 0h2m32 0h1m2 0h2m7 0h1m31 0h1m7 0h1m4 0h1m1 0h2m12 0h1m18 0h1m11 0h1m8 0h1m13 0h1m6 0h2m12 0h1m3 0h1m16 0h2m3 0h1m38 0h1m3 0h3m12 0h1m16 0h1m18 0h1m20 0h1m8 0h1m2 0h1m5 0h1m3 0h2m10 0h1m3 0h2m4 0h1m9 0h1m17 0h1m10 0h3m8 0h1m4 0h1m3 0h1m4 0h1m7 0h2m12 0h1m1 0h1m1 0h2m17 0h2m24 0h1m9 0h3m5 0h1m11 0h2m3 0h1m6 0h1m3 0h1m4 0h2m2 0h1m4 0h1m60 0h2m23 0h2m30 0h1m36 0h2M194 414.5h4m5 0h3m2 0h1m1 0h1m22 0h1m8 0h1m11 0h1m13 0h2m14 0h1m34 0h1m11 0h1m6 0h1m8 0h1m16 0h1m43 0h2m1 0h1m11 0h1m37 0h1m2 0h2m15 0h1m20 0h2m3 0h1m8 0h1m25 0h1m9 0h1m18 0h1m1 0h1m4 0h1m5 0h1m7 0h1m28 0h1m12 0h1m9 0h1m5 0h1m2 0h1m3 0h1m1 0h1m6 0h1m6 0h1m23 0h1m33 0h2m4 0h1m6 0h2m3 0h1m2 0h1m3 0h1m15 0h2m1 0h1m1 0h1m2 0h1m12 0h1m3 0h1m5 0h1m3 0h1m5 0h1m5 0h2m2 0h2m1 0h2m7 0h1m23 0h1m3 0h1m14 0h1m4 0h1m6 0h1m1 0h1m5 0h1m7 0h1m18 0h1m4 0h1m9 0h2M214 433.5h1m2 0h1m9 0h1m28 0h1m25 0h1m4 0h2m3 0h1m17 0h1m19 0h1m5 0h1m1 0h1m4 0h2m13 0h1m57 0h1m15 0h1m5 0h1m9 0h2m8 0h1m15 0h2m2 0h2m22 0h2m1 0h1m19 0h2m1 0h1m3 0h1m15 0h2m6 0h1m5 0h2m5 0h1m8 0h1m18 0h1m5 0h1m8 0h1m18 0h1m3 0h1m2 0h2m2 0h2m10 0h1m5 0h2m3 0h1m6 0h3m4 0h2m1 0h1m21 0h1m11 0h2m35 0h1m6 0h1m51 0h1m12 0h1m10 0h1m3 0h1m31 0h1m13 0h1m51 0h2m5 0h1m7 0h1m2 0h1m5 0h1M177 452.5h1m10 0h1m8 0h1m3 0h1m6 0h1m3 0h2m10 0h1m22 0h1m10 0h1m2 0h1m13 0h1m47 0h1m14 0h1m4 0h2m5 0h1m8 0h1m20 0h2m10 0h1m20 0h1m4 0h2m23 0h1m20 0h2m12 0h1m9 0h1m2 0h1m9 0h1m5 0h2m16 0h1m8 0h2m5 0h1m1 0h1m8 0h1m4 0h3m4 0h1m16 0h1m8 0h1m4 0h3m1 0h1m1 0h1m9 0h1m14 0h1m7 0h1m29 0h1m7 0h1m14 0h1m15 0h2m2 0h2m4 0h1m2 0h2m7 0h3m11 0h1m3 0h3m1 0h1m1 0h1m2 0h1m22 0h1m47 0h1m1 0h1m9 0h1m54 0h1m6 0h1m2 0h1m17 0h2m6 0h1m3 0h1m3 0h1m7 0h1m3 0h2m17 0h1m1 0h1M189 471.5h2m36 0h1m6 0h1m4 0h1m13 0h1m12 0h1m14 0h1m46 0h1m2 0h1m1 0h1m4 0h1m9 0h1m5 0h1m1 0h1m3 0h1m1 0h2m14 0h1m13 0h1m9 0h1m2 0h3m4 0h1m37 0h1m16 0h1m3 0h1m20 0h2m3 0h1m6 0h1m24 0h1m9 0h2m5 0h1m19 0h1m23 0h2m7 0h2m13 0h2m3 0h1m10 0h1m1 0h2m17 0h3m1 0h1m2 0h1m9 0h1m23 0h1m8 0h1m12 0h1m18 0h1m4 0h1m4 0h1m3 0h1m29 0h1m1 0h2m4 0h1m5 0h2m11 0h1m8 0h1m20 0h1m17 0h1m5 0h1m1 0h1m11 0h2m3 0h1m20 0h1m3 0h3m13 0h1m5 0h1m27 0h1m14 0h3M199 480.5h1m17 0h1m17 0h1m40 0h1m3 0h1m1 0h1m2 0h1m24 0h1m11 0h1m9 0h1m6 0h1m19 0h1m30 0h2m13 0h1m17 0h3m3 0h1m5 0h1m9 0h1m3 0h1m13 0h1m2 0h1m1 0h1m8 0h1m5 0h2m1 0h2m10 0h1m1 0h1m21 0h1m1 0h1m5 0h2m3 0h2m7 0h1m2 0h1m28 0h2m29 0h1m1 0h2m16 0h1m10 0h2m4 0h1m2 0h1m2 0h1m3 0h1m7 0h1m9 0h1m6 0h2m22 0h1m9 0h1m7 0h1m16 0h1m10 0h1m7 0h1m1 0h1m16 0h1m11 0h1m1 0h1m12 0h1m20 0h1m6 0h1m15 0h2m5 0h2m3 0h1m5 0h1m7 0h1m8 0h1m41 0h2m9 0h1m2 0h1m6 0h1m15 0h1M178 499.5h1m46 0h1m29 0h1m35 0h1m17 0h1m16 0h1m4 0h1m9 0h1m20 0h2m29 0h1m5 0h2m14 0h1m6 0h1m4 0h2m25 0h1m40 0h1m2 0h1m7 0h1m17 0h3m1 0h1m3 0h1m5 0h1m5 0h1m1 0h1m1 0h2m23 0h1m12 0h2m9 0h1m10 0h1m2 0h1m7 0h1m14 0h2m1 0h2m25 0h1m5 0h2m18 0h1m18 0h1m22 0h1m2 0h2m3 0h1m16 0h1m18 0h2m9 0h1m49 0h1m2 0h1m28 0h1m36 0h1m15 0h2m25 0h1m14 0h1M188 518.5h3m8 0h1m65 0h1m18 0h1m5 0h1m1 0h1m6 0h1m2 0h1m3 0h2m2 0h2m6 0h2m4 0h2m2 0h1m4 0h1m40 0h2m11 0h1m13 0h1m15 0h1m11 0h2m1 0h1m11 0h1m22 0h1m19 0h1m30 0h1m13 0h1m5 0h1m5 0h1m6 0h1m3 0h1m16 0h1m19 0h1m18 0h1m18 0h1m10 0h1m22 0h1m2 0h3m2 0h2m19 0h2m6 0h1m13 0h1m4 0h3m1 0h1m1 0h2m18 0h1m10 0h1m12 0h2m22 0h1m52 0h2m9 0h1m1 0h1m10 0h1m1 0h1m8 0h1m13 0h1m10 0h1m1 0h1m16 0h1m1 0h1m4 0h1m5 0h1m7 0h1M179 537.5h1m19 0h1m28 0h2m4 0h1m12 0h1m6 0h1m35 0h1m2 0h1m6 0h1m5 0h2m4 0h1m11 0h2m8 0h2m6 0h1m2 0h1m2 0h1m29 0h1m10 0h1m4 0h1m13 0h2m19 0h1m5 0h1m5 0h1m7 0h1m24 0h2m2 0h2m3 0h2m12 0h1m7 0h1m22 0h1m6 0h1m3 0h2m5 0h1m10 0h1m24 0h1m5 0h1m8 0h1m6 0h2m17 0h2m1 0h1m7 0h1m6 0h1m8 0h4m15 0h1m3 0h3m17 0h3m4 0h1m9 0h1m4 0h3m1 0h1m13 0h1m10 0h2m10 0h1m3 0h1m19 0h1m7 0h1m9 0h2m13 0h1m13 0h1m25 0h1m23 0h2m1 0h1m2 0h1m2 0h1m24 0h1m7 0h1m9 0h1m14 0h1m1 0h2m2 0h2m11 0h1M173 546.5h1m15 0h1m7 0h1m1 0h1m7 0h1m34 0h1m2 0h1m2 0h1m1 0h3m12 0h1m7 0h1m1 0h2m9 0h1m6 0h1m21 0h2m6 0h3m30 0h1m7 0h1m21 0h1m10 0h1m1 0h2m4 0h1m4 0h1m1 0h1m5 0h2m20 0h1m9 0h1m9 0h1m25 0h1m11 0h1m3 0h3m6 0h2m1 0h1m12 0h1m10 0h1m7 0h1m17 0h1m6 0h1m11 0h1m2 0h3m8 0h1m16 0h2m12 0h1m15 0h1m2 0h1m5 0h1m1 0h1m1 0h1m1 0h1m6 0h1m25 0h1m4 0h3m9 0h1m4 0h1m4 0h1m6 0h2m1 0h1m3 0h1m15 0h1m6 0h2m4 0h1m3 0h3m1 0h1m16 0h1m8 0h1m10 0h1m4 0h1m18 0h1m4 0h2m17 0h1m2 0h1m13 0h1m2 0h2m2 0h1m12 0h1m7 0h1m19 0h1m12 0h1m5 0h1m4 0h1m14 0h2M194 565.5h2m15 0h1m7 0h1m8 0h1m6 0h1m1 0h1m14 0h1m14 0h1m2 0h1m6 0h1m17 0h1m12 0h1m19 0h1m32 0h1m14 0h2m16 0h1m1 0h1m8 0h1m1 0h1m13 0h1m7 0h1m4 0h1m1 0h2m22 0h1m10 0h1m17 0h1m20 0h1m2 0h1m15 0h1m5 0h1m17 0h3m6 0h1m18 0h2m10 0h1m4 0h1m9 0h1m12 0h1m4 0h1m20 0h1m2 0h1m18 0h1m2 0h2m4 0h3m3 0h1m7 0h3m5 0h1m10 0h2m9 0h1m19 0h1m9 0h1m21 0h1m2 0h1m7 0h2m26 0h1m11 0h1m28 0h1m13 0h1m10 0h1m7 0h1m2 0h1m9 0h1m7 0h1m1 0h1m3 0h1m18 0h1m8 0h1m2 0h1m9 0h1m5 0h1m1 0h2m3 0h2M174 584.5h1m16 0h1m1 0h1m2 0h1m9 0h1m2 0h1m7 0h2m27 0h1m30 0h1m32 0h1m1 0h2m40 0h1m11 0h1m15 0h1m16 0h2m6 0h1m2 0h2m6 0h2m1 0h1m7 0h1m24 0h1m16 0h1m7 0h1m3 0h2m7 0h4m8 0h1m1 0h1m1 0h1m19 0h1m13 0h1m17 0h3m28 0h1m19 0h1m28 0h2m9 0h2m1 0h2m9 0h1m20 0h1m4 0h1m39 0h1m3 0h2m16 0h1m5 0h2m16 0h2m1 0h2m6 0h1m18 0h1m1 0h1m8 0h1m3 0h1m1 0h1m27 0h1m12 0h1m16 0h1m4 0h2m36 0h1m2 0h2m14 0h1m5 0h3M192 603.5h2m17 0h1m3 0h1m3 0h1m7 0h1m3 0h2m2 0h1m7 0h1m2 0h2m11 0h3m8 0h1m6 0h3m21 0h1m1 0h1m7 0h1m5 0h1m8 0h1m3 0h1m10 0h1m24 0h1m13 0h2m5 0h1m6 0h2m1 0h2m3 0h1m12 0h1m8 0h1m1 0h1m25 0h1m46 0h2m6 0h1m5 0h2m7 0h1m6 0h1m9 0h2m13 0h1m1 0h1m12 0h1m12 0h1m20 0h1m17 0h1m9 0h1m21 0h2m14 0h1m4 0h1m8 0h1m2 0h1m8 0h2m73 0h1m8 0h1m7 0h2m5 0h1m5 0h2m1 0h2m17 0h1m36 0h1m17 0h1m11 0h1m3 0h1m2 0h2m45 0h1m2 0h1M186 612.5h1m44 0h2m15 0h1m25 0h1m12 0h2m7 0h2m2 0h1m1 0h1m9 0h2m8 0h1m27 0h1m13 0h1m6 0h2m3 0h1m12 0h1m16 0h2m7 0h1m4 0h1m9 0h1m3 0h1m13 0h1m8 0h1m14 0h1m4 0h1m73 0h1m8 0h1m18 0h1m1 0h1m6 0h1m1 0h1m15 0h1m21 0h1m6 0h1m14 0h1m8 0h1m3 0h1m15 0h3m3 0h1m25 0h1m9 0h2m5 0h1m1 0h1m15 0h1m5 0h1m3 0h1m25 0h2m15 0h1m27 0h3m4 0h1m21 0h2m2 0h1m27 0h1m10 0h1m15 0h1m3 0h1m1 0h1m18 0h2m19 0h1M179 631.5h1m6 0h1m10 0h2m6 0h1m28 0h1m7 0h1m2 0h1m2 0h4m2 0h1m4 0h2m3 0h2m26 0h1m5 0h1m7 0h2m19 0h2m1 0h2m18 0h1m19 0h1m3 0h1m30 0h1m8 0h1m1 0h2m25 0h1m15 0h1m9 0h2m14 0h1m9 0h1m2 0h2m6 0h1m8 0h1m4 0h2m2 0h1m16 0h1m18 0h1m1 0h1m16 0h1m4 0h2m35 0h1m7 0h2m18 0h1m25 0h1m17 0h2m2 0h1m3 0h1m2 0h1m2 0h2m15 0h1m9 0h1m30 0h1m6 0h2m2 0h1m2 0h1m6 0h1m2 0h1m22 0h1m59 0h1m11 0h2m10 0h1m1 0h1m2 0h1m18 0h1m9 0h3m2 0h1m1 0h1m12 0h2m9 0h2m2 0h1M174 650.5h1m15 0h1m56 0h1m1 0h1m7 0h1m16 0h1m40 0h2m15 0h1m4 0h1m9 0h1m32 0h2m1 0h1m6 0h2m19 0h1m5 0h1m9 0h2m9 0h1m1 0h1m27 0h1m5 0h2m3 0h1m2 0h3m5 0h1m1 0h2m8 0h2m24 0h1m18 0h1m2 0h1m1 0h1m8 0h1m4 0h1m15 0h2m25 0h1m3 0h1m20 0h1m4 0h1m32 0h1m6 0h2m1 0h1m8 0h1m12 0h1m5 0h2m8 0h1m8 0h1m9 0h2m1 0h1m13 0h1m21 0h1m2 0h1m16 0h1m24 0h1m1 0h1m4 0h1m7 0h2m5 0h1m9 0h1m56 0h2m1 0h1m19 0h1m8 0h1m2 0h1m4 0h1m8 0h1M181 669.5h1m9 0h1m30 0h2m10 0h1m24 0h2m2 0h1m8 0h1m7 0h1m1 0h1m21 0h1m37 0h1m6 0h1m11 0h3m6 0h1m9 0h2m25 0h1m10 0h2m7 0h2m15 0h2m20 0h3m3 0h1m7 0h1m16 0h2m15 0h1m3 0h1m11 0h2m6 0h1m25 0h2m4 0h1m1 0h1m31 0h3m34 0h1m42 0h1m8 0h1m30 0h1m4 0h1m1 0h1m1 0h1m18 0h1m7 0h1m30 0h2m60 0h1m11 0h1m58 0h2m5 0h3m1 0h1m1 0h1m1 0h1m3 0h1m2 0h1m15 0h1M178 678.5h1m4 0h1m26 0h1m19 0h1m13 0h1m20 0h1m46 0h1m1 0h1m6 0h1m40 0h2m1 0h1m4 0h3m73 0h2m1 0h1m7 0h1m12 0h1m52 0h1m14 0h1m2 0h1m1 0h1m13 0h1m8 0h1m8 0h1m60 0h1m5 0h2m11 0h1m8 0h1m2 0h1m2 0h2m3 0h1m6 0h2m2 0h1m3 0h1m24 0h1m2 0h2m60 0h1m23 0h1m26 0h1m1 0h1m1 0h1m33 0h1m39 0h1m38 0h1m18 0h1M192 697.5h1m38 0h2m17 0h2m7 0h2m5 0h2m15 0h1m7 0h1m14 0h2m33 0h1m12 0h1m5 0h1m40 0h1m20 0h1m31 0h1m34 0h1m11 0h1m32 0h1m20 0h1m7 0h1m2 0h3m11 0h1m2 0h1m44 0h2m6 0h1m17 0h1m23 0h1m3 0h1m37 0h1m4 0h1m2 0h1m2 0h1m43 0h1m5 0h1m4 0h2m8 0h1m10 0h1m13 0h1m1 0h1m1 0h1m4 0h1m3 0h1m18 0h1m14 0h1m24 0h3m1 0h1m7 0h1m62 0h2M177 716.5h1m1 0h1m3 0h1m6 0h1m2 0h1m9 0h2m33 0h1m20 0h2m1 0h1m8 0h1m47 0h1m8 0h1m11 0h1m6 0h1m17 0h1m26 0h2m12 0h1m25 0h1m10 0h2m5 0h1m13 0h2m1 0h1m8 0h1m2 0h2m2 0h2m21 0h1m2 0h1m4 0h1m7 0h2m5 0h1m6 0h2m19 0h1m20 0h1m13 0h2m16 0h1m16 0h1m13 0h4m18 0h1m3 0h1m6 0h1m31 0h1m11 0h1m11 0h1m1 0h1m4 0h1m11 0h2m6 0h2m6 0h1m3 0h1m1 0h1m4 0h1m30 0h1m1 0h1m48 0h1m21 0h3m3 0h1m15 0h1m19 0h2m28 0h1m2 0h1M173 735.5h1m34 0h1m25 0h1m58 0h1m23 0h1m4 0h1m9 0h1m7 0h1m48 0h1m6 0h1m17 0h2m24 0h1m26 0h1m14 0h1m3 0h1m10 0h1m4 0h2m10 0h1m2 0h2m8 0h1m1 0h1m21 0h1m8 0h2m9 0h1m7 0h1m22 0h1m8 0h1m5 0h1m12 0h1m10 0h1m5 0h1m3 0h2m13 0h1m14 0h1m16 0h2m44 0h2m42 0h1m20 0h1m2 0h1m2 0h1m10 0h1m79 0h1m31 0h1m5 0h1m11 0h1m1 0h1M233 754.5h1m11 0h1m13 0h2m6 0h1m21 0h1m22 0h1m7 0h1m8 0h1m44 0h2m6 0h1m24 0h1m24 0h2m2 0h2m14 0h1m1 0h1m31 0h1m2 0h1m21 0h2m2 0h1m16 0h1m5 0h1m5 0h1m17 0h1m19 0h1m20 0h1m7 0h1m8 0h1m1 0h1m8 0h1m5 0h2m58 0h1m16 0h1m5 0h1m1 0h2m2 0h3m6 0h2m15 0h1m7 0h1m6 0h1m6 0h2m34 0h2m2 0h1m7 0h2m8 0h1m4 0h1m23 0h2m20 0h3m59 0h2m3 0h2m3 0h1m5 0h1m4 0h1M181 763.5h2m20 0h2m4 0h1m9 0h1m5 0h1m2 0h2m19 0h1m21 0h1m2 0h1m7 0h1m3 0h1m8 0h1m17 0h1m12 0h1m2 0h1m27 0h1m2 0h1m8 0h1m1 0h2m23 0h1m45 0h1m18 0h1m18 0h1m17 0h1m9 0h2m18 0h1m14 0h1m6 0h1m4 0h1m25 0h1m9 0h1m10 0h1m5 0h1m1 0h2m5 0h1m8 0h1m13 0h1m40 0h1m36 0h1m3 0h1m1 0h1m44 0h1m5 0h1m3 0h1m1 0h1m20 0h1m2 0h1m11 0h1m1 0h2m9 0h1m11 0h1m7 0h1m3 0h1m10 0h1m4 0h1m10 0h1m2 0h2m12 0h1m10 0h1m7 0h1m4 0h2m16 0h2m1 0h1m9 0h1m5 0h2m9 0h2M174 782.5h4m8 0h1m2 0h1m11 0h1m29 0h2m2 0h1m3 0h1m9 0h1m3 0h1m28 0h1m10 0h1m11 0h1m7 0h1m10 0h2m1 0h1m2 0h1m7 0h1m3 0h1m13 0h1m1 0h1m23 0h1m2 0h1m8 0h1m3 0h1m2 0h1m4 0h1m29 0h2m13 0h1m7 0h1m10 0h1m7 0h2m15 0h1m5 0h1m2 0h1m1 0h3m4 0h1m22 0h1m5 0h1m19 0h1m19 0h1m1 0h1m18 0h1m16 0h1m15 0h1m22 0h1m4 0h1m1 0h1m6 0h1m12 0h1m6 0h1m6 0h2m3 0h1m12 0h1m18 0h1m8 0h1m2 0h2m6 0h1m12 0h1m9 0h2m25 0h1m26 0h1m20 0h1m9 0h1m8 0h1m33 0h1m8 0h1m16 0h2m6 0h1m1 0h1m10 0h1m9 0h1M198 801.5h1m15 0h1m1 0h1m31 0h1m37 0h1m14 0h2m12 0h2m9 0h1m3 0h1m5 0h1m14 0h1m4 0h1m17 0h1m3 0h1m5 0h1m2 0h1m8 0h2m5 0h1m4 0h3m14 0h2m3 0h1m2 0h1m11 0h1m32 0h1m1 0h1m13 0h1m78 0h1m53 0h1m3 0h1m6 0h2m22 0h1m2 0h1m9 0h1m2 0h1m3 0h1m14 0h1m22 0h1m2 0h2m18 0h3m3 0h1m1 0h1m5 0h1m1 0h1m21 0h1m2 0h1m32 0h1m10 0h2m8 0h3m32 0h1m16 0h1m7 0h1m1 0h1m5 0h1m5 0h2m5 0h1m8 0h2m3 0h1m18 0h1m3 0h1m4 0h1m1 0h1M181 820.5h1m8 0h1m5 0h1m6 0h2m47 0h1m17 0h2m24 0h2m1 0h1m1 0h1m16 0h1m24 0h3m34 0h2m3 0h2m5 0h1m32 0h1m27 0h1m6 0h1m11 0h1m15 0h1m25 0h1m9 0h1m28 0h1m18 0h1m9 0h2m26 0h1m25 0h1m12 0h4m21 0h1m9 0h2m10 0h1m1 0h2m6 0h1m11 0h1m11 0h1m17 0h2m3 0h1m6 0h1m13 0h1m19 0h1m5 0h3m4 0h1m2 0h2m3 0h1m39 0h1m6 0h2m4 0h1m13 0h1m13 0h1m9 0h1m2 0h2m5 0h1m26 0h1m4 0h1m1 0h2m7 0h2m1 0h1M189 829.5h1m26 0h1m33 0h3m6 0h2m5 0h1m8 0h2m6 0h1m11 0h1m4 0h1m14 0h2m7 0h2m6 0h1m18 0h1m3 0h1m2 0h1m1 0h1m7 0h1m14 0h1m1 0h3m2 0h2m11 0h2m3 0h2m25 0h1m16 0h2m14 0h2m17 0h1m4 0h2m10 0h1m33 0h1m13 0h1m9 0h1m1 0h1m1 0h1m8 0h1m2 0h1m2 0h1m6 0h1m3 0h1m34 0h1m1 0h1m15 0h1m2 0h1m2 0h2m4 0h1m18 0h1m14 0h1m3 0h1m2 0h3m1 0h1m28 0h1m9 0h1m12 0h2m9 0h1m2 0h2m9 0h1m5 0h1m7 0h1m12 0h2m1 0h1m3 0h1m8 0h1m52 0h3m2 0h2m17 0h1m2 0h1m37 0h2m20 0h1M178 848.5h2m17 0h1m5 0h2m16 0h1m13 0h1m12 0h1m4 0h1m9 0h1m8 0h1m7 0h2m8 0h1m9 0h1m18 0h1m3 0h1m6 0h1m3 0h2m3 0h3m4 0h1m2 0h1m18 0h1m6 0h1m1 0h1m11 0h1m3 0h2m4 0h2m2 0h2m55 0h1m2 0h1m5 0h1m1 0h1m4 0h1m1 0h1m1 0h1m21 0h3m36 0h2m26 0h1m6 0h2m43 0h1m8 0h1m1 0h2m2 0h1m1 0h1m10 0h1m1 0h2m4 0h1m21 0h2m1 0h1m2 0h2m18 0h1m27 0h2m3 0h1m2 0h1m25 0h1m1 0h2m28 0h3m4 0h1m5 0h1m3 0h1m14 0h1m6 0h2m9 0h1m11 0h1m6 0h1m6 0h2m12 0h1m27 0h1m1 0h1m2 0h2m11 0h2m2 0h1m5 0h1m7 0h1m10 0h1M190 867.5h1m16 0h1m1 0h1m11 0h1m5 0h1m3 0h2m2 0h1m18 0h2m7 0h1m17 0h1m9 0h1m30 0h2m23 0h1m14 0h2m7 0h2m13 0h1m3 0h2m1 0h1m11 0h1m18 0h1m1 0h1m6 0h1m7 0h3m4 0h2m7 0h1m13 0h1m32 0h1m1 0h1m19 0h1m3 0h2m6 0h3m11 0h1m26 0h1m2 0h1m6 0h1m3 0h1m17 0h1m5 0h1m11 0h1m1 0h1m8 0h1m3 0h1m28 0h1m14 0h2m4 0h1m6 0h1m12 0h1m14 0h1m14 0h2m16 0h1m3 0h1m5 0h3m6 0h1m9 0h2m1 0h1m7 0h1m19 0h4m43 0h2m10 0h1m5 0h1m1 0h1m2 0h1m1 0h2m6 0h1m13 0h1m16 0h1m1 0h1m16 0h1m3 0h1M178 886.5h2m38 0h1m1 0h1m4 0h1m1 0h1m11 0h1m24 0h1m2 0h1m9 0h1m13 0h1m7 0h1m5 0h1m27 0h1m3 0h1m2 0h1m13 0h2m17 0h1m2 0h1m18 0h1m11 0h1m3 0h1m5 0h1m2 0h1m8 0h2m4 0h1m19 0h2m1 0h1m17 0h1m11 0h1m27 0h1m5 0h1m23 0h1m11 0h2m4 0h1m10 0h1m6 0h1m15 0h2m13 0h1m4 0h1m4 0h2m29 0h1m33 0h2m3 0h1m3 0h1m6 0h1m1 0h1m2 0h1m19 0h1m8 0h1m4 0h3m3 0h1m13 0h3m3 0h1m7 0h1m18 0h2m25 0h1m1 0h1m19 0h1m3 0h1m2 0h1m26 0h1m6 0h2m8 0h1m14 0h1m13 0h1m3 0h1m5 0h1m10 0h1m18 0h2M187 914.5h1m8 0h1m8 0h1m14 0h1m1 0h2m11 0h4m4 0h1m3 0h2m3 0h1m22 0h1m2 0h2m2 0h1m1 0h1m13 0h2m10 0h1m28 0h1m17 0h1m1 0h1m6 0h1m6 0h1m12 0h1m2 0h1m2 0h1m5 0h3m14 0h1m8 0h1m20 0h1m18 0h2m23 0h1m7 0h2m1 0h1m3 0h1m6 0h2m2 0h1m7 0h1m2 0h1m15 0h1m1 0h1m11 0h1m10 0h2m4 0h2m3 0h2m8 0h1m9 0h1m2 0h2m6 0h1m1 0h1m9 0h1m22 0h1m5 0h1m22 0h2m12 0h1m16 0h1m25 0h1m9 0h1m6 0h1m28 0h1m14 0h2m1 0h2m3 0h1m3 0h2m5 0h2m15 0h1m24 0h1m7 0h1m4 0h3m1 0h1m1 0h1m26 0h1m20 0h1m5 0h1m32 0h1M190 933.5h1m11 0h1m3 0h1m23 0h1m11 0h1m4 0h1m6 0h1m7 0h1m9 0h1m2 0h1m5 0h1m1 0h1m7 0h1m6 0h2m34 0h2m7 0h2m4 0h1m2 0h2m6 0h1m4 0h1m19 0h2m7 0h1m16 0h1m3 0h1m6 0h1m13 0h4m26 0h2m8 0h1m2 0h1m14 0h1m3 0h1m2 0h1m4 0h1m2 0h2m26 0h1m1 0h2m12 0h1m9 0h1m7 0h1m3 0h1m31 0h1m4 0h1m21 0h1m14 0h1m8 0h1m9 0h1m1 0h2m11 0h1m29 0h1m1 0h3m4 0h1m7 0h1m4 0h2m3 0h1m8 0h1m6 0h1m8 0h1m3 0h1m15 0h1m7 0h1m3 0h1m2 0h3m13 0h1m1 0h1m14 0h1m10 0h1m6 0h1m4 0h2m28 0h1m5 0h1m1 0h2m4 0h2m9 0h1m10 0h2m12 0h1M186 952.5h1m6 0h1m3 0h1m23 0h1m11 0h1m1 0h1m6 0h1m1 0h1m7 0h2m31 0h1m15 0h1m19 0h1m4 0h1m9 0h3m16 0h2m7 0h1m28 0h1m16 0h1m4 0h1m17 0h1m4 0h2m3 0h3m6 0h1m17 0h2m43 0h1m16 0h2m14 0h3m6 0h1m64 0h5m5 0h2m12 0h1m54 0h1m24 0h2m5 0h1m10 0h2m7 0h1m11 0h2m1 0h1m6 0h2m1 0h1m8 0h1m5 0h1m43 0h3m9 0h1m5 0h3m6 0h1m4 0h1m2 0h1m4 0h1m6 0h2m60 0h1m11 0h1M177 961.5h2m7 0h1m7 0h2m1 0h1m1 0h1m3 0h4m14 0h3m2 0h1m4 0h2m31 0h1m3 0h2m1 0h1m19 0h2m7 0h1m10 0h2m5 0h1m9 0h1m2 0h1m2 0h2m1 0h1m5 0h2m4 0h1m5 0h1m17 0h2m13 0h1m13 0h2m10 0h1m11 0h3m6 0h1m6 0h1m2 0h1m2 0h1m2 0h1m15 0h2m2 0h1m24 0h1m4 0h1m2 0h2m24 0h2m10 0h1m15 0h2m6 0h1m8 0h1m22 0h1m45 0h1m1 0h1m8 0h1m1 0h1m11 0h1m14 0h1m8 0h1m3 0h1m24 0h1m1 0h1m1 0h2m3 0h1m8 0h1m18 0h1m28 0h1m11 0h4m2 0h2m4 0h1m2 0h1m1 0h1m10 0h2m23 0h1m4 0h1m24 0h1m8 0h2m14 0h1m1 0h1m14 0h1"/>
<path stroke="#ffe800" stroke-width="10" d="M177 75h1m8 0h2m2 0h1m3 0h3m5 0h1m3 0h1m1 0h1m6 0h2m16 0h1m27 0h1m4 0h1m4 0h1m21 0h1m9 0h1m2 0h2m2 0h1m1 0h2m17 0h1m10 0h1m42 0h1m20 0h1m5 0h1m4 0h4m8 0h1m14 0h1m12 0h1m6 0h2m10 0h1m1 0h1m1 0h1m43 0h1m4 0h1m23 0h1m3 0h3m6 0h1m12 0h1m13 0h1m15 0h1m4 0h2m5 0h1m3 0h3m2 0h1m11 0h2m13 0h1m20 0h1m2 0h1m3 0h1m20 0h1m3 0h1m2 0h1m12 0h2m1 0h1m16 0h1m1 0h1m2 0h1m42 0h1m7 0h1m2 0h1m4 0h2m9 0h1m2 0h1m22 0h2m13 0h1m3 0h3m23 0h1m1 0h2m3 0h1m5 0h1m3 0h1m17 0h1m1 0h2m8 0h3m22 0h1M189 94h1m10 0h1m16 0h1m2 0h1m8 0h1m12 0h1m1 0h1m7 0h1m6 0h3m18 0h1m11 0h1m7 0h1m1 0h1m20 0h1m24 0h2m12 0h2m4 0h1m15 0h1m30 0h1m6 0h1m1 0h1m7 0h1m3 0h2m1 0h1m19 0h1m9 0h1m2 0h1m12 0h1m8 0h1m4 0h1m22 0h1m13 0h1m1 0h1m2 0h1m10 0h2m47 0h1m5 0h1m19 0h2m20 0h1m26 0h1m7 0h2m11 0h1m4 0h1m10 0h1m19 0h1m16 0h1m7 0h1m1 0h1m16 0h1m26 0h1m21 0h1m27 0h1m1 0h3m1 0h1m39 0h1m29 0h3m9 0h1m4 0h1m10 0h1M203 122h2m11 0h1m1 0h1m19 0h2m5 0h1m11 0h1m3 0h1m14 0h1m4 0h1m2 0h1m2 0h2m26 0h2m3 0h1m20 0h1m17 0h1m23 0h1m6 0h2m11 0h1m26 0h2m14 0h3m8 0h1m4 0h1m9 0h1m8 0h1m9 0h1m19 0h2m3 0h1m28 0h1m6 0h2m2 0h1m8 0h1m17 0h1m26 0h1m2 0h1m6 0h1m10 0h3m3 0h1m22 0h3m7 0h2m1 0h1m3 0h1m6 0h1m6 0h1m9 0h1m5 0h2m3 0h1m50 0h2m2 0h1m10 0h2m1 0h1m23 0h1m4 0h2m2 0h3m7 0h1m9 0h1m1 0h1m9 0h1m2 0h1m9 0h1m8 0h1m12 0h1m14 0h1m3 0h1m2 0h2m4 0h1m15 0h1m2 0h1m26 0h2M187 141h1m30 0h1m3 0h2m13 0h1m2 0h2m2 0h1m7 0h1m2 0h1m8 0h2m5 0h1m4 0h1m17 0h1m4 0h1m6 0h4m5 0h3m6 0h3m23 0h1m4 0h1m2 0h1m6 0h2m10 0h1m4 0h1m5 0h1m9 0h3m2 0h1m21 0h1m3 0h1m2 0h1m1 0h1m71 0h1m4 0h2m4 0h2m3 0h1m43 0h1m14 0h1m2 0h1m10 0h2m24 0h1m59 0h1m2 0h2m19 0h1m26 0h1m13 0h1m15 0h1m6 0h1m5 0h1m10 0h1m2 0h1m4 0h1m5 0h2m19 0h1m1 0h1m38 0h1m3 0h2m11 0h1m27 0h1m4 0h2m24 0h1M182 160h1m18 0h1m12 0h1m5 0h1m19 0h2m28 0h1m5 0h1m25 0h1m3 0h2m12 0h1m5 0h1m30 0h1m15 0h1m1 0h1m8 0h1m18 0h1m2 0h1m7 0h1m2 0h1m32 0h1m13 0h2m2 0h1m4 0h1m12 0h2m4 0h3m6 0h1m2 0h1m2 0h1m1 0h2m3 0h1m4 0h1m2 0h1m5 0h1m24 0h1m7 0h1m8 0h1m13 0h1m7 0h1m26 0h1m3 0h2m1 0h1m3 0h2m12 0h1m10 0h1m12 0h1m7 0h1m7 0h1m1 0h1m25 0h1m25 0h1m13 0h1m1 0h3m2 0h1m2 0h1m2 0h1m1 0h1m4 0h3m38 0h1m1 0h1m1 0h2m6 0h1m4 0h1m11 0h2m31 0h3m11 0h1m1 0h1m5 0h1m14 0h2m7 0h1m23 0h2m2 0h1m15 0h1m2 0h4M187 179h1m12 0h1m1 0h1m7 0h1m31 0h2m21 0h1m15 0h1m7 0h1m49 0h1m6 0h1m4 0h1m52 0h2m2 0h3m3 0h1m19 0h1m9 0h2m15 0h1m1 0h1m3 0h1m1 0h1m3 0h1m3 0h1m3 0h1m23 0h1m17 0h1m27 0h1m28 0h3m8 0h1m15 0h1m17 0h1m8 0h1m6 0h1m2 0h1m1 0h1m8 0h1m13 0h1m7 0h2m17 0h1m5 0h1m6 0h1m6 0h3m6 0h1m4 0h1m4 0h3m3 0h1m20 0h1m13 0h1m46 0h1m7 0h2m7 0h1m10 0h2m11 0h1m7 0h1m1 0h1m5 0h2m1 0h1m5 0h2m6 0h1m3 0h1m6 0h2m14 0h4m2 0h1m6 0h1m8 0h1m3 0h3m5 0h1M177 207h1m1 0h1m8 0h1m39 0h1m7 0h3m11 0h2m19 0h1m1 0h1m10 0h1m13 0h1m14 0h1m5 0h1m2 0h1m1 0h2m35 0h1m14 0h1m18 0h1m15 0h1m4 0h1m16 0h1m27 0h1m15 0h2m29 0h2m16 0h1m5 0h1m13 0h1m3 0h1m2 0h1m6 0h1m21 0h1m25 0h1m17 0h1m15 0h2m1 0h1m19 0h1m2 0h1m3 0h2m24 0h2m9 0h1m16 0h2m3 0h1m2 0h1m14 0h1m1 0h1m14 0h1m11 0h2m1 0h1m31 0h1m4 0h1m27 0h3m5 0h2m6 0h1m1 0h1m38 0h2m34 0h1m15 0h1M175 226h2m17 0h2m12 0h1m13 0h2m25 0h1m14 0h1m1 0h1m13 0h1m17 0h1m57 0h1m29 0h1m23 0h1m5 0h2m6 0h1m10 0h1m18 0h1m16 0h1m19 0h3m11 0h2m11 0h1m7 0h1m23 0h1m3 0h1m29 0h1m8 0h1m4 0h2m3 0h3m6 0h2m4 0h1m4 0h2m6 0h1m5 0h1m20 0h1m5 0h1m4 0h1m4 0h1m2 0h1m9 0h1m3 0h1m3 0h1m18 0h1m1 0h2m5 0h1m29 0h1m17 0h3m1 0h1m10 0h2m8 0h1m5 0h1m4 0h1m1 0h1m9 0h2m10 0h1m13 0h1m9 0h1m4 0h1m3 0h1m9 0h1m22 0h3m9 0h1m7 0h1m1 0h1m1 0h1m11 0h1m20 0h1m12 0h1M182 245h1m43 0h1m45 0h1m4 0h1m36 0h1m28 0h2m84 0h1m65 0h1m17 0h1m2 0h1m6 0h1m33 0h1m35 0h1m6 0h1m26 0h1m26 0h1m23 0h1M183 273h1m5 0h1m38 0h2m46 0h1m14 0h1m7 0h1m28 0h1m14 0h2m1 0h1m18 0h1m4 0h1m47 0h2m26 0h2m5 0h1m38 0h2m48 0h1m14 0h1m78 0h1m83 0h1M202 292h1m7 0h1m28 0h1m4 0h1m16 0h1m47 0h1m21 0h1m74 0h1m19 0h1m8 0h1m14 0h1m27 0h1m3 0h1m45 0h1m43 0h1m2 0h1m3 0h1m357 0h1M270 311h1m3 0h1m3 0h2m24 0h1m21 0h1m24 0h1m14 0h1m9 0h1m17 0h1m90 0h1m16 0h2m19 0h1m30 0h1m10 0h1m3 0h2m41 0h1m18 0h1m25 0h1m14 0h1m22 0h1M207 339h1m7 0h1m2 0h1m12 0h3m102 0h1m77 0h1m21 0h2m12 0h2m36 0h1m45 0h1m1 0h1m51 0h1m373 0h1M209 358h1m82 0h1m24 0h1m93 0h1m64 0h1m20 0h1m67 0h1m23 0h1m2 0h1M188 377h1m4 0h1m12 0h1m7 0h1m3 0h1m27 0h1m40 0h2m5 0h1m6 0h1m15 0h1m22 0h1m35 0h1m7 0h1m53 0h1m4 0h2m7 0h1m37 0h2m2 0h2m4 0h1m13 0h1m15 0h2m6 0h1m15 0h3m10 0h2m6 0h1m2 0h1m7 0h2m13 0h1m18 0h1m2 0h2m2 0h1m1 0h1m16 0h1m15 0h1m6 0h1m25 0h1m14 0h1m11 0h1m6 0h1m5 0h2m5 0h1m1 0h2m13 0h1m6 0h1m23 0h1m6 0h1m6 0h1m4 0h1m12 0h1m27 0h1m11 0h1m10 0h1m6 0h1m19 0h2m3 0h1m15 0h1m25 0h1m2 0h2m1 0h1m1 0h2m1 0h1m11 0h2M178 405h1m5 0h2m1 0h2m9 0h1m22 0h1m51 0h1m6 0h1m9 0h1m18 0h1m11 0h2m5 0h1m5 0h2m58 0h1m11 0h1m1 0h2m1 0h1m34 0h2m6 0h1m18 0h1m2 0h1m2 0h1m14 0h1m16 0h3m1 0h1m40 0h1m4 0h1m28 0h1m17 0h1m14 0h2m56 0h1m1 0h2m10 0h1m14 0h1m13 0h1m23 0h1m9 0h1m10 0h1m20 0h1m25 0h1m26 0h1m1 0h1m20 0h2m11 0h1m2 0h1m1 0h2m3 0h1m15 0h1m14 0h1m22 0h1m17 0h1m8 0h2M184 424h2m7 0h1m2 0h1m5 0h1m4 0h2m6 0h1m2 0h1m6 0h1m7 0h1m8 0h1m60 0h1m7 0h1m36 0h1m6 0h2m29 0h1m27 0h1m1 0h1m21 0h1m5 0h1m12 0h1m11 0h1m19 0h2m3 0h1m1 0h1m2 0h1m14 0h1m5 0h2m1 0h1m4 0h1m10 0h2m5 0h1m14 0h1m1 0h1m2 0h1m8 0h1m4 0h1m1 0h1m8 0h1m2 0h1m3 0h1m10 0h1m9 0h1m7 0h3m4 0h1m6 0h1m4 0h1m7 0h1m12 0h1m4 0h1m2 0h1m1 0h1m4 0h1m7 0h2m28 0h1m10 0h1m3 0h2m9 0h1m6 0h1m7 0h2m2 0h1m4 0h1m4 0h1m6 0h3m9 0h1m31 0h1m17 0h1m26 0h1m5 0h1m5 0h1m4 0h1m13 0h1m11 0h1m3 0h1m11 0h1m23 0h1m8 0h1m1 0h5M200 443h1m1 0h1m15 0h1m18 0h1m5 0h1m1 0h1m38 0h1m6 0h1m23 0h2m16 0h1m3 0h2m7 0h1m21 0h1m9 0h1m1 0h2m15 0h2m25 0h2m12 0h1m2 0h1m2 0h1m25 0h1m21 0h2m40 0h1m4 0h2m2 0h1m3 0h1m14 0h1m11 0h1m5 0h1m2 0h1m26 0h1m27 0h1m3 0h2m13 0h1m27 0h1m14 0h1m1 0h1m10 0h1m2 0h2m5 0h1m7 0h1m9 0h1m19 0h1m3 0h1m2 0h2m8 0h1m1 0h1m8 0h1m1 0h2m12 0h1m16 0h1m4 0h1m7 0h1m11 0h2m9 0h1m3 0h3m12 0h1m4 0h1m1 0h2m3 0h1m29 0h1m4 0h1m13 0h1m9 0h1m6 0h1m14 0h2M178 490h1m10 0h1m11 0h1m5 0h1m10 0h1m11 0h1m5 0h1m2 0h1m12 0h1m38 0h2m1 0h1m5 0h1m2 0h1m11 0h2m12 0h1m4 0h2m2 0h1m4 0h3m5 0h1m9 0h1m9 0h2m6 0h1m24 0h1m15 0h1m2 0h1m10 0h1m4 0h1m8 0h1m6 0h2m6 0h1m2 0h1m24 0h1m16 0h2m4 0h1m23 0h1m4 0h1m57 0h1m1 0h1m26 0h1m13 0h1m6 0h2m20 0h1m1 0h1m5 0h1m19 0h1m1 0h2m34 0h1m3 0h1m6 0h2m5 0h1m2 0h1m16 0h1m6 0h1m1 0h1m35 0h1m1 0h1m3 0h2m23 0h1m24 0h1m8 0h1m11 0h1m20 0h1m4 0h1m8 0h1m1 0h1m22 0h2m6 0h1M178 509h1m9 0h1m26 0h1m4 0h1m15 0h1m7 0h2m8 0h1m19 0h1m14 0h1m8 0h2m4 0h1m6 0h1m21 0h3m9 0h2m2 0h1m56 0h1m18 0h1m27 0h1m33 0h1m11 0h1m4 0h2m3 0h1m10 0h2m3 0h1m11 0h1m15 0h1m4 0h2m13 0h1m10 0h2m5 0h2m4 0h3m3 0h1m7 0h2m7 0h1m7 0h1m1 0h1m4 0h1m27 0h1m1 0h1m10 0h1m1 0h1m5 0h1m6 0h2m18 0h1m8 0h2m1 0h1m19 0h1m2 0h2m15 0h2m4 0h1m19 0h1m12 0h1m7 0h2m5 0h1m5 0h1m26 0h2m22 0h1m35 0h1m4 0h1m1 0h1m12 0h1m4 0h1m3 0h1m10 0h2m12 0h1m3 0h2M179 528h1m4 0h2m11 0h2m11 0h1m34 0h1m3 0h1m3 0h1m17 0h1m1 0h1m1 0h1m8 0h1m5 0h1m7 0h1m28 0h1m23 0h1m5 0h1m10 0h1m6 0h1m12 0h1m27 0h1m26 0h2m9 0h1m33 0h1m9 0h1m6 0h2m13 0h3m1 0h1m7 0h1m6 0h2m24 0h1m1 0h2m6 0h1m9 0h1m35 0h1m15 0h1m7 0h1m4 0h1m2 0h2m1 0h1m7 0h1m3 0h1m31 0h1m4 0h1m5 0h1m6 0h1m4 0h1m13 0h1m2 0h1m15 0h1m8 0h1m11 0h1m22 0h2m1 0h1m1 0h1m13 0h3m33 0h1m13 0h2m3 0h1m7 0h1m6 0h1m3 0h1m4 0h1m3 0h1m16 0h1m11 0h2m13 0h1m3 0h2m13 0h1M186 556h1m1 0h1m22 0h1m2 0h1m16 0h2m1 0h1m12 0h1m5 0h1m2 0h1m2 0h2m10 0h1m2 0h1m11 0h1m6 0h2m13 0h1m18 0h1m15 0h2m10 0h1m26 0h2m30 0h1m18 0h1m2 0h2m2 0h3m1 0h1m7 0h1m25 0h1m26 0h1m9 0h1m1 0h2m3 0h1m19 0h1m13 0h1m13 0h1m11 0h1m10 0h1m20 0h2m3 0h2m1 0h1m9 0h3m7 0h3m10 0h1m14 0h2m3 0h1m14 0h1m1 0h1m11 0h1m6 0h1m7 0h1m2 0h1m11 0h3m17 0h2m6 0h1m16 0h1m1 0h1m5 0h1m8 0h1m7 0h1m54 0h1m2 0h1m12 0h3m4 0h1m3 0h1m16 0h2m22 0h1m14 0h1m23 0h1M189 575h1m35 0h3m6 0h2m4 0h2m3 0h1m21 0h4m10 0h1m14 0h2m10 0h1m2 0h1m16 0h1m18 0h1m13 0h1m6 0h1m5 0h1m2 0h1m14 0h1m4 0h2m21 0h2m2 0h1m1 0h1m14 0h1m28 0h1m16 0h2m11 0h1m6 0h2m6 0h1m31 0h1m16 0h1m2 0h2m13 0h1m14 0h1m31 0h1m6 0h2m2 0h1m5 0h1m2 0h1m3 0h1m1 0h1m12 0h1m13 0h1m22 0h1m10 0h2m12 0h1m25 0h1m18 0h1m33 0h1m12 0h1m5 0h2m24 0h1m16 0h1m28 0h1m6 0h1m8 0h2m11 0h1m3 0h3m6 0h2M179 622h1m29 0h1m17 0h1m7 0h1m4 0h2m4 0h1m15 0h1m15 0h2m10 0h1m4 0h4m9 0h1m5 0h1m8 0h3m31 0h1m20 0h1m8 0h1m4 0h2m19 0h1m53 0h2m11 0h1m10 0h1m18 0h1m11 0h1m4 0h2m25 0h1m6 0h1m47 0h1m3 0h1m25 0h2m23 0h1m2 0h1m10 0h1m39 0h1m4 0h1m10 0h1m9 0h4m4 0h1m9 0h1m2 0h1m10 0h1m4 0h1m13 0h1m8 0h1m1 0h1m18 0h1m2 0h2m1 0h1m5 0h1m30 0h1m3 0h2m25 0h2m2 0h2m7 0h2m5 0h1m4 0h1m1 0h1m4 0h2m9 0h1M197 641h1m4 0h1m23 0h1m10 0h1m2 0h2m8 0h2m24 0h1m6 0h1m9 0h1m36 0h1m1 0h1m7 0h1m5 0h1m3 0h1m18 0h1m7 0h1m1 0h1m26 0h1m3 0h1m11 0h1m13 0h2m15 0h1m7 0h1m6 0h1m9 0h1m6 0h1m5 0h1m3 0h2m8 0h1m2 0h1m7 0h1m16 0h1m17 0h1m9 0h1m14 0h3m7 0h2m6 0h1m13 0h1m5 0h2m2 0h1m2 0h1m8 0h1m23 0h1m29 0h2m5 0h1m9 0h1m7 0h1m57 0h1m1 0h1m11 0h1m5 0h1m18 0h1m3 0h2m11 0h2m61 0h1m14 0h1m8 0h1m22 0h1m2 0h1m5 0h2m8 0h2m14 0h2M175 660h2m20 0h1m80 0h2m10 0h1m4 0h1m7 0h2m7 0h1m35 0h1m13 0h2m59 0h1m6 0h1m5 0h2m15 0h1m3 0h1m4 0h1m4 0h2m7 0h1m3 0h1m6 0h2m26 0h1m7 0h1m2 0h1m5 0h1m28 0h1m24 0h2m5 0h1m1 0h2m4 0h1m6 0h1m7 0h1m21 0h1m1 0h2m2 0h1m43 0h2m1 0h1m1 0h1m39 0h1m57 0h2m2 0h1m4 0h2m11 0h1m1 0h1m29 0h1m4 0h1m1 0h2m1 0h1m4 0h1m1 0h1m7 0h1m2 0h2m4 0h3m2 0h2m3 0h1m1 0h1m6 0h2m10 0h1m4 0h1m12 0h1m9 0h1m1 0h2m16 0h1M252 688h1m6 0h2m30 0h1m1 0h1m17 0h1m8 0h1m17 0h1m10 0h1m7 0h1m50 0h2m2 0h1m1 0h1m14 0h2m2 0h1m20 0h1m5 0h1m38 0h2m4 0h1m3 0h4m10 0h1m11 0h1m22 0h2m23 0h1m8 0h1m1 0h1m21 0h1m5 0h1m18 0h3m32 0h1m15 0h1m2 0h1m11 0h2m7 0h2m13 0h1m8 0h1m49 0h4m16 0h2m14 0h1m7 0h1m25 0h1m14 0h2m6 0h1m21 0h1m23 0h1m12 0h1m3 0h1m7 0h1m13 0h2M182 707h1m23 0h1m3 0h1m8 0h1m8 0h1m29 0h1m18 0h3m20 0h1m49 0h1m8 0h2m3 0h1m46 0h1m17 0h1m25 0h2m3 0h1m21 0h1m5 0h1m1 0h1m16 0h1m2 0h1m9 0h3m15 0h1m14 0h1m72 0h1m3 0h1m1 0h2m10 0h1m30 0h1m3 0h2m17 0h2m13 0h1m11 0h1m14 0h1m7 0h1m1 0h1m5 0h1m2 0h1m1 0h1m18 0h1m13 0h1m1 0h1m9 0h1m15 0h1m12 0h1m4 0h1m15 0h2m2 0h1m9 0h1m8 0h1m65 0h1m24 0h2M181 726h1m7 0h1m4 0h2m11 0h1m12 0h1m4 0h1m9 0h1m8 0h1m27 0h1m7 0h1m27 0h1m10 0h2m6 0h1m1 0h1m12 0h1m3 0h1m14 0h1m13 0h1m12 0h1m43 0h1m1 0h1m4 0h1m4 0h1m8 0h1m6 0h1m3 0h2m29 0h1m1 0h2m18 0h1m24 0h1m24 0h2m6 0h3m20 0h1m8 0h1m11 0h2m4 0h1m2 0h1m3 0h2m32 0h1m7 0h1m11 0h1m10 0h1m12 0h1m13 0h1m15 0h1m30 0h1m3 0h1m15 0h2m9 0h1m12 0h1m18 0h1m27 0h2m1 0h1m18 0h2m6 0h1m9 0h1m14 0h1m29 0h1m7 0h1M173 745h1m63 0h2m6 0h1m12 0h1m4 0h1m7 0h3m11 0h1m6 0h1m18 0h1m42 0h1m14 0h1m14 0h1m16 0h1m3 0h1m26 0h1m1 0h1m29 0h2m7 0h1m8 0h1m21 0h1m23 0h1m9 0h1m3 0h1m51 0h1m15 0h1m18 0h1m4 0h1m22 0h1m8 0h1m9 0h1m7 0h1m6 0h1m65 0h1m27 0h1m1 0h1m2 0h1m4 0h1m59 0h3m36 0h2m5 0h1m7 0h1m4 0h1m35 0h2M188 773h1m9 0h1m1 0h1m17 0h1m55 0h1m6 0h1m4 0h1m7 0h1m46 0h1m15 0h1m11 0h1m4 0h1m3 0h2m8 0h1m8 0h1m1 0h2m1 0h1m4 0h1m2 0h1m16 0h2m11 0h1m19 0h1m5 0h1m15 0h1m16 0h1m10 0h1m12 0h1m17 0h1m25 0h2m21 0h2m2 0h1m8 0h5m58 0h1m7 0h1m7 0h1m12 0h1m9 0h1m1 0h2m9 0h1m4 0h1m8 0h2m9 0h3m57 0h2m9 0h2m6 0h1m15 0h2m49 0h1m8 0h1m13 0h2m10 0h1m1 0h2m10 0h1m1 0h2m1 0h1m3 0h1m2 0h2m6 0h1m4 0h1M173 792h1m6 0h1m8 0h1m8 0h1m13 0h2m2 0h1m4 0h3m7 0h2m7 0h2m11 0h1m4 0h3m1 0h1m4 0h1m23 0h1m1 0h1m10 0h1m29 0h3m12 0h1m6 0h1m10 0h1m2 0h1m2 0h1m21 0h1m10 0h1m7 0h1m17 0h1m3 0h2m6 0h1m1 0h2m9 0h1m10 0h1m26 0h1m6 0h2m11 0h1m3 0h1m24 0h1m9 0h1m3 0h2m6 0h1m4 0h1m2 0h1m19 0h3m4 0h1m7 0h2m14 0h1m2 0h1m2 0h1m17 0h2m49 0h1m2 0h1m8 0h1m18 0h1m11 0h1m15 0h1m7 0h1m7 0h1m19 0h1m11 0h2m4 0h1m5 0h2m14 0h1m41 0h1m2 0h1m2 0h1m3 0h1m9 0h1m7 0h2m43 0h2m12 0h1M175 811h2m9 0h1m6 0h1m13 0h1m17 0h1m18 0h2m1 0h1m10 0h1m4 0h1m7 0h1m15 0h2m5 0h2m2 0h3m4 0h1m2 0h2m18 0h1m17 0h1m12 0h1m4 0h1m6 0h2m2 0h1m13 0h1m13 0h1m13 0h4m12 0h1m4 0h1m1 0h1m1 0h1m7 0h2m2 0h1m7 0h1m15 0h1m19 0h1m14 0h1m5 0h1m7 0h1m2 0h2m7 0h2m2 0h2m1 0h1m6 0h1m2 0h1m4 0h1m26 0h1m10 0h1m10 0h1m33 0h1m3 0h1m7 0h1m34 0h1m12 0h2m1 0h2m3 0h2m1 0h3m5 0h1m1 0h1m6 0h1m4 0h1m13 0h1m8 0h1m11 0h2m3 0h1m20 0h1m6 0h1m1 0h1m8 0h1m4 0h1m13 0h1m9 0h1m3 0h1m39 0h1m7 0h1m1 0h1m1 0h1m14 0h1m1 0h1m11 0h1m22 0h1m16 0h2M174 839h1m2 0h1m5 0h1m4 0h1m13 0h1m17 0h1m6 0h1m28 0h1m1 0h1m6 0h1m5 0h1m3 0h1m46 0h1m8 0h1m11 0h2m2 0h1m12 0h4m10 0h2m7 0h1m13 0h1m4 0h1m24 0h2m4 0h1m4 0h1m3 0h1m2 0h1m8 0h1m9 0h2m10 0h1m1 0h1m1 0h2m19 0h1m6 0h1m28 0h2m5 0h1m11 0h2m35 0h1m13 0h1m1 0h1m3 0h1m11 0h1m8 0h1m3 0h1m12 0h2m34 0h1m18 0h1m3 0h1m1 0h1m19 0h1m4 0h1m11 0h1m10 0h1m1 0h1m2 0h1m6 0h2m1 0h1m3 0h1m18 0h1m28 0h1m22 0h1m2 0h1m1 0h1m2 0h1m3 0h1m3 0h2m4 0h2m3 0h1m19 0h2m12 0h1m26 0h1m4 0h1m15 0h2m2 0h2M182 858h1m50 0h1m24 0h1m2 0h1m3 0h1m11 0h1m20 0h1m1 0h1m10 0h1m1 0h1m4 0h1m92 0h1m9 0h2m8 0h1m2 0h1m4 0h2m3 0h1m6 0h2m17 0h2m6 0h1m2 0h4m1 0h1m4 0h1m46 0h1m5 0h1m6 0h1m1 0h1m29 0h1m29 0h1m2 0h1m10 0h2m10 0h1m14 0h1m8 0h1m12 0h1m2 0h2m2 0h2m11 0h1m10 0h2m2 0h1m2 0h1m1 0h2m12 0h1m22 0h1m2 0h1m15 0h2m16 0h1m2 0h1m9 0h1m2 0h1m17 0h1m5 0h1m9 0h1m2 0h1m15 0h1m20 0h1m8 0h1m2 0h1m6 0h1m3 0h2m2 0h1m31 0h1m5 0h2m5 0h1m10 0h1M179 877h1m3 0h1m5 0h1m18 0h1m1 0h1m6 0h1m11 0h1m7 0h1m19 0h1m7 0h1m5 0h1m3 0h1m9 0h1m1 0h2m1 0h1m18 0h1m3 0h2m5 0h1m12 0h3m1 0h1m2 0h1m4 0h3m6 0h1m1 0h1m11 0h1m10 0h1m12 0h1m8 0h2m1 0h2m8 0h2m15 0h1m3 0h1m5 0h1m1 0h1m8 0h1m6 0h1m10 0h1m11 0h1m8 0h1m10 0h2m21 0h1m13 0h2m6 0h1m24 0h3m7 0h1m1 0h1m3 0h1m2 0h1m3 0h2m1 0h1m7 0h1m7 0h2m21 0h1m2 0h1m5 0h2m7 0h1m10 0h1m17 0h1m1 0h1m18 0h1m10 0h2m2 0h2m12 0h1m14 0h1m29 0h1m4 0h1m4 0h1m35 0h1m29 0h1m9 0h1m11 0h1m11 0h2m2 0h1m8 0h1m4 0h1m17 0h1m1 0h1m14 0h1m18 0h1m3 0h1M175 905h2m2 0h1m39 0h2m4 0h1m1 0h1m11 0h1m5 0h1m27 0h1m24 0h2m8 0h1m25 0h4m7 0h1m12 0h2m1 0h1m6 0h1m26 0h1m11 0h3m5 0h1m2 0h2m53 0h1m12 0h1m30 0h1m1 0h1m9 0h1m4 0h1m7 0h1m23 0h3m19 0h1m4 0h1m7 0h1m1 0h1m2 0h1m28 0h1m49 0h1m4 0h1m12 0h1m2 0h1m17 0h1m7 0h1m5 0h1m2 0h1m4 0h1m1 0h1m1 0h1m11 0h1m14 0h1m10 0h1m1 0h1m2 0h3m10 0h1m8 0h1m1 0h4m7 0h2m6 0h1m4 0h1m35 0h1m1 0h1m2 0h1m3 0h1m24 0h1m13 0h1m4 0h1m5 0h1m10 0h1m1 0h1m3 0h2m11 0h1M173 943h1m6 0h1m1 0h1m5 0h1m1 0h2m20 0h4m2 0h1m24 0h1m10 0h1m3 0h1m2 0h1m13 0h2m44 0h1m32 0h1m9 0h1m4 0h1m6 0h1m38 0h1m8 0h1m7 0h1m2 0h1m28 0h2m19 0h1m21 0h1m27 0h1m2 0h1m6 0h1m39 0h3m24 0h2m7 0h1m4 0h1m13 0h1m7 0h1m1 0h3m5 0h1m27 0h1m1 0h2m6 0h1m9 0h1m2 0h1m18 0h1m2 0h1m1 0h1m9 0h1m6 0h1m8 0h2m7 0h1m13 0h2m15 0h1m7 0h1m1 0h3m2 0h1m17 0h2m7 0h1m1 0h1m9 0h1m18 0h1m21 0h2m6 0h1m2 0h2m3 0h2m8 0h1m6 0h1m11 0h1m2 0h1m1 0h1"/>
<path stroke="#ffe800" stroke-width="11" d="M196 971.5h1m2 0h4m11 0h1m6 0h1m12 0h1m9 0h1m14 0h2m1 0h2m4 0h2m1 0h1m1 0h1m24 0h2m8 0h2m1 0h1m7 0h1m17 0h1m44 0h1m2 0h1m6 0h1m8 0h1m5 0h1m28 0h3m14 0h1m41 0h1m2 0h1m3 0h2m7 0h2m12 0h4m14 0h1m13 0h1m8 0h1m8 0h1m5 0h1m4 0h2m7 0h2m9 0h1m5 0h1m9 0h1m2 0h2m5 0h3m12 0h1m3 0h2m5 0h1m3 0h1m18 0h1m10 0h1m10 0h1m2 0h1m47 0h2m23 0h1m2 0h2m1 0h1m19 0h3m8 0h1m6 0h1m8 0h1m19 0h1m9 0h2m33 0h1m14 0h2m4 0h1m2 0h1m6 0h1m1 0h1m6 0h2m19 0h1m5 0h1"/>
<path stroke="#ffda00" stroke-width="9" d="M174 65.5h3m29 0h1m4 0h1m2 0h2m31 0h1m50 0h1m15 0h1m2 0h1m9 0h1m13 0h1m6 0h1m5 0h1m21 0h1m6 0h2m26 0h1m21 0h2m24 0h1m10 0h1m10 0h2m9 0h2m11 0h1m9 0h1m8 0h2m8 0h1m6 0h1m2 0h1m27 0h1m1 0h1m4 0h1m9 0h1m19 0h1m7 0h1m8 0h1m3 0h1m95 0h2m13 0h1m4 0h2m1 0h2m3 0h2m16 0h2m42 0h2m1 0h2m6 0h4m22 0h1m2 0h2m6 0h1m13 0h1m2 0h2m11 0h2m5 0h1m7 0h1M179 84.5h1m1 0h1m11 0h1m18 0h2m1 0h1m12 0h1m4 0h1m15 0h1m6 0h1m42 0h1m3 0h2m23 0h1m3 0h1m15 0h1m30 0h1m16 0h1m8 0h2m32 0h1m2 0h1m5 0h1m1 0h1m7 0h2m22 0h1m39 0h1m5 0h1m47 0h3m14 0h1m41 0h1m5 0h1m11 0h1m25 0h2m3 0h1m15 0h1m12 0h1m7 0h1m15 0h2m5 0h2m14 0h2m26 0h1m14 0h1m5 0h1m7 0h1m54 0h1m42 0h1m3 0h1m5 0h1m5 0h3m1 0h1m1 0h1m29 0h3M189 103.5h1m3 0h1m8 0h1m47 0h2m9 0h1m41 0h1m33 0h2m12 0h1m23 0h1m27 0h2m6 0h1m10 0h1m10 0h1m6 0h2m24 0h1m4 0h1m9 0h1m15 0h1m10 0h1m1 0h1m18 0h1m7 0h1m4 0h2m7 0h1m12 0h1m16 0h1m7 0h1m18 0h1m1 0h1m17 0h1m27 0h1m43 0h1m1 0h3m13 0h1m35 0h3m21 0h1m1 0h1m29 0h2m4 0h1m44 0h3m20 0h3m7 0h2m38 0h1m8 0h4m2 0h1m4 0h2m8 0h1m5 0h2M188 112.5h1m20 0h1m19 0h2m49 0h1m25 0h2m31 0h1m3 0h2m30 0h2m2 0h3m20 0h1m7 0h1m2 0h1m9 0h1m9 0h2m8 0h2m10 0h3m5 0h1m31 0h1m26 0h3m29 0h1m23 0h1m3 0h1m9 0h2m18 0h4m16 0h2m33 0h3m8 0h1m15 0h2m7 0h1m29 0h4m13 0h1m5 0h1m45 0h2m13 0h1m1 0h2m13 0h1m3 0h2m35 0h2m12 0h1m4 0h3m2 0h1m7 0h1m29 0h2m4 0h1M194 131.5h2m11 0h1m9 0h2m2 0h1m8 0h5m3 0h1m16 0h1m24 0h1m4 0h1m3 0h2m14 0h1m14 0h1m6 0h1m14 0h1m5 0h1m5 0h1m6 0h3m1 0h1m2 0h2m20 0h2m46 0h2m18 0h1m1 0h1m5 0h1m14 0h1m1 0h2m4 0h1m14 0h1m5 0h3m4 0h1m6 0h2m29 0h1m47 0h1m3 0h2m4 0h1m2 0h1m11 0h1m7 0h1m3 0h1m27 0h1m19 0h2m4 0h1m5 0h1m9 0h1m11 0h1m12 0h2m14 0h1m6 0h2m21 0h1m2 0h1m1 0h2m5 0h4m31 0h2m1 0h1m23 0h1m17 0h1m91 0h1m4 0h2M192 150.5h1m4 0h2m38 0h1m15 0h1m32 0h1m49 0h2m18 0h1m25 0h1m2 0h1m24 0h1m5 0h1m4 0h1m8 0h1m13 0h1m41 0h1m7 0h2m3 0h2m1 0h2m15 0h1m9 0h1m28 0h2m23 0h1m18 0h1m22 0h1m33 0h1m5 0h1m24 0h1m23 0h1m6 0h1m50 0h2m25 0h1m18 0h1m23 0h1m19 0h1m1 0h1m5 0h1m32 0h2m6 0h1m26 0h1m13 0h1m11 0h1M177 169.5h1m3 0h1m9 0h1m1 0h3m22 0h1m3 0h2m16 0h2m7 0h1m22 0h2m3 0h1m28 0h2m7 0h2m17 0h2m16 0h2m1 0h1m2 0h1m27 0h1m8 0h1m5 0h1m18 0h1m31 0h3m70 0h2m8 0h1m20 0h1m9 0h1m4 0h2m5 0h1m2 0h2m18 0h2m18 0h1m20 0h3m5 0h3m37 0h1m10 0h1m13 0h1m6 0h1m1 0h1m5 0h2m15 0h1m2 0h1m16 0h2m1 0h1m5 0h1m41 0h1m34 0h1m21 0h2m5 0h2m5 0h1m6 0h1m11 0h1M180 188.5h2m11 0h3m21 0h1m10 0h2m26 0h1m28 0h1m17 0h1m4 0h2m9 0h1m9 0h1m3 0h1m18 0h2m4 0h1m7 0h1m18 0h1m15 0h3m21 0h1m3 0h1m2 0h1m7 0h1m3 0h2m20 0h1m13 0h1m2 0h2m7 0h2m106 0h1m7 0h1m13 0h1m4 0h1m1 0h1m9 0h1m4 0h1m15 0h2m5 0h1m19 0h1m2 0h1m9 0h1m20 0h1m4 0h2m7 0h2m23 0h1m15 0h1m1 0h1m9 0h1m27 0h1m53 0h1m3 0h1m3 0h1m1 0h1m24 0h1m2 0h1m7 0h1m1 0h1m21 0h3M175 197.5h2m7 0h2m12 0h1m75 0h1m9 0h2m1 0h2m4 0h1m4 0h1m55 0h1m22 0h1m48 0h1m3 0h1m43 0h2m18 0h1m4 0h1m14 0h1m20 0h1m1 0h1m20 0h3m23 0h1m5 0h1m2 0h1m6 0h1m19 0h1m13 0h1m12 0h1m17 0h1m4 0h2m7 0h2m19 0h1m9 0h1m23 0h1m18 0h3m3 0h1m5 0h1m36 0h1m13 0h1m14 0h1m8 0h1m1 0h1m11 0h5m13 0h1m18 0h1m2 0h4m7 0h1m18 0h1m4 0h1m10 0h2m5 0h1m11 0h2m1 0h1m5 0h2M192 216.5h1m7 0h1m2 0h3m2 0h1m21 0h1m3 0h1m14 0h3m13 0h1m7 0h1m19 0h1m1 0h3m12 0h1m2 0h1m16 0h2m2 0h2m5 0h1m6 0h1m28 0h1m12 0h2m24 0h1m3 0h2m1 0h1m35 0h1m11 0h2m4 0h1m7 0h1m8 0h1m5 0h1m15 0h1m5 0h1m20 0h1m8 0h2m17 0h1m2 0h2m4 0h1m38 0h1m11 0h1m7 0h1m1 0h1m9 0h2m2 0h2m5 0h1m12 0h1m2 0h4m4 0h1m13 0h2m7 0h1m4 0h1m1 0h2m1 0h1m3 0h1m8 0h1m13 0h1m3 0h1m11 0h1m17 0h1m8 0h1m4 0h1m2 0h1m34 0h1m22 0h1m2 0h1m12 0h2m14 0h2m12 0h1m18 0h1m8 0h1m16 0h3m14 0h1M184 235.5h2m16 0h1m2 0h1m1 0h1m16 0h1m15 0h2m2 0h1m14 0h2m9 0h1m3 0h1m7 0h3m4 0h1m11 0h2m16 0h1m8 0h1m1 0h1m3 0h2m15 0h1m5 0h1m31 0h1m5 0h1m5 0h1m6 0h2m12 0h2m3 0h2m20 0h1m1 0h1m12 0h2m15 0h1m22 0h1m23 0h1m15 0h1m5 0h1m5 0h1m41 0h1m43 0h3m15 0h2m3 0h1m24 0h1m14 0h1m1 0h2m2 0h1m2 0h1m6 0h1m13 0h2m5 0h2m8 0h1m18 0h1m5 0h1m54 0h1m2 0h1m16 0h1m1 0h1m11 0h2m7 0h2m4 0h2m5 0h1m1 0h1m11 0h1m5 0h1m2 0h1m3 0h2m4 0h1m4 0h1m21 0h2m14 0h1M225 254.5h1m21 0h2m19 0h2m15 0h1m46 0h1m13 0h1m40 0h1m22 0h1m3 0h1m6 0h1m3 0h1m31 0h1m5 0h1m12 0h1m4 0h1m8 0h1m35 0h1m12 0h2m6 0h1m47 0h2m33 0h1m18 0h1m4 0h1M197 263.5h1m98 0h2m31 0h1m54 0h1m5 0h2m24 0h1m47 0h2m13 0h1m25 0h1m30 0h2m16 0h1m66 0h1m24 0h1m66 0h1M285 282.5h1m1 0h2m5 0h1m39 0h2m13 0h1m20 0h1m15 0h1m3 0h2m32 0h1m13 0h1m21 0h1m1 0h1m66 0h1m46 0h2m71 0h1m23 0h1m12 0h1m15 0h1M178 301.5h1m76 0h1m47 0h1m44 0h1m20 0h1m10 0h2m28 0h1m3 0h1m3 0h2m18 0h2m22 0h1m18 0h1m54 0h1m30 0h2m29 0h1M183 320.5h1m18 0h1m56 0h2m12 0h1m4 0h2m40 0h1m17 0h1m55 0h1m94 0h1m6 0h1m46 0h1m34 0h2m22 0h1m23 0h1m3 0h1m25 0h1m20 0h1M227 329.5h1m45 0h1m49 0h3m19 0h2m15 0h2m3 0h1m2 0h1m144 0h1m40 0h1m31 0h1m18 0h1m155 0h2m192 0h1M188 348.5h1m48 0h1m4 0h1m4 0h1m14 0h1m8 0h1m37 0h1m28 0h1m1 0h1m1 0h1m32 0h1m14 0h2m14 0h1m17 0h1m35 0h1m21 0h1m25 0h2m12 0h1m9 0h1m21 0h1m11 0h1m4 0h2m12 0h1m16 0h1m9 0h1m12 0h1m12 0h1m11 0h1m41 0h1M174 395.5h4m16 0h2m10 0h3m27 0h1m13 0h2m3 0h1m1 0h1m14 0h1m21 0h1m16 0h1m1 0h1m15 0h1m20 0h1m7 0h1m18 0h1m7 0h1m1 0h3m13 0h1m16 0h2m10 0h1m16 0h2m1 0h1m6 0h1m4 0h2m4 0h2m22 0h1m1 0h1m7 0h1m2 0h1m3 0h3m1 0h1m7 0h1m1 0h1m16 0h2m1 0h1m1 0h1m4 0h1m2 0h1m11 0h3m5 0h1m21 0h1m14 0h1m8 0h1m1 0h2m29 0h2m4 0h2m4 0h1m37 0h1m10 0h1m31 0h1m2 0h1m1 0h1m23 0h1m9 0h1m8 0h1m17 0h1m21 0h1m23 0h1m12 0h1m2 0h2m4 0h2m1 0h2m34 0h1m3 0h1m8 0h1m20 0h1m9 0h1M186 414.5h1m1 0h1m13 0h1m6 0h1m16 0h1m17 0h1m16 0h1m8 0h1m9 0h1m15 0h3m3 0h1m1 0h1m19 0h2m11 0h1m4 0h1m14 0h1m1 0h1m11 0h3m4 0h1m17 0h2m19 0h1m2 0h1m4 0h2m7 0h1m8 0h1m9 0h1m3 0h1m4 0h1m8 0h1m36 0h1m9 0h1m11 0h3m5 0h1m7 0h4m14 0h1m2 0h2m1 0h1m8 0h1m13 0h1m10 0h2m2 0h1m11 0h1m5 0h2m1 0h1m5 0h1m3 0h1m25 0h1m10 0h1m4 0h1m9 0h1m2 0h1m7 0h1m3 0h1m11 0h1m3 0h1m15 0h1m29 0h2m4 0h1m1 0h1m12 0h1m12 0h1m1 0h1m13 0h1m18 0h1m17 0h1m5 0h1m9 0h1m17 0h1m1 0h1m15 0h1m1 0h1m1 0h1m7 0h1m14 0h1m2 0h1m4 0h1m4 0h1m20 0h2M179 433.5h1m20 0h1m11 0h2m19 0h1m9 0h1m2 0h1m1 0h1m9 0h1m2 0h1m10 0h1m7 0h1m2 0h1m11 0h3m1 0h1m1 0h1m2 0h1m3 0h2m10 0h1m8 0h1m9 0h1m2 0h1m18 0h1m12 0h1m8 0h1m8 0h1m20 0h1m49 0h3m6 0h1m43 0h1m25 0h1m17 0h1m3 0h1m10 0h1m5 0h1m4 0h2m2 0h1m2 0h1m10 0h2m1 0h1m10 0h1m1 0h1m5 0h1m1 0h1m27 0h1m5 0h1m4 0h1m9 0h1m18 0h1m1 0h2m10 0h1m1 0h1m6 0h1m4 0h1m8 0h1m3 0h1m23 0h1m16 0h1m14 0h1m21 0h1m1 0h4m11 0h1m4 0h1m21 0h1m22 0h1m1 0h2m5 0h1m1 0h1m3 0h2m11 0h1m7 0h1m1 0h1m4 0h1m17 0h2m23 0h2M192 452.5h1m10 0h3m5 0h1m25 0h2m14 0h1m12 0h2m4 0h1m1 0h1m5 0h1m23 0h2m7 0h1m1 0h2m4 0h1m4 0h2m4 0h1m4 0h1m28 0h1m15 0h1m3 0h1m10 0h1m8 0h1m5 0h1m3 0h2m20 0h1m6 0h3m1 0h1m31 0h1m12 0h1m7 0h2m10 0h1m1 0h1m39 0h1m12 0h2m1 0h1m5 0h1m21 0h1m5 0h1m11 0h1m12 0h1m6 0h3m9 0h1m8 0h3m7 0h1m32 0h1m12 0h1m12 0h1m2 0h2m9 0h1m13 0h1m2 0h1m8 0h1m9 0h1m3 0h2m1 0h1m3 0h1m3 0h1m4 0h1m7 0h1m19 0h1m23 0h1m4 0h1m23 0h1m2 0h1m22 0h2m18 0h1m1 0h1m12 0h2m16 0h1m2 0h1m6 0h2M174 480.5h1m6 0h2m3 0h1m1 0h1m1 0h1m6 0h1m17 0h1m6 0h2m9 0h1m4 0h1m5 0h1m8 0h1m3 0h2m4 0h1m6 0h1m1 0h1m11 0h1m2 0h3m14 0h2m3 0h1m1 0h1m2 0h1m9 0h2m15 0h1m3 0h1m10 0h1m8 0h2m8 0h2m2 0h1m21 0h1m2 0h1m31 0h2m17 0h2m23 0h1m4 0h1m11 0h1m35 0h1m7 0h1m1 0h1m9 0h1m4 0h2m4 0h1m25 0h1m17 0h1m4 0h1m6 0h1m15 0h1m14 0h2m16 0h1m7 0h1m6 0h1m40 0h1m8 0h1m32 0h1m1 0h2m3 0h1m31 0h1m7 0h1m4 0h2m1 0h1m4 0h1m5 0h1m22 0h2m2 0h2m10 0h1m8 0h1m6 0h1m18 0h1m4 0h2m7 0h1m8 0h1m5 0h2m11 0h1m12 0h1M175 537.5h3m8 0h1m14 0h1m28 0h1m14 0h1m11 0h1m10 0h2m7 0h1m6 0h1m9 0h1m14 0h1m19 0h1m17 0h1m4 0h2m3 0h1m6 0h1m1 0h1m2 0h1m14 0h2m1 0h1m2 0h2m3 0h1m10 0h1m7 0h1m5 0h2m1 0h1m1 0h1m1 0h2m22 0h1m15 0h1m17 0h1m3 0h1m1 0h3m10 0h1m6 0h2m2 0h1m21 0h1m7 0h1m5 0h1m1 0h1m10 0h1m29 0h1m8 0h1m8 0h4m16 0h2m6 0h1m8 0h1m7 0h3m5 0h1m17 0h1m2 0h1m3 0h1m6 0h3m1 0h1m5 0h2m3 0h1m1 0h1m5 0h1m8 0h1m13 0h1m5 0h1m12 0h1m5 0h1m2 0h1m9 0h1m2 0h1m40 0h1m2 0h2m17 0h2m14 0h1m27 0h1m9 0h1m13 0h1m20 0h1m8 0h1m9 0h1m10 0h1M173 584.5h1m9 0h1m23 0h1m3 0h3m26 0h3m2 0h1m2 0h2m12 0h1m56 0h1m11 0h1m18 0h1m10 0h3m5 0h1m10 0h2m8 0h2m20 0h1m20 0h1m2 0h2m2 0h1m5 0h2m7 0h2m34 0h1m4 0h1m1 0h1m31 0h2m5 0h2m40 0h1m4 0h1m1 0h2m4 0h1m41 0h1m14 0h1m19 0h1m7 0h1m1 0h2m11 0h2m8 0h1m15 0h1m43 0h1m7 0h1m18 0h1m6 0h1m5 0h2m6 0h2m5 0h1m1 0h2m4 0h1m11 0h1m15 0h2m61 0h1m16 0h2m7 0h1m2 0h1m18 0h1M174 603.5h1m3 0h1m4 0h1m15 0h1m3 0h2m7 0h3m7 0h2m15 0h1m5 0h1m9 0h2m9 0h1m17 0h1m15 0h1m20 0h2m5 0h1m38 0h1m36 0h1m7 0h1m1 0h1m1 0h1m1 0h2m7 0h2m1 0h1m17 0h2m18 0h1m9 0h1m6 0h1m4 0h2m10 0h2m12 0h1m10 0h1m2 0h2m11 0h1m11 0h1m6 0h1m4 0h2m3 0h1m18 0h2m29 0h1m14 0h1m65 0h1m16 0h1m2 0h1m18 0h1m20 0h2m2 0h1m6 0h3m14 0h2m23 0h1m16 0h1m16 0h2m9 0h1m6 0h1m18 0h2m9 0h1m35 0h1m3 0h1m8 0h1m4 0h1m1 0h1m3 0h1M187 612.5h1m10 0h1m12 0h3m1 0h3m3 0h1m2 0h1m10 0h1m1 0h1m16 0h1m25 0h1m9 0h1m27 0h1m2 0h1m1 0h1m9 0h1m9 0h2m54 0h2m21 0h1m19 0h1m23 0h1m31 0h2m1 0h1m13 0h1m18 0h1m27 0h1m13 0h2m5 0h2m37 0h1m4 0h1m11 0h1m7 0h1m5 0h1m13 0h1m2 0h3m4 0h1m8 0h1m3 0h1m7 0h2m3 0h1m21 0h3m6 0h1m7 0h1m1 0h2m24 0h1m27 0h1m5 0h1m5 0h2m10 0h1m28 0h1m2 0h1m11 0h2m10 0h1m1 0h2m7 0h1m2 0h2m16 0h1m5 0h1m1 0h1m20 0h1m5 0h1m11 0h1m4 0h2M188 631.5h1m2 0h1m10 0h3m3 0h1m1 0h1m4 0h1m3 0h1m16 0h1m10 0h1m23 0h1m12 0h1m2 0h2m1 0h1m2 0h1m14 0h1m33 0h1m12 0h1m27 0h1m4 0h1m7 0h3m33 0h1m9 0h1m8 0h2m19 0h1m27 0h2m2 0h1m11 0h2m7 0h1m3 0h1m9 0h2m5 0h1m10 0h3m4 0h1m13 0h1m3 0h1m10 0h1m4 0h1m27 0h1m1 0h1m3 0h2m29 0h1m27 0h1m8 0h1m5 0h1m19 0h2m14 0h1m25 0h2m39 0h1m15 0h1m1 0h1m55 0h1m5 0h1m37 0h1m1 0h1m3 0h1m6 0h2m1 0h1m2 0h1m9 0h1m9 0h1M177 650.5h1m9 0h1m10 0h1m37 0h1m13 0h2m19 0h1m4 0h1m4 0h1m2 0h2m3 0h1m6 0h3m1 0h1m1 0h1m9 0h1m4 0h1m6 0h2m5 0h1m2 0h2m2 0h1m2 0h1m6 0h1m2 0h1m3 0h1m11 0h1m1 0h1m3 0h1m14 0h1m5 0h1m2 0h1m8 0h1m9 0h1m9 0h1m4 0h1m2 0h1m8 0h1m7 0h1m3 0h2m54 0h2m28 0h1m13 0h1m6 0h2m5 0h1m48 0h1m22 0h1m3 0h1m9 0h1m2 0h1m14 0h1m3 0h1m3 0h1m6 0h2m13 0h1m31 0h3m8 0h1m6 0h1m12 0h1m22 0h1m9 0h1m14 0h2m10 0h2m7 0h2m27 0h1m3 0h1m1 0h1m16 0h1m4 0h1m28 0h1m4 0h1m10 0h2m19 0h3m1 0h1M178 669.5h2m35 0h1m1 0h1m28 0h1m10 0h2m16 0h1m8 0h1m18 0h1m2 0h2m5 0h1m15 0h1m18 0h1m9 0h1m9 0h1m7 0h1m1 0h1m13 0h1m4 0h1m8 0h1m1 0h3m3 0h2m13 0h2m3 0h1m18 0h1m10 0h2m5 0h1m2 0h2m1 0h1m1 0h1m1 0h1m27 0h1m7 0h1m18 0h1m8 0h1m12 0h2m2 0h2m15 0h1m11 0h1m2 0h1m12 0h1m10 0h1m2 0h1m3 0h2m3 0h1m7 0h1m8 0h1m3 0h2m6 0h1m5 0h1m13 0h2m6 0h1m3 0h1m20 0h1m3 0h2m7 0h1m13 0h2m9 0h1m7 0h1m13 0h2m34 0h2m5 0h1m5 0h1m38 0h1m2 0h1m5 0h1m1 0h2m15 0h1m28 0h1m3 0h1m14 0h1M179 678.5h1m11 0h2m23 0h1m2 0h2m6 0h1m26 0h1m3 0h1m8 0h3m10 0h2m14 0h2m15 0h1m5 0h1m25 0h1m10 0h2m22 0h2m6 0h1m6 0h1m2 0h1m7 0h1m4 0h1m2 0h1m14 0h1m5 0h1m6 0h1m5 0h1m6 0h2m2 0h2m21 0h1m26 0h1m17 0h1m16 0h1m6 0h1m6 0h4m7 0h1m1 0h1m16 0h1m10 0h1m9 0h1m31 0h1m6 0h2m13 0h1m4 0h1m4 0h1m10 0h1m11 0h1m8 0h1m5 0h1m17 0h1m3 0h1m5 0h1m1 0h1m2 0h2m6 0h2m9 0h2m17 0h2m12 0h1m10 0h1m2 0h2m7 0h2m5 0h1m5 0h1m28 0h1m3 0h1m15 0h2m11 0h2m3 0h1m8 0h1m6 0h1m6 0h2m9 0h1m4 0h2m28 0h2M180 697.5h1m2 0h1m30 0h1m2 0h1m7 0h1m2 0h1m16 0h1m3 0h1m3 0h1m55 0h1m16 0h1m2 0h4m12 0h1m3 0h1m5 0h1m20 0h1m3 0h2m16 0h1m45 0h1m28 0h1m16 0h1m9 0h1m3 0h1m12 0h1m8 0h1m12 0h3m20 0h1m2 0h1m7 0h1m7 0h2m6 0h1m21 0h1m60 0h1m1 0h1m15 0h2m3 0h1m6 0h1m29 0h1m8 0h1m1 0h1m3 0h1m2 0h1m11 0h1m4 0h1m16 0h1m4 0h1m5 0h1m31 0h1m5 0h1m4 0h2m14 0h1m3 0h1m7 0h2m10 0h1m12 0h1m6 0h1m12 0h3m7 0h1m5 0h1m2 0h1m12 0h1m2 0h1m14 0h2M174 716.5h1m14 0h1m49 0h1m21 0h1m1 0h1m6 0h1m2 0h1m21 0h1m5 0h1m11 0h1m6 0h1m16 0h1m10 0h1m8 0h1m9 0h1m16 0h2m10 0h2m25 0h2m2 0h2m5 0h1m5 0h1m7 0h1m2 0h1m7 0h1m3 0h1m23 0h2m16 0h1m21 0h1m2 0h2m11 0h1m7 0h1m8 0h1m4 0h1m15 0h2m5 0h1m11 0h1m3 0h2m8 0h2m5 0h1m9 0h1m32 0h1m12 0h1m6 0h1m12 0h1m2 0h1m24 0h1m9 0h2m10 0h1m3 0h1m16 0h1m20 0h1m10 0h2m11 0h1m1 0h1m3 0h2m12 0h1m17 0h2m11 0h2m7 0h2m9 0h2m3 0h1m1 0h1m22 0h1m4 0h1m1 0h1m15 0h1m1 0h3m1 0h1m12 0h1m6 0h1m1 0h1M174 735.5h3m6 0h1m9 0h1m2 0h1m40 0h1m12 0h2m6 0h1m7 0h1m15 0h1m9 0h1m5 0h1m3 0h1m3 0h2m3 0h1m7 0h1m29 0h1m2 0h2m14 0h2m7 0h1m1 0h1m2 0h1m9 0h1m28 0h1m20 0h2m8 0h1m20 0h3m7 0h2m14 0h1m35 0h1m1 0h1m19 0h1m6 0h1m17 0h1m20 0h1m14 0h1m2 0h1m7 0h1m12 0h2m1 0h1m21 0h1m11 0h2m9 0h2m14 0h1m4 0h1m21 0h1m4 0h1m3 0h1m14 0h1m16 0h2m2 0h1m24 0h2m11 0h1m5 0h1m7 0h1m1 0h1m1 0h1m1 0h1m10 0h2m5 0h1m5 0h1m12 0h1m7 0h1m12 0h2m1 0h2m8 0h2m6 0h1m1 0h1m7 0h1m21 0h1m5 0h1M187 754.5h1m5 0h1m27 0h1m14 0h1m15 0h2m3 0h1m14 0h1m7 0h1m23 0h1m1 0h2m11 0h1m20 0h1m6 0h1m2 0h1m10 0h1m8 0h1m5 0h1m7 0h1m7 0h2m17 0h1m8 0h2m8 0h2m18 0h1m4 0h2m1 0h3m3 0h2m5 0h1m26 0h1m7 0h1m2 0h1m3 0h1m11 0h1m19 0h1m1 0h1m2 0h1m24 0h1m2 0h2m4 0h2m7 0h2m7 0h1m1 0h2m10 0h1m12 0h1m6 0h1m5 0h2m15 0h1m2 0h1m11 0h1m16 0h1m4 0h1m4 0h1m7 0h1m8 0h2m4 0h1m9 0h1m11 0h2m11 0h1m11 0h1m9 0h3m3 0h1m2 0h1m6 0h1m7 0h1m6 0h2m7 0h1m3 0h1m2 0h2m26 0h2m1 0h1m9 0h1m5 0h3m10 0h1m13 0h1m11 0h2m6 0h2m29 0h1m14 0h2M208 763.5h1m2 0h1m3 0h1m8 0h1m1 0h2m10 0h1m11 0h2m16 0h2m35 0h1m6 0h1m17 0h1m8 0h1m3 0h2m9 0h1m1 0h1m1 0h2m2 0h2m1 0h1m7 0h2m2 0h2m16 0h1m1 0h1m1 0h3m12 0h2m7 0h1m2 0h1m8 0h3m10 0h1m10 0h1m11 0h1m6 0h1m2 0h1m28 0h1m9 0h2m8 0h2m24 0h1m4 0h1m2 0h1m13 0h2m4 0h1m19 0h2m29 0h1m9 0h1m2 0h1m2 0h2m3 0h1m7 0h2m6 0h1m4 0h1m52 0h1m18 0h1m15 0h1m14 0h1m12 0h1m4 0h1m10 0h1m12 0h1m24 0h2m13 0h1m3 0h3m2 0h2m7 0h1m7 0h1m2 0h1m2 0h3m8 0h1m2 0h1m1 0h2m7 0h1m9 0h1m14 0h2m2 0h1M178 782.5h1m5 0h2m47 0h1m8 0h1m7 0h2m2 0h1m13 0h2m28 0h1m5 0h1m1 0h3m30 0h1m10 0h1m14 0h1m1 0h1m8 0h1m6 0h1m6 0h2m11 0h1m34 0h1m51 0h1m9 0h1m25 0h1m36 0h1m6 0h1m1 0h1m6 0h1m6 0h2m7 0h2m14 0h1m7 0h1m8 0h1m8 0h1m27 0h1m11 0h1m4 0h1m4 0h1m4 0h1m2 0h1m8 0h1m6 0h1m3 0h1m8 0h1m28 0h3m4 0h1m7 0h1m2 0h1m18 0h1m4 0h1m13 0h1m2 0h1m10 0h1m1 0h1m40 0h2m5 0h1m16 0h2m5 0h1m40 0h1m6 0h2m17 0h1M173 801.5h1m1 0h2m20 0h1m44 0h1m7 0h2m10 0h1m3 0h1m1 0h2m4 0h1m3 0h2m7 0h2m9 0h1m1 0h1m2 0h1m28 0h1m1 0h2m13 0h1m8 0h1m6 0h1m1 0h1m3 0h2m2 0h1m1 0h1m4 0h2m17 0h1m2 0h1m7 0h1m2 0h1m5 0h1m5 0h3m11 0h1m6 0h1m3 0h1m20 0h1m13 0h1m8 0h1m11 0h1m4 0h1m3 0h1m7 0h1m26 0h1m14 0h2m12 0h1m3 0h1m13 0h1m13 0h1m6 0h1m2 0h2m3 0h1m6 0h1m15 0h2m6 0h1m41 0h1m1 0h1m15 0h1m9 0h2m11 0h1m15 0h1m6 0h1m5 0h1m19 0h2m2 0h1m1 0h1m6 0h2m2 0h1m5 0h2m2 0h1m4 0h1m26 0h1m20 0h1m6 0h1m3 0h2m7 0h1m24 0h1m3 0h1m3 0h1m1 0h1m13 0h2m28 0h2M182 820.5h1m11 0h2m5 0h2m3 0h1m3 0h2m5 0h1m50 0h2m14 0h1m5 0h1m9 0h1m3 0h2m9 0h2m14 0h2m7 0h1m5 0h1m1 0h1m3 0h2m11 0h1m3 0h1m3 0h1m37 0h1m4 0h1m7 0h1m9 0h2m5 0h1m7 0h1m1 0h1m6 0h1m19 0h1m17 0h1m10 0h1m3 0h2m6 0h1m23 0h1m12 0h1m3 0h1m10 0h1m12 0h1m3 0h1m6 0h2m5 0h1m3 0h1m4 0h1m32 0h2m8 0h2m3 0h1m2 0h1m12 0h1m2 0h3m2 0h1m6 0h1m11 0h1m9 0h2m1 0h3m1 0h1m3 0h1m2 0h2m6 0h1m2 0h1m4 0h2m19 0h2m34 0h1m6 0h1m15 0h1m1 0h1m7 0h1m2 0h1m2 0h2m20 0h1m3 0h2m24 0h1m9 0h1m2 0h2m9 0h2m1 0h1m1 0h2m15 0h1m5 0h1m11 0h1M174 829.5h1m2 0h1m9 0h1m9 0h1m19 0h1m3 0h1m48 0h1m1 0h1m12 0h1m3 0h1m23 0h2m3 0h2m22 0h1m3 0h1m1 0h1m12 0h1m3 0h1m1 0h1m16 0h1m3 0h1m3 0h2m2 0h1m13 0h1m4 0h1m6 0h1m6 0h1m2 0h1m24 0h1m22 0h1m4 0h1m3 0h1m4 0h2m39 0h1m21 0h1m3 0h1m17 0h1m27 0h1m1 0h1m2 0h1m10 0h3m15 0h1m7 0h2m5 0h1m18 0h1m5 0h1m1 0h1m3 0h1m2 0h1m25 0h2m1 0h1m9 0h1m7 0h1m6 0h3m2 0h1m11 0h1m10 0h2m13 0h1m14 0h1m11 0h2m14 0h1m47 0h1m3 0h1m3 0h1m21 0h1m2 0h1m5 0h1m1 0h2m1 0h2m4 0h1m10 0h1m5 0h1M180 848.5h1m25 0h1m9 0h1m3 0h1m6 0h1m3 0h2m9 0h1m3 0h1m9 0h1m1 0h1m6 0h2m8 0h1m1 0h3m16 0h2m1 0h1m6 0h2m13 0h1m9 0h1m4 0h1m10 0h2m39 0h1m25 0h1m1 0h2m9 0h2m3 0h1m2 0h3m3 0h1m39 0h1m25 0h1m1 0h2m7 0h1m32 0h2m10 0h2m20 0h1m3 0h2m4 0h4m8 0h1m3 0h1m1 0h1m5 0h1m27 0h1m2 0h1m13 0h1m22 0h3m10 0h1m9 0h2m7 0h1m1 0h1m2 0h1m34 0h1m1 0h1m14 0h1m2 0h1m1 0h1m16 0h1m4 0h1m4 0h1m1 0h2m2 0h2m11 0h1m42 0h1m3 0h1m30 0h1m1 0h1m2 0h1m5 0h1m7 0h1m2 0h1m21 0h1m12 0h1M179 867.5h1m6 0h1m65 0h1m6 0h3m11 0h1m11 0h1m1 0h2m4 0h1m1 0h1m2 0h1m3 0h1m6 0h1m7 0h2m8 0h1m18 0h1m19 0h1m2 0h1m10 0h2m2 0h1m2 0h1m33 0h2m8 0h1m7 0h1m5 0h3m10 0h1m1 0h2m5 0h1m5 0h1m7 0h1m14 0h1m1 0h1m14 0h1m10 0h1m4 0h1m5 0h1m12 0h3m3 0h1m3 0h3m10 0h1m18 0h1m8 0h2m22 0h2m10 0h1m1 0h1m4 0h2m3 0h1m6 0h1m3 0h1m3 0h1m4 0h1m2 0h2m15 0h1m12 0h1m2 0h1m2 0h1m26 0h1m29 0h2m6 0h1m10 0h2m1 0h1m2 0h1m53 0h2m16 0h1m7 0h1m2 0h1m16 0h1m4 0h1m7 0h1m1 0h2m2 0h1m16 0h1m11 0h1m3 0h2m7 0h1m4 0h1m13 0h2M178 895.5h2m9 0h1m54 0h1m16 0h1m3 0h1m15 0h1m1 0h1m1 0h1m3 0h1m4 0h1m6 0h1m3 0h1m22 0h2m2 0h4m2 0h5m18 0h1m7 0h1m15 0h2m2 0h1m11 0h2m7 0h1m2 0h1m6 0h1m2 0h1m17 0h1m1 0h1m15 0h1m3 0h3m4 0h1m6 0h1m5 0h2m10 0h2m7 0h1m2 0h1m9 0h2m4 0h1m10 0h1m3 0h1m4 0h2m33 0h1m3 0h2m25 0h1m2 0h1m1 0h2m12 0h1m9 0h1m23 0h1m1 0h1m14 0h2m2 0h1m1 0h2m6 0h1m1 0h1m8 0h3m13 0h1m9 0h1m2 0h1m13 0h1m6 0h2m2 0h1m22 0h1m6 0h1m10 0h1m4 0h1m7 0h1m2 0h1m2 0h1m14 0h1m26 0h2m6 0h1m3 0h2m34 0h1m10 0h1m2 0h2m4 0h1m1 0h1M184 914.5h2m13 0h1m12 0h2m7 0h1m2 0h1m6 0h2m20 0h1m1 0h2m24 0h1m22 0h1m6 0h1m2 0h1m3 0h1m3 0h1m3 0h1m16 0h2m1 0h2m28 0h1m18 0h1m16 0h1m18 0h1m8 0h2m17 0h1m6 0h1m24 0h1m16 0h1m4 0h1m16 0h2m15 0h1m13 0h1m3 0h1m4 0h1m11 0h1m3 0h2m3 0h1m15 0h1m8 0h1m1 0h2m10 0h1m32 0h1m5 0h1m9 0h3m3 0h1m5 0h1m3 0h1m9 0h1m4 0h2m12 0h2m9 0h2m6 0h1m13 0h2m4 0h2m14 0h1m1 0h1m2 0h1m8 0h1m2 0h2m2 0h2m3 0h1m15 0h1m11 0h1m6 0h1m15 0h2m1 0h1m19 0h1m8 0h1m4 0h1m42 0h2m10 0h1m3 0h1m9 0h1m2 0h1M187 952.5h1m18 0h1m5 0h2m8 0h2m10 0h1m10 0h1m4 0h2m2 0h1m1 0h1m19 0h1m5 0h1m4 0h2m3 0h1m9 0h1m3 0h2m41 0h1m11 0h1m3 0h1m54 0h1m29 0h1m11 0h1m18 0h1m6 0h1m27 0h1m1 0h1m15 0h1m1 0h1m21 0h2m3 0h1m31 0h2m1 0h1m18 0h1m63 0h1m3 0h1m14 0h1m6 0h3m13 0h1m6 0h2m20 0h1m26 0h2m8 0h1m24 0h1m11 0h1m13 0h1m9 0h2m11 0h1m36 0h1m1 0h4m1 0h1m1 0h1m11 0h1m20 0h1m4 0h2m3 0h1m11 0h1M173 961.5h2m21 0h1m12 0h1m19 0h2m13 0h1m28 0h1m2 0h1m19 0h2m19 0h1m61 0h1m18 0h1m11 0h1m11 0h1m34 0h3m1 0h1m14 0h1m20 0h1m65 0h1m3 0h3m9 0h1m6 0h2m2 0h1m6 0h1m4 0h1m46 0h1m1 0h2m5 0h1m11 0h3m21 0h3m3 0h2m44 0h1m2 0h1m3 0h1m2 0h1m1 0h1m3 0h3m1 0h3m6 0h1m70 0h1m3 0h1m17 0h1m3 0h1m1 0h1m5 0h1m5 0h1m22 0h1m12 0h3m13 0h1m13 0h1m6 0h2"/>
<path stroke="#ffda00" stroke-width="10" d="M188 75h1m11 0h2m7 0h1m24 0h1m7 0h2m8 0h1m22 0h1m9 0h1m4 0h2m10 0h1m6 0h1m4 0h1m11 0h2m23 0h1m4 0h2m26 0h1m2 0h2m9 0h1m15 0h1m6 0h1m5 0h2m3 0h1m21 0h3m5 0h2m2 0h1m3 0h1m10 0h1m13 0h1m2 0h2m11 0h2m4 0h1m10 0h1m12 0h1m13 0h1m5 0h1m5 0h3m10 0h1m20 0h1m6 0h1m50 0h1m8 0h1m6 0h1m7 0h1m4 0h2m5 0h1m51 0h1m1 0h1m4 0h2m4 0h1m5 0h1m18 0h1m13 0h3m7 0h1m5 0h1m9 0h1m8 0h1m21 0h3m24 0h1m7 0h1m4 0h1m1 0h1m29 0h1m26 0h2m2 0h3m3 0h2M184 94h2m17 0h2m3 0h2m8 0h2m8 0h1m6 0h1m14 0h2m13 0h2m6 0h1m13 0h2m7 0h2m1 0h1m13 0h2m6 0h1m35 0h1m11 0h1m47 0h1m25 0h1m2 0h3m4 0h1m20 0h2m11 0h1m2 0h1m1 0h2m2 0h2m2 0h2m11 0h1m23 0h1m25 0h1m17 0h1m17 0h1m37 0h1m4 0h2m3 0h1m11 0h1m22 0h2m2 0h2m15 0h1m14 0h1m5 0h1m19 0h2m20 0h1m11 0h1m15 0h1m22 0h1m9 0h1m8 0h1m24 0h1m4 0h2m38 0h1m1 0h2m4 0h1m3 0h1m14 0h1m1 0h1m19 0h2M174 122h1m4 0h1m35 0h1m32 0h1m15 0h1m9 0h1m10 0h2m8 0h1m7 0h1m4 0h3m34 0h1m2 0h2m1 0h3m8 0h2m25 0h1m4 0h1m10 0h1m2 0h2m8 0h2m21 0h1m9 0h1m9 0h1m2 0h2m19 0h1m13 0h1m4 0h1m10 0h1m4 0h2m8 0h2m25 0h1m14 0h1m3 0h2m1 0h1m18 0h1m19 0h1m40 0h1m5 0h1m10 0h1m15 0h1m12 0h2m15 0h1m15 0h1m19 0h1m16 0h1m1 0h1m2 0h1m13 0h2m10 0h1m6 0h1m9 0h1m3 0h1m7 0h1m4 0h1m9 0h1m13 0h1m1 0h2m12 0h1m18 0h1m5 0h1m10 0h2m39 0h1m10 0h2M203 141h3m32 0h1m19 0h1m36 0h3m3 0h1m2 0h1m16 0h1m42 0h1m2 0h1m22 0h2m13 0h1m10 0h1m6 0h1m16 0h2m32 0h2m2 0h1m12 0h1m8 0h1m32 0h1m1 0h1m10 0h1m24 0h1m7 0h1m2 0h2m24 0h1m29 0h1m8 0h1m42 0h1m32 0h1m6 0h2m15 0h1m4 0h1m1 0h3m36 0h1m5 0h1m7 0h1m5 0h1m57 0h2m33 0h1m4 0h1m13 0h1m13 0h1m13 0h1m8 0h1M221 160h1m3 0h2m15 0h1m16 0h2m5 0h1m1 0h2m8 0h3m14 0h1m12 0h1m15 0h2m29 0h1m20 0h1m13 0h2m1 0h1m22 0h1m57 0h2m7 0h2m10 0h1m12 0h1m24 0h1m23 0h1m11 0h1m100 0h2m10 0h1m28 0h1m12 0h2m6 0h1m83 0h1m2 0h2m5 0h1m28 0h1m24 0h1m5 0h1m11 0h2m14 0h2m9 0h1m5 0h2m5 0h1m9 0h1M191 179h1m6 0h2m9 0h1m6 0h1m33 0h2m30 0h2m10 0h1m31 0h1m9 0h2m21 0h1m37 0h2m7 0h2m43 0h1m6 0h2m18 0h1m9 0h1m5 0h1m5 0h1m23 0h1m51 0h2m10 0h1m13 0h1m19 0h1m3 0h1m2 0h2m6 0h2m6 0h1m24 0h3m6 0h2m34 0h1m5 0h1m6 0h1m11 0h1m20 0h1m10 0h3m24 0h1m2 0h1m5 0h1m12 0h1m2 0h1m35 0h1m4 0h1m2 0h1m2 0h1m26 0h1m4 0h2m54 0h2M178 207h1m1 0h1m6 0h1m41 0h1m1 0h2m57 0h1m1 0h1m2 0h3m25 0h1m2 0h1m33 0h1m70 0h1m44 0h1m6 0h2m22 0h1m19 0h3m8 0h1m12 0h1m27 0h2m4 0h1m7 0h2m5 0h1m1 0h1m6 0h1m17 0h1m6 0h1m44 0h2m22 0h2m15 0h1m9 0h1m10 0h1m25 0h1m14 0h2m7 0h2m28 0h1m1 0h1m9 0h2m1 0h1m15 0h1m3 0h2m14 0h1m7 0h2m11 0h1m16 0h1m7 0h1m3 0h2m1 0h1m7 0h1m4 0h1m7 0h1m9 0h1m4 0h2m1 0h1m5 0h2M188 226h1m13 0h1m31 0h1m1 0h1m1 0h2m33 0h1m2 0h1m16 0h2m25 0h2m7 0h1m17 0h1m13 0h3m5 0h1m8 0h1m16 0h1m1 0h1m3 0h1m4 0h1m34 0h1m7 0h1m12 0h1m10 0h3m19 0h1m15 0h4m17 0h1m4 0h2m3 0h1m19 0h1m1 0h2m35 0h1m9 0h1m5 0h1m2 0h1m1 0h1m5 0h1m18 0h1m11 0h1m7 0h1m15 0h1m2 0h1m5 0h1m9 0h1m2 0h1m15 0h1m7 0h1m8 0h1m35 0h1m19 0h1m2 0h2m1 0h2m8 0h2m6 0h1m2 0h1m3 0h1m15 0h1m4 0h1m3 0h1m3 0h1m6 0h1m3 0h1m34 0h1m1 0h1m2 0h1m2 0h1m19 0h1m9 0h1m22 0h1M225 245h1m11 0h1m18 0h1m27 0h1m57 0h1m127 0h1m19 0h1m5 0h1m33 0h2m14 0h1m82 0h1m4 0h1M202 273h1m131 0h2m4 0h1m15 0h1m3 0h1m8 0h1m47 0h1m11 0h1m1 0h1m22 0h1m2 0h2m39 0h1m9 0h1m49 0h2m53 0h1M290 292h1m48 0h1m48 0h1m40 0h1m60 0h1m3 0h1m5 0h1m53 0h1m18 0h1m16 0h1m17 0h1m67 0h1M174 311h1m11 0h1m13 0h1m2 0h2m23 0h1m8 0h1m11 0h1m43 0h1m84 0h2m13 0h1m40 0h1m17 0h1m28 0h1m36 0h1m5 0h1m22 0h1m5 0h1m18 0h1m6 0h2m10 0h1m54 0h1m71 0h1M208 339h1m64 0h1m9 0h1m11 0h1m30 0h1m12 0h1m53 0h1m9 0h1m3 0h1m3 0h1m8 0h2m23 0h1m84 0h2m34 0h1m30 0h1m5 0h1m50 0h1m86 0h1M234 358h1m38 0h1m44 0h1m50 0h1m44 0h1m15 0h1m17 0h1m17 0h1m3 0h1m8 0h2m38 0h1m17 0h1m7 0h1m113 0h1m15 0h1m2 0h1m35 0h1M175 377h2m7 0h2m44 0h1m22 0h1m8 0h1m9 0h1m8 0h1m1 0h1m8 0h1m2 0h1m4 0h1m20 0h1m29 0h1m2 0h1m13 0h1m9 0h2m2 0h1m10 0h1m20 0h1m5 0h1m1 0h1m3 0h1m15 0h1m6 0h1m5 0h2m1 0h1m9 0h2m7 0h1m2 0h2m5 0h1m30 0h1m8 0h1m1 0h1m9 0h2m10 0h1m5 0h1m18 0h2m6 0h2m2 0h1m5 0h1m4 0h1m7 0h3m1 0h1m18 0h1m26 0h1m1 0h1m16 0h1m13 0h1m7 0h2m9 0h1m14 0h1m14 0h2m6 0h1m1 0h1m26 0h2m13 0h2m10 0h1m1 0h1m21 0h1m6 0h1m1 0h1m14 0h1m3 0h3m5 0h1m6 0h2m5 0h1m15 0h1m4 0h1m3 0h1m4 0h1m12 0h1m25 0h1m5 0h1m14 0h1M177 405h1m5 0h1m22 0h3m24 0h1m4 0h1m5 0h1m27 0h1m1 0h1m1 0h1m8 0h2m42 0h3m6 0h1m2 0h1m10 0h2m10 0h1m9 0h1m17 0h1m2 0h1m1 0h1m32 0h1m4 0h3m7 0h1m4 0h2m12 0h2m1 0h1m19 0h1m1 0h1m6 0h1m4 0h1m12 0h1m17 0h1m9 0h1m33 0h2m5 0h2m3 0h1m2 0h1m8 0h1m5 0h2m3 0h1m8 0h1m1 0h1m14 0h1m17 0h1m23 0h2m10 0h1m2 0h1m9 0h1m10 0h1m17 0h1m1 0h2m6 0h1m5 0h1m9 0h1m3 0h2m1 0h1m15 0h4m18 0h2m2 0h1m9 0h3m2 0h1m1 0h1m12 0h2m40 0h2m8 0h1m1 0h1m23 0h1m1 0h1m3 0h2m6 0h1m19 0h2m4 0h1m10 0h1M177 424h1m11 0h1m1 0h1m8 0h1m13 0h1m6 0h1m8 0h1m12 0h1m1 0h2m3 0h2m6 0h3m2 0h1m4 0h2m5 0h1m18 0h1m10 0h1m13 0h1m12 0h1m62 0h1m2 0h1m18 0h1m7 0h1m4 0h1m5 0h2m4 0h2m5 0h1m9 0h2m1 0h1m15 0h1m13 0h2m3 0h1m7 0h1m16 0h1m1 0h1m35 0h1m31 0h1m39 0h2m2 0h1m7 0h1m5 0h1m2 0h1m5 0h3m4 0h1m3 0h2m4 0h1m8 0h1m15 0h1m9 0h1m9 0h1m21 0h1m10 0h2m13 0h1m4 0h1m10 0h1m12 0h1m19 0h1m11 0h1m7 0h2m2 0h1m18 0h1m25 0h1m1 0h1m36 0h1m18 0h2m11 0h1m5 0h1M181 443h1m5 0h1m9 0h1m9 0h1m26 0h2m10 0h1m16 0h1m2 0h1m9 0h1m13 0h1m4 0h3m5 0h1m1 0h1m2 0h1m2 0h1m5 0h2m3 0h1m5 0h1m5 0h2m3 0h1m17 0h1m3 0h3m5 0h1m13 0h1m6 0h2m3 0h1m14 0h2m3 0h1m2 0h2m1 0h2m4 0h2m38 0h1m9 0h1m30 0h1m1 0h1m24 0h2m7 0h1m10 0h1m7 0h1m6 0h1m31 0h1m15 0h1m2 0h1m1 0h2m2 0h1m8 0h2m6 0h1m2 0h2m6 0h2m19 0h1m1 0h1m4 0h1m9 0h1m18 0h1m11 0h1m5 0h1m2 0h2m4 0h1m11 0h1m1 0h1m9 0h2m31 0h1m6 0h1m2 0h1m2 0h3m11 0h1m1 0h1m2 0h2m10 0h1m3 0h1m38 0h1m9 0h1m9 0h2m16 0h1m4 0h1m10 0h1m27 0h1M178 462h2m26 0h1m15 0h2m1 0h1m33 0h2m2 0h1m9 0h2m1 0h1m5 0h1m16 0h3m3 0h1m4 0h1m1 0h1m2 0h2m14 0h1m4 0h1m9 0h1m18 0h1m4 0h1m4 0h1m19 0h1m1 0h1m3 0h1m2 0h1m1 0h1m1 0h2m31 0h1m4 0h2m23 0h2m13 0h1m2 0h1m8 0h2m16 0h1m5 0h1m9 0h1m1 0h1m4 0h2m2 0h1m4 0h2m5 0h1m1 0h1m5 0h1m1 0h2m16 0h1m26 0h2m1 0h1m11 0h1m1 0h1m4 0h2m7 0h1m22 0h1m2 0h1m1 0h1m13 0h2m1 0h1m9 0h1m9 0h1m7 0h1m11 0h2m3 0h3m3 0h1m1 0h1m9 0h1m8 0h1m7 0h1m4 0h1m2 0h1m9 0h1m14 0h1m6 0h2m6 0h1m25 0h1m6 0h2m21 0h1m12 0h1m13 0h1m9 0h1m9 0h1m10 0h1m2 0h2m1 0h1m7 0h1m4 0h1m7 0h1M186 509h2m2 0h1m9 0h1m5 0h1m10 0h1m9 0h1m14 0h1m12 0h1m10 0h1m4 0h1m9 0h1m11 0h1m7 0h1m10 0h1m58 0h2m10 0h1m1 0h1m16 0h1m8 0h1m24 0h2m2 0h1m1 0h2m2 0h2m2 0h1m4 0h2m7 0h3m15 0h1m11 0h1m2 0h1m4 0h2m6 0h1m2 0h2m1 0h1m1 0h1m8 0h1m2 0h2m2 0h1m1 0h1m26 0h1m2 0h1m4 0h1m4 0h2m47 0h1m1 0h1m3 0h1m27 0h3m8 0h2m7 0h2m6 0h1m19 0h2m6 0h1m6 0h1m3 0h2m1 0h1m11 0h1m20 0h1m3 0h1m1 0h1m1 0h2m8 0h1m7 0h1m2 0h2m16 0h1m3 0h1m13 0h3m4 0h2m35 0h3m17 0h1m27 0h1m16 0h1m5 0h1m3 0h1m18 0h2M191 528h1m2 0h3m9 0h2m21 0h2m24 0h1m12 0h2m29 0h1m8 0h1m1 0h1m4 0h2m9 0h1m6 0h1m11 0h1m31 0h2m15 0h1m8 0h1m16 0h1m4 0h1m32 0h1m14 0h1m5 0h1m28 0h1m14 0h1m4 0h1m14 0h1m11 0h1m6 0h1m7 0h1m5 0h2m1 0h1m1 0h1m4 0h2m3 0h1m37 0h2m5 0h1m12 0h1m9 0h1m2 0h2m1 0h1m3 0h1m12 0h1m14 0h1m3 0h1m5 0h3m23 0h1m10 0h2m16 0h1m11 0h1m5 0h1m3 0h1m12 0h1m28 0h1m9 0h2m25 0h1m9 0h1m23 0h1m8 0h1m14 0h1m3 0h1m7 0h1m3 0h1m6 0h1m11 0h2m3 0h1m4 0h1M179 556h1m13 0h1m4 0h1m1 0h1m6 0h1m1 0h1m6 0h2m3 0h1m17 0h1m3 0h1m17 0h1m2 0h1m7 0h1m29 0h1m14 0h1m2 0h1m5 0h1m2 0h1m24 0h1m22 0h1m2 0h2m5 0h1m30 0h2m7 0h4m17 0h1m6 0h2m2 0h1m17 0h1m1 0h1m6 0h3m7 0h1m2 0h1m6 0h1m17 0h1m4 0h1m4 0h2m11 0h1m19 0h2m2 0h1m1 0h1m6 0h1m64 0h3m36 0h2m1 0h1m17 0h1m3 0h1m6 0h2m3 0h1m9 0h1m8 0h2m9 0h1m5 0h1m2 0h2m3 0h1m33 0h1m15 0h3m7 0h1m12 0h2m10 0h1m15 0h2m13 0h1m6 0h1m17 0h1m3 0h1m27 0h1m1 0h2m5 0h1m5 0h1m2 0h1M173 594h2m24 0h1m15 0h1m9 0h1m3 0h2m8 0h1m17 0h1m8 0h1m38 0h1m16 0h1m9 0h2m3 0h1m9 0h1m4 0h2m1 0h1m5 0h1m32 0h1m36 0h2m7 0h1m7 0h1m3 0h1m4 0h1m40 0h2m9 0h1m7 0h2m17 0h1m2 0h2m11 0h1m1 0h2m6 0h1m16 0h1m8 0h1m2 0h1m14 0h1m7 0h3m25 0h3m3 0h1m2 0h2m2 0h1m6 0h1m2 0h1m40 0h1m9 0h2m19 0h2m2 0h1m29 0h1m51 0h1m3 0h1m3 0h1m31 0h1m2 0h2m16 0h2m2 0h3m5 0h1m9 0h1m8 0h1m11 0h1m1 0h4m5 0h1m24 0h1M178 622h1m13 0h1m9 0h1m19 0h2m5 0h1m6 0h1m12 0h1m11 0h1m5 0h1m3 0h1m1 0h1m1 0h2m9 0h1m5 0h1m7 0h1m10 0h1m1 0h1m13 0h1m3 0h2m14 0h1m2 0h1m74 0h1m8 0h1m8 0h1m5 0h1m5 0h2m16 0h4m9 0h2m32 0h2m10 0h2m1 0h1m7 0h1m6 0h1m16 0h3m3 0h1m19 0h1m8 0h1m11 0h2m6 0h1m2 0h1m5 0h1m9 0h4m3 0h1m4 0h1m6 0h2m31 0h1m10 0h1m2 0h2m1 0h1m20 0h1m1 0h1m3 0h1m11 0h1m20 0h1m4 0h1m13 0h1m6 0h2m4 0h1m48 0h1m18 0h1m6 0h1m9 0h1m23 0h1m2 0h1m20 0h2m7 0h1m20 0h2M178 641h1m1 0h1m15 0h1m1 0h1m2 0h1m5 0h1m10 0h2m10 0h1m5 0h1m35 0h1m4 0h1m31 0h1m12 0h1m15 0h2m16 0h1m13 0h1m3 0h2m2 0h1m35 0h1m2 0h1m3 0h1m1 0h1m16 0h1m5 0h2m34 0h1m7 0h1m28 0h1m6 0h1m2 0h3m6 0h1m23 0h1m2 0h1m14 0h1m2 0h2m7 0h1m2 0h2m9 0h1m3 0h1m5 0h1m5 0h1m8 0h1m2 0h1m1 0h1m1 0h1m1 0h1m5 0h1m19 0h1m6 0h1m12 0h4m6 0h2m5 0h2m11 0h2m6 0h1m21 0h3m5 0h2m15 0h3m24 0h1m23 0h1m4 0h1m6 0h1m21 0h2m11 0h1m7 0h1m1 0h1m17 0h1m26 0h1m2 0h1m26 0h1M200 660h1m6 0h1m9 0h1m8 0h1m40 0h1m7 0h3m4 0h1m6 0h1m16 0h2m7 0h2m14 0h2m1 0h2m11 0h1m10 0h1m2 0h1m4 0h1m6 0h2m9 0h3m3 0h2m4 0h3m41 0h1m4 0h3m42 0h1m3 0h1m7 0h3m1 0h2m16 0h1m4 0h1m4 0h1m13 0h2m2 0h1m14 0h2m2 0h1m8 0h1m3 0h2m21 0h1m3 0h1m11 0h2m14 0h1m11 0h2m24 0h1m9 0h1m16 0h1m6 0h1m13 0h1m5 0h1m9 0h1m6 0h1m1 0h1m14 0h1m4 0h1m8 0h1m17 0h2m32 0h1m6 0h2m21 0h1m15 0h2m4 0h1m6 0h1m2 0h1m7 0h1m3 0h1m42 0h1m18 0h1m2 0h2M192 688h1m12 0h1m14 0h1m5 0h1m21 0h1m6 0h1m10 0h2m10 0h2m1 0h1m39 0h1m1 0h1m3 0h1m14 0h1m5 0h1m2 0h1m10 0h2m4 0h2m9 0h1m8 0h1m6 0h1m2 0h1m12 0h1m24 0h2m12 0h2m26 0h1m8 0h1m1 0h1m2 0h2m35 0h1m12 0h1m21 0h1m5 0h1m7 0h1m5 0h1m8 0h1m4 0h1m7 0h1m20 0h3m7 0h1m29 0h1m13 0h1m5 0h1m17 0h1m15 0h1m10 0h3m32 0h2m6 0h1m29 0h1m3 0h1m3 0h2m10 0h1m2 0h2m10 0h2m19 0h2m1 0h1m7 0h1m8 0h2m7 0h1m21 0h2m5 0h1m15 0h2m6 0h2m17 0h1m2 0h2M175 707h2m2 0h1m11 0h1m7 0h1m12 0h2m1 0h1m4 0h1m12 0h1m10 0h1m1 0h1m3 0h2m1 0h1m5 0h2m3 0h1m5 0h1m4 0h1m22 0h1m2 0h1m2 0h1m38 0h2m3 0h1m3 0h2m11 0h1m9 0h1m26 0h1m30 0h1m4 0h1m10 0h2m1 0h1m13 0h1m3 0h1m3 0h2m2 0h1m17 0h1m14 0h2m5 0h1m9 0h1m4 0h1m3 0h1m3 0h2m3 0h1m9 0h1m4 0h1m2 0h1m1 0h1m25 0h1m8 0h1m1 0h1m5 0h1m19 0h1m27 0h1m25 0h1m13 0h1m7 0h1m5 0h1m2 0h1m26 0h1m2 0h2m12 0h1m9 0h2m1 0h3m16 0h1m14 0h1m3 0h3m21 0h1m15 0h1m4 0h1m14 0h1m38 0h1m15 0h1m5 0h3m1 0h1m23 0h1m3 0h1m2 0h2M173 726h1m14 0h1m19 0h1m3 0h2m1 0h1m8 0h1m3 0h1m4 0h1m15 0h1m3 0h1m2 0h1m17 0h1m1 0h1m4 0h2m8 0h1m8 0h2m8 0h1m4 0h2m11 0h1m5 0h2m2 0h1m12 0h1m3 0h1m12 0h3m6 0h1m21 0h2m14 0h1m2 0h2m3 0h1m31 0h2m1 0h1m11 0h1m58 0h1m9 0h3m12 0h1m7 0h1m16 0h1m4 0h1m25 0h1m10 0h2m4 0h1m31 0h1m18 0h3m22 0h2m21 0h3m8 0h2m4 0h1m42 0h1m11 0h2m28 0h2m3 0h1m8 0h1m4 0h3m11 0h1m4 0h2m7 0h5m7 0h1m9 0h1m7 0h1m18 0h1m4 0h1m8 0h1m23 0h1m4 0h1M190 745h2m10 0h1m18 0h1m2 0h1m2 0h1m53 0h1m5 0h2m12 0h1m1 0h1m6 0h1m7 0h1m10 0h1m19 0h2m7 0h2m1 0h3m9 0h1m39 0h1m13 0h2m33 0h1m6 0h1m2 0h1m5 0h1m8 0h1m6 0h1m21 0h1m18 0h1m8 0h1m1 0h1m5 0h1m16 0h1m4 0h2m3 0h1m1 0h1m16 0h2m2 0h1m29 0h2m3 0h1m6 0h1m6 0h2m37 0h1m4 0h1m8 0h1m20 0h1m4 0h1m17 0h1m3 0h1m14 0h2m1 0h2m7 0h1m19 0h3m8 0h2m6 0h1m8 0h3m7 0h3m14 0h1m3 0h1m10 0h1m11 0h1m38 0h1m16 0h1m6 0h1m7 0h1m2 0h1M174 773h1m21 0h1m15 0h2m2 0h2m7 0h1m7 0h1m13 0h1m2 0h2m12 0h1m1 0h2m8 0h1m23 0h1m8 0h1m10 0h1m12 0h3m48 0h1m2 0h1m1 0h1m2 0h1m1 0h1m3 0h1m4 0h1m1 0h1m2 0h2m5 0h1m23 0h1m4 0h1m23 0h1m1 0h1m3 0h2m7 0h2m1 0h2m2 0h1m14 0h1m28 0h1m7 0h2m3 0h1m8 0h1m7 0h1m4 0h1m2 0h2m1 0h1m3 0h1m1 0h3m2 0h2m29 0h2m16 0h1m8 0h1m9 0h1m1 0h3m1 0h2m7 0h1m3 0h1m5 0h2m12 0h1m7 0h1m39 0h1m12 0h2m4 0h1m8 0h1m16 0h1m4 0h2m5 0h1m9 0h1m12 0h1m3 0h1m17 0h1m8 0h2m1 0h1m25 0h1m11 0h1m13 0h1m12 0h1m10 0h2m2 0h1m6 0h1m11 0h1m2 0h1m3 0h1m4 0h1m3 0h2M175 792h2m19 0h1m2 0h1m14 0h1m10 0h1m8 0h1m9 0h1m12 0h1m5 0h1m7 0h1m1 0h1m15 0h1m5 0h1m9 0h1m13 0h1m7 0h1m1 0h1m17 0h1m7 0h1m13 0h1m5 0h1m18 0h1m13 0h3m28 0h2m2 0h1m7 0h1m1 0h1m1 0h2m30 0h1m2 0h2m7 0h1m1 0h1m2 0h1m20 0h1m49 0h3m6 0h1m14 0h1m4 0h2m1 0h1m19 0h1m16 0h1m36 0h1m3 0h1m8 0h1m1 0h1m17 0h1m1 0h2m3 0h1m4 0h2m2 0h1m4 0h2m19 0h1m1 0h1m15 0h1m2 0h2m2 0h1m9 0h2m19 0h1m19 0h1m13 0h3m9 0h1m14 0h1m17 0h1m11 0h2m4 0h1m2 0h2m1 0h1m17 0h1m1 0h1m11 0h1m5 0h1M183 811h1m10 0h3m15 0h2m7 0h1m4 0h1m1 0h1m5 0h1m4 0h1m25 0h2m1 0h2m12 0h1m19 0h1m10 0h1m13 0h1m2 0h1m8 0h1m2 0h1m9 0h2m2 0h1m23 0h2m23 0h1m2 0h2m1 0h1m23 0h1m5 0h1m10 0h1m10 0h1m16 0h1m1 0h1m5 0h1m2 0h1m43 0h1m29 0h1m5 0h1m18 0h1m4 0h2m1 0h1m5 0h2m24 0h1m1 0h2m4 0h1m1 0h1m1 0h2m23 0h1m1 0h1m4 0h2m21 0h3m9 0h2m9 0h1m9 0h1m16 0h1m30 0h1m3 0h2m7 0h3m1 0h1m1 0h1m1 0h1m3 0h1m2 0h1m26 0h2m1 0h2m13 0h1m14 0h2m3 0h1m1 0h1m14 0h1m21 0h1m14 0h1m5 0h2m6 0h1m5 0h1m12 0h1m2 0h2m1 0h2M178 839h1m32 0h1m4 0h1m14 0h3m10 0h1m4 0h1m3 0h1m3 0h1m10 0h2m7 0h1m2 0h1m2 0h2m4 0h1m10 0h2m15 0h1m8 0h1m7 0h2m9 0h1m13 0h1m8 0h1m8 0h1m8 0h1m1 0h1m3 0h1m14 0h1m13 0h1m21 0h1m11 0h2m5 0h1m5 0h1m14 0h2m7 0h2m10 0h1m4 0h1m31 0h1m6 0h2m5 0h1m8 0h3m6 0h1m12 0h3m5 0h1m21 0h1m5 0h1m3 0h1m10 0h1m27 0h1m19 0h1m9 0h1m26 0h1m8 0h1m2 0h1m5 0h1m1 0h1m4 0h1m2 0h1m10 0h1m9 0h1m8 0h1m1 0h2m1 0h1m4 0h1m4 0h1m19 0h1m9 0h1m12 0h2m1 0h1m10 0h1m3 0h2m1 0h2m2 0h1m4 0h1m6 0h2m13 0h1m27 0h1m3 0h2m2 0h1m10 0h1m12 0h2m9 0h1m5 0h1M202 877h1m12 0h2m27 0h1m9 0h1m19 0h1m5 0h1m38 0h1m12 0h1m6 0h1m17 0h3m6 0h1m13 0h2m2 0h2m11 0h1m1 0h2m12 0h1m24 0h1m12 0h1m2 0h1m22 0h1m9 0h1m11 0h1m5 0h1m1 0h1m10 0h1m14 0h1m2 0h2m15 0h1m31 0h3m2 0h1m18 0h1m6 0h2m1 0h1m5 0h1m8 0h1m3 0h1m6 0h1m8 0h1m22 0h1m9 0h1m6 0h1m27 0h1m2 0h1m22 0h1m8 0h1m8 0h1m13 0h1m9 0h1m3 0h1m1 0h1m16 0h1m9 0h2m15 0h1m10 0h1m7 0h1m14 0h1m5 0h1m15 0h1m6 0h2m3 0h2m10 0h1m12 0h1m2 0h1m1 0h1m4 0h1m5 0h1m3 0h1m5 0h2m2 0h2M197 905h1m8 0h1m7 0h1m7 0h2m4 0h1m2 0h2m11 0h1m4 0h1m13 0h1m19 0h2m4 0h1m4 0h1m11 0h2m19 0h1m4 0h2m6 0h1m23 0h1m15 0h2m22 0h1m1 0h1m3 0h1m3 0h1m1 0h1m22 0h1m1 0h1m9 0h2m4 0h3m4 0h2m2 0h1m8 0h1m2 0h3m2 0h1m1 0h1m6 0h2m20 0h1m9 0h1m6 0h1m4 0h1m12 0h1m1 0h1m1 0h1m8 0h1m9 0h1m4 0h1m3 0h1m2 0h2m4 0h1m1 0h1m3 0h1m17 0h1m3 0h1m16 0h2m6 0h1m1 0h1m8 0h1m6 0h4m1 0h1m5 0h1m18 0h1m16 0h1m11 0h1m14 0h1m9 0h1m1 0h1m18 0h1m27 0h1m12 0h3m52 0h1m13 0h1m5 0h2m3 0h1m4 0h2m16 0h2m2 0h1m21 0h1m1 0h2m15 0h1M178 924h2m2 0h1m3 0h1m20 0h1m4 0h2m7 0h1m3 0h4m1 0h3m13 0h1m16 0h1m27 0h1m4 0h2m7 0h1m15 0h1m10 0h1m8 0h1m6 0h1m1 0h1m16 0h1m21 0h1m13 0h1m1 0h1m12 0h2m15 0h1m14 0h1m10 0h1m10 0h1m5 0h1m10 0h1m4 0h1m16 0h2m9 0h1m6 0h1m11 0h1m8 0h1m10 0h1m2 0h1m14 0h1m11 0h2m10 0h3m10 0h2m4 0h1m3 0h1m2 0h2m18 0h1m12 0h1m1 0h1m2 0h1m7 0h1m1 0h1m3 0h1m2 0h1m10 0h1m10 0h1m22 0h1m28 0h1m13 0h2m13 0h1m11 0h1m2 0h1m37 0h1m10 0h1m17 0h1m5 0h3m2 0h1m7 0h1m2 0h1m1 0h1m7 0h1m6 0h1m31 0h2m13 0h1m5 0h1m2 0h2M177 943h1m23 0h1m20 0h3m19 0h1m29 0h1m24 0h2m30 0h2m51 0h1m1 0h2m15 0h1m1 0h1m46 0h1m6 0h1m9 0h1m16 0h2m2 0h2m54 0h1m15 0h1m16 0h1m9 0h1m3 0h1m36 0h1m6 0h1m25 0h1m41 0h1m19 0h1m6 0h1m1 0h1m23 0h1m31 0h1m5 0h2m2 0h2m1 0h1m32 0h1m12 0h1m18 0h1m4 0h1m10 0h2m33 0h1m25 0h1"/>
<path stroke="#ffda00" stroke-width="11" d="M222 971.5h2m9 0h1m4 0h2m3 0h1m17 0h1m10 0h1m104 0h1m33 0h1m15 0h2m2 0h2m19 0h1m6 0h1m7 0h1m12 0h1m4 0h1m8 0h1m22 0h1m16 0h2m18 0h1m1 0h1m7 0h1m32 0h1m3 0h1m43 0h2m1 0h2m10 0h2m32 0h1m1 0h1m10 0h2m12 0h2m2 0h4m23 0h1m3 0h1m11 0h1m2 0h3m35 0h1m20 0h1m22 0h1m15 0h1m24 0h2m2 0h1m30 0h1m1 0h2m15 0h1m17 0h6"/>
<path stroke="#ffcb00" stroke-width="9" d="M229 65.5h1m12 0h2m49 0h2m20 0h2m30 0h1m9 0h1m40 0h1m69 0h1m74 0h1m38 0h1m5 0h1m29 0h1m63 0h1m9 0h1m23 0h2m10 0h2m40 0h1m25 0h2m79 0h1m41 0h1m27 0h1M180 84.5h1m33 0h1m3 0h1m47 0h1m182 0h1m12 0h1m129 0h1m77 0h3m3 0h1m30 0h2m38 0h1m39 0h1m43 0h1m2 0h1m12 0h2m22 0h1m15 0h1m36 0h1m14 0h1m2 0h1M192 103.5h1m28 0h1m13 0h1m13 0h1m78 0h2m56 0h1m36 0h1m29 0h1m10 0h2m40 0h1m20 0h2m34 0h1m21 0h1m23 0h1m1 0h3m41 0h1m26 0h1m24 0h2m40 0h1m29 0h1m1 0h1m35 0h2m5 0h2m24 0h1m4 0h1m8 0h1m50 0h1m19 0h1m23 0h2M187 112.5h1m85 0h1m67 0h1m23 0h1m26 0h1m29 0h1m69 0h3m24 0h1m6 0h1m12 0h2m15 0h1m23 0h2m34 0h1m74 0h1m12 0h1m13 0h2m49 0h1m38 0h1m9 0h1m9 0h2m7 0h1m52 0h1m29 0h1M212 131.5h2m14 0h2m23 0h2m51 0h2m31 0h2m2 0h2m40 0h1m3 0h1m17 0h1m3 0h1m41 0h1m10 0h2m13 0h1m25 0h1m3 0h1m20 0h2m39 0h2m2 0h1m38 0h2m1 0h1m21 0h1m19 0h1m2 0h1m6 0h3m20 0h2m12 0h1m16 0h1m33 0h1m10 0h1m11 0h1m46 0h1m21 0h2m40 0h1m50 0h1M309 150.5h2m20 0h1m1 0h1m23 0h1m43 0h1m41 0h1m113 0h1m13 0h4m51 0h1m64 0h1m21 0h1m35 0h1m108 0h2m3 0h1m79 0h1m19 0h1M224 169.5h1m80 0h1m6 0h1m48 0h3m3 0h1m53 0h1m46 0h1m11 0h1m13 0h1m18 0h1m78 0h1m41 0h1m65 0h1m1 0h1m4 0h2m45 0h2m19 0h1m3 0h1m1 0h1m15 0h1m44 0h1m94 0h1m15 0h1M238 188.5h2m28 0h2m31 0h1m3 0h1m34 0h1m16 0h1m1 0h1m70 0h1m24 0h2m25 0h1m39 0h1m9 0h1m36 0h1m29 0h1m18 0h1m11 0h1m9 0h4m48 0h1m5 0h2m3 0h2m17 0h1m2 0h1m134 0h1m16 0h1m28 0h2m7 0h1M177 197.5h1m21 0h1m17 0h3m25 0h1m2 0h1m24 0h1m1 0h1m13 0h1m88 0h1m13 0h2m31 0h1m5 0h1m4 0h2m89 0h1m63 0h1m9 0h1m33 0h2m11 0h1m20 0h1m37 0h2m2 0h2m20 0h1m69 0h2m27 0h1m65 0h1m26 0h1M203 254.5h2m15 0h2m18 0h2m3 0h1m4 0h2m46 0h1m70 0h1m13 0h1m17 0h1m31 0h1m5 0h1m11 0h2m20 0h1m11 0h1m13 0h2m32 0h1m1 0h1m5 0h2m3 0h1m29 0h2m2 0h1m4 0h1m50 0h1m5 0h2m22 0h1m3 0h2m46 0h1m74 0h1M208 263.5h1m11 0h1m61 0h1m25 0h1m9 0h1m39 0h3m18 0h1m5 0h1m6 0h1m6 0h2m16 0h3m61 0h1m7 0h1m24 0h1m9 0h1m13 0h1m37 0h2m32 0h1m1 0h1m17 0h1m5 0h1m36 0h1M211 282.5h1m15 0h1m18 0h1m31 0h2m34 0h1m2 0h1m6 0h2m30 0h2m25 0h1m1 0h1m18 0h1m9 0h1m33 0h1m5 0h1m13 0h1m2 0h2m13 0h1m5 0h2m2 0h1m5 0h2m11 0h1m51 0h2m11 0h1m19 0h1m29 0h1m52 0h1m51 0h2M190 301.5h2m17 0h1m23 0h1m31 0h1m9 0h1m4 0h2m5 0h2m67 0h1m4 0h1m11 0h1m22 0h1m15 0h1m13 0h1m3 0h2m8 0h2m2 0h1m32 0h1m14 0h2m39 0h1m4 0h1m2 0h1m4 0h1m15 0h1m2 0h2m32 0h1m9 0h1m46 0h1M197 320.5h1m8 0h2m14 0h2m93 0h1m3 0h1m1 0h1m15 0h1m8 0h1m6 0h1m5 0h1m2 0h1m11 0h1m8 0h1m19 0h1m16 0h1m69 0h2m12 0h1m41 0h4m4 0h1m12 0h3m10 0h1m15 0h1m17 0h1m17 0h1m13 0h1M194 329.5h2m34 0h1m123 0h1m31 0h2m24 0h1m25 0h1m62 0h1m12 0h1m42 0h1m48 0h1m27 0h1m6 0h1M174 348.5h1m21 0h1m23 0h1m6 0h1m12 0h2m3 0h1m17 0h1m22 0h1m17 0h2m40 0h1m10 0h1m20 0h1m18 0h1m10 0h2m6 0h1m4 0h2m32 0h2m10 0h1m36 0h1m5 0h1m2 0h1m2 0h1m9 0h1m14 0h1m1 0h2m1 0h2m7 0h1m11 0h4m3 0h1m11 0h2m2 0h1m28 0h1m3 0h2m20 0h2m34 0h1m11 0h1m7 0h1m73 0h1M174 367.5h1m2 0h2m20 0h1m10 0h1m19 0h1m3 0h1m4 0h1m12 0h1m11 0h1m16 0h1m33 0h2m7 0h3m1 0h1m1 0h1m11 0h1m3 0h1m22 0h2m6 0h1m6 0h1m13 0h1m19 0h2m12 0h2m5 0h1m12 0h1m1 0h1m9 0h2m4 0h1m7 0h1m1 0h1m4 0h1m11 0h1m6 0h1m36 0h1m5 0h1m26 0h2m7 0h1m4 0h1m17 0h1m9 0h1m8 0h1m16 0h2m7 0h2m15 0h1m24 0h1m3 0h3m29 0h1m45 0h1m12 0h1m13 0h1m7 0h2m2 0h1m2 0h1m10 0h3m4 0h1m8 0h1m4 0h1m6 0h2m4 0h1m9 0h1m16 0h1m12 0h1m9 0h3m11 0h1m1 0h1m25 0h1m1 0h1m5 0h1m3 0h1m1 0h2M180 386.5h1m13 0h2m5 0h1m8 0h2m6 0h3m1 0h3m19 0h1m8 0h1m20 0h2m11 0h2m15 0h1m4 0h1m4 0h1m5 0h1m5 0h1m2 0h2m1 0h1m31 0h1m3 0h1m2 0h2m5 0h2m4 0h1m12 0h1m15 0h1m6 0h1m20 0h1m8 0h1m6 0h1m3 0h1m9 0h1m14 0h2m23 0h2m1 0h1m11 0h1m7 0h1m3 0h1m2 0h2m11 0h1m10 0h1m4 0h1m9 0h1m4 0h1m12 0h1m9 0h2m1 0h1m5 0h1m23 0h1m5 0h1m11 0h3m2 0h1m1 0h1m7 0h1m10 0h1m6 0h1m10 0h1m5 0h2m18 0h1m16 0h1m3 0h1m1 0h1m7 0h1m4 0h1m9 0h2m10 0h1m11 0h1m3 0h1m22 0h1m7 0h4m6 0h2m7 0h1m5 0h1m3 0h1m5 0h1m31 0h1m12 0h1m1 0h1m17 0h1m4 0h1M183 395.5h1m9 0h1m25 0h1m4 0h1m1 0h1m8 0h1m4 0h2m32 0h3m7 0h1m8 0h1m8 0h1m1 0h1m16 0h1m6 0h1m8 0h1m13 0h1m10 0h2m3 0h1m58 0h3m15 0h1m23 0h1m8 0h1m3 0h1m6 0h1m12 0h3m13 0h1m14 0h1m4 0h1m19 0h1m7 0h1m18 0h2m3 0h1m1 0h1m2 0h1m6 0h1m8 0h1m8 0h1m11 0h1m15 0h1m8 0h1m2 0h1m4 0h1m11 0h1m24 0h1m12 0h1m1 0h2m3 0h1m1 0h1m4 0h1m1 0h1m17 0h1m9 0h1m2 0h1m27 0h2m5 0h1m2 0h4m5 0h4m30 0h1m6 0h1m13 0h1m6 0h1m6 0h1m8 0h1m1 0h1m3 0h1m6 0h1m9 0h1m2 0h2m5 0h1m20 0h2m8 0h2m7 0h3M184 471.5h2m1 0h1m30 0h1m3 0h2m7 0h2m4 0h1m25 0h1m8 0h1m4 0h1m32 0h1m1 0h1m10 0h3m8 0h2m7 0h3m5 0h1m18 0h3m7 0h2m15 0h1m1 0h3m6 0h2m4 0h1m5 0h1m4 0h1m5 0h1m6 0h1m3 0h2m20 0h2m2 0h1m1 0h1m11 0h1m5 0h2m11 0h1m16 0h1m39 0h2m1 0h2m13 0h2m14 0h1m4 0h2m9 0h1m1 0h1m9 0h1m10 0h1m64 0h1m5 0h2m2 0h1m3 0h1m20 0h2m4 0h1m8 0h1m7 0h2m2 0h1m28 0h1m24 0h1m20 0h1m17 0h1m3 0h1m6 0h1m7 0h2m2 0h1m14 0h3m13 0h1m3 0h1m30 0h4m11 0h2m13 0h2M174 499.5h3m19 0h1m4 0h1m3 0h1m3 0h1m1 0h1m23 0h3m6 0h2m3 0h1m2 0h1m6 0h3m20 0h1m11 0h1m7 0h1m17 0h1m29 0h1m1 0h2m2 0h1m1 0h1m1 0h1m5 0h1m35 0h1m20 0h1m15 0h2m4 0h1m16 0h1m6 0h1m2 0h1m1 0h2m3 0h2m35 0h3m18 0h1m4 0h1m24 0h2m7 0h2m29 0h1m8 0h1m4 0h1m1 0h2m35 0h2m10 0h2m10 0h1m3 0h2m15 0h1m8 0h2m2 0h3m17 0h1m7 0h1m1 0h1m23 0h3m9 0h1m13 0h1m5 0h1m2 0h2m22 0h1m33 0h1m35 0h1m27 0h2m14 0h1m11 0h2m6 0h1m4 0h2M187 518.5h1m4 0h1m13 0h1m5 0h2m1 0h1m9 0h1m4 0h1m2 0h1m1 0h1m1 0h1m2 0h2m13 0h1m1 0h1m8 0h1m3 0h1m7 0h2m5 0h1m7 0h2m5 0h1m13 0h1m7 0h1m9 0h1m6 0h1m8 0h1m39 0h1m19 0h3m2 0h1m2 0h1m3 0h1m4 0h1m13 0h1m11 0h1m7 0h1m11 0h1m6 0h2m1 0h1m3 0h1m9 0h2m11 0h1m14 0h1m4 0h2m6 0h1m2 0h2m6 0h3m2 0h1m5 0h2m4 0h1m2 0h2m15 0h1m8 0h1m1 0h2m2 0h1m7 0h1m2 0h1m1 0h1m3 0h1m1 0h1m1 0h1m6 0h1m1 0h1m8 0h1m5 0h1m9 0h1m1 0h1m35 0h1m5 0h3m3 0h1m26 0h1m7 0h2m40 0h1m16 0h1m4 0h1m6 0h2m4 0h2m1 0h2m29 0h1m2 0h1m8 0h1m2 0h1m4 0h1m3 0h1m6 0h1m20 0h1m11 0h1m6 0h1m20 0h1m12 0h1m10 0h1m3 0h2M179 546.5h1m36 0h1m1 0h1m2 0h1m4 0h2m7 0h1m1 0h1m1 0h1m7 0h1m7 0h1m1 0h1m3 0h1m12 0h1m2 0h3m1 0h1m17 0h1m17 0h1m2 0h1m8 0h1m24 0h1m10 0h1m9 0h1m11 0h1m26 0h1m27 0h1m8 0h1m2 0h1m3 0h1m5 0h2m11 0h1m32 0h1m2 0h1m5 0h1m6 0h1m1 0h1m4 0h1m5 0h2m11 0h1m21 0h2m17 0h2m7 0h1m3 0h2m2 0h1m5 0h1m4 0h1m9 0h1m4 0h1m5 0h2m2 0h1m1 0h1m19 0h1m4 0h1m2 0h1m9 0h2m7 0h1m4 0h1m11 0h1m9 0h1m8 0h1m2 0h1m8 0h1m9 0h1m6 0h2m7 0h1m4 0h1m6 0h1m17 0h1m2 0h1m14 0h5m1 0h1m23 0h2m1 0h1m10 0h2m11 0h1m14 0h1m22 0h3m11 0h1m4 0h2m3 0h1m13 0h2m16 0h2M183 565.5h1m6 0h1m8 0h2m17 0h1m3 0h2m15 0h3m21 0h1m2 0h1m5 0h1m5 0h2m1 0h2m1 0h1m4 0h1m2 0h1m11 0h1m7 0h1m11 0h2m14 0h1m11 0h3m4 0h1m18 0h1m10 0h1m12 0h1m19 0h1m12 0h1m12 0h1m8 0h1m12 0h1m12 0h2m6 0h1m4 0h1m5 0h2m22 0h1m20 0h1m23 0h1m1 0h1m28 0h1m9 0h1m18 0h1m7 0h1m6 0h1m8 0h1m4 0h3m5 0h1m28 0h1m27 0h1m6 0h1m17 0h1m56 0h1m11 0h3m1 0h1m7 0h2m1 0h1m1 0h1m16 0h1m11 0h1m11 0h2m22 0h1m3 0h1m11 0h4m9 0h3m32 0h1M179 603.5h1m11 0h1m2 0h2m2 0h1m1 0h1m19 0h1m3 0h1m3 0h1m7 0h1m17 0h1m2 0h1m13 0h1m4 0h1m17 0h1m28 0h1m3 0h1m15 0h3m31 0h1m21 0h3m1 0h1m17 0h1m19 0h2m1 0h4m6 0h1m18 0h1m27 0h1m35 0h1m6 0h1m2 0h1m4 0h1m4 0h1m3 0h1m3 0h2m13 0h1m5 0h2m7 0h2m5 0h1m3 0h1m4 0h1m11 0h2m2 0h1m6 0h1m3 0h1m2 0h1m3 0h2m29 0h1m4 0h1m30 0h1m16 0h2m2 0h1m7 0h1m5 0h1m12 0h2m3 0h1m12 0h1m27 0h2m5 0h2m56 0h1m10 0h1m1 0h2m6 0h1m9 0h1m2 0h1m14 0h1m14 0h1m14 0h2m5 0h1m6 0h2m1 0h3M174 612.5h1m6 0h1m12 0h2m5 0h1m6 0h1m5 0h1m5 0h1m1 0h2m10 0h1m7 0h1m4 0h1m17 0h1m9 0h1m8 0h1m6 0h1m9 0h1m26 0h1m2 0h1m4 0h1m10 0h1m1 0h1m9 0h2m5 0h1m6 0h1m5 0h1m5 0h1m2 0h1m13 0h1m8 0h1m5 0h1m8 0h1m5 0h1m25 0h2m16 0h1m10 0h1m9 0h1m8 0h2m2 0h3m7 0h2m16 0h4m8 0h1m5 0h2m20 0h1m1 0h1m10 0h1m28 0h1m13 0h1m9 0h1m9 0h1m3 0h1m6 0h1m7 0h1m1 0h1m17 0h1m13 0h3m28 0h1m2 0h1m6 0h1m8 0h2m3 0h1m26 0h1m18 0h2m6 0h1m7 0h1m10 0h1m19 0h1m7 0h3m5 0h1m18 0h2m5 0h1m8 0h1m27 0h1m2 0h1m8 0h1m5 0h1m14 0h3M175 669.5h2m7 0h2m7 0h1m4 0h1m2 0h1m1 0h2m4 0h1m15 0h1m2 0h1m2 0h2m7 0h2m2 0h1m5 0h2m3 0h1m6 0h1m2 0h1m7 0h1m11 0h1m10 0h2m35 0h1m2 0h1m14 0h3m17 0h2m11 0h1m1 0h1m9 0h1m25 0h2m7 0h2m3 0h4m12 0h1m5 0h1m10 0h1m20 0h1m32 0h1m2 0h1m30 0h1m2 0h1m22 0h1m1 0h1m14 0h1m1 0h2m7 0h1m10 0h1m8 0h1m10 0h5m2 0h1m6 0h1m10 0h2m8 0h2m18 0h1m5 0h1m43 0h2m7 0h2m24 0h2m12 0h1m10 0h1m5 0h2m3 0h1m12 0h1m1 0h1m27 0h1m6 0h1m13 0h1m4 0h1m39 0h1m6 0h1m19 0h1m10 0h1M197 678.5h1m4 0h1m2 0h1m3 0h1m2 0h2m3 0h1m7 0h1m13 0h3m14 0h1m15 0h1m9 0h1m9 0h4m2 0h1m30 0h2m1 0h1m1 0h2m5 0h1m5 0h1m10 0h1m33 0h1m8 0h1m19 0h2m9 0h1m3 0h2m3 0h1m1 0h1m28 0h1m4 0h1m3 0h1m26 0h1m5 0h1m13 0h5m2 0h1m6 0h1m9 0h1m3 0h1m16 0h1m4 0h1m5 0h1m29 0h2m10 0h1m3 0h1m9 0h1m3 0h1m24 0h1m8 0h1m27 0h3m17 0h2m15 0h1m7 0h1m4 0h1m21 0h2m9 0h1m3 0h2m2 0h1m1 0h1m56 0h2m8 0h3m3 0h1m4 0h1m1 0h2m8 0h1m2 0h2m3 0h1m4 0h1m4 0h1m4 0h2m23 0h1m11 0h1m5 0h1m1 0h1m7 0h1M180 716.5h1m3 0h2m16 0h1m6 0h1m8 0h2m16 0h1m28 0h1m14 0h1m8 0h2m7 0h1m5 0h1m12 0h2m8 0h1m6 0h2m7 0h2m38 0h1m11 0h1m3 0h2m14 0h1m1 0h3m2 0h1m16 0h1m1 0h1m3 0h1m8 0h1m6 0h2m5 0h2m2 0h1m5 0h1m3 0h1m24 0h1m27 0h1m8 0h1m10 0h1m2 0h2m4 0h1m1 0h1m22 0h1m5 0h2m5 0h1m8 0h1m13 0h1m4 0h1m9 0h1m15 0h1m21 0h1m15 0h1m9 0h1m2 0h2m7 0h2m5 0h1m32 0h1m2 0h2m5 0h1m18 0h1m13 0h1m32 0h1m8 0h1m12 0h1m13 0h1m10 0h1m12 0h2m2 0h1m1 0h1m11 0h1m4 0h1m8 0h1m1 0h1m8 0h1m9 0h1m8 0h1m2 0h1M182 754.5h2m2 0h1m3 0h1m5 0h1m23 0h1m47 0h3m7 0h2m7 0h2m7 0h2m2 0h1m1 0h1m2 0h1m3 0h1m3 0h1m24 0h1m4 0h3m14 0h1m5 0h1m2 0h1m7 0h1m24 0h1m7 0h1m1 0h1m4 0h1m26 0h1m3 0h1m41 0h1m11 0h2m3 0h1m8 0h1m26 0h1m8 0h1m3 0h1m6 0h1m5 0h1m1 0h3m2 0h2m2 0h1m8 0h2m41 0h2m5 0h1m7 0h1m20 0h1m12 0h1m8 0h1m2 0h1m6 0h1m2 0h2m2 0h2m16 0h1m4 0h1m13 0h2m3 0h1m7 0h1m37 0h1m35 0h1m1 0h1m2 0h1m10 0h2m23 0h2m5 0h1m17 0h1m11 0h2m1 0h2m17 0h2m3 0h1m11 0h2m17 0h1m2 0h2M175 763.5h2m1 0h1m22 0h1m8 0h1m6 0h1m12 0h1m2 0h1m10 0h1m2 0h1m7 0h1m3 0h3m10 0h1m5 0h2m4 0h1m21 0h2m20 0h1m2 0h1m9 0h1m9 0h1m3 0h1m31 0h1m1 0h1m3 0h1m14 0h2m3 0h1m3 0h4m19 0h1m5 0h2m24 0h1m6 0h1m6 0h1m1 0h2m27 0h1m1 0h1m2 0h1m9 0h1m5 0h1m32 0h1m8 0h1m9 0h1m7 0h1m4 0h1m24 0h1m7 0h1m10 0h1m12 0h2m6 0h4m10 0h1m11 0h3m5 0h2m6 0h1m51 0h1m5 0h1m7 0h1m9 0h2m15 0h2m7 0h2m17 0h1m11 0h1m8 0h1m11 0h1m49 0h2m4 0h1m10 0h3m13 0h1m8 0h1m1 0h1m5 0h1m3 0h2M186 886.5h1m3 0h1m1 0h1m10 0h2m4 0h1m18 0h1m24 0h1m3 0h1m14 0h1m12 0h1m18 0h1m4 0h3m5 0h2m39 0h1m10 0h1m31 0h1m2 0h2m6 0h2m17 0h1m10 0h1m5 0h1m30 0h1m2 0h1m7 0h1m6 0h1m44 0h1m8 0h1m19 0h1m8 0h1m12 0h1m18 0h1m15 0h1m5 0h2m5 0h1m4 0h1m8 0h1m23 0h2m9 0h1m29 0h1m19 0h1m11 0h1m6 0h1m10 0h1m5 0h1m4 0h4m3 0h1m14 0h1m1 0h1m2 0h1m3 0h1m2 0h1m10 0h2m5 0h1m6 0h2m4 0h3m7 0h2m1 0h1m1 0h1m3 0h1m9 0h2m3 0h1m10 0h1m6 0h1m3 0h1m17 0h1m1 0h2m2 0h1m3 0h1m3 0h1m2 0h1m7 0h1m1 0h5m3 0h2m1 0h1M175 895.5h3m3 0h1m11 0h1m8 0h1m13 0h1m11 0h1m6 0h1m2 0h1m9 0h1m3 0h1m1 0h1m4 0h2m5 0h1m8 0h1m8 0h1m1 0h1m12 0h1m4 0h1m14 0h1m2 0h1m4 0h1m3 0h1m14 0h1m9 0h1m9 0h1m4 0h2m5 0h2m3 0h1m3 0h1m9 0h1m8 0h1m15 0h1m3 0h1m4 0h1m8 0h1m5 0h2m1 0h1m16 0h1m4 0h1m1 0h1m2 0h1m10 0h1m2 0h2m5 0h2m12 0h2m20 0h1m2 0h2m1 0h2m4 0h2m7 0h1m8 0h1m2 0h3m7 0h2m11 0h2m7 0h1m9 0h1m2 0h1m10 0h1m6 0h2m56 0h3m6 0h2m3 0h1m1 0h1m8 0h1m1 0h1m3 0h1m30 0h1m3 0h1m9 0h2m5 0h1m6 0h1m6 0h1m28 0h1m35 0h1m5 0h1m7 0h1m15 0h1m32 0h2m3 0h2m23 0h2m6 0h2m5 0h1m5 0h2M174 933.5h3m20 0h1m26 0h2m17 0h1m1 0h1m3 0h1m8 0h3m10 0h1m6 0h3m24 0h1m9 0h3m1 0h1m9 0h1m16 0h1m8 0h1m6 0h2m2 0h1m2 0h1m53 0h1m9 0h1m10 0h1m12 0h1m2 0h1m2 0h1m16 0h2m14 0h1m10 0h2m4 0h1m8 0h1m21 0h1m11 0h1m4 0h1m8 0h1m2 0h1m4 0h1m1 0h1m1 0h1m18 0h2m7 0h1m8 0h1m2 0h1m23 0h1m3 0h1m6 0h1m5 0h1m12 0h2m9 0h1m3 0h1m20 0h1m15 0h1m22 0h1m6 0h1m3 0h1m23 0h1m2 0h1m5 0h1m23 0h2m11 0h1m8 0h2m4 0h2m28 0h1m20 0h2m7 0h1m1 0h1M194 952.5h2m81 0h1m5 0h1m9 0h2m10 0h1m51 0h1m2 0h1m17 0h1m10 0h1m12 0h2m7 0h1m6 0h2m33 0h1m7 0h1m2 0h2m21 0h1m29 0h1m10 0h2m5 0h1m19 0h2m3 0h1m89 0h1m19 0h3m3 0h1m2 0h2m1 0h2m64 0h1m2 0h1m30 0h3m5 0h1m15 0h1m9 0h1m7 0h1m6 0h1m76 0h1m31 0h2m23 0h1M200 961.5h1m7 0h1m7 0h2m15 0h2m22 0h2m7 0h1m34 0h1m36 0h1m3 0h1m5 0h1m26 0h2m1 0h1m13 0h1m18 0h1m9 0h1m7 0h1m3 0h1m21 0h2m5 0h1m22 0h1m71 0h1m18 0h2m2 0h1m1 0h1m2 0h1m5 0h1m29 0h1m25 0h2m116 0h1m16 0h2m39 0h1m11 0h1m6 0h2m3 0h3m19 0h1m11 0h1m20 0h3m21 0h2m29 0h2"/>
<path stroke="#ffcb00" stroke-width="10" d="M191 75h1m1 0h1m46 0h2m5 0h1m5 0h2m7 0h3m81 0h2m38 0h1m14 0h1m65 0h1m14 0h1m13 0h2m11 0h1m6 0h1m5 0h1m31 0h1m7 0h1m29 0h1m35 0h2m46 0h1m9 0h1m7 0h1m16 0h1m2 0h1m24 0h1m21 0h1m3 0h1m23 0h1m16 0h1m48 0h1m32 0h1m8 0h1M247 94h1m116 0h1m53 0h2m5 0h1m116 0h1m19 0h1m39 0h1m23 0h1m21 0h1m67 0h2m41 0h1m55 0h1m122 0h1m22 0h1M180 122h1m52 0h1m1 0h1m13 0h3m44 0h2m20 0h2m132 0h2m5 0h1m6 0h1m1 0h1m31 0h4m14 0h1m10 0h1m81 0h1m7 0h1m74 0h2m4 0h1m56 0h1m18 0h1m30 0h3m87 0h1m10 0h1m40 0h3M209 141h2m87 0h1m1 0h1m61 0h2m40 0h1m74 0h1m21 0h1m30 0h1m189 0h1m20 0h1m7 0h1m18 0h1m37 0h1m69 0h1m40 0h1M181 160h1m27 0h1m1 0h1m42 0h1m66 0h1m5 0h2m27 0h1m28 0h1m29 0h1m20 0h2m13 0h1m2 0h1m26 0h2m6 0h1m7 0h2m77 0h2m36 0h5m6 0h1m43 0h1m13 0h1m49 0h2m36 0h1m38 0h3m8 0h2m41 0h1m13 0h1m5 0h2m61 0h1M174 179h1m13 0h2m11 0h1m6 0h1m119 0h1m9 0h1m72 0h1m40 0h1m76 0h1m112 0h2m54 0h2m26 0h2m3 0h1m20 0h1m7 0h1m16 0h1m20 0h1m13 0h1m36 0h2m33 0h2m57 0h1M181 207h1m4 0h1m2 0h1m28 0h1m72 0h1m2 0h1m26 0h1m57 0h1m77 0h2m20 0h1m37 0h2m14 0h1m3 0h1m46 0h1m1 0h2m44 0h2m13 0h1m21 0h1m4 0h2m26 0h1m2 0h1m4 0h2m38 0h1m6 0h3m8 0h1m20 0h1m37 0h3m5 0h1m1 0h3m18 0h1m39 0h1m17 0h1m20 0h1m19 0h1M206 245h1m8 0h1m13 0h1m23 0h1m39 0h1m27 0h2m47 0h1m6 0h2m9 0h1m33 0h1m1 0h1m8 0h1m30 0h2m6 0h1m10 0h2m32 0h1m23 0h1m14 0h1m7 0h1m17 0h1m7 0h1m11 0h1m15 0h1m1 0h1m4 0h1m2 0h1m11 0h1m7 0h1m8 0h1m4 0h1M184 273h2m38 0h1m31 0h1m17 0h1m5 0h1m31 0h1m20 0h1m25 0h1m16 0h1m24 0h1m4 0h1m1 0h2m16 0h1m23 0h1m19 0h1m38 0h1m28 0h3m3 0h1m2 0h1m18 0h1m31 0h2m8 0h1m83 0h1m53 0h1M188 292h1m16 0h1m25 0h2m51 0h1m18 0h1m67 0h2m22 0h1m11 0h1m22 0h1m18 0h1m1 0h1m3 0h2m70 0h1m10 0h1m12 0h1m13 0h1m19 0h1m3 0h1m2 0h2m29 0h2m15 0h1m82 0h1m181 0h1m60 0h1M189 311h1m2 0h1m47 0h2m2 0h1m30 0h1m18 0h1m20 0h2m4 0h1m12 0h2m25 0h1m33 0h1m10 0h1m9 0h2m4 0h1m13 0h2m5 0h1m4 0h2m16 0h4m1 0h1m6 0h2m3 0h2m1 0h1m8 0h1m21 0h1m16 0h1m3 0h1m16 0h2m9 0h1m4 0h1m4 0h2m14 0h1m9 0h1m31 0h1m6 0h3M217 339h1m10 0h1m15 0h1m11 0h1m14 0h1m10 0h1m19 0h1m29 0h1m51 0h1m12 0h1m10 0h2m77 0h1m19 0h1m9 0h1m25 0h1m36 0h1m1 0h1m3 0h2m12 0h1m7 0h1m101 0h1M267 358h1m40 0h1m18 0h1m2 0h1m63 0h1m18 0h1m15 0h1m6 0h2m6 0h1m32 0h1m4 0h1m27 0h1m2 0h1m24 0h1m5 0h1m1 0h1m9 0h1m15 0h1m5 0h1m9 0h1m37 0h1m10 0h1m131 0h1M173 424h1m7 0h1m4 0h1m1 0h1m3 0h1m18 0h1m4 0h1m17 0h1m17 0h1m4 0h1m18 0h1m12 0h1m5 0h1m22 0h1m9 0h1m12 0h2m7 0h1m24 0h1m3 0h1m13 0h2m9 0h1m5 0h1m20 0h1m2 0h1m26 0h1m12 0h3m14 0h1m8 0h1m15 0h1m8 0h1m16 0h1m10 0h1m4 0h2m14 0h1m11 0h2m1 0h1m11 0h1m1 0h1m16 0h1m17 0h3m4 0h1m1 0h1m1 0h1m5 0h1m6 0h1m37 0h1m15 0h2m6 0h1m1 0h2m1 0h1m7 0h1m1 0h1m7 0h1m4 0h1m18 0h1m4 0h1m14 0h3m13 0h2m24 0h1m19 0h1m11 0h1m2 0h1m10 0h1m16 0h1m1 0h1m12 0h1m3 0h1m1 0h1m4 0h2m3 0h1m1 0h1m4 0h1m17 0h1m6 0h2M189 462h1m13 0h2m11 0h1m18 0h1m2 0h1m3 0h2m3 0h1m10 0h1m7 0h1m4 0h1m14 0h1m2 0h2m3 0h1m16 0h1m10 0h2m9 0h3m2 0h1m10 0h1m1 0h3m2 0h1m7 0h1m4 0h1m4 0h1m17 0h1m6 0h2m2 0h1m7 0h1m1 0h1m3 0h1m2 0h1m3 0h1m10 0h3m4 0h1m5 0h1m4 0h1m19 0h1m13 0h2m11 0h1m16 0h1m5 0h1m22 0h1m17 0h1m4 0h1m10 0h1m1 0h1m9 0h2m18 0h1m3 0h1m12 0h1m1 0h1m7 0h2m1 0h2m6 0h1m9 0h3m11 0h1m10 0h1m6 0h1m1 0h1m16 0h1m4 0h2m12 0h1m29 0h1m16 0h1m3 0h3m21 0h1m2 0h1m1 0h2m9 0h1m13 0h1m19 0h1m19 0h2m15 0h1m28 0h1m11 0h1m2 0h1M174 490h1m8 0h1m3 0h1m23 0h1m2 0h1m11 0h1m28 0h1m20 0h1m10 0h2m12 0h1m2 0h1m37 0h1m7 0h1m1 0h2m8 0h2m13 0h1m7 0h1m1 0h2m5 0h1m10 0h1m8 0h1m3 0h2m31 0h1m5 0h1m13 0h1m17 0h1m4 0h1m7 0h3m45 0h1m2 0h1m4 0h3m2 0h1m3 0h4m8 0h1m3 0h1m4 0h1m2 0h1m5 0h1m1 0h2m3 0h4m4 0h1m8 0h1m14 0h1m2 0h1m2 0h2m40 0h1m1 0h1m6 0h1m13 0h2m10 0h1m5 0h1m8 0h1m2 0h2m7 0h1m22 0h1m9 0h1m10 0h1m6 0h1m2 0h3m11 0h2m1 0h1m28 0h1m11 0h1m10 0h1m11 0h2m5 0h1m9 0h1m13 0h2m31 0h1m9 0h2M181 528h1m5 0h1m2 0h1m8 0h2m11 0h2m11 0h1m17 0h1m6 0h2m11 0h1m12 0h1m8 0h1m5 0h1m1 0h2m8 0h1m9 0h1m15 0h1m24 0h1m15 0h1m25 0h1m1 0h1m7 0h2m4 0h1m11 0h1m4 0h1m1 0h3m4 0h1m6 0h4m1 0h1m1 0h1m25 0h1m12 0h3m1 0h1m8 0h1m31 0h1m7 0h1m24 0h1m3 0h1m8 0h1m6 0h1m12 0h2m9 0h1m17 0h1m8 0h1m5 0h1m29 0h1m6 0h1m26 0h1m13 0h1m6 0h1m14 0h1m2 0h1m10 0h1m14 0h1m5 0h1m6 0h1m7 0h1m21 0h1m3 0h1m28 0h1m7 0h2m5 0h2m4 0h1m15 0h1m12 0h1m10 0h2m6 0h1m21 0h1m6 0h1m17 0h1m2 0h2M181 556h1m12 0h2m1 0h1m8 0h1m13 0h1m3 0h1m1 0h1m40 0h1m5 0h1m21 0h1m3 0h1m5 0h1m3 0h1m1 0h1m10 0h1m11 0h2m1 0h1m4 0h1m7 0h1m8 0h2m3 0h1m1 0h1m7 0h1m4 0h1m5 0h1m30 0h1m43 0h1m3 0h2m5 0h1m19 0h1m3 0h1m5 0h1m2 0h1m4 0h2m12 0h1m4 0h1m14 0h1m10 0h1m3 0h2m9 0h1m8 0h1m2 0h1m9 0h1m2 0h1m5 0h1m6 0h1m13 0h1m4 0h1m10 0h1m1 0h1m10 0h1m2 0h1m13 0h3m3 0h1m5 0h2m5 0h1m6 0h1m4 0h2m10 0h1m15 0h2m31 0h1m10 0h1m11 0h2m1 0h1m26 0h1m6 0h2m6 0h1m23 0h2m20 0h1m16 0h1m3 0h2m5 0h1m6 0h1m6 0h1m9 0h2m10 0h1m5 0h1m23 0h1M175 575h2m6 0h3m11 0h1m8 0h1m8 0h1m1 0h1m11 0h1m3 0h1m3 0h1m19 0h1m7 0h1m9 0h1m2 0h3m12 0h1m4 0h2m22 0h1m20 0h2m10 0h2m8 0h1m4 0h1m7 0h1m1 0h2m7 0h1m3 0h1m5 0h4m7 0h1m11 0h1m12 0h1m8 0h1m8 0h1m5 0h1m31 0h1m2 0h1m15 0h1m7 0h1m10 0h1m6 0h1m6 0h2m8 0h1m17 0h1m1 0h1m10 0h1m16 0h2m4 0h1m4 0h1m3 0h1m1 0h1m2 0h2m8 0h1m9 0h1m8 0h1m6 0h1m12 0h2m2 0h1m6 0h1m2 0h1m17 0h2m2 0h1m17 0h1m8 0h1m9 0h1m9 0h1m4 0h1m21 0h1m5 0h1m17 0h1m3 0h1m6 0h1m8 0h2m9 0h1m22 0h1m18 0h1m1 0h1m3 0h1m21 0h1m5 0h5m3 0h1m1 0h1m3 0h1m18 0h1m13 0h1m6 0h1M178 594h3m5 0h1m6 0h1m3 0h1m9 0h2m10 0h1m17 0h1m2 0h2m30 0h1m13 0h1m4 0h1m4 0h2m6 0h1m3 0h1m15 0h2m2 0h1m1 0h1m10 0h1m14 0h1m16 0h2m15 0h2m10 0h1m2 0h1m1 0h1m6 0h1m34 0h1m17 0h1m8 0h1m9 0h1m1 0h1m16 0h2m30 0h1m7 0h1m11 0h1m23 0h1m3 0h1m7 0h1m3 0h1m9 0h1m3 0h1m5 0h1m7 0h2m2 0h1m4 0h1m3 0h1m15 0h1m5 0h2m4 0h1m14 0h1m23 0h1m1 0h3m8 0h2m3 0h1m1 0h1m2 0h1m31 0h1m14 0h1m13 0h1m5 0h1m1 0h1m14 0h1m2 0h1m10 0h1m1 0h2m4 0h1m3 0h2m18 0h2m2 0h1m23 0h1m10 0h1m24 0h2m10 0h1m9 0h1m3 0h1m4 0h1M199 660h1m11 0h3m7 0h1m7 0h1m3 0h1m8 0h1m3 0h1m21 0h2m63 0h1m2 0h1m30 0h1m2 0h1m21 0h3m6 0h2m1 0h1m5 0h2m4 0h1m4 0h1m2 0h1m6 0h1m1 0h2m6 0h1m2 0h1m3 0h1m3 0h1m10 0h3m8 0h2m2 0h1m16 0h1m14 0h1m16 0h1m28 0h1m21 0h1m9 0h1m13 0h1m9 0h2m7 0h1m8 0h1m17 0h1m5 0h1m8 0h1m2 0h1m5 0h1m9 0h1m7 0h1m10 0h1m3 0h1m4 0h1m3 0h1m8 0h1m15 0h1m6 0h1m20 0h1m8 0h1m28 0h1m15 0h1m2 0h2m8 0h1m16 0h1m12 0h1m4 0h1m50 0h1m3 0h2m5 0h2m19 0h1m12 0h1M188 745h2m6 0h1m6 0h2m12 0h1m11 0h1m14 0h1m3 0h1m8 0h1m8 0h1m1 0h2m6 0h1m7 0h1m5 0h1m17 0h1m12 0h1m19 0h2m4 0h1m4 0h2m21 0h2m2 0h1m16 0h1m23 0h1m1 0h1m16 0h1m2 0h1m2 0h1m40 0h1m9 0h1m5 0h2m2 0h1m2 0h1m10 0h2m12 0h1m15 0h1m5 0h2m6 0h1m18 0h1m8 0h1m4 0h1m13 0h1m48 0h2m15 0h1m5 0h1m25 0h1m6 0h3m30 0h1m6 0h1m4 0h1m4 0h1m11 0h1m10 0h1m12 0h1m4 0h1m14 0h1m9 0h2m2 0h1m23 0h1m3 0h1m25 0h3m14 0h1m17 0h1m1 0h1m29 0h1m4 0h1M181 773h1m1 0h1m3 0h1m4 0h1m1 0h2m12 0h1m1 0h1m8 0h2m1 0h2m7 0h2m9 0h1m1 0h1m7 0h2m17 0h1m20 0h1m5 0h1m18 0h1m8 0h1m2 0h1m2 0h1m3 0h1m2 0h2m2 0h2m4 0h1m16 0h2m9 0h1m2 0h2m1 0h1m52 0h2m12 0h1m1 0h1m8 0h1m5 0h1m8 0h1m15 0h2m4 0h1m15 0h1m2 0h1m33 0h1m19 0h1m4 0h2m24 0h1m7 0h1m11 0h1m4 0h3m7 0h1m12 0h3m2 0h1m9 0h1m9 0h1m1 0h1m16 0h1m14 0h1m1 0h2m9 0h1m2 0h1m5 0h1m3 0h2m13 0h1m29 0h2m31 0h1m14 0h2m1 0h1m5 0h1m2 0h1m19 0h1m10 0h1m25 0h1m12 0h2m2 0h1m13 0h1m1 0h1m15 0h1m5 0h1m3 0h1m11 0h2M173 858h1m1 0h2m7 0h2m5 0h2m18 0h3m2 0h1m1 0h3m1 0h2m14 0h2m2 0h2m1 0h2m12 0h2m3 0h1m5 0h2m22 0h1m1 0h2m1 0h1m6 0h2m30 0h1m1 0h1m9 0h1m18 0h1m24 0h1m8 0h1m1 0h1m12 0h3m5 0h1m2 0h1m11 0h1m34 0h1m23 0h1m8 0h1m20 0h2m1 0h1m3 0h1m12 0h1m1 0h1m8 0h1m26 0h1m11 0h1m3 0h2m20 0h1m10 0h1m10 0h1m6 0h1m1 0h3m18 0h1m15 0h2m1 0h1m2 0h1m18 0h1m5 0h1m15 0h1m2 0h2m12 0h4m7 0h1m14 0h1m1 0h1m9 0h1m21 0h1m13 0h1m17 0h2m11 0h1m4 0h1m3 0h1m14 0h1m10 0h1m10 0h2m4 0h1m2 0h1m9 0h1m20 0h1M180 905h1m8 0h1m4 0h2m3 0h1m16 0h1m4 0h1m25 0h1m2 0h2m3 0h1m20 0h1m4 0h1m13 0h1m9 0h1m6 0h1m8 0h1m9 0h1m18 0h1m9 0h1m9 0h1m5 0h1m16 0h1m30 0h1m1 0h3m5 0h1m1 0h2m8 0h2m21 0h1m13 0h2m16 0h1m5 0h1m1 0h2m4 0h1m2 0h1m25 0h1m1 0h1m11 0h2m21 0h1m2 0h1m12 0h1m4 0h1m1 0h2m11 0h1m12 0h1m3 0h1m1 0h1m11 0h1m2 0h4m12 0h1m4 0h1m3 0h1m5 0h1m9 0h1m9 0h1m16 0h1m5 0h1m27 0h1m15 0h1m1 0h1m3 0h2m3 0h1m31 0h1m3 0h1m10 0h1m2 0h1m9 0h1m18 0h1m2 0h1m18 0h1m9 0h1m10 0h1m5 0h1m9 0h1m18 0h1m8 0h1m3 0h2m6 0h4m5 0h1M177 924h1m3 0h1m5 0h1m4 0h1m5 0h1m2 0h1m4 0h1m1 0h1m8 0h2m10 0h1m3 0h1m3 0h1m4 0h2m4 0h1m13 0h1m4 0h1m6 0h1m14 0h1m12 0h1m3 0h2m3 0h1m24 0h1m8 0h1m30 0h1m5 0h2m39 0h1m6 0h2m4 0h2m1 0h1m5 0h1m5 0h1m15 0h1m3 0h1m25 0h1m25 0h1m4 0h1m26 0h1m10 0h1m13 0h1m16 0h1m11 0h1m36 0h1m38 0h1m8 0h1m6 0h2m15 0h2m10 0h1m3 0h4m19 0h1m3 0h1m16 0h2m4 0h1m10 0h2m11 0h1m16 0h1m26 0h1m11 0h1m9 0h1m4 0h1m14 0h2m4 0h1m25 0h2m2 0h1m2 0h2m7 0h1m5 0h1m10 0h2M181 943h1m7 0h1m9 0h1m40 0h2m3 0h1m16 0h1m59 0h1m42 0h1m17 0h1m20 0h1m11 0h1m5 0h2m31 0h2m15 0h1m5 0h1m44 0h1m5 0h1m6 0h2m9 0h1m2 0h1m9 0h2m8 0h2m8 0h1m9 0h1m38 0h1m11 0h1m7 0h1m91 0h2m1 0h3m2 0h1m1 0h1m15 0h1m6 0h2m61 0h1m53 0h1"/>
<path stroke="#ffcb00" stroke-width="11" d="M240 971.5h2m40 0h1m37 0h1m91 0h1m28 0h2m17 0h1m104 0h1m27 0h1m50 0h1m52 0h1m86 0h1m46 0h1m38 0h1m25 0h1m36 0h1m12 0h1"/>
<path stroke="#ffbc00" stroke-width="9" d="M198 65.5h2m16 0h1m274 0h1m81 0h1m107 0h1m33 0h1m55 0h1m46 0h1M217 84.5h1m311 0h1m121 0h2m93 0h1m189 0h1M222 103.5h2m20 0h2m141 0h1m362 0h1m18 0h2m37 0h2m77 0h1m69 0h1M340 112.5h1m23 0h1m153 0h1m36 0h1m23 0h1M236 131.5h1m110 0h1m7 0h2m13 0h1m61 0h2m46 0h1m7 0h1m84 0h1m98 0h1m202 0h2m13 0h1m52 0h1M332 150.5h1m154 0h1m170 0h1m104 0h2m172 0h1m4 0h1M310 169.5h1m77 0h1m53 0h2m25 0h1m40 0h3m44 0h1m9 0h2m84 0h2m66 0h1m52 0h1m2 0h1m76 0h2M202 188.5h1m54 0h1m12 0h1m31 0h1m128 0h1m26 0h1m213 0h1m15 0h2m87 0h1m39 0h1m55 0h1m62 0h1M197 197.5h1m49 0h1m128 0h1m159 0h1m38 0h1m73 0h2m7 0h1m50 0h1m128 0h2m112 0h2m7 0h1M181 216.5h2m7 0h1m18 0h1m8 0h1m1 0h1m3 0h2m9 0h1m16 0h1m3 0h1m2 0h2m2 0h1m7 0h1m9 0h1m18 0h1m7 0h2m14 0h2m31 0h1m36 0h1m7 0h1m12 0h1m2 0h2m2 0h1m19 0h1m11 0h1m7 0h1m3 0h1m3 0h1m7 0h1m3 0h1m6 0h1m11 0h4m8 0h2m3 0h1m28 0h1m3 0h1m11 0h1m1 0h1m12 0h1m6 0h1m3 0h1m4 0h1m14 0h1m7 0h2m2 0h2m19 0h2m4 0h1m14 0h2m2 0h2m34 0h4m5 0h2m8 0h1m1 0h1m1 0h2m1 0h1m7 0h1m6 0h2m6 0h1m22 0h1m3 0h1m10 0h3m19 0h2m12 0h1m18 0h2m9 0h2m1 0h2m1 0h1m6 0h1m10 0h1m43 0h1m9 0h1m8 0h2M173 235.5h1m25 0h1m8 0h1m1 0h1m1 0h2m22 0h1m8 0h1m7 0h1m2 0h1m9 0h1m5 0h1m7 0h1m15 0h2m1 0h1m8 0h1m38 0h1m1 0h1m10 0h1m3 0h1m4 0h2m4 0h1m3 0h1m2 0h1m10 0h1m12 0h1m3 0h1m6 0h1m18 0h2m17 0h2m26 0h2m2 0h1m1 0h1m8 0h1m7 0h1m22 0h1m3 0h1m11 0h1m11 0h1m17 0h1m2 0h1m12 0h1m7 0h1m8 0h1m1 0h2m14 0h1m14 0h1m15 0h1m12 0h2m11 0h1m13 0h1m5 0h2m7 0h1m3 0h2m2 0h1m23 0h2m20 0h1m11 0h1m21 0h2m10 0h2m3 0h1m15 0h1m25 0h1m17 0h1m1 0h1m19 0h2m2 0h2m13 0h1m16 0h3m1 0h1m10 0h2m1 0h1m1 0h1m10 0h1M197 254.5h1m1 0h1m11 0h1m6 0h1m3 0h2m33 0h1m24 0h1m26 0h1m10 0h2m25 0h2m30 0h1m6 0h1m6 0h1m10 0h3m11 0h2m24 0h1m27 0h1m9 0h1m44 0h1m16 0h1m10 0h1m16 0h1m15 0h1m9 0h1m12 0h3m2 0h1m11 0h1m39 0h2m34 0h1m81 0h1m160 0h1M196 263.5h1m14 0h3m49 0h1m26 0h1m26 0h1m4 0h1m1 0h2m29 0h1m14 0h1m3 0h1m21 0h1m5 0h1m17 0h1m20 0h1m8 0h1m8 0h2m26 0h1m13 0h1m13 0h1m56 0h1m7 0h1m3 0h1m13 0h1m9 0h1m2 0h1m13 0h3m20 0h1m67 0h2m44 0h1M180 282.5h1m33 0h1m43 0h1m3 0h1m3 0h1m15 0h1m6 0h1m41 0h1m43 0h1m83 0h1m10 0h1m9 0h1m2 0h2m12 0h1m26 0h1m2 0h1m23 0h1m10 0h1m1 0h2m65 0h1m3 0h1m14 0h1m39 0h2M182 301.5h1m3 0h1m23 0h1m27 0h1m18 0h1m57 0h2m6 0h1m26 0h1m17 0h1m9 0h1m27 0h1m20 0h2m32 0h1m16 0h1m31 0h1m36 0h1m28 0h2m1 0h1m43 0h2m29 0h1m4 0h1m298 0h1M177 320.5h1m9 0h2m9 0h1m39 0h2m7 0h1m15 0h2m12 0h1m7 0h1m13 0h2m3 0h1m10 0h2m14 0h1m17 0h1m8 0h1m7 0h1m10 0h1m15 0h1m4 0h1m8 0h1m8 0h1m14 0h1m20 0h1m9 0h1m3 0h1m6 0h1m39 0h1m1 0h1m7 0h1m43 0h2m5 0h1m34 0h1m27 0h1m80 0h1M229 329.5h1m10 0h2m4 0h1m70 0h1m23 0h1m32 0h1m2 0h1m12 0h3m6 0h2m2 0h1m31 0h1m10 0h2m6 0h1m3 0h1m19 0h1m3 0h1m6 0h1m17 0h1m22 0h2m1 0h1m13 0h1m15 0h1m38 0h1m6 0h1m67 0h1m31 0h1m10 0h1M173 348.5h1m40 0h1m13 0h1m26 0h2m9 0h1m10 0h1m11 0h1m24 0h1m39 0h2m18 0h1m17 0h1m5 0h3m22 0h1m5 0h1m21 0h1m22 0h2m1 0h1m10 0h1m6 0h2m10 0h1m17 0h1m35 0h2m1 0h1m13 0h1m3 0h1m6 0h1m40 0h1m22 0h1m1 0h1m1 0h1m25 0h1M180 367.5h1m19 0h1m4 0h2m8 0h1m15 0h3m3 0h1m6 0h1m4 0h1m20 0h1m6 0h1m2 0h1m3 0h1m1 0h3m21 0h1m9 0h1m2 0h1m3 0h1m11 0h1m18 0h1m6 0h1m2 0h1m7 0h1m25 0h1m17 0h1m5 0h1m3 0h1m4 0h1m4 0h1m3 0h1m6 0h1m20 0h1m1 0h2m33 0h2m6 0h1m9 0h3m8 0h1m22 0h1m8 0h1m5 0h2m1 0h1m23 0h1m3 0h2m3 0h1m5 0h1m7 0h1m1 0h1m12 0h1m21 0h1m2 0h1m6 0h1m4 0h3m2 0h2m5 0h1m1 0h1m1 0h3m4 0h1m2 0h1m11 0h2m2 0h1m1 0h1m15 0h1m10 0h1m3 0h1m3 0h1m8 0h1m1 0h1m7 0h1m5 0h2m2 0h1m8 0h1m8 0h1m1 0h1m5 0h1m2 0h1m7 0h1m3 0h1m8 0h1m3 0h1m34 0h2m3 0h1m5 0h1m9 0h1m6 0h2m5 0h2m4 0h1m12 0h1m1 0h2m31 0h1m5 0h2M177 386.5h1m10 0h1m3 0h1m43 0h1m6 0h1m1 0h1m15 0h1m4 0h2m35 0h1m11 0h2m26 0h2m11 0h1m17 0h2m19 0h1m25 0h1m1 0h1m7 0h1m3 0h1m13 0h1m3 0h1m4 0h1m18 0h1m13 0h4m6 0h1m18 0h2m17 0h2m6 0h1m16 0h1m13 0h2m15 0h2m2 0h2m1 0h1m1 0h2m1 0h1m6 0h2m7 0h2m3 0h1m2 0h1m3 0h1m12 0h1m8 0h1m5 0h1m12 0h1m9 0h2m3 0h1m21 0h2m3 0h1m19 0h1m5 0h2m2 0h1m13 0h1m6 0h1m23 0h1m16 0h2m2 0h1m16 0h2m19 0h1m2 0h3m12 0h1m3 0h1m16 0h1m7 0h1m28 0h1m11 0h2m7 0h6M177 414.5h1m13 0h1m20 0h2m21 0h1m7 0h1m3 0h1m7 0h1m2 0h1m4 0h1m7 0h1m4 0h1m34 0h1m2 0h1m2 0h1m2 0h1m2 0h1m16 0h1m13 0h2m6 0h2m5 0h1m5 0h1m9 0h1m4 0h2m2 0h1m3 0h1m11 0h1m4 0h1m8 0h1m10 0h1m5 0h1m25 0h2m1 0h1m2 0h1m8 0h1m2 0h1m1 0h1m8 0h1m23 0h2m1 0h1m9 0h1m2 0h1m8 0h1m15 0h1m24 0h2m7 0h3m8 0h1m3 0h1m29 0h1m33 0h1m21 0h1m1 0h2m4 0h1m11 0h2m10 0h1m1 0h1m4 0h2m14 0h1m34 0h2m11 0h1m9 0h1m7 0h1m14 0h1m14 0h2m5 0h1m1 0h2m2 0h1m5 0h2m2 0h1m2 0h1m5 0h1m1 0h1m2 0h2m11 0h1m2 0h2m6 0h1m1 0h1m16 0h1m7 0h1m8 0h1m14 0h2M174 433.5h1m11 0h1m48 0h1m8 0h1m7 0h1m2 0h1m7 0h1m9 0h1m24 0h1m24 0h1m2 0h1m5 0h1m4 0h1m18 0h2m21 0h3m2 0h1m2 0h1m1 0h1m3 0h1m12 0h1m20 0h2m1 0h2m1 0h1m1 0h1m5 0h1m2 0h1m21 0h1m9 0h1m18 0h1m1 0h2m8 0h1m12 0h3m1 0h1m26 0h1m13 0h1m10 0h2m5 0h1m8 0h1m2 0h2m11 0h2m4 0h3m2 0h1m2 0h1m26 0h1m25 0h1m2 0h1m14 0h1m11 0h2m11 0h1m3 0h1m9 0h1m19 0h1m14 0h1m20 0h1m1 0h3m1 0h3m12 0h1m11 0h2m7 0h1m2 0h1m17 0h1m3 0h1m2 0h1m28 0h1m4 0h1m13 0h1m23 0h1m15 0h1m1 0h1m12 0h1m4 0h2M187 452.5h1m10 0h2m10 0h1m3 0h1m16 0h2m48 0h2m13 0h2m1 0h2m1 0h1m5 0h2m31 0h1m12 0h1m20 0h1m26 0h2m23 0h2m2 0h1m19 0h1m11 0h1m8 0h1m19 0h2m28 0h1m7 0h2m31 0h1m2 0h1m8 0h1m15 0h1m21 0h1m16 0h1m13 0h1m11 0h1m11 0h1m12 0h1m12 0h2m13 0h1m2 0h1m6 0h3m8 0h1m3 0h4m48 0h1m7 0h1m4 0h1m15 0h1m8 0h1m24 0h1m16 0h2m7 0h3m2 0h2m4 0h1m1 0h1m18 0h1m1 0h1m11 0h1m14 0h1m18 0h1m3 0h2m3 0h1M173 471.5h1m20 0h2m3 0h1m9 0h1m6 0h1m13 0h1m13 0h1m11 0h2m1 0h2m1 0h1m2 0h1m23 0h1m15 0h1m31 0h1m8 0h1m14 0h1m4 0h1m12 0h1m23 0h1m25 0h1m4 0h1m1 0h2m14 0h1m16 0h1m15 0h1m1 0h1m11 0h1m6 0h1m1 0h1m7 0h2m24 0h1m50 0h1m8 0h2m2 0h1m4 0h1m11 0h2m23 0h3m14 0h2m7 0h1m8 0h2m1 0h1m3 0h1m13 0h1m2 0h2m2 0h3m6 0h1m1 0h1m2 0h3m24 0h2m9 0h4m7 0h1m1 0h1m12 0h1m6 0h1m3 0h4m14 0h1m3 0h1m7 0h1m1 0h1m2 0h1m14 0h1m17 0h2m9 0h1m2 0h2m22 0h1m8 0h1m4 0h1m8 0h1m7 0h1m15 0h1M192 480.5h1m5 0h1m6 0h2m14 0h1m23 0h1m2 0h1m7 0h1m4 0h1m5 0h1m13 0h1m14 0h2m10 0h1m4 0h1m16 0h1m7 0h1m7 0h2m9 0h1m2 0h1m9 0h1m3 0h1m8 0h1m18 0h2m4 0h2m7 0h1m32 0h2m2 0h1m6 0h1m10 0h1m18 0h3m13 0h2m7 0h2m9 0h1m14 0h1m8 0h1m4 0h1m12 0h1m12 0h2m15 0h1m1 0h1m2 0h2m36 0h2m12 0h1m8 0h1m15 0h1m13 0h1m13 0h1m8 0h1m34 0h1m8 0h3m65 0h1m37 0h1m15 0h2m7 0h3m4 0h2m6 0h1m25 0h1M183 499.5h1m3 0h1m12 0h1m5 0h1m3 0h1m5 0h1m14 0h2m7 0h2m6 0h1m14 0h1m2 0h1m6 0h1m10 0h1m2 0h2m22 0h1m5 0h1m1 0h1m4 0h2m3 0h1m8 0h2m14 0h1m9 0h2m17 0h1m12 0h2m3 0h1m18 0h1m11 0h2m15 0h1m5 0h2m4 0h1m4 0h1m1 0h1m1 0h1m31 0h2m1 0h1m21 0h1m8 0h1m17 0h1m10 0h1m13 0h1m4 0h1m4 0h1m16 0h1m13 0h1m1 0h1m4 0h1m1 0h1m46 0h1m1 0h4m9 0h2m1 0h1m42 0h1m1 0h1m9 0h1m3 0h1m12 0h1m32 0h3m23 0h1m7 0h1m15 0h1m14 0h1m15 0h1m6 0h1m3 0h2m10 0h2m5 0h2m2 0h1m16 0h2m5 0h1m14 0h1m1 0h2M180 518.5h1m1 0h4m7 0h3m1 0h1m4 0h1m2 0h1m3 0h2m17 0h1m17 0h1m1 0h1m5 0h1m3 0h1m8 0h1m4 0h1m23 0h2m11 0h1m5 0h2m48 0h1m7 0h1m4 0h2m25 0h2m4 0h1m10 0h1m31 0h1m6 0h1m2 0h2m4 0h1m1 0h1m16 0h1m7 0h1m1 0h1m45 0h2m3 0h1m9 0h4m10 0h1m6 0h1m24 0h1m7 0h2m5 0h1m6 0h1m6 0h1m1 0h1m24 0h1m3 0h1m8 0h1m15 0h1m19 0h1m21 0h2m18 0h1m2 0h1m8 0h1m12 0h1m7 0h2m8 0h2m6 0h1m8 0h1m14 0h4m2 0h2m13 0h1m2 0h1m10 0h2m38 0h2m17 0h2m10 0h2m13 0h1m7 0h1m5 0h1M198 537.5h1m8 0h1m1 0h1m9 0h1m11 0h2m17 0h2m11 0h1m6 0h1m3 0h1m38 0h1m1 0h2m4 0h2m7 0h1m10 0h1m14 0h1m8 0h1m2 0h1m4 0h1m1 0h1m28 0h1m7 0h1m5 0h2m26 0h2m11 0h1m20 0h1m5 0h1m1 0h1m6 0h1m2 0h1m2 0h3m10 0h1m12 0h1m5 0h1m29 0h1m2 0h1m9 0h2m6 0h2m6 0h1m2 0h2m1 0h1m3 0h1m3 0h1m9 0h1m1 0h2m10 0h2m12 0h1m15 0h3m5 0h1m13 0h1m8 0h1m12 0h1m18 0h2m9 0h1m30 0h1m3 0h1m2 0h2m1 0h1m6 0h2m46 0h2m17 0h2m3 0h1m11 0h2m6 0h1m56 0h2M182 546.5h2m6 0h1m34 0h1m10 0h1m19 0h1m6 0h2m1 0h1m15 0h1m4 0h2m1 0h1m10 0h1m7 0h1m30 0h1m26 0h1m6 0h1m5 0h2m3 0h1m10 0h1m10 0h1m13 0h1m12 0h4m1 0h1m1 0h1m1 0h1m1 0h1m3 0h1m9 0h1m6 0h1m1 0h1m3 0h5m1 0h1m6 0h1m5 0h1m13 0h1m3 0h1m7 0h2m1 0h2m1 0h1m30 0h1m29 0h1m7 0h1m2 0h2m4 0h1m9 0h1m23 0h1m14 0h1m16 0h1m6 0h1m21 0h1m5 0h1m1 0h1m18 0h3m20 0h1m33 0h1m23 0h1m66 0h1m33 0h1m1 0h1m1 0h1m48 0h1m6 0h1M186 565.5h1m2 0h1m19 0h1m11 0h1m5 0h1m1 0h4m9 0h2m1 0h1m1 0h2m16 0h1m14 0h1m4 0h1m13 0h1m5 0h1m11 0h1m4 0h1m4 0h1m8 0h1m4 0h1m7 0h1m16 0h1m12 0h1m10 0h2m11 0h1m2 0h1m1 0h2m29 0h1m15 0h2m1 0h1m5 0h2m6 0h2m23 0h1m24 0h1m5 0h1m9 0h1m4 0h1m14 0h2m10 0h1m3 0h1m1 0h2m11 0h2m34 0h1m12 0h1m47 0h1m1 0h3m10 0h1m4 0h1m9 0h2m20 0h1m21 0h2m1 0h2m15 0h2m12 0h1m5 0h2m6 0h1m1 0h2m3 0h1m22 0h2m16 0h2m14 0h1m2 0h2m19 0h2m28 0h1m2 0h1m4 0h3m1 0h1m10 0h1m17 0h1M175 584.5h2m43 0h1m4 0h1m3 0h1m1 0h2m11 0h1m7 0h2m1 0h1m11 0h1m13 0h1m1 0h1m6 0h1m15 0h2m1 0h1m13 0h1m6 0h1m7 0h1m3 0h1m9 0h2m30 0h1m16 0h1m25 0h2m2 0h1m2 0h1m7 0h1m37 0h1m4 0h1m11 0h1m2 0h1m14 0h1m1 0h3m6 0h1m6 0h1m23 0h1m5 0h1m5 0h1m4 0h2m6 0h1m2 0h1m3 0h1m3 0h1m3 0h2m7 0h1m3 0h1m19 0h1m4 0h1m2 0h1m14 0h1m9 0h1m3 0h1m2 0h2m12 0h1m10 0h1m1 0h1m5 0h1m1 0h1m20 0h2m9 0h2m2 0h2m1 0h2m1 0h1m17 0h1m10 0h1m10 0h1m17 0h1m21 0h1m44 0h1m6 0h2m12 0h1m4 0h2m11 0h1m2 0h1m15 0h1m8 0h1m7 0h3m4 0h2m11 0h1M190 612.5h1m1 0h1m4 0h1m12 0h1m8 0h1m9 0h1m8 0h1m6 0h1m3 0h1m17 0h1m3 0h1m5 0h1m4 0h2m5 0h1m13 0h1m1 0h1m4 0h1m15 0h1m2 0h2m15 0h1m1 0h1m3 0h3m10 0h1m3 0h2m13 0h1m1 0h1m21 0h2m19 0h1m10 0h2m2 0h1m4 0h1m1 0h1m9 0h1m9 0h1m28 0h1m1 0h2m1 0h1m11 0h2m5 0h1m2 0h1m2 0h3m9 0h3m2 0h1m7 0h1m5 0h1m1 0h1m21 0h1m15 0h1m7 0h1m1 0h1m5 0h1m38 0h1m17 0h1m27 0h1m7 0h1m3 0h2m4 0h1m12 0h1m1 0h2m6 0h1m19 0h2m16 0h1m4 0h1m13 0h2m3 0h1m11 0h1m3 0h1m9 0h2m3 0h1m13 0h1m22 0h1m3 0h1m5 0h3m15 0h1m5 0h1m23 0h3m1 0h1m2 0h1m3 0h1m4 0h1m7 0h1m2 0h1M174 631.5h1m9 0h2m20 0h1m2 0h1m4 0h1m6 0h1m9 0h2m19 0h1m17 0h1m1 0h1m10 0h1m2 0h1m14 0h1m11 0h1m1 0h2m4 0h1m11 0h1m4 0h1m4 0h2m3 0h1m2 0h1m4 0h2m7 0h1m9 0h1m10 0h2m5 0h2m15 0h1m9 0h2m19 0h1m6 0h1m4 0h1m3 0h1m5 0h1m2 0h1m6 0h1m3 0h1m9 0h1m9 0h1m25 0h1m11 0h1m7 0h2m2 0h1m6 0h2m20 0h2m2 0h1m23 0h2m3 0h1m7 0h1m4 0h1m15 0h3m9 0h1m16 0h1m6 0h1m4 0h2m9 0h1m19 0h1m2 0h1m7 0h1m9 0h1m6 0h1m2 0h1m7 0h1m2 0h1m25 0h1m5 0h2m20 0h1m9 0h1m1 0h1m36 0h1m7 0h1m13 0h3m20 0h1m1 0h1m6 0h1m16 0h1m27 0h1m2 0h1M183 650.5h1m8 0h1m18 0h4m6 0h1m20 0h2m4 0h1m6 0h2m4 0h1m1 0h1m6 0h1m9 0h1m1 0h1m4 0h2m5 0h1m9 0h1m1 0h2m14 0h1m31 0h1m3 0h1m5 0h1m3 0h1m38 0h1m21 0h1m12 0h1m1 0h1m5 0h1m1 0h1m9 0h2m9 0h1m11 0h1m2 0h1m10 0h1m18 0h1m1 0h2m5 0h1m4 0h1m15 0h2m20 0h1m3 0h1m1 0h2m7 0h1m2 0h1m4 0h2m4 0h1m6 0h1m1 0h1m1 0h1m15 0h1m5 0h2m6 0h1m12 0h1m10 0h1m4 0h3m13 0h1m7 0h1m12 0h1m2 0h1m11 0h1m2 0h1m3 0h1m19 0h2m7 0h1m7 0h1m4 0h1m16 0h1m2 0h3m1 0h1m8 0h2m13 0h1m3 0h1m24 0h2m1 0h2m8 0h1m1 0h1m10 0h2m6 0h1m1 0h3m10 0h1m9 0h1m42 0h3m15 0h1M181 697.5h1m11 0h1m2 0h1m10 0h1m2 0h1m13 0h1m8 0h1m14 0h1m8 0h2m22 0h1m20 0h1m30 0h1m36 0h1m11 0h1m1 0h1m1 0h1m3 0h3m1 0h1m8 0h1m11 0h1m2 0h2m13 0h1m6 0h1m7 0h1m10 0h2m8 0h1m13 0h2m13 0h1m7 0h2m6 0h1m17 0h2m1 0h1m1 0h1m9 0h1m3 0h1m2 0h1m20 0h1m8 0h1m8 0h1m22 0h1m2 0h1m48 0h2m9 0h2m5 0h1m5 0h1m10 0h1m19 0h1m11 0h2m12 0h1m24 0h1m2 0h1m4 0h2m4 0h1m4 0h1m12 0h1m1 0h1m3 0h1m3 0h1m11 0h2m2 0h1m22 0h1m4 0h1m19 0h1m3 0h3m5 0h1m9 0h1m25 0h1m4 0h4m3 0h2m10 0h1m14 0h1M186 735.5h1m2 0h1m7 0h1m2 0h1m13 0h1m1 0h1m7 0h1m2 0h1m5 0h1m8 0h1m5 0h1m19 0h2m4 0h1m3 0h2m10 0h1m10 0h1m2 0h1m16 0h1m23 0h1m2 0h1m2 0h1m15 0h1m2 0h1m2 0h1m2 0h1m10 0h1m10 0h1m6 0h1m5 0h1m19 0h2m29 0h1m1 0h2m4 0h1m14 0h1m22 0h1m7 0h1m5 0h1m1 0h2m10 0h1m10 0h3m13 0h1m6 0h1m2 0h1m4 0h1m4 0h1m5 0h2m10 0h1m2 0h2m28 0h1m3 0h1m24 0h1m8 0h1m1 0h1m45 0h1m20 0h1m7 0h1m8 0h1m3 0h1m18 0h1m9 0h2m5 0h1m6 0h1m22 0h2m14 0h1m48 0h1m11 0h1m14 0h1m10 0h2m3 0h1m15 0h1m2 0h1m8 0h2M187 782.5h1m4 0h1m7 0h1m10 0h1m3 0h1m21 0h2m1 0h2m5 0h1m4 0h1m4 0h1m4 0h1m2 0h1m1 0h1m12 0h1m14 0h1m15 0h1m9 0h3m12 0h2m3 0h1m3 0h1m6 0h2m10 0h1m5 0h1m9 0h2m17 0h2m20 0h2m6 0h1m37 0h1m15 0h2m17 0h2m11 0h1m12 0h1m9 0h3m2 0h2m1 0h1m1 0h2m7 0h1m9 0h3m8 0h1m2 0h1m3 0h1m18 0h2m42 0h2m1 0h2m4 0h1m26 0h2m27 0h1m2 0h2m15 0h1m10 0h2m10 0h1m12 0h1m34 0h1m9 0h2m5 0h1m2 0h1m10 0h1m13 0h3m4 0h2m2 0h1m1 0h1m5 0h2m11 0h1m11 0h1m24 0h1m30 0h1m16 0h1m1 0h2M177 801.5h1m1 0h1m7 0h1m1 0h2m1 0h1m8 0h1m3 0h1m2 0h3m1 0h2m4 0h1m2 0h1m31 0h1m7 0h1m1 0h3m4 0h3m4 0h1m4 0h1m1 0h1m5 0h2m3 0h1m8 0h1m1 0h2m2 0h1m16 0h1m3 0h1m9 0h1m18 0h2m49 0h1m5 0h1m6 0h1m15 0h1m8 0h1m5 0h2m1 0h1m8 0h1m2 0h1m6 0h1m5 0h2m25 0h1m25 0h1m6 0h2m1 0h4m1 0h1m4 0h2m28 0h3m1 0h4m18 0h1m24 0h1m18 0h1m3 0h2m14 0h1m2 0h2m10 0h1m4 0h1m13 0h1m10 0h1m13 0h4m17 0h1m4 0h1m8 0h1m4 0h1m3 0h2m9 0h1m15 0h1m30 0h1m11 0h1m4 0h1m6 0h1m8 0h1m16 0h1m4 0h1m1 0h2m11 0h1m9 0h1m19 0h1m1 0h1m6 0h1m8 0h1M187 820.5h1m5 0h1m14 0h1m22 0h2m2 0h1m3 0h1m5 0h1m4 0h2m11 0h1m10 0h1m17 0h1m17 0h2m1 0h2m8 0h1m9 0h1m7 0h1m7 0h1m4 0h1m7 0h3m6 0h2m1 0h1m8 0h1m12 0h1m4 0h2m9 0h2m13 0h2m2 0h1m6 0h1m9 0h1m24 0h1m6 0h1m6 0h1m6 0h1m28 0h1m6 0h3m1 0h1m4 0h2m3 0h1m16 0h2m12 0h1m5 0h1m9 0h1m25 0h1m12 0h2m5 0h2m18 0h1m7 0h1m11 0h1m29 0h2m1 0h1m11 0h1m34 0h1m10 0h1m10 0h1m1 0h3m6 0h1m4 0h1m17 0h1m3 0h1m15 0h1m9 0h1m5 0h1m20 0h1m8 0h2m45 0h1m43 0h2M191 829.5h2m3 0h1m9 0h1m1 0h2m18 0h1m2 0h2m9 0h1m10 0h1m1 0h1m2 0h1m4 0h2m2 0h1m5 0h1m27 0h3m24 0h2m13 0h2m4 0h1m25 0h1m36 0h1m12 0h1m29 0h2m3 0h1m30 0h1m15 0h1m6 0h1m3 0h1m13 0h1m9 0h2m9 0h2m14 0h1m10 0h1m8 0h1m10 0h1m1 0h1m17 0h1m1 0h1m5 0h1m2 0h3m2 0h1m16 0h1m10 0h1m8 0h1m3 0h1m23 0h1m2 0h1m8 0h1m38 0h2m3 0h1m1 0h1m7 0h1m6 0h2m18 0h3m1 0h1m5 0h1m37 0h1m10 0h1m1 0h1m37 0h1m11 0h1m15 0h1m3 0h1m11 0h1m12 0h3m2 0h1M175 848.5h3m8 0h1m6 0h1m15 0h2m1 0h2m15 0h1m3 0h1m2 0h1m6 0h1m17 0h1m27 0h1m4 0h1m7 0h1m7 0h2m21 0h1m9 0h3m8 0h1m12 0h1m8 0h1m8 0h1m10 0h1m1 0h1m7 0h1m5 0h1m10 0h1m1 0h1m13 0h1m14 0h3m1 0h2m13 0h3m10 0h1m11 0h1m7 0h1m67 0h1m3 0h1m31 0h1m6 0h1m10 0h1m37 0h1m1 0h2m21 0h2m5 0h2m3 0h1m2 0h1m16 0h1m11 0h2m14 0h1m1 0h1m6 0h1m10 0h1m10 0h2m6 0h1m33 0h3m14 0h1m17 0h1m11 0h2m10 0h1M173 867.5h1m4 0h1m19 0h1m12 0h1m3 0h1m3 0h2m13 0h1m7 0h1m3 0h1m3 0h2m4 0h1m9 0h1m7 0h1m2 0h1m5 0h1m10 0h1m5 0h1m3 0h1m1 0h2m18 0h1m13 0h1m2 0h3m19 0h1m4 0h1m8 0h1m3 0h1m22 0h1m9 0h1m6 0h1m20 0h1m19 0h3m10 0h1m12 0h1m3 0h1m6 0h3m43 0h1m9 0h1m11 0h1m2 0h1m2 0h1m2 0h1m12 0h1m2 0h3m7 0h2m3 0h1m24 0h1m1 0h1m8 0h2m1 0h2m28 0h3m42 0h1m2 0h2m19 0h1m32 0h1m6 0h1m16 0h1m5 0h2m1 0h1m14 0h3m2 0h1m3 0h1m3 0h1m9 0h1m23 0h2m7 0h2m12 0h1m11 0h1m10 0h3m6 0h3m4 0h1m1 0h1m2 0h1m12 0h1M175 886.5h2m12 0h1m3 0h3m6 0h1m4 0h1m3 0h3m5 0h1m1 0h1m22 0h2m35 0h1m12 0h1m6 0h1m10 0h1m7 0h1m20 0h2m17 0h2m9 0h2m1 0h1m2 0h1m15 0h1m8 0h2m29 0h1m18 0h1m1 0h1m5 0h3m7 0h1m2 0h1m3 0h2m4 0h2m1 0h1m4 0h1m13 0h2m2 0h1m16 0h1m2 0h1m15 0h1m2 0h2m6 0h1m4 0h1m8 0h1m1 0h1m8 0h1m7 0h1m12 0h1m7 0h1m8 0h1m5 0h1m5 0h1m13 0h1m2 0h1m7 0h1m12 0h1m8 0h1m2 0h1m9 0h2m1 0h1m6 0h1m37 0h1m11 0h1m33 0h1m18 0h1m11 0h5m29 0h1m7 0h1m1 0h1m1 0h1m3 0h2m3 0h1m5 0h1m19 0h1m2 0h1m2 0h3m2 0h1m27 0h1m22 0h3M173 895.5h1m18 0h1m7 0h1m7 0h1m1 0h1m7 0h1m3 0h2m16 0h2m3 0h1m7 0h1m10 0h1m5 0h1m20 0h1m21 0h1m23 0h1m9 0h1m17 0h1m10 0h1m18 0h1m3 0h2m7 0h2m4 0h2m11 0h4m4 0h3m7 0h1m2 0h1m18 0h1m11 0h2m8 0h1m25 0h1m13 0h1m11 0h1m11 0h1m4 0h2m12 0h1m8 0h1m15 0h1m42 0h1m9 0h1m9 0h2m32 0h1m7 0h1m10 0h1m7 0h1m13 0h2m2 0h1m10 0h1m15 0h2m18 0h1m2 0h1m5 0h1m1 0h1m2 0h2m1 0h1m32 0h1m10 0h2m1 0h1m5 0h2m1 0h1m9 0h2m12 0h1m16 0h1m13 0h1m1 0h1m22 0h3m4 0h1m1 0h1m7 0h1M197 914.5h2m8 0h1m1 0h1m17 0h1m12 0h2m12 0h1m2 0h1m1 0h2m7 0h2m6 0h1m3 0h1m34 0h2m4 0h1m23 0h1m8 0h1m13 0h2m4 0h2m17 0h2m6 0h1m4 0h1m3 0h1m16 0h2m6 0h1m7 0h1m7 0h1m2 0h1m17 0h1m6 0h1m2 0h1m9 0h2m23 0h2m6 0h1m15 0h1m4 0h1m4 0h1m17 0h1m13 0h1m1 0h1m3 0h1m5 0h2m6 0h1m18 0h1m18 0h1m22 0h1m13 0h1m30 0h1m10 0h1m8 0h1m1 0h1m14 0h1m1 0h1m1 0h1m3 0h2m10 0h1m15 0h2m1 0h1m27 0h3m9 0h2m7 0h1m9 0h1m6 0h1m16 0h1m4 0h1m36 0h1m16 0h1m36 0h1M184 933.5h2m2 0h1m7 0h1m1 0h1m4 0h2m41 0h1m55 0h1m1 0h1m13 0h1m2 0h1m15 0h1m1 0h1m5 0h1m5 0h1m15 0h1m22 0h3m8 0h2m2 0h2m10 0h1m2 0h1m13 0h1m8 0h1m30 0h2m9 0h1m28 0h1m1 0h1m12 0h1m30 0h1m8 0h1m6 0h2m12 0h2m1 0h1m14 0h2m1 0h1m9 0h1m9 0h1m15 0h2m2 0h2m2 0h1m3 0h3m3 0h1m9 0h1m2 0h1m9 0h2m6 0h1m14 0h1m14 0h2m9 0h1m28 0h1m21 0h1m35 0h2m24 0h1m21 0h1m7 0h2m2 0h2m19 0h2m3 0h1m46 0h1m9 0h1M284 952.5h1m4 0h1m87 0h1m10 0h1m74 0h1m135 0h1m51 0h2m16 0h1m54 0h2m21 0h1m65 0h1m3 0h1m9 0h1M267 961.5h1m34 0h1m128 0h1m14 0h2m54 0h2m77 0h1m68 0h1m56 0h3m37 0h2m73 0h1"/>
<path stroke="#ffbc00" stroke-width="10" d="M294 75h1m13 0h1m41 0h1m159 0h1m12 0h1m83 0h1m69 0h1m4 0h1m4 0h1m94 0h2m103 0h1M295 94h1m177 0h1m12 0h1m138 0h1m190 0h1m117 0h1M317 122h1m149 0h1m51 0h1m245 0h2M305 141h1m55 0h1m403 0h2m24 0h2m82 0h3M210 160h1m44 0h1m44 0h2m84 0h1m7 0h1m57 0h1m2 0h2m121 0h1m187 0h1m112 0h1m10 0h1M327 179h1m22 0h1m61 0h2m84 0h2m78 0h1m121 0h2m49 0h1m61 0h1m130 0h2M219 207h1m10 0h1m62 0h1m20 0h3m3 0h1m6 0h1m104 0h1m101 0h1m19 0h1m2 0h1m3 0h1m84 0h1m175 0h1m82 0h1m11 0h1m41 0h2M180 226h1m2 0h1m5 0h1m2 0h1m6 0h2m2 0h2m7 0h4m26 0h1m1 0h1m9 0h1m4 0h2m6 0h3m4 0h2m7 0h1m2 0h1m5 0h1m7 0h1m5 0h2m1 0h1m13 0h1m8 0h1m8 0h1m8 0h1m6 0h1m21 0h1m4 0h2m19 0h1m1 0h3m3 0h1m17 0h1m8 0h1m5 0h2m13 0h1m10 0h1m4 0h2m8 0h2m13 0h2m13 0h1m27 0h1m7 0h1m24 0h2m41 0h1m5 0h1m4 0h2m6 0h1m5 0h1m15 0h2m45 0h1m5 0h1m8 0h1m10 0h2m11 0h1m10 0h2m5 0h1m36 0h1m8 0h2m9 0h1m2 0h1m10 0h1m6 0h1m2 0h2m7 0h2m43 0h1m4 0h1m18 0h1m18 0h1m5 0h2m1 0h1m2 0h1m1 0h1m7 0h1M180 245h1m38 0h1m10 0h1m21 0h1m4 0h1m5 0h1m16 0h1m5 0h1m11 0h1m41 0h1m14 0h1m15 0h2m10 0h1m1 0h1m17 0h1m3 0h1m15 0h1m16 0h1m16 0h1m5 0h1m7 0h1m9 0h1m4 0h1m7 0h1m25 0h2m2 0h1m25 0h1m9 0h1m2 0h1m15 0h1m4 0h1m12 0h1m19 0h1m8 0h1m12 0h1m15 0h1m26 0h1m32 0h1m12 0h1m18 0h1m12 0h1M182 273h1m7 0h1m39 0h1m6 0h1m11 0h1m23 0h1m4 0h2m6 0h4m13 0h1m27 0h1m4 0h1m40 0h1m4 0h1m24 0h1m17 0h1m8 0h1m4 0h1m3 0h1m22 0h1m13 0h1m13 0h1m5 0h1m3 0h1m2 0h1m18 0h1m3 0h2m16 0h2m15 0h1m12 0h3m3 0h1m9 0h1m12 0h1m4 0h1m9 0h1m8 0h1m19 0h2m28 0h1m11 0h1m7 0h1m182 0h2M174 292h1m82 0h1m7 0h1m16 0h1m6 0h1m2 0h1m8 0h2m10 0h1m1 0h3m8 0h1m20 0h1m3 0h3m15 0h1m32 0h2m32 0h2m2 0h1m20 0h1m29 0h1m10 0h3m12 0h1m34 0h1m17 0h2m16 0h1m31 0h1m7 0h1m13 0h2m132 0h1M175 311h2m21 0h1m21 0h1m8 0h1m33 0h2m12 0h1m28 0h2m20 0h2m12 0h1m21 0h1m10 0h1m31 0h3m2 0h2m6 0h1m6 0h3m8 0h1m11 0h1m7 0h1m37 0h3m12 0h2m39 0h1m22 0h1m12 0h1m21 0h1m10 0h1m6 0h2m19 0h2m5 0h1m69 0h2m22 0h1m52 0h1M219 339h2m8 0h1m55 0h1m26 0h1m10 0h1m27 0h1m8 0h1m1 0h2m31 0h1m19 0h1m13 0h1m8 0h1m33 0h2m7 0h1m27 0h1m10 0h2m1 0h1m38 0h1m18 0h1m19 0h1m14 0h1m2 0h1m39 0h1m24 0h1m110 0h1M175 358h2m4 0h2m29 0h2m5 0h1m46 0h1m27 0h1m14 0h1m5 0h2m6 0h1m2 0h1m1 0h1m2 0h1m48 0h2m2 0h1m2 0h1m4 0h2m10 0h1m17 0h1m27 0h1m13 0h2m5 0h1m18 0h1m4 0h1m12 0h1m5 0h1m49 0h1m1 0h1m7 0h1m11 0h2m23 0h1m7 0h1m18 0h1m10 0h1m27 0h1m3 0h1m33 0h1m17 0h1M180 377h2m20 0h3m12 0h1m10 0h1m8 0h1m5 0h1m6 0h2m16 0h2m1 0h1m5 0h1m32 0h1m17 0h1m9 0h2m20 0h1m9 0h3m2 0h1m1 0h1m2 0h2m15 0h1m4 0h1m1 0h1m1 0h1m1 0h2m21 0h1m22 0h1m7 0h1m7 0h1m25 0h1m29 0h1m15 0h1m5 0h2m15 0h2m3 0h1m11 0h1m7 0h1m11 0h1m3 0h1m37 0h1m5 0h1m4 0h1m4 0h2m17 0h3m14 0h2m17 0h3m5 0h1m1 0h1m32 0h1m15 0h1m6 0h1m28 0h2m2 0h1m1 0h1m7 0h1m7 0h1m11 0h5m10 0h1m19 0h1m7 0h1m21 0h1m17 0h1m9 0h1m4 0h1m5 0h2m11 0h4m1 0h1M181 405h1m21 0h2m7 0h2m28 0h1m9 0h1m11 0h1m3 0h2m11 0h1m20 0h1m23 0h1m6 0h1m2 0h1m5 0h1m8 0h1m13 0h1m1 0h1m8 0h1m2 0h1m7 0h2m7 0h1m25 0h1m15 0h1m2 0h1m10 0h1m13 0h1m3 0h1m6 0h1m7 0h2m4 0h1m5 0h1m6 0h1m4 0h1m23 0h2m1 0h1m20 0h1m13 0h1m42 0h2m1 0h1m7 0h1m3 0h1m21 0h2m10 0h2m10 0h1m1 0h1m9 0h1m12 0h1m11 0h1m12 0h1m4 0h2m7 0h1m2 0h1m43 0h2m5 0h1m3 0h1m26 0h1m5 0h1m5 0h1m9 0h1m6 0h2m18 0h1m13 0h1m3 0h1m9 0h1m13 0h1m15 0h3m1 0h1m19 0h1m2 0h1m3 0h1M174 443h1m13 0h1m5 0h2m5 0h1m1 0h3m13 0h1m24 0h1m4 0h1m2 0h1m6 0h2m1 0h1m1 0h1m21 0h4m9 0h2m13 0h1m12 0h1m12 0h1m6 0h1m16 0h1m20 0h1m7 0h1m5 0h3m4 0h2m23 0h1m13 0h1m14 0h1m12 0h1m2 0h1m6 0h2m2 0h1m1 0h1m6 0h1m7 0h1m10 0h2m1 0h1m7 0h1m18 0h1m6 0h1m23 0h2m7 0h1m15 0h1m20 0h1m5 0h1m10 0h1m20 0h2m12 0h1m12 0h1m8 0h1m21 0h4m3 0h1m6 0h1m10 0h1m2 0h2m24 0h2m5 0h1m4 0h1m2 0h1m10 0h1m5 0h1m19 0h1m5 0h2m1 0h1m15 0h1m4 0h1m10 0h3m3 0h1m1 0h4m2 0h1m1 0h1m20 0h1m36 0h3m16 0h3m7 0h2M175 462h3m14 0h1m8 0h2m24 0h1m1 0h1m22 0h1m15 0h2m5 0h1m15 0h1m14 0h2m6 0h1m3 0h1m1 0h2m6 0h1m21 0h1m4 0h1m5 0h1m4 0h2m12 0h2m25 0h1m7 0h1m5 0h1m3 0h1m4 0h1m13 0h1m7 0h1m17 0h1m9 0h2m44 0h1m10 0h1m18 0h1m33 0h1m26 0h1m10 0h1m5 0h1m18 0h1m3 0h1m5 0h1m18 0h1m7 0h1m13 0h1m10 0h1m9 0h1m8 0h1m32 0h1m19 0h1m1 0h1m13 0h2m7 0h1m23 0h1m13 0h1m10 0h1m3 0h1m2 0h1m3 0h3m19 0h2m10 0h1m22 0h2m7 0h1m9 0h1M173 490h1m1 0h2m15 0h1m12 0h1m6 0h2m2 0h1m4 0h1m3 0h1m3 0h1m8 0h1m10 0h1m22 0h1m12 0h2m3 0h1m4 0h1m6 0h1m3 0h2m9 0h1m5 0h1m23 0h1m7 0h1m2 0h1m37 0h1m10 0h1m2 0h1m21 0h1m3 0h2m14 0h1m25 0h2m5 0h1m1 0h1m10 0h2m19 0h1m2 0h1m1 0h1m20 0h1m16 0h1m27 0h1m22 0h5m19 0h2m2 0h1m6 0h1m18 0h2m19 0h2m4 0h1m11 0h1m13 0h1m7 0h2m2 0h1m7 0h3m22 0h1m5 0h1m2 0h1m3 0h1m15 0h1m1 0h1m21 0h1m4 0h1m2 0h2m9 0h1m32 0h1m19 0h1m3 0h2m9 0h2m3 0h2m6 0h1m2 0h1m4 0h1m17 0h1m16 0h1m1 0h2m1 0h1m3 0h2M175 509h3m11 0h1m2 0h1m10 0h2m17 0h3m9 0h1m26 0h1m5 0h1m2 0h1m14 0h1m1 0h2m1 0h3m48 0h1m6 0h1m1 0h1m7 0h1m1 0h1m1 0h2m6 0h1m24 0h1m7 0h1m9 0h2m2 0h1m5 0h1m6 0h1m23 0h1m12 0h1m9 0h1m2 0h1m10 0h3m23 0h1m10 0h1m6 0h1m3 0h2m1 0h1m17 0h1m3 0h1m2 0h2m5 0h1m29 0h4m1 0h1m16 0h1m7 0h1m9 0h1m11 0h2m37 0h2m7 0h1m11 0h2m17 0h2m5 0h1m15 0h1m25 0h1m11 0h1m2 0h1m14 0h1m10 0h1m4 0h1m5 0h1m4 0h1m36 0h1m9 0h1m1 0h1m12 0h3m10 0h1m3 0h1m16 0h1m10 0h2m11 0h1M187 575h1m6 0h3m5 0h4m10 0h1m1 0h1m12 0h2m16 0h3m6 0h1m32 0h1m2 0h1m5 0h2m19 0h1m1 0h1m2 0h1m4 0h1m9 0h1m3 0h1m30 0h1m2 0h1m14 0h1m8 0h1m1 0h1m30 0h2m5 0h1m18 0h1m22 0h2m2 0h2m4 0h1m15 0h2m12 0h1m2 0h1m25 0h1m2 0h1m25 0h1m11 0h2m12 0h2m6 0h1m24 0h2m10 0h1m30 0h1m28 0h1m13 0h1m2 0h1m6 0h1m5 0h2m2 0h1m51 0h2m5 0h1m9 0h1m13 0h1m23 0h1m8 0h1m16 0h2m11 0h2m6 0h1m17 0h1m7 0h1m23 0h1m17 0h2M182 594h1m1 0h2m1 0h1m1 0h1m11 0h1m3 0h1m4 0h1m3 0h1m16 0h2m2 0h1m9 0h1m1 0h1m15 0h1m9 0h1m9 0h2m4 0h1m23 0h1m13 0h1m8 0h1m5 0h1m22 0h2m8 0h1m3 0h1m8 0h2m3 0h1m17 0h1m3 0h1m9 0h1m45 0h1m1 0h1m13 0h1m3 0h1m21 0h1m33 0h1m2 0h1m5 0h1m9 0h1m2 0h1m1 0h1m2 0h1m3 0h1m13 0h1m2 0h2m25 0h1m17 0h1m8 0h1m3 0h1m3 0h1m1 0h1m23 0h1m3 0h3m5 0h1m1 0h1m3 0h2m11 0h1m7 0h1m3 0h2m19 0h2m1 0h1m3 0h3m4 0h1m3 0h1m1 0h2m8 0h2m12 0h2m1 0h1m10 0h2m7 0h1m36 0h4m27 0h1m15 0h1m12 0h1m6 0h1m21 0h2m4 0h2m7 0h1M174 622h1m22 0h1m7 0h1m10 0h1m4 0h1m22 0h1m11 0h1m7 0h1m9 0h1m5 0h1m4 0h1m8 0h1m4 0h1m18 0h1m3 0h1m15 0h1m1 0h1m18 0h1m7 0h1m7 0h1m9 0h2m11 0h1m17 0h1m10 0h4m2 0h1m27 0h1m9 0h1m13 0h1m13 0h1m13 0h1m2 0h1m17 0h1m2 0h1m15 0h1m1 0h1m8 0h2m9 0h1m5 0h1m25 0h1m19 0h1m7 0h2m1 0h1m15 0h2m1 0h2m3 0h1m12 0h2m6 0h1m1 0h1m10 0h1m15 0h3m11 0h2m10 0h2m8 0h1m1 0h1m2 0h3m11 0h1m4 0h2m25 0h1m15 0h1m3 0h3m2 0h1m10 0h2m1 0h3m9 0h1m7 0h1m39 0h1m18 0h1m20 0h4m4 0h2m5 0h1m5 0h2M179 641h1m2 0h1m3 0h2m5 0h1m15 0h1m11 0h1m17 0h1m6 0h1m7 0h1m1 0h3m26 0h1m1 0h5m8 0h2m6 0h1m2 0h1m1 0h5m5 0h4m27 0h1m3 0h1m7 0h1m1 0h1m15 0h1m10 0h1m11 0h1m5 0h1m17 0h1m6 0h1m5 0h1m24 0h1m3 0h1m76 0h1m1 0h1m7 0h1m2 0h1m3 0h2m3 0h1m20 0h1m4 0h1m5 0h2m19 0h1m1 0h1m13 0h1m5 0h1m3 0h2m2 0h1m19 0h1m3 0h2m39 0h1m1 0h1m5 0h1m11 0h1m1 0h1m13 0h1m2 0h1m25 0h1m7 0h2m2 0h1m5 0h1m8 0h1m22 0h1m5 0h1m7 0h1m2 0h1m11 0h2m2 0h1m4 0h1m28 0h3m6 0h1m4 0h1m1 0h1m1 0h1m1 0h2m10 0h1m4 0h1m15 0h2m5 0h2M173 688h1m6 0h1m5 0h1m7 0h3m9 0h1m4 0h1m6 0h1m20 0h1m17 0h2m2 0h1m1 0h1m32 0h2m3 0h1m1 0h1m8 0h2m5 0h1m6 0h1m1 0h2m15 0h1m8 0h1m12 0h1m9 0h1m2 0h2m7 0h1m2 0h3m12 0h1m7 0h2m3 0h1m5 0h1m25 0h1m8 0h2m14 0h1m12 0h2m2 0h3m11 0h1m6 0h1m6 0h1m2 0h1m7 0h1m2 0h2m8 0h1m18 0h1m3 0h1m12 0h1m36 0h1m5 0h1m19 0h1m2 0h1m2 0h3m14 0h2m4 0h1m2 0h1m4 0h1m18 0h1m1 0h1m7 0h1m13 0h3m21 0h1m4 0h2m1 0h1m2 0h1m1 0h1m3 0h1m11 0h1m15 0h2m1 0h1m4 0h1m4 0h1m8 0h1m10 0h1m2 0h1m16 0h2m4 0h1m25 0h1m9 0h1m6 0h1m19 0h1m4 0h1m33 0h1m1 0h1M183 707h1m8 0h2m11 0h1m1 0h1m6 0h1m25 0h2m15 0h1m5 0h1m2 0h1m22 0h2m1 0h1m12 0h1m6 0h1m6 0h1m8 0h1m1 0h1m5 0h1m2 0h1m2 0h1m23 0h1m6 0h1m9 0h1m11 0h2m7 0h3m3 0h1m1 0h1m9 0h2m6 0h1m38 0h1m9 0h1m5 0h2m8 0h1m3 0h1m8 0h1m4 0h1m1 0h1m8 0h1m11 0h1m2 0h2m19 0h1m10 0h1m3 0h1m6 0h1m2 0h1m4 0h2m8 0h1m7 0h1m16 0h1m2 0h1m8 0h2m2 0h1m4 0h1m2 0h2m15 0h1m1 0h1m26 0h1m10 0h4m2 0h1m5 0h1m3 0h1m3 0h3m50 0h1m11 0h3m20 0h1m6 0h1m10 0h1m4 0h1m3 0h1m1 0h1m17 0h1m16 0h1m3 0h1m1 0h2m4 0h1m2 0h1m3 0h2m3 0h1m2 0h1m3 0h1m15 0h1m26 0h1m1 0h2m5 0h1m1 0h1M174 726h3m14 0h1m4 0h1m8 0h1m4 0h1m5 0h1m12 0h1m17 0h1m17 0h1m9 0h1m11 0h3m4 0h2m17 0h1m23 0h1m11 0h1m4 0h1m7 0h2m40 0h1m3 0h3m3 0h1m12 0h2m1 0h1m12 0h1m42 0h1m5 0h3m1 0h1m13 0h3m3 0h1m19 0h1m15 0h1m4 0h1m5 0h1m25 0h2m4 0h2m4 0h1m24 0h1m2 0h1m23 0h1m8 0h1m7 0h2m4 0h1m10 0h1m3 0h2m8 0h1m3 0h5m2 0h2m18 0h1m6 0h1m1 0h1m2 0h2m1 0h1m3 0h1m1 0h1m4 0h1m1 0h1m4 0h1m15 0h1m34 0h1m26 0h1m6 0h1m4 0h1m2 0h1m10 0h1m12 0h1m5 0h2m3 0h1m6 0h1m6 0h1m1 0h1m4 0h1m4 0h1m5 0h1m2 0h1m6 0h1m3 0h1m10 0h2m2 0h1m10 0h1m4 0h2M177 792h1m1 0h1m8 0h1m3 0h1m7 0h1m2 0h3m20 0h1m34 0h1m21 0h1m1 0h1m6 0h1m5 0h1m9 0h2m1 0h1m10 0h1m1 0h2m16 0h1m22 0h1m8 0h1m3 0h1m5 0h1m4 0h1m7 0h1m13 0h1m15 0h2m9 0h1m11 0h1m9 0h1m1 0h1m7 0h1m1 0h1m3 0h2m50 0h2m2 0h2m1 0h1m15 0h1m1 0h1m13 0h2m28 0h1m16 0h3m6 0h2m5 0h1m9 0h1m7 0h1m14 0h1m1 0h3m1 0h3m3 0h3m8 0h1m3 0h1m1 0h1m17 0h2m12 0h1m22 0h1m1 0h1m7 0h1m8 0h1m2 0h1m2 0h2m6 0h1m13 0h1m5 0h2m19 0h1m12 0h1m1 0h1m14 0h1m3 0h1m6 0h2m1 0h1m4 0h1m7 0h1m7 0h1m2 0h1m46 0h1m1 0h1m7 0h1m7 0h2m9 0h1M178 811h1m11 0h1m8 0h1m15 0h1m2 0h1m10 0h1m16 0h1m3 0h2m9 0h2m14 0h3m1 0h1m2 0h1m5 0h1m20 0h1m28 0h1m4 0h1m5 0h1m8 0h1m5 0h2m5 0h1m2 0h1m1 0h1m5 0h2m1 0h1m2 0h2m2 0h2m2 0h1m8 0h1m4 0h1m3 0h1m13 0h1m15 0h2m12 0h1m35 0h1m8 0h2m18 0h1m6 0h1m3 0h1m1 0h1m15 0h1m5 0h1m5 0h1m6 0h1m2 0h2m16 0h1m6 0h2m10 0h1m2 0h1m2 0h1m1 0h1m3 0h1m15 0h1m11 0h1m4 0h1m1 0h2m2 0h1m14 0h2m19 0h1m32 0h1m1 0h2m2 0h1m1 0h1m12 0h2m1 0h3m2 0h1m7 0h1m16 0h1m52 0h1m2 0h1m2 0h1m36 0h1m6 0h2m10 0h4m3 0h1m16 0h1m1 0h1m13 0h1m9 0h1m4 0h1M181 839h1m5 0h1m1 0h1m7 0h1m12 0h1m24 0h2m2 0h1m30 0h1m2 0h2m19 0h1m43 0h1m3 0h1m3 0h1m9 0h1m16 0h1m37 0h2m2 0h1m8 0h1m11 0h2m8 0h2m4 0h1m6 0h1m6 0h1m18 0h1m2 0h1m16 0h1m1 0h1m34 0h1m24 0h2m15 0h1m32 0h1m12 0h1m8 0h1m2 0h2m18 0h1m15 0h1m7 0h1m6 0h1m29 0h1m65 0h1m4 0h1m10 0h1m18 0h1m3 0h3m9 0h1m23 0h1m19 0h2m10 0h1m2 0h2m18 0h1M177 858h1m9 0h2m13 0h3m10 0h1m41 0h1m10 0h2m38 0h1m8 0h1m13 0h2m3 0h2m4 0h1m17 0h1m4 0h1m10 0h1m1 0h1m6 0h1m18 0h1m11 0h2m7 0h1m16 0h1m17 0h2m25 0h1m1 0h1m17 0h1m14 0h1m2 0h1m9 0h2m33 0h1m9 0h1m17 0h1m18 0h1m2 0h1m14 0h1m2 0h1m8 0h1m3 0h2m15 0h1m40 0h1m5 0h1m13 0h1m9 0h2m1 0h2m19 0h2m34 0h1m26 0h1m14 0h2m38 0h1m2 0h2m15 0h2m8 0h1m10 0h2m5 0h1m23 0h2m11 0h1M180 877h1m17 0h1m2 0h1m9 0h4m3 0h1m29 0h1m24 0h1m12 0h1m4 0h1m11 0h1m13 0h1m12 0h2m20 0h2m10 0h1m11 0h1m59 0h2m6 0h1m29 0h2m5 0h1m18 0h1m10 0h2m2 0h1m12 0h1m9 0h1m7 0h1m5 0h1m16 0h1m8 0h1m15 0h1m31 0h1m8 0h1m8 0h1m3 0h1m30 0h2m16 0h1m8 0h4m2 0h4m13 0h1m1 0h1m8 0h1m5 0h1m3 0h1m5 0h1m13 0h1m4 0h2m16 0h1m4 0h1m1 0h2m5 0h1m7 0h2m1 0h1m7 0h1m3 0h1m2 0h1m4 0h2m9 0h1m6 0h2m13 0h1m11 0h1m14 0h4m19 0h1m8 0h3m13 0h2m2 0h2M173 905h2m6 0h1m9 0h1m8 0h1m7 0h1m31 0h2m4 0h1m25 0h1m5 0h2m10 0h1m1 0h2m6 0h2m7 0h1m4 0h3m2 0h2m8 0h1m12 0h3m3 0h1m2 0h3m1 0h1m1 0h1m17 0h1m9 0h1m6 0h1m10 0h1m19 0h1m11 0h1m31 0h1m21 0h1m12 0h2m7 0h2m1 0h1m20 0h1m7 0h1m6 0h1m1 0h1m4 0h1m69 0h2m46 0h1m10 0h4m21 0h1m19 0h1m22 0h2m4 0h2m10 0h2m8 0h2m2 0h2m15 0h1m22 0h1m4 0h1m1 0h1m1 0h1m6 0h1m4 0h2m1 0h1m1 0h1m1 0h2m4 0h2m1 0h1m28 0h1m13 0h1m10 0h1m13 0h3m8 0h1M189 924h1m12 0h1m2 0h1m13 0h2m17 0h1m8 0h1m13 0h1m2 0h2m2 0h2m2 0h2m3 0h1m23 0h1m11 0h1m3 0h1m11 0h1m7 0h2m16 0h2m11 0h1m42 0h2m11 0h1m13 0h1m18 0h2m3 0h2m27 0h1m13 0h1m12 0h1m33 0h1m10 0h1m26 0h1m21 0h1m6 0h1m8 0h1m12 0h3m10 0h1m21 0h1m91 0h2m1 0h1m54 0h1m8 0h1m8 0h1m45 0h1m15 0h1m21 0h1m2 0h2m25 0h1m3 0h1M175 943h2m23 0h1m15 0h1m60 0h3m156 0h2m13 0h1m25 0h1m44 0h1m25 0h2m8 0h2m93 0h2m69 0h1m27 0h2m133 0h1m2 0h1"/>
<path stroke="#ffbc00" stroke-width="11" d="M242 971.5h1m571 0h2m57 0h2"/>
<path stroke="#ffad00" stroke-width="9" d="M217 65.5h1m251 0h1m476 0h1M886 84.5h1m53 0h2M507 103.5h1m450 0h1M527 112.5h1M173 131.5h1m63 0h1m214 0h1m6 0h1m114 0h1m62 0h2m21 0h2m104 0h2M762 150.5h1M311 169.5h1m211 0h2m253 0h1m157 0h1M457 188.5h1M276 197.5h2m296 0h1M173 216.5h1m17 0h1m2 0h2m14 0h1m4 0h1m11 0h2m11 0h2m20 0h1m9 0h1m3 0h1m5 0h1m3 0h3m15 0h2m20 0h1m1 0h2m3 0h1m4 0h1m13 0h2m4 0h2m7 0h1m33 0h1m2 0h1m8 0h1m21 0h1m10 0h3m24 0h1m14 0h1m6 0h1m3 0h1m6 0h1m2 0h1m26 0h1m5 0h1m1 0h1m21 0h1m2 0h2m15 0h2m5 0h1m1 0h2m13 0h1m27 0h1m11 0h1m8 0h3m4 0h1m30 0h1m4 0h1m27 0h2m2 0h3m2 0h2m36 0h2m3 0h2m24 0h1m1 0h2m5 0h1m6 0h2m5 0h1m34 0h3m13 0h1m28 0h1m13 0h2m13 0h2m16 0h1m3 0h1m4 0h5M179 235.5h1m18 0h1m7 0h1m31 0h2m8 0h1m1 0h3m14 0h3m11 0h1m55 0h1m12 0h1m8 0h1m1 0h3m4 0h1m2 0h3m20 0h1m36 0h2m1 0h1m6 0h1m11 0h1m17 0h1m4 0h2m1 0h1m19 0h1m36 0h1m21 0h2m40 0h1m33 0h2m39 0h1m9 0h2m13 0h1m14 0h1m2 0h1m4 0h1m10 0h1m21 0h1m8 0h1m4 0h1m3 0h1m27 0h1m2 0h1m8 0h1m22 0h1m4 0h1m7 0h1m9 0h2m18 0h1m3 0h2m1 0h1m73 0h1m3 0h1M210 254.5h1m5 0h1m2 0h1m32 0h1m19 0h1m11 0h1m1 0h1m9 0h2m2 0h1m5 0h2m26 0h2m4 0h2m18 0h1m1 0h2m9 0h1m11 0h1m11 0h1m10 0h2m3 0h1m12 0h1m5 0h1m20 0h1m8 0h1m5 0h1m5 0h2m1 0h1m1 0h2m17 0h1m21 0h2m26 0h2m14 0h1m5 0h1m38 0h1m24 0h1m13 0h1m23 0h1m12 0h1m6 0h1m14 0h2m21 0h1m205 0h1M201 263.5h1m7 0h1m6 0h1m11 0h1m10 0h1m9 0h1m12 0h1m18 0h1m30 0h1m7 0h1m5 0h2m6 0h2m4 0h2m1 0h2m3 0h1m26 0h1m7 0h1m28 0h1m18 0h3m6 0h1m12 0h1m9 0h1m3 0h1m6 0h2m4 0h1m11 0h2m2 0h1m7 0h1m1 0h2m1 0h1m6 0h3m32 0h1m5 0h3m5 0h1m13 0h1m19 0h1m20 0h1m35 0h1m54 0h1m29 0h2M201 282.5h1m5 0h1m8 0h1m16 0h1m27 0h1m6 0h3m4 0h2m3 0h1m30 0h1m6 0h1m8 0h1m2 0h1m17 0h1m22 0h2m3 0h1m25 0h1m2 0h1m15 0h1m17 0h2m25 0h2m10 0h1m16 0h1m5 0h1m12 0h1m54 0h1m31 0h1m16 0h1m17 0h1m11 0h1m51 0h1m5 0h1m12 0h1M181 301.5h1m34 0h1m22 0h1m4 0h1m39 0h1m6 0h1m25 0h1m25 0h2m2 0h1m1 0h1m12 0h3m24 0h1m3 0h1m13 0h1m9 0h1m3 0h1m1 0h1m21 0h4m18 0h3m4 0h2m3 0h1m8 0h1m16 0h1m5 0h2m11 0h1m33 0h2m23 0h2m3 0h1m14 0h3m20 0h1m68 0h1m37 0h1m1 0h2M200 320.5h1m16 0h1m8 0h1m34 0h1m52 0h1m47 0h2m16 0h2m15 0h1m19 0h1m23 0h2m3 0h2m2 0h1m21 0h1m3 0h1m10 0h1m3 0h1m12 0h1m2 0h1m1 0h1m9 0h1m2 0h1m22 0h1m12 0h3m11 0h1m20 0h1m12 0h1m7 0h2m60 0h1m20 0h1M202 329.5h1m8 0h1m16 0h1m5 0h1m9 0h1m8 0h1m7 0h1m13 0h1m7 0h1m30 0h1m3 0h1m7 0h1m13 0h1m1 0h1m6 0h1m8 0h2m23 0h1m27 0h1m13 0h1m13 0h2m12 0h1m5 0h1m3 0h3m17 0h2m15 0h1m4 0h1m31 0h1m16 0h1m15 0h1m12 0h1m2 0h2m16 0h2m31 0h1m1 0h2m18 0h1m7 0h1m8 0h1m15 0h1m4 0h1m42 0h1M180 348.5h1m6 0h1m1 0h3m5 0h2m39 0h1m5 0h1m3 0h1m42 0h1m29 0h1m7 0h1m35 0h1m30 0h1m6 0h1m16 0h1m6 0h2m1 0h2m34 0h1m2 0h1m41 0h2m7 0h2m8 0h2m10 0h1m36 0h1m12 0h1m2 0h2m1 0h1m12 0h1m2 0h2m12 0h1m3 0h2m5 0h1m26 0h1m3 0h2m4 0h1m5 0h1m77 0h1m34 0h1M173 367.5h1m18 0h1m8 0h1m26 0h1m7 0h1m3 0h4m3 0h1m8 0h3m3 0h1m5 0h2m21 0h1m9 0h1m9 0h1m22 0h2m1 0h1m13 0h1m3 0h1m10 0h2m22 0h2m3 0h2m6 0h1m51 0h2m6 0h1m7 0h1m1 0h1m7 0h1m24 0h1m8 0h1m8 0h1m11 0h1m9 0h1m13 0h1m2 0h1m7 0h1m1 0h1m6 0h1m11 0h1m17 0h1m16 0h1m10 0h1m6 0h2m6 0h1m5 0h1m7 0h1m7 0h1m10 0h1m4 0h1m19 0h1m31 0h1m19 0h2m12 0h1m21 0h1m5 0h1m2 0h1m16 0h1m21 0h2m5 0h1m6 0h1m20 0h2m14 0h2m15 0h1m14 0h1m24 0h1m9 0h1M178 386.5h1m7 0h2m3 0h1m10 0h1m27 0h1m6 0h1m8 0h1m5 0h1m3 0h1m8 0h1m6 0h1m3 0h1m22 0h4m3 0h2m11 0h1m3 0h3m7 0h4m13 0h1m4 0h1m17 0h1m2 0h1m9 0h1m7 0h1m17 0h1m20 0h1m8 0h2m11 0h2m2 0h2m15 0h1m4 0h1m6 0h1m11 0h1m1 0h2m12 0h2m14 0h1m12 0h1m10 0h1m12 0h1m16 0h2m9 0h1m5 0h1m2 0h1m30 0h1m2 0h1m10 0h2m12 0h1m6 0h1m5 0h1m16 0h1m23 0h1m4 0h1m12 0h1m11 0h1m24 0h1m7 0h2m4 0h1m9 0h1m3 0h1m1 0h1m7 0h1m15 0h3m12 0h1m5 0h1m1 0h1m27 0h1m12 0h4m6 0h5m22 0h1m5 0h1m6 0h2m14 0h3M211 395.5h1m15 0h1m19 0h2m3 0h2m4 0h1m11 0h2m9 0h2m4 0h3m2 0h1m5 0h1m6 0h3m28 0h1m3 0h1m1 0h1m4 0h1m12 0h1m5 0h1m12 0h1m2 0h1m42 0h1m4 0h1m2 0h1m7 0h1m9 0h1m22 0h2m9 0h1m4 0h1m15 0h1m27 0h1m3 0h1m25 0h1m37 0h2m3 0h1m9 0h1m2 0h1m7 0h3m10 0h1m2 0h1m4 0h2m14 0h1m7 0h1m4 0h1m4 0h1m9 0h1m2 0h1m5 0h1m28 0h2m23 0h2m12 0h1m33 0h2m15 0h1m3 0h2m7 0h1m10 0h1m16 0h1m1 0h1m8 0h1m20 0h2m6 0h1m14 0h1m25 0h1m1 0h2m10 0h1m4 0h2m1 0h1m4 0h2M175 414.5h2m3 0h1m39 0h1m16 0h2m6 0h1m13 0h2m12 0h1m13 0h2m2 0h1m7 0h1m21 0h1m57 0h1m7 0h1m14 0h1m3 0h1m7 0h1m29 0h1m6 0h1m20 0h1m3 0h1m6 0h2m6 0h3m1 0h1m1 0h1m1 0h1m1 0h1m23 0h1m11 0h1m12 0h2m2 0h1m19 0h2m6 0h1m5 0h1m5 0h1m6 0h1m5 0h1m40 0h2m19 0h1m5 0h1m6 0h1m1 0h2m17 0h1m11 0h1m4 0h1m2 0h2m8 0h1m37 0h1m56 0h2m12 0h1m15 0h1m9 0h1m3 0h1m53 0h1m23 0h2m5 0h2m5 0h1M173 433.5h1m10 0h2m2 0h1m5 0h2m14 0h1m7 0h2m6 0h1m20 0h1m16 0h1m52 0h1m22 0h1m21 0h3m3 0h3m6 0h1m4 0h1m2 0h1m11 0h1m9 0h1m6 0h1m8 0h1m2 0h1m2 0h1m23 0h1m1 0h2m10 0h1m13 0h1m8 0h1m19 0h1m23 0h1m1 0h2m7 0h2m23 0h1m23 0h1m71 0h1m19 0h1m34 0h1m3 0h3m23 0h1m46 0h1m9 0h1m4 0h1m13 0h1m25 0h2m6 0h1m3 0h1m7 0h5m16 0h2m6 0h1m23 0h1m1 0h1m4 0h1m1 0h1m4 0h3m4 0h1m2 0h3m1 0h2m9 0h1M175 452.5h2m19 0h1m3 0h1m25 0h1m1 0h2m10 0h2m20 0h1m5 0h2m1 0h1m18 0h3m59 0h2m1 0h3m10 0h1m25 0h1m3 0h3m13 0h1m14 0h2m26 0h1m13 0h1m1 0h3m14 0h1m6 0h2m12 0h2m2 0h1m78 0h1m14 0h2m3 0h2m42 0h1m98 0h2m44 0h1m6 0h2m7 0h3m11 0h2m2 0h3m25 0h1m25 0h2m15 0h1m15 0h1m10 0h1m8 0h1m11 0h1M175 471.5h2m1 0h1m7 0h1m14 0h2m7 0h4m5 0h1m15 0h2m8 0h1m18 0h1m6 0h1m20 0h1m15 0h1m11 0h2m14 0h1m2 0h2m1 0h1m7 0h1m39 0h2m12 0h1m8 0h1m4 0h2m10 0h1m41 0h1m17 0h2m6 0h1m8 0h1m1 0h1m4 0h1m23 0h1m4 0h2m5 0h1m13 0h2m12 0h2m5 0h1m74 0h2m20 0h1m2 0h1m5 0h1m26 0h1m30 0h1m9 0h1m34 0h2m3 0h1m23 0h1m13 0h4m8 0h1m69 0h1m34 0h1M175 480.5h2m6 0h1m7 0h1m2 0h2m29 0h1m20 0h2m1 0h3m12 0h3m33 0h1m28 0h1m22 0h4m5 0h1m5 0h2m9 0h1m6 0h1m6 0h1m2 0h1m1 0h2m17 0h1m3 0h1m21 0h1m10 0h1m3 0h1m21 0h1m1 0h1m24 0h1m2 0h1m9 0h1m17 0h1m10 0h2m7 0h1m3 0h1m23 0h1m14 0h1m18 0h1m10 0h1m4 0h1m19 0h1m7 0h2m23 0h3m10 0h2m9 0h1m3 0h2m42 0h2m24 0h1m18 0h1m7 0h1m21 0h1m16 0h1m17 0h1m18 0h1m6 0h1m5 0h3m4 0h1m23 0h1m31 0h1M188 499.5h1m8 0h1m9 0h1m9 0h1m15 0h2m3 0h1m23 0h1m9 0h1m13 0h1m36 0h1m18 0h1m4 0h1m23 0h2m6 0h1m7 0h1m16 0h1m3 0h3m20 0h1m12 0h1m3 0h1m1 0h1m6 0h4m6 0h1m10 0h1m3 0h1m18 0h1m7 0h1m20 0h2m20 0h1m16 0h2m7 0h1m3 0h1m31 0h2m12 0h1m12 0h1m32 0h1m7 0h2m1 0h3m5 0h1m19 0h1m38 0h1m12 0h1m19 0h1m4 0h1m4 0h3m16 0h1m9 0h1m1 0h2m2 0h1m3 0h2m5 0h1m16 0h1m27 0h1m12 0h1m15 0h1m9 0h1m26 0h1m6 0h3m4 0h2M175 518.5h2m2 0h1m6 0h1m4 0h1m44 0h1m10 0h1m15 0h1m4 0h2m5 0h2m35 0h1m25 0h1m10 0h1m4 0h1m5 0h1m32 0h4m15 0h1m10 0h1m19 0h1m5 0h1m7 0h1m2 0h1m12 0h1m16 0h2m22 0h2m4 0h2m2 0h3m46 0h1m6 0h1m16 0h2m77 0h1m28 0h1m26 0h1m10 0h3m30 0h1m7 0h1m40 0h1m10 0h1m4 0h1m55 0h1m50 0h1m3 0h2m4 0h1M203 537.5h2m5 0h2m5 0h1m2 0h2m2 0h1m10 0h4m1 0h2m20 0h1m12 0h2m1 0h2m43 0h1m7 0h1m1 0h1m79 0h1m8 0h1m39 0h1m3 0h1m32 0h2m12 0h1m29 0h2m13 0h2m7 0h2m6 0h1m10 0h2m3 0h1m8 0h1m41 0h2m2 0h1m19 0h2m10 0h1m24 0h1m70 0h1m4 0h1m13 0h1m9 0h1m3 0h1m29 0h1m13 0h1m4 0h2m34 0h2m23 0h2m11 0h1m9 0h2m15 0h1m12 0h2M177 546.5h2m14 0h1m8 0h1m5 0h1m58 0h1m62 0h1m11 0h1m23 0h1m4 0h2m3 0h2m15 0h1m12 0h1m31 0h1m5 0h1m22 0h1m11 0h1m19 0h1m22 0h1m2 0h1m11 0h1m17 0h1m1 0h1m5 0h1m87 0h2m50 0h1m11 0h3m12 0h1m8 0h1m7 0h2m54 0h1m1 0h1m16 0h1m15 0h2m44 0h2m15 0h4m1 0h1m4 0h1m13 0h1m31 0h1m6 0h1M178 565.5h1m9 0h1m13 0h1m9 0h2m24 0h1m34 0h1m2 0h1m9 0h3m13 0h1m8 0h1m6 0h2m18 0h1m26 0h1m3 0h1m10 0h2m3 0h1m6 0h1m11 0h1m6 0h1m11 0h1m19 0h1m1 0h1m3 0h1m4 0h1m4 0h1m20 0h1m1 0h1m2 0h2m3 0h1m3 0h1m14 0h1m4 0h1m12 0h1m5 0h2m2 0h1m4 0h1m18 0h1m5 0h2m38 0h1m1 0h1m19 0h2m84 0h1m15 0h1m43 0h1m8 0h1m3 0h3m5 0h2m1 0h1m9 0h1m48 0h1m10 0h1m24 0h2m2 0h1m3 0h1m4 0h1m14 0h2m15 0h1m3 0h1m4 0h1m4 0h2m11 0h1M178 584.5h1m1 0h1m13 0h2m5 0h1m14 0h1m2 0h1m8 0h1m7 0h1m1 0h1m4 0h1m13 0h2m6 0h1m8 0h2m2 0h3m10 0h1m1 0h1m6 0h1m1 0h1m5 0h1m20 0h1m7 0h1m3 0h1m3 0h1m5 0h1m19 0h2m2 0h1m2 0h1m24 0h2m15 0h1m2 0h1m15 0h1m38 0h1m9 0h1m31 0h3m21 0h1m2 0h1m10 0h2m11 0h1m9 0h1m25 0h1m13 0h1m14 0h2m4 0h2m4 0h1m15 0h1m41 0h1m4 0h3m14 0h1m14 0h1m46 0h3m13 0h1m19 0h1m5 0h1m2 0h2m3 0h1m10 0h1m4 0h2m8 0h2m2 0h2m22 0h2m10 0h1m5 0h2m21 0h1m1 0h1m18 0h1m4 0h1M181 603.5h1m2 0h2m3 0h1m16 0h1m3 0h1m10 0h1m8 0h1m22 0h1m8 0h1m17 0h4m11 0h1m6 0h1m17 0h1m3 0h2m12 0h1m7 0h1m2 0h2m5 0h1m1 0h1m37 0h1m11 0h2m1 0h1m1 0h1m45 0h1m1 0h1m10 0h1m6 0h1m12 0h3m1 0h1m26 0h1m4 0h1m5 0h3m16 0h1m21 0h1m12 0h1m18 0h1m1 0h1m9 0h1m8 0h2m18 0h2m6 0h1m3 0h2m4 0h1m23 0h1m7 0h2m34 0h1m3 0h1m1 0h1m7 0h2m4 0h2m2 0h1m38 0h1m27 0h3m27 0h1m2 0h1m21 0h2m25 0h2m5 0h1m9 0h1m5 0h4m2 0h2m1 0h3m3 0h1M175 631.5h2m3 0h1m11 0h2m18 0h2m6 0h1m9 0h1m6 0h1m6 0h1m21 0h2m12 0h3m29 0h1m1 0h1m2 0h1m6 0h2m13 0h2m8 0h1m2 0h2m8 0h2m14 0h2m9 0h1m9 0h2m3 0h1m30 0h3m2 0h1m13 0h1m6 0h1m5 0h1m22 0h1m14 0h1m1 0h1m2 0h1m11 0h1m42 0h1m6 0h1m10 0h1m11 0h2m17 0h3m24 0h1m2 0h1m11 0h1m11 0h1m1 0h2m39 0h1m4 0h3m6 0h1m2 0h1m8 0h1m8 0h2m2 0h1m3 0h2m2 0h1m22 0h1m16 0h1m1 0h2m3 0h1m9 0h1m3 0h2m7 0h2m1 0h2m17 0h1m13 0h1m3 0h2m23 0h3m1 0h1m5 0h3m1 0h1m3 0h1m6 0h1m26 0h1m17 0h2M188 650.5h1m5 0h2m3 0h2m9 0h1m5 0h1m16 0h2m9 0h1m7 0h1m11 0h1m18 0h1m2 0h1m4 0h2m12 0h1m21 0h1m11 0h1m5 0h1m30 0h1m7 0h2m13 0h3m1 0h1m9 0h1m7 0h1m3 0h1m6 0h1m2 0h1m3 0h1m21 0h1m8 0h1m15 0h1m7 0h1m11 0h2m6 0h2m1 0h1m18 0h3m4 0h1m2 0h1m6 0h1m4 0h3m10 0h1m7 0h1m6 0h2m4 0h1m9 0h1m1 0h2m25 0h1m3 0h1m13 0h1m16 0h1m9 0h1m9 0h1m5 0h1m21 0h1m3 0h1m24 0h1m10 0h2m37 0h1m1 0h1m21 0h1m3 0h1m9 0h1m1 0h1m7 0h2m29 0h1m16 0h2m3 0h2m9 0h1m2 0h1m8 0h2m11 0h4m5 0h1m2 0h1m5 0h1m16 0h1m2 0h2M188 669.5h1m19 0h1m3 0h2m5 0h1m6 0h1m10 0h1m15 0h1m13 0h1m22 0h1m2 0h1m6 0h2m8 0h1m4 0h2m1 0h1m5 0h3m13 0h1m13 0h1m5 0h1m26 0h1m2 0h2m9 0h1m1 0h1m12 0h1m18 0h1m25 0h1m16 0h1m3 0h1m3 0h1m4 0h1m2 0h1m9 0h1m3 0h1m2 0h2m2 0h1m3 0h1m21 0h2m7 0h1m5 0h1m4 0h1m4 0h1m2 0h1m8 0h1m5 0h1m35 0h1m11 0h2m29 0h1m5 0h1m3 0h1m8 0h1m2 0h1m4 0h1m3 0h1m3 0h2m18 0h1m3 0h2m4 0h1m6 0h2m4 0h1m7 0h1m26 0h1m1 0h1m8 0h1m6 0h1m15 0h2m13 0h1m2 0h2m4 0h2m9 0h1m10 0h3m14 0h2m4 0h1m21 0h4m14 0h1m20 0h2m10 0h1m6 0h2m2 0h1M218 678.5h1m7 0h1m1 0h1m13 0h2m5 0h1m2 0h2m5 0h2m24 0h5m1 0h1m10 0h1m12 0h2m14 0h1m1 0h1m8 0h1m16 0h2m3 0h1m4 0h1m7 0h1m5 0h1m2 0h1m9 0h1m15 0h1m10 0h6m4 0h1m5 0h1m29 0h1m9 0h2m19 0h1m17 0h1m1 0h3m13 0h1m8 0h2m8 0h1m34 0h1m9 0h1m2 0h1m2 0h1m1 0h1m8 0h1m13 0h1m13 0h1m4 0h1m44 0h1m2 0h4m22 0h1m6 0h1m27 0h1m5 0h1m2 0h2m20 0h1m9 0h2m6 0h1m3 0h1m24 0h1m8 0h3m5 0h1m5 0h1m13 0h1m11 0h2m10 0h1m6 0h2m17 0h1m2 0h2m11 0h4m26 0h2M174 697.5h1m2 0h1m11 0h1m1 0h1m6 0h1m1 0h1m17 0h2m9 0h1m5 0h1m3 0h3m2 0h1m9 0h1m18 0h1m11 0h1m7 0h1m6 0h1m9 0h1m4 0h3m9 0h1m18 0h1m4 0h1m6 0h1m2 0h1m2 0h1m1 0h1m18 0h1m3 0h1m6 0h2m6 0h1m5 0h2m15 0h2m6 0h1m7 0h1m9 0h1m1 0h2m5 0h1m3 0h2m13 0h1m6 0h1m2 0h1m4 0h1m8 0h1m3 0h1m8 0h1m1 0h2m1 0h1m3 0h1m2 0h2m13 0h1m4 0h1m1 0h1m4 0h1m2 0h1m9 0h1m26 0h1m3 0h1m4 0h2m9 0h1m4 0h1m14 0h1m19 0h1m6 0h1m16 0h1m16 0h2m1 0h1m2 0h2m4 0h1m8 0h1m2 0h1m6 0h1m8 0h1m1 0h1m12 0h1m5 0h1m18 0h1m26 0h1m4 0h2m6 0h1m21 0h1m21 0h1m14 0h1m3 0h1m17 0h1m10 0h1m5 0h1m1 0h2m22 0h1m4 0h1m1 0h3m5 0h2m6 0h1M187 716.5h1m9 0h1m10 0h1m15 0h3m13 0h2m12 0h1m12 0h1m8 0h1m9 0h1m6 0h1m6 0h1m1 0h1m3 0h2m2 0h2m33 0h1m18 0h1m1 0h1m1 0h1m1 0h1m2 0h1m15 0h3m2 0h1m3 0h1m2 0h1m2 0h1m33 0h1m16 0h2m41 0h1m11 0h1m9 0h2m2 0h1m17 0h1m4 0h1m2 0h1m3 0h1m6 0h1m1 0h1m3 0h2m15 0h1m5 0h1m6 0h1m38 0h1m12 0h1m15 0h1m6 0h1m9 0h2m17 0h2m9 0h1m8 0h1m2 0h1m63 0h1m27 0h1m23 0h1m15 0h2m12 0h2m5 0h1m12 0h1m9 0h1m10 0h1m4 0h1m11 0h2m8 0h1M180 735.5h1m3 0h2m8 0h2m2 0h2m6 0h1m14 0h3m1 0h1m2 0h1m10 0h1m4 0h1m2 0h1m7 0h1m6 0h1m31 0h2m28 0h3m9 0h1m2 0h1m17 0h1m2 0h2m3 0h1m22 0h1m4 0h2m2 0h1m19 0h1m12 0h1m2 0h1m19 0h1m5 0h1m8 0h1m12 0h1m13 0h1m13 0h1m1 0h3m19 0h1m7 0h1m2 0h1m20 0h1m1 0h3m4 0h1m16 0h1m8 0h1m26 0h1m3 0h1m3 0h1m4 0h1m19 0h2m2 0h1m5 0h2m3 0h1m2 0h1m5 0h1m2 0h3m12 0h1m20 0h1m1 0h1m9 0h2m14 0h1m1 0h1m11 0h2m1 0h1m13 0h2m13 0h1m10 0h1m36 0h1m6 0h2m1 0h1m28 0h3m1 0h2m1 0h1m17 0h2m5 0h1m17 0h1m7 0h1m5 0h1m5 0h1M173 754.5h1m4 0h2m11 0h2m4 0h1m36 0h1m4 0h1m7 0h1m8 0h1m4 0h1m3 0h1m11 0h1m7 0h1m17 0h1m10 0h1m2 0h1m6 0h3m5 0h1m16 0h1m4 0h1m1 0h1m2 0h1m28 0h1m5 0h1m1 0h1m11 0h2m24 0h2m2 0h1m2 0h1m26 0h2m3 0h1m11 0h1m5 0h1m7 0h1m1 0h1m8 0h1m8 0h3m8 0h2m4 0h1m4 0h1m9 0h1m5 0h4m40 0h1m12 0h2m2 0h1m4 0h2m28 0h1m15 0h1m2 0h1m5 0h1m5 0h2m1 0h3m5 0h1m2 0h2m2 0h1m7 0h1m21 0h2m6 0h1m17 0h1m3 0h3m3 0h1m7 0h1m61 0h2m6 0h1m19 0h3m12 0h1m23 0h1m1 0h1m11 0h1m5 0h1m1 0h1m5 0h1m6 0h2m16 0h1M179 763.5h1m18 0h2m20 0h1m18 0h3m14 0h1m18 0h1m15 0h1m4 0h2m3 0h1m15 0h1m2 0h1m15 0h1m12 0h1m14 0h1m2 0h2m1 0h1m8 0h1m2 0h2m2 0h1m3 0h2m10 0h1m1 0h1m1 0h1m17 0h1m2 0h2m16 0h1m5 0h1m2 0h1m2 0h1m4 0h4m2 0h1m4 0h1m2 0h1m13 0h1m3 0h1m4 0h1m16 0h1m19 0h1m15 0h1m13 0h1m8 0h3m10 0h2m4 0h1m5 0h1m15 0h1m1 0h1m4 0h2m5 0h1m8 0h1m1 0h1m11 0h1m3 0h1m20 0h1m14 0h1m4 0h3m4 0h1m6 0h1m12 0h1m9 0h2m2 0h1m8 0h1m4 0h1m12 0h2m16 0h2m4 0h1m24 0h1m10 0h2m4 0h2m2 0h1m1 0h3m4 0h1m10 0h3m1 0h1m41 0h3m1 0h1m14 0h1m41 0h1m3 0h1M188 782.5h1m13 0h1m13 0h2m3 0h1m7 0h2m14 0h2m1 0h1m10 0h3m2 0h1m18 0h1m33 0h2m36 0h1m3 0h2m8 0h1m1 0h3m12 0h2m25 0h1m10 0h2m1 0h2m6 0h1m5 0h1m4 0h2m6 0h1m5 0h2m1 0h1m8 0h1m3 0h1m32 0h2m13 0h1m2 0h1m17 0h1m15 0h1m2 0h3m4 0h1m3 0h1m12 0h1m17 0h1m10 0h1m13 0h1m3 0h1m10 0h1m16 0h1m43 0h2m3 0h1m6 0h1m15 0h2m5 0h2m8 0h1m8 0h1m5 0h1m4 0h2m4 0h1m7 0h1m31 0h3m11 0h2m2 0h1m1 0h2m21 0h1m30 0h1m3 0h1m2 0h1m2 0h3m7 0h2m8 0h2m1 0h1m24 0h2m15 0h1M174 801.5h1m3 0h1m2 0h2m5 0h1m7 0h1m3 0h1m1 0h3m2 0h1m3 0h1m10 0h2m5 0h1m5 0h1m19 0h1m20 0h1m3 0h2m17 0h1m5 0h1m6 0h2m7 0h1m20 0h1m5 0h1m10 0h1m8 0h2m15 0h1m64 0h1m2 0h2m4 0h1m2 0h1m18 0h1m3 0h1m12 0h1m12 0h2m2 0h1m37 0h1m47 0h1m16 0h1m13 0h2m7 0h3m1 0h1m1 0h2m15 0h1m3 0h1m25 0h1m20 0h3m22 0h1m12 0h1m15 0h1m6 0h2m10 0h1m18 0h1m1 0h1m2 0h2m7 0h1m2 0h1m11 0h1m14 0h1m1 0h1m5 0h2m47 0h1m27 0h1m1 0h1m3 0h4m1 0h2m5 0h1m2 0h1M177 820.5h1m11 0h1m1 0h1m5 0h1m9 0h1m14 0h2m2 0h3m7 0h2m10 0h2m6 0h1m1 0h1m2 0h1m4 0h1m16 0h1m2 0h1m8 0h1m26 0h1m13 0h1m18 0h1m14 0h1m24 0h1m9 0h1m8 0h1m2 0h3m10 0h1m5 0h2m6 0h2m54 0h1m16 0h1m8 0h1m8 0h1m2 0h1m2 0h1m3 0h2m3 0h1m13 0h3m6 0h1m2 0h2m11 0h1m7 0h1m20 0h1m4 0h2m14 0h1m6 0h1m1 0h1m9 0h1m10 0h1m50 0h1m8 0h1m2 0h1m38 0h1m14 0h1m6 0h1m4 0h1m31 0h1m20 0h1m39 0h1m2 0h2m16 0h2m23 0h1m6 0h1m8 0h1m4 0h1M173 829.5h1m5 0h2m3 0h2m24 0h2m8 0h1m9 0h1m8 0h3m4 0h1m9 0h1m8 0h1m2 0h2m11 0h1m44 0h1m11 0h1m25 0h1m9 0h1m20 0h1m17 0h2m11 0h3m21 0h2m2 0h1m22 0h1m1 0h1m1 0h2m17 0h1m18 0h1m9 0h1m6 0h1m11 0h2m1 0h1m31 0h1m9 0h1m1 0h2m13 0h2m2 0h2m3 0h1m17 0h1m1 0h1m14 0h1m11 0h1m7 0h1m19 0h1m17 0h1m21 0h3m23 0h1m9 0h1m10 0h1m4 0h1m10 0h1m19 0h1m6 0h1m3 0h2m2 0h3m5 0h2m3 0h1m10 0h2m4 0h1m9 0h2m10 0h2m6 0h1m14 0h1m7 0h1m8 0h1m10 0h1m10 0h2M202 848.5h1m11 0h1m10 0h1m23 0h1m26 0h1m9 0h3m84 0h1m18 0h1m104 0h1m2 0h2m3 0h1m16 0h1m6 0h3m15 0h1m9 0h5m11 0h1m48 0h1m4 0h1m18 0h1m12 0h4m31 0h2m22 0h1m12 0h1m5 0h1m34 0h2m10 0h1m4 0h1m7 0h1m11 0h1m18 0h2m6 0h1m6 0h1m11 0h1m8 0h1m41 0h1m13 0h1m4 0h1m3 0h1m1 0h2m33 0h1m3 0h2M175 867.5h3m14 0h1m1 0h2m3 0h1m12 0h2m10 0h1m4 0h1m6 0h2m5 0h3m2 0h1m18 0h1m2 0h1m4 0h1m8 0h1m43 0h2m1 0h1m5 0h2m15 0h1m5 0h1m36 0h2m19 0h3m31 0h1m1 0h1m4 0h1m12 0h1m9 0h1m8 0h1m25 0h1m9 0h2m27 0h1m10 0h2m34 0h1m78 0h1m2 0h2m72 0h1m1 0h1m5 0h2m1 0h1m13 0h1m20 0h1m26 0h1m2 0h1m8 0h1m1 0h1m12 0h1m17 0h1m30 0h1M184 886.5h2m13 0h2m9 0h1m37 0h1m6 0h1m2 0h1m6 0h1m4 0h1m11 0h1m17 0h1m5 0h2m13 0h2m6 0h2m55 0h1m21 0h2m24 0h1m18 0h1m14 0h1m2 0h2m14 0h1m19 0h2m21 0h2m6 0h3m9 0h1m1 0h1m9 0h1m27 0h1m1 0h1m10 0h1m7 0h1m15 0h1m12 0h1m8 0h2m26 0h1m4 0h1m19 0h1m23 0h2m5 0h1m53 0h1m3 0h3m15 0h3m1 0h1m17 0h2m18 0h1m11 0h2m7 0h1m10 0h3m15 0h1m4 0h1m7 0h2m5 0h1m9 0h3m5 0h1m2 0h1m19 0h1M190 895.5h2m14 0h1m20 0h1m9 0h1m8 0h1m25 0h1m17 0h1m21 0h1m10 0h3m4 0h1m5 0h1m20 0h1m1 0h2m31 0h1m1 0h1m29 0h2m12 0h2m4 0h1m15 0h2m30 0h2m20 0h1m5 0h3m37 0h1m18 0h1m61 0h3m2 0h1m4 0h3m5 0h1m68 0h1m9 0h1m26 0h1m30 0h1m5 0h1m23 0h2m30 0h1m3 0h1m17 0h1m1 0h1m13 0h2m1 0h1m10 0h1m4 0h1m5 0h1M192 914.5h1m57 0h2m6 0h1m5 0h1m28 0h1m11 0h1m2 0h2m129 0h1m2 0h1m12 0h2m16 0h1m42 0h1m67 0h1m5 0h1m3 0h1m9 0h2m26 0h3m13 0h2m15 0h1m50 0h2m1 0h1m32 0h1m25 0h1m64 0h1m6 0h1m4 0h1m50 0h1m19 0h1M186 933.5h2m11 0h2m10 0h1m17 0h1m90 0h1m17 0h1m17 0h1m13 0h1m9 0h2m1 0h1m32 0h1m47 0h2m7 0h1m21 0h1m19 0h1m12 0h1m14 0h1m37 0h1m12 0h1m61 0h1m33 0h1m32 0h1m36 0h1m35 0h1m52 0h1m53 0h2m7 0h2m29 0h2m23 0h4M290 952.5h2M274 961.5h2m101 0h1m2 0h2m48 0h1m348 0h3"/>
<path stroke="#ffad00" stroke-width="10" d="M192 75h1m206 0h2m383 0h1M458 122h1m27 0h1m79 0h3M359 141h2M497 179h1m125 0h2M555 207h2m164 0h1m68 0h1m167 0h1M177 226h1m13 0h1m6 0h1m2 0h1m7 0h1m7 0h2m26 0h1m55 0h1m9 0h2m9 0h1m3 0h1m1 0h1m2 0h1m2 0h2m1 0h1m13 0h1m30 0h2m8 0h2m4 0h3m13 0h1m7 0h1m20 0h1m9 0h1m29 0h2m14 0h1m19 0h1m5 0h1m4 0h2m12 0h1m6 0h1m34 0h3m6 0h2m37 0h1m66 0h1m8 0h2m7 0h1m5 0h1m16 0h1m3 0h1m11 0h1m17 0h1m1 0h2m25 0h1m16 0h1m30 0h1m8 0h2m5 0h1m5 0h2m30 0h1m8 0h1m5 0h2m2 0h2m17 0h1m6 0h1m2 0h1m6 0h1m1 0h2m4 0h2M174 245h1m6 0h1m2 0h2m3 0h1m28 0h1m5 0h1m2 0h2m5 0h1m5 0h2m8 0h2m37 0h1m4 0h1m25 0h1m15 0h1m10 0h1m3 0h1m5 0h1m1 0h1m16 0h1m28 0h2m4 0h1m18 0h1m8 0h1m12 0h1m16 0h1m6 0h2m7 0h1m15 0h1m31 0h1m2 0h1m2 0h2m1 0h1m11 0h1m21 0h2m5 0h1m37 0h1m10 0h2m25 0h1m40 0h1m21 0h1M173 273h1m23 0h1m11 0h1m11 0h1m30 0h1m4 0h1m8 0h1m8 0h1m5 0h2m17 0h2m8 0h1m2 0h1m1 0h2m6 0h1m8 0h1m6 0h1m5 0h1m1 0h1m1 0h1m4 0h2m5 0h1m5 0h1m11 0h3m8 0h2m21 0h1m8 0h1m7 0h1m18 0h1m5 0h2m4 0h2m6 0h1m1 0h1m2 0h2m23 0h1m25 0h1m15 0h1m9 0h1m8 0h1m8 0h1m1 0h1m16 0h1m25 0h3m15 0h2m1 0h1m9 0h1m7 0h1m3 0h1m33 0h1m17 0h1m214 0h1m45 0h2M199 292h1m16 0h1m13 0h1m15 0h1m23 0h1m39 0h1m1 0h1m1 0h1m3 0h1m37 0h1m4 0h1m2 0h1m8 0h1m19 0h1m2 0h1m2 0h3m9 0h1m19 0h1m20 0h2m20 0h2m40 0h1m16 0h1m13 0h1m5 0h1m10 0h1m13 0h1m1 0h1m10 0h1m20 0h1m3 0h1m18 0h2m2 0h1m19 0h1m15 0h1m3 0h3m6 0h2M181 311h2m35 0h1m15 0h1m12 0h1m32 0h1m22 0h1m9 0h1m8 0h1m7 0h1m1 0h1m10 0h2m5 0h1m1 0h3m27 0h1m15 0h1m11 0h1m7 0h2m3 0h1m1 0h2m28 0h2m5 0h1m10 0h1m3 0h1m4 0h1m52 0h1m5 0h1m1 0h1m19 0h1m17 0h1m17 0h1m9 0h1m10 0h1m14 0h1m12 0h1m10 0h1m6 0h1m16 0h1m2 0h1m3 0h1m40 0h1M192 339h1m1 0h2m3 0h1m30 0h1m4 0h1m60 0h3m19 0h1m3 0h1m10 0h1m6 0h1m9 0h1m6 0h1m1 0h1m50 0h1m1 0h1m9 0h1m4 0h2m37 0h3m28 0h1m10 0h1m1 0h1m3 0h1m20 0h1m11 0h3m21 0h1m3 0h1m15 0h2m2 0h2m5 0h1m4 0h1m19 0h1m7 0h1m95 0h1M186 358h1m23 0h1m16 0h1m29 0h1m16 0h2m11 0h2m12 0h1m30 0h1m16 0h1m60 0h1m41 0h1m1 0h1m14 0h1m37 0h1m15 0h1m8 0h1m14 0h1m7 0h1m2 0h2m7 0h2m22 0h1m24 0h1m30 0h1m5 0h1m6 0h2m12 0h1m71 0h1m183 0h1m34 0h1M194 377h2m1 0h1m10 0h2m6 0h1m3 0h1m5 0h2m12 0h3m13 0h1m6 0h1m1 0h1m9 0h1m2 0h2m6 0h1m11 0h1m7 0h2m1 0h1m1 0h1m14 0h1m20 0h2m6 0h1m31 0h1m27 0h2m4 0h1m14 0h2m7 0h1m2 0h1m17 0h1m41 0h1m14 0h1m17 0h1m41 0h1m7 0h2m2 0h2m16 0h3m23 0h1m2 0h2m1 0h1m10 0h1m10 0h1m6 0h2m25 0h1m3 0h1m1 0h2m9 0h2m11 0h1m35 0h1m1 0h1m10 0h1m1 0h2m11 0h1m34 0h1m2 0h1m7 0h1m7 0h1m44 0h2m16 0h2m4 0h1m5 0h1m1 0h1m1 0h1m15 0h1M174 405h1m34 0h1m8 0h1m5 0h2m1 0h1m6 0h1m13 0h1m13 0h1m30 0h1m10 0h1m35 0h1m8 0h2m3 0h1m4 0h1m18 0h1m23 0h1m2 0h1m7 0h1m6 0h2m3 0h1m1 0h2m24 0h1m4 0h1m43 0h2m1 0h1m10 0h1m9 0h1m2 0h3m5 0h1m3 0h1m2 0h1m6 0h1m20 0h1m20 0h2m2 0h1m1 0h1m3 0h1m9 0h1m2 0h1m9 0h1m4 0h1m14 0h1m25 0h1m13 0h1m31 0h2m12 0h1m7 0h1m12 0h1m8 0h1m5 0h1m37 0h1m8 0h1m5 0h2m11 0h1m12 0h2m7 0h2m3 0h1m1 0h1m4 0h2m23 0h3m21 0h1m16 0h1m7 0h1m3 0h1m12 0h2m2 0h1M178 424h1m24 0h2m1 0h1m5 0h2m3 0h1m20 0h1m15 0h1m22 0h1m3 0h1m2 0h1m19 0h1m16 0h1m24 0h1m19 0h1m21 0h2m6 0h1m9 0h1m1 0h2m12 0h1m3 0h1m19 0h3m57 0h1m22 0h1m2 0h1m22 0h1m1 0h1m9 0h7m5 0h1m3 0h1m13 0h1m1 0h2m5 0h1m10 0h2m6 0h2m42 0h1m22 0h1m4 0h1m4 0h1m3 0h1m5 0h1m1 0h1m10 0h1m4 0h1m18 0h1m1 0h1m11 0h2m24 0h2m15 0h1m36 0h1m1 0h2m12 0h1m32 0h4m3 0h1m21 0h1m34 0h2m3 0h1M180 443h1m8 0h1m2 0h1m28 0h1m5 0h1m2 0h1m19 0h2m21 0h1m11 0h1m64 0h1m1 0h2m11 0h1m7 0h1m10 0h1m7 0h1m11 0h1m3 0h2m41 0h3m1 0h2m15 0h1m27 0h1m24 0h1m1 0h1m22 0h2m1 0h2m12 0h2m4 0h1m7 0h2m6 0h2m8 0h2m5 0h2m22 0h1m9 0h2m27 0h1m5 0h1m3 0h2m13 0h1m8 0h1m6 0h1m15 0h2m9 0h1m47 0h1m2 0h1m23 0h5m17 0h1m15 0h1m4 0h1m22 0h1m19 0h1m2 0h1m4 0h2m19 0h1m5 0h3m17 0h1M184 462h2m2 0h1m2 0h1m15 0h1m20 0h1m2 0h2m1 0h1m5 0h2m6 0h2m37 0h2m19 0h1m17 0h1m13 0h1m16 0h1m1 0h1m19 0h1m13 0h1m4 0h1m15 0h1m3 0h2m11 0h2m10 0h1m1 0h1m30 0h1m29 0h2m10 0h2m7 0h2m21 0h1m87 0h1m8 0h1m10 0h2m10 0h2m19 0h1m15 0h2m19 0h1m23 0h1m8 0h1m1 0h2m21 0h1m1 0h1m11 0h2m49 0h1m10 0h1m30 0h1m21 0h2m3 0h1m16 0h1m5 0h1M193 490h1m23 0h1m15 0h1m1 0h1m14 0h2m9 0h1m8 0h1m6 0h1m11 0h1m40 0h1m9 0h1m7 0h2m4 0h1m34 0h1m5 0h1m10 0h1m1 0h2m3 0h1m10 0h1m2 0h5m6 0h1m2 0h1m3 0h1m13 0h1m9 0h1m6 0h1m3 0h1m1 0h1m9 0h2m36 0h3m21 0h2m18 0h1m9 0h2m3 0h1m56 0h2m1 0h2m18 0h3m13 0h1m6 0h1m4 0h1m17 0h1m7 0h1m9 0h1m13 0h1m13 0h1m4 0h1m71 0h2m1 0h1m7 0h1m2 0h1m7 0h1m48 0h1m6 0h1m33 0h2M179 509h1m1 0h1m32 0h1m20 0h1m4 0h2m5 0h1m1 0h4m23 0h1m3 0h1m5 0h1m19 0h2m32 0h1m16 0h1m1 0h1m7 0h1m1 0h1m10 0h2m6 0h1m3 0h1m3 0h3m9 0h2m5 0h1m5 0h1m16 0h2m4 0h1m3 0h1m46 0h1m36 0h1m19 0h1m8 0h1m3 0h1m3 0h2m4 0h1m63 0h1m2 0h2m4 0h3m3 0h1m26 0h2m22 0h2m21 0h1m23 0h1m4 0h1m42 0h2m13 0h1m17 0h1m3 0h1m21 0h1m1 0h1m17 0h1m3 0h1m74 0h3M182 528h1m3 0h1m24 0h1m3 0h1m21 0h1m6 0h1m12 0h1m1 0h2m20 0h1m29 0h2m4 0h2m2 0h1m12 0h2m3 0h1m6 0h2m13 0h1m21 0h4m12 0h2m21 0h1m41 0h2m1 0h1m2 0h1m14 0h1m3 0h1m21 0h2m13 0h1m25 0h1m19 0h1m17 0h1m18 0h2m3 0h3m30 0h1m30 0h3m7 0h2m2 0h1m39 0h1m45 0h1m3 0h2m33 0h1m5 0h1m1 0h1m6 0h1m7 0h1m66 0h1m18 0h1m7 0h1m12 0h1m11 0h2M183 556h1m15 0h1m1 0h1m1 0h2m20 0h1m28 0h2m74 0h1m1 0h2m4 0h1m6 0h1m1 0h1m3 0h3m11 0h1m9 0h1m10 0h1m8 0h1m12 0h4m11 0h1m7 0h2m1 0h2m72 0h1m37 0h1m1 0h2m11 0h1m2 0h1m14 0h1m9 0h1m7 0h3m8 0h1m2 0h2m25 0h1m15 0h1m39 0h1m2 0h1m3 0h2m9 0h1m11 0h1m7 0h2m12 0h1m22 0h1m6 0h2m6 0h1m20 0h1m27 0h2m61 0h1m3 0h1m23 0h1m5 0h1m13 0h1m12 0h1M191 575h1m15 0h1m2 0h2m52 0h1m7 0h1m9 0h1m19 0h2m35 0h1m22 0h2m11 0h1m28 0h1m12 0h1m5 0h1m3 0h2m3 0h1m18 0h2m8 0h1m6 0h1m11 0h2m10 0h2m28 0h1m35 0h3m32 0h1m14 0h1m35 0h1m28 0h1m39 0h1m36 0h3m18 0h1m9 0h1m6 0h3m8 0h1m6 0h1m43 0h1m1 0h1m12 0h1m7 0h1m16 0h2m6 0h1m4 0h2m3 0h2m8 0h1m12 0h2m16 0h1m16 0h1M177 594h1m5 0h1m10 0h3m1 0h1m21 0h1m13 0h1m1 0h1m7 0h1m9 0h3m1 0h1m3 0h1m8 0h1m2 0h1m2 0h3m2 0h1m7 0h1m15 0h2m10 0h1m15 0h2m9 0h2m4 0h1m7 0h1m11 0h2m3 0h1m47 0h1m11 0h2m3 0h2m10 0h1m7 0h1m6 0h1m41 0h1m4 0h1m26 0h1m17 0h1m2 0h1m12 0h2m6 0h1m4 0h1m13 0h1m14 0h1m4 0h2m6 0h1m3 0h1m1 0h1m38 0h3m15 0h1m1 0h1m15 0h2m15 0h1m1 0h1m58 0h1m2 0h1m4 0h1m41 0h1m9 0h1m9 0h1m58 0h1m25 0h1m8 0h1M173 622h1m7 0h3m5 0h1m9 0h1m1 0h1m8 0h1m1 0h2m4 0h1m12 0h2m37 0h1m12 0h1m19 0h3m11 0h1m24 0h3m7 0h2m6 0h1m3 0h2m2 0h1m10 0h1m2 0h1m12 0h2m10 0h1m16 0h1m1 0h1m11 0h1m2 0h2m1 0h1m6 0h1m8 0h1m1 0h2m5 0h1m8 0h1m21 0h2m3 0h1m2 0h1m2 0h2m5 0h1m33 0h1m13 0h1m23 0h1m3 0h3m1 0h2m12 0h1m19 0h3m14 0h2m23 0h1m9 0h1m5 0h1m4 0h1m2 0h2m19 0h2m1 0h1m18 0h1m36 0h1m1 0h1m1 0h2m1 0h1m23 0h1m2 0h1m4 0h1m14 0h2m30 0h2m3 0h1m11 0h1m19 0h1m4 0h1m3 0h1m7 0h1m10 0h1m3 0h1m16 0h3m1 0h1m6 0h2M205 641h2m3 0h1m1 0h2m2 0h2m11 0h1m3 0h1m15 0h1m3 0h1m10 0h1m1 0h1m19 0h1m5 0h1m2 0h1m16 0h1m15 0h1m26 0h1m26 0h2m9 0h2m3 0h1m19 0h3m11 0h3m8 0h1m1 0h1m5 0h1m2 0h1m17 0h1m24 0h2m11 0h1m2 0h1m40 0h1m2 0h1m16 0h1m7 0h1m2 0h1m13 0h1m2 0h1m39 0h2m4 0h1m9 0h1m1 0h2m5 0h1m2 0h2m6 0h1m4 0h1m6 0h1m7 0h2m5 0h1m1 0h2m5 0h2m10 0h2m10 0h2m3 0h1m5 0h1m8 0h1m25 0h1m11 0h1m5 0h1m4 0h2m4 0h1m1 0h1m24 0h1m1 0h1m15 0h1m3 0h1m21 0h2m7 0h3m16 0h3m4 0h1m20 0h2m3 0h1m12 0h1m2 0h1m5 0h1M173 660h2m2 0h1m4 0h1m13 0h1m1 0h1m9 0h1m11 0h1m23 0h1m19 0h1m6 0h2m20 0h1m5 0h1m9 0h1m7 0h1m1 0h2m1 0h2m14 0h2m2 0h1m2 0h1m8 0h1m4 0h1m11 0h2m9 0h1m4 0h1m25 0h1m6 0h1m1 0h1m16 0h1m2 0h1m29 0h2m5 0h1m29 0h1m6 0h2m10 0h1m1 0h2m3 0h1m6 0h3m6 0h1m14 0h1m5 0h1m10 0h1m5 0h1m1 0h1m7 0h1m14 0h2m18 0h1m15 0h1m5 0h1m1 0h1m14 0h1m1 0h1m24 0h1m6 0h2m6 0h1m2 0h1m3 0h1m15 0h1m3 0h1m11 0h2m15 0h1m16 0h1m18 0h1m14 0h2m3 0h1m4 0h1m7 0h4m3 0h2m14 0h1m1 0h3m19 0h2m3 0h1m21 0h1m32 0h1m5 0h1M181 688h2m5 0h2m8 0h2m1 0h1m1 0h2m5 0h1m3 0h1m4 0h1m4 0h2m2 0h1m4 0h1m2 0h1m10 0h1m2 0h2m18 0h1m3 0h1m1 0h1m23 0h1m5 0h2m2 0h1m13 0h2m6 0h1m1 0h2m10 0h2m10 0h1m7 0h1m7 0h2m6 0h1m7 0h2m5 0h1m3 0h1m19 0h1m3 0h1m6 0h1m7 0h1m18 0h1m7 0h1m3 0h2m8 0h1m1 0h3m15 0h1m2 0h1m15 0h2m4 0h1m16 0h1m1 0h1m20 0h1m4 0h2m22 0h3m22 0h1m14 0h2m21 0h1m3 0h1m9 0h2m40 0h1m8 0h1m17 0h1m14 0h1m24 0h1m35 0h2m36 0h1m21 0h1m2 0h1m5 0h1m10 0h2m2 0h1m9 0h1m2 0h1m5 0h1m7 0h1m9 0h1m9 0h1m1 0h2m1 0h1M184 707h2m14 0h1m24 0h2m35 0h1m4 0h1m5 0h1m37 0h1m6 0h1m2 0h1m2 0h2m8 0h2m18 0h1m7 0h2m3 0h1m12 0h2m3 0h1m3 0h1m2 0h1m5 0h1m2 0h1m13 0h1m1 0h1m7 0h1m15 0h1m6 0h1m14 0h1m36 0h1m24 0h1m3 0h3m3 0h1m26 0h1m18 0h1m2 0h1m12 0h1m23 0h1m20 0h2m3 0h2m11 0h2m7 0h1m40 0h1m38 0h1m2 0h1m29 0h2m4 0h1m6 0h1m23 0h2m2 0h2m28 0h1m5 0h1m2 0h2m10 0h1m6 0h1m4 0h2m12 0h1m2 0h2m1 0h1m15 0h2m13 0h1m10 0h1m4 0h1m2 0h1m11 0h2M209 726h1m8 0h1m11 0h1m7 0h1m3 0h1m3 0h1m38 0h2m5 0h1m10 0h2m34 0h1m20 0h1m6 0h1m12 0h2m8 0h2m10 0h2m1 0h1m6 0h1m16 0h1m5 0h1m6 0h1m7 0h2m7 0h1m14 0h2m4 0h1m2 0h3m1 0h2m24 0h1m9 0h1m14 0h1m6 0h1m7 0h1m19 0h2m3 0h1m2 0h1m20 0h1m15 0h1m19 0h1m5 0h1m10 0h1m11 0h1m9 0h1m4 0h1m36 0h1m11 0h1m29 0h2m15 0h1m6 0h1m3 0h1m7 0h1m20 0h3m5 0h2m28 0h2m6 0h1m36 0h1m6 0h1m6 0h1m6 0h2m20 0h1m3 0h2M178 745h1m1 0h1m25 0h1m4 0h4m16 0h2m1 0h2m4 0h2m1 0h1m20 0h1m10 0h1m20 0h2m1 0h2m11 0h1m6 0h1m4 0h2m2 0h1m3 0h2m2 0h1m20 0h1m6 0h1m1 0h1m20 0h1m4 0h2m23 0h3m11 0h1m9 0h1m11 0h1m6 0h2m17 0h1m9 0h2m7 0h1m1 0h1m9 0h1m12 0h1m5 0h1m2 0h1m12 0h1m7 0h2m31 0h2m1 0h2m9 0h1m27 0h1m9 0h1m3 0h2m2 0h1m2 0h2m2 0h1m14 0h2m16 0h1m11 0h3m2 0h1m1 0h2m6 0h1m17 0h1m5 0h1m1 0h1m2 0h2m2 0h2m15 0h3m3 0h1m10 0h1m24 0h1m13 0h2m10 0h1m36 0h1m4 0h1m4 0h1m7 0h1m1 0h1m29 0h1m20 0h3m4 0h1m6 0h1m10 0h1m2 0h3M199 773h1m5 0h1m5 0h1m16 0h1m6 0h3m2 0h2m4 0h1m8 0h1m17 0h1m13 0h2m4 0h1m14 0h1m3 0h1m5 0h1m2 0h1m1 0h3m11 0h2m6 0h2m5 0h2m5 0h2m4 0h1m5 0h2m39 0h1m7 0h1m2 0h1m2 0h1m14 0h2m6 0h1m12 0h1m1 0h2m11 0h2m1 0h1m8 0h1m4 0h1m12 0h1m14 0h1m2 0h2m8 0h2m21 0h2m1 0h1m12 0h1m14 0h1m48 0h1m14 0h1m9 0h1m19 0h1m2 0h1m11 0h2m4 0h1m9 0h4m12 0h1m18 0h1m2 0h2m5 0h1m2 0h1m12 0h1m1 0h1m11 0h1m9 0h1m10 0h3m3 0h1m1 0h1m5 0h1m2 0h1m5 0h1m7 0h2m1 0h1m1 0h1m3 0h2m11 0h1m4 0h1m8 0h1m10 0h1m19 0h1m27 0h1m8 0h1m16 0h1m2 0h1m1 0h1M182 792h2m3 0h1m2 0h1m42 0h1m9 0h1m2 0h1m1 0h1m31 0h1m3 0h1m14 0h2m19 0h2m6 0h1m11 0h2m3 0h2m3 0h4m25 0h4m2 0h1m15 0h1m15 0h1m3 0h1m3 0h1m3 0h1m24 0h1m8 0h1m9 0h1m7 0h1m1 0h2m4 0h1m15 0h1m30 0h1m2 0h2m11 0h1m12 0h1m16 0h1m8 0h1m29 0h2m22 0h1m11 0h1m4 0h1m62 0h1m6 0h1m1 0h1m11 0h1m3 0h1m12 0h2m5 0h1m17 0h1m13 0h1m23 0h1m6 0h1m3 0h1m4 0h1m10 0h1m14 0h1m21 0h1m7 0h1m2 0h2m34 0h1m2 0h2m21 0h1m2 0h1M182 811h1m5 0h2m12 0h1m3 0h1m7 0h1m12 0h1m7 0h1m1 0h1m16 0h2m1 0h1m15 0h2m5 0h1m20 0h1m2 0h1m7 0h1m13 0h1m5 0h1m3 0h1m6 0h2m16 0h3m42 0h1m20 0h2m2 0h1m4 0h2m17 0h2m24 0h1m3 0h2m17 0h1m12 0h1m11 0h1m25 0h1m11 0h2m3 0h1m11 0h1m32 0h2m4 0h2m1 0h1m12 0h1m10 0h1m12 0h1m12 0h2m4 0h1m4 0h1m2 0h1m47 0h1m17 0h1m32 0h1m19 0h1m2 0h1m4 0h1m4 0h2m29 0h1m4 0h1m48 0h1m25 0h1m3 0h1m12 0h2M179 839h2m15 0h1m10 0h1m9 0h1m7 0h1m22 0h1m5 0h1m4 0h2m43 0h6m29 0h1m15 0h1m11 0h1m1 0h1m17 0h1m10 0h1m17 0h1m24 0h1m9 0h1m9 0h1m5 0h1m2 0h2m10 0h1m3 0h1m2 0h2m9 0h1m17 0h2m7 0h1m6 0h1m27 0h2m11 0h3m12 0h1m27 0h1m10 0h1m2 0h2m6 0h1m3 0h1m15 0h2m1 0h1m12 0h1m6 0h1m12 0h2m7 0h1m37 0h3m12 0h2m46 0h1m24 0h2m2 0h2m28 0h1m13 0h2m7 0h1m68 0h1m8 0h1M180 858h1m8 0h2m2 0h1m2 0h1m10 0h1m1 0h1m40 0h2m43 0h1m30 0h1m24 0h1m7 0h1m17 0h1m17 0h1m1 0h1m26 0h1m18 0h1m18 0h1m43 0h1m13 0h2m1 0h2m1 0h1m5 0h1m36 0h1m12 0h1m7 0h1m23 0h2m3 0h1m12 0h2m16 0h1m16 0h1m63 0h1m30 0h1m13 0h2m16 0h1m12 0h1m23 0h1m5 0h1m22 0h1m10 0h1m36 0h1m49 0h1M188 877h1m5 0h3m2 0h1m19 0h1m32 0h2m1 0h1m10 0h1m32 0h1m15 0h2m33 0h1m14 0h1m57 0h3m13 0h2m19 0h2m32 0h1m55 0h2m18 0h1m33 0h2m21 0h1m11 0h1m1 0h3m37 0h2m56 0h1m7 0h1m3 0h2m32 0h1m11 0h1m11 0h1m4 0h1m2 0h1m29 0h2m1 0h1m7 0h1m46 0h1m31 0h1m14 0h1M188 905h1m7 0h1m18 0h1m19 0h1m1 0h1m4 0h1m13 0h1m10 0h1m12 0h1m47 0h1m17 0h1m2 0h1m6 0h1m8 0h1m1 0h1m20 0h1m24 0h1m7 0h2m43 0h1m7 0h3m11 0h1m15 0h3m25 0h1m3 0h1m38 0h4m10 0h1m1 0h1m33 0h1m14 0h1m1 0h3m25 0h2m107 0h1m54 0h1m18 0h1m16 0h1m1 0h1m20 0h1M180 924h1m7 0h1m25 0h2m33 0h1m25 0h2m35 0h1m5 0h2m2 0h1m11 0h2m23 0h2m1 0h2m2 0h1m23 0h2m7 0h3m11 0h1m15 0h1m121 0h1m10 0h1m26 0h1m37 0h1m16 0h1m10 0h1m2 0h2m5 0h2m36 0h1m1 0h1m80 0h1m47 0h1m15 0h1m38 0h1m21 0h1m17 0h1m40 0h2M217 943h1m220 0h1m31 0h2m414 0h1"/>
<path stroke="#ffad00" stroke-width="11" d="M947 971.5h1"/>
<path stroke="#ff9e00" stroke-width="9" d="M874 131.5h1M196 197.5h1M174 216.5h1m2 0h1m33 0h4m14 0h1m3 0h1m2 0h2m4 0h1m10 0h1m73 0h1m11 0h1m28 0h1m9 0h2m13 0h1m1 0h2m15 0h1m1 0h1m2 0h1m21 0h1m1 0h1m7 0h1m3 0h1m15 0h1m35 0h1m32 0h1m34 0h1m14 0h1m8 0h1m25 0h2m5 0h1m1 0h2m31 0h1m30 0h1m56 0h1m22 0h1m32 0h1m5 0h1m12 0h3m30 0h1m19 0h1m51 0h1m1 0h2m1 0h2m2 0h1m22 0h2M220 235.5h1m7 0h2m3 0h1m3 0h1m4 0h2m2 0h1m8 0h1m22 0h2m14 0h1m41 0h1m11 0h1m25 0h1m28 0h1m1 0h1m12 0h2m13 0h1m1 0h1m8 0h1m1 0h2m4 0h1m4 0h1m22 0h1m5 0h1m1 0h1m7 0h1m3 0h1m6 0h2m9 0h2m15 0h1m11 0h3m54 0h2m25 0h3m12 0h2m36 0h1m13 0h2m19 0h1m26 0h1m7 0h2m13 0h1m9 0h2m22 0h1m5 0h1m26 0h1m49 0h1m22 0h1m4 0h1m2 0h1m24 0h1m11 0h1m7 0h1M173 254.5h1m22 0h1m1 0h1m29 0h2m13 0h2m1 0h1m6 0h2m26 0h1m1 0h1m15 0h1m2 0h1m15 0h2m7 0h1m9 0h1m21 0h1m5 0h1m16 0h1m12 0h1m3 0h2m15 0h1m19 0h3m10 0h1m5 0h2m3 0h1m10 0h1m15 0h1m3 0h1m14 0h1m1 0h1m10 0h1m14 0h1m1 0h2m14 0h1m3 0h1m3 0h1m5 0h1m2 0h1m5 0h1m7 0h1m2 0h2m12 0h1m9 0h1m3 0h2m1 0h2m8 0h1m11 0h1m13 0h1m1 0h1m1 0h2m27 0h1m23 0h1m18 0h1m207 0h1m26 0h1M198 263.5h1m3 0h1m16 0h1m7 0h1m1 0h1m16 0h1m3 0h2m12 0h1m3 0h3m15 0h1m7 0h1m7 0h1m7 0h1m20 0h1m45 0h1m2 0h3m4 0h1m9 0h1m5 0h1m18 0h1m4 0h2m5 0h1m14 0h1m1 0h1m14 0h1m2 0h2m5 0h1m5 0h1m2 0h1m2 0h1m11 0h1m18 0h1m5 0h1m6 0h1m2 0h1m6 0h1m12 0h1m22 0h1m2 0h1m4 0h2m6 0h3m20 0h1m4 0h3m20 0h1m1 0h1m11 0h1m18 0h1m36 0h1M218 301.5h1m2 0h1m37 0h2m17 0h2m30 0h1m2 0h2m3 0h1m3 0h1m1 0h2m1 0h1m8 0h2m20 0h1m18 0h1m4 0h1m1 0h2m25 0h1m1 0h1m1 0h1m9 0h1m9 0h1m6 0h1m11 0h1m4 0h2m19 0h1m6 0h1m6 0h1m3 0h1m1 0h1m1 0h3m4 0h1m8 0h1m6 0h1m9 0h1m21 0h1m23 0h1m18 0h3m5 0h1m2 0h1m39 0h2m24 0h1m33 0h1m20 0h1m8 0h1M178 320.5h1m5 0h3m6 0h1m2 0h1m2 0h1m1 0h1m19 0h1m36 0h1m3 0h1m5 0h2m22 0h1m8 0h1m3 0h1m12 0h1m8 0h1m4 0h1m7 0h1m1 0h1m7 0h1m5 0h2m9 0h2m1 0h1m2 0h1m4 0h1m7 0h1m8 0h1m24 0h2m5 0h2m1 0h1m1 0h1m12 0h1m13 0h1m8 0h1m8 0h1m8 0h1m1 0h1m1 0h1m3 0h1m3 0h1m9 0h1m1 0h1m3 0h1m2 0h2m9 0h2m2 0h2m3 0h1m8 0h2m17 0h1m17 0h1m15 0h1m7 0h2m2 0h2m52 0h1m3 0h1m35 0h1m25 0h1m19 0h1m177 0h1m37 0h1M179 329.5h1m9 0h1m8 0h1m46 0h1m8 0h1m13 0h2m2 0h1m9 0h1m1 0h1m9 0h1m13 0h1m3 0h1m2 0h2m12 0h1m7 0h1m5 0h2m5 0h1m6 0h1m2 0h2m7 0h1m8 0h1m6 0h1m10 0h1m7 0h1m5 0h1m31 0h1m2 0h1m2 0h1m12 0h1m17 0h1m5 0h2m19 0h1m3 0h1m5 0h2m2 0h2m3 0h2m25 0h1m8 0h2m1 0h1m8 0h2m10 0h1m8 0h3m22 0h1m3 0h2m2 0h1m22 0h1m19 0h2m23 0h1m10 0h1m3 0h1m1 0h1m13 0h2m41 0h1M175 348.5h2m2 0h1m3 0h3m8 0h2m23 0h1m1 0h1m2 0h1m14 0h1m13 0h1m24 0h2m16 0h2m5 0h1m15 0h1m2 0h1m4 0h1m3 0h2m3 0h1m8 0h1m18 0h1m1 0h2m3 0h2m3 0h2m5 0h1m2 0h1m27 0h1m3 0h2m23 0h1m2 0h2m6 0h1m9 0h2m10 0h1m6 0h3m12 0h3m4 0h1m23 0h1m20 0h1m1 0h2m27 0h1m6 0h1m12 0h1m8 0h1m7 0h1m1 0h1m8 0h1m4 0h1m1 0h1m3 0h2m2 0h1m4 0h1m1 0h2m70 0h1m4 0h1M181 367.5h1m26 0h2m51 0h1m4 0h2m10 0h2m9 0h2m5 0h2m4 0h1m5 0h2m23 0h1m2 0h1m1 0h1m18 0h1m2 0h1m33 0h1m22 0h1m18 0h2m3 0h3m33 0h1m4 0h3m9 0h1m28 0h1m10 0h1m4 0h2m7 0h4m14 0h1m14 0h2m10 0h1m8 0h1m33 0h1m25 0h1m7 0h2m4 0h1m8 0h1m24 0h1m8 0h1m4 0h1m21 0h3m5 0h2m9 0h1m4 0h1m9 0h2m18 0h2m5 0h1m26 0h1m7 0h1m10 0h1m4 0h1m14 0h2m6 0h1M179 386.5h1m4 0h2m20 0h1m14 0h1m5 0h3m8 0h2m8 0h1m15 0h1m6 0h1m17 0h1m52 0h1m9 0h2m6 0h1m1 0h2m6 0h1m16 0h1m13 0h2m29 0h1m11 0h5m2 0h2m19 0h1m46 0h1m5 0h1m75 0h1m8 0h1m8 0h1m18 0h1m31 0h2m11 0h1m6 0h1m15 0h3m7 0h2m59 0h1m1 0h2m69 0h1m27 0h1m17 0h1M178 395.5h1m55 0h1m4 0h1m21 0h2m20 0h1m7 0h1m23 0h2m17 0h2m39 0h1m19 0h1m6 0h1m1 0h2m2 0h2m19 0h1m12 0h1m14 0h1m14 0h2m2 0h1m32 0h2m24 0h1m54 0h1m15 0h1m7 0h2m30 0h1m34 0h1m13 0h1m4 0h1m24 0h3m31 0h2m8 0h1m11 0h1m48 0h1m35 0h2m33 0h1m16 0h1m9 0h1m6 0h2m1 0h1m5 0h1m22 0h1M173 414.5h1m4 0h2m10 0h1m24 0h1m12 0h1m5 0h1m29 0h1m43 0h1m4 0h1m4 0h1m3 0h1m10 0h1m2 0h1m49 0h1m16 0h1m23 0h3m6 0h2m2 0h1m4 0h1m13 0h1m17 0h1m11 0h1m8 0h1m1 0h1m65 0h1m23 0h2m6 0h1m12 0h1m71 0h1m2 0h2m25 0h2m19 0h1m8 0h1m16 0h1m1 0h1m4 0h1m16 0h1m5 0h3m5 0h1m31 0h1m10 0h1m72 0h1m33 0h1m14 0h1M193 433.5h1m17 0h1m9 0h1m31 0h1m20 0h1m39 0h1m7 0h1m18 0h1m23 0h1m1 0h1m47 0h1m36 0h1m29 0h1m26 0h1m29 0h3m42 0h2m5 0h1m9 0h1m19 0h1m7 0h2m27 0h2m24 0h1m12 0h1m4 0h1m4 0h2m29 0h1m5 0h4m21 0h1m5 0h3m9 0h1m9 0h1m30 0h2m32 0h1m1 0h1m24 0h1m13 0h3m21 0h1M193 452.5h3m31 0h1m2 0h1m39 0h1m22 0h3m44 0h1m30 0h3m2 0h1m18 0h1m56 0h1m5 0h1m9 0h2m50 0h2m51 0h2m9 0h1m57 0h2m47 0h1m18 0h1m29 0h1m46 0h1m21 0h1m6 0h1m27 0h1m1 0h1m36 0h3m3 0h1m32 0h2m24 0h1M203 471.5h2m15 0h2m11 0h1m27 0h1m21 0h1m7 0h1m81 0h1m15 0h1m84 0h2m7 0h2m34 0h1m17 0h1m22 0h1m2 0h1m3 0h2m11 0h1m5 0h2m1 0h1m17 0h1m54 0h1m1 0h1m16 0h1m6 0h2m26 0h2m1 0h1m30 0h1m20 0h3m36 0h2m4 0h2m29 0h2m7 0h2M178 480.5h1m1 0h1m37 0h3m3 0h1m34 0h2m10 0h1m27 0h1m43 0h2m13 0h1m21 0h3m13 0h1m10 0h1m2 0h1m33 0h1m13 0h1m11 0h2m48 0h2m12 0h1m28 0h1m8 0h1m7 0h2m2 0h1m112 0h3m19 0h2m105 0h1m7 0h1m34 0h1m17 0h1m3 0h1m13 0h1m36 0h1M182 499.5h1m138 0h1m24 0h1m30 0h1m6 0h1m20 0h1m11 0h1m63 0h1m17 0h2m82 0h1m16 0h2m10 0h2m61 0h1m34 0h3m81 0h1m20 0h2m19 0h1m10 0h2m26 0h2m25 0h1m23 0h1m23 0h2m16 0h2M201 518.5h1m29 0h2m28 0h2m17 0h1m17 0h1m2 0h1m21 0h1m27 0h1m14 0h2m84 0h2m1 0h2m41 0h1m23 0h1m56 0h1m21 0h1m82 0h2m91 0h1m120 0h1m65 0h2M206 537.5h1m89 0h3m18 0h1m2 0h1m11 0h1m41 0h1m26 0h3m12 0h2m63 0h2m39 0h2m8 0h1m66 0h1m1 0h1m45 0h1m37 0h1m111 0h1m7 0h1m46 0h1m2 0h1m9 0h1m90 0h1M194 546.5h2m7 0h2m136 0h1m31 0h1m18 0h1m36 0h1m3 0h1m56 0h1m9 0h2m34 0h1m24 0h1m23 0h1m3 0h1m1 0h1m20 0h1m62 0h1m2 0h1m5 0h1m53 0h1m15 0h2m2 0h1m81 0h1m41 0h2m26 0h1m4 0h1M182 565.5h1m4 0h1m26 0h4m7 0h2m47 0h2m25 0h1m21 0h1m10 0h2m14 0h1m6 0h1m6 0h1m17 0h1m29 0h2m27 0h1m2 0h1m1 0h2m14 0h1m4 0h2m9 0h1m2 0h1m10 0h2m25 0h1m49 0h1m5 0h1m8 0h1m26 0h1m95 0h4m23 0h1m24 0h1m16 0h1m5 0h2m11 0h1m7 0h1m1 0h2m42 0h1m20 0h2m20 0h1m13 0h1m8 0h2m8 0h1M177 584.5h1m1 0h1m18 0h1m38 0h1m48 0h1m5 0h1m8 0h1m2 0h1m16 0h1m6 0h1m4 0h4m3 0h1m2 0h2m28 0h1m2 0h1m36 0h2m23 0h1m2 0h1m60 0h2m6 0h1m5 0h1m53 0h1m38 0h1m3 0h1m3 0h1m4 0h3m4 0h1m14 0h4m34 0h2m12 0h1m13 0h1m8 0h1m9 0h2m35 0h1m2 0h1m5 0h1m57 0h1m7 0h1m17 0h2M173 603.5h1m16 0h1m5 0h2m11 0h1m28 0h1m24 0h1m25 0h1m2 0h1m26 0h1m12 0h5m15 0h2m5 0h1m5 0h1m2 0h1m1 0h1m39 0h1m11 0h2m9 0h2m18 0h1m16 0h2m32 0h1m12 0h3m13 0h1m39 0h1m4 0h1m10 0h1m7 0h3m1 0h1m6 0h1m1 0h1m2 0h1m25 0h1m10 0h1m13 0h1m2 0h1m53 0h1m3 0h1m26 0h1m3 0h2m1 0h1m20 0h2m28 0h3m21 0h1m1 0h1m3 0h1m13 0h1m10 0h1m34 0h1m15 0h1m4 0h1m33 0h1m14 0h2M184 612.5h2m2 0h1m2 0h1m7 0h1m6 0h2m1 0h1m15 0h3m12 0h2m4 0h1m3 0h4m19 0h1m19 0h1m12 0h2m50 0h1m3 0h2m23 0h1m2 0h2m21 0h2m12 0h2m9 0h1m6 0h1m8 0h1m7 0h2m84 0h2m36 0h2m5 0h1m14 0h1m9 0h2m6 0h1m19 0h1m4 0h2m42 0h2m77 0h1m18 0h1m12 0h1m6 0h2m25 0h1m55 0h1m14 0h1m17 0h1M173 631.5h1m3 0h1m5 0h1m16 0h1m57 0h1m9 0h2m4 0h1m10 0h1m18 0h1m27 0h1m4 0h1m26 0h1m12 0h1m14 0h1m8 0h3m27 0h1m56 0h1m19 0h2m4 0h1m56 0h1m41 0h1m28 0h2m10 0h1m14 0h1m11 0h1m1 0h1m1 0h1m26 0h1m7 0h1m32 0h1m23 0h1m17 0h2m2 0h1m21 0h2m11 0h1m1 0h1m12 0h1m1 0h1m6 0h1m7 0h2m3 0h1m40 0h2m3 0h1m26 0h1m14 0h2M189 650.5h1m36 0h1m13 0h2m16 0h3m12 0h1m21 0h1m18 0h1m8 0h1m4 0h1m11 0h1m15 0h2m2 0h4m13 0h1m37 0h1m6 0h1m46 0h1m7 0h1m13 0h1m3 0h1m8 0h2m10 0h1m58 0h1m15 0h1m27 0h2m8 0h2m15 0h1m18 0h1m41 0h2m38 0h1m10 0h1m90 0h1m4 0h1m1 0h4m38 0h2m9 0h1m10 0h1m6 0h1m12 0h2M186 669.5h1m19 0h1m4 0h1m17 0h1m18 0h1m3 0h1m17 0h1m5 0h1m1 0h2m3 0h1m5 0h1m24 0h1m2 0h1m1 0h1m8 0h1m10 0h1m19 0h1m4 0h1m24 0h1m51 0h1m9 0h1m10 0h2m43 0h1m2 0h1m5 0h1m18 0h1m12 0h2m1 0h1m1 0h1m19 0h2m13 0h1m40 0h1m7 0h1m2 0h1m12 0h1m6 0h2m13 0h1m10 0h1m15 0h1m11 0h1m17 0h1m34 0h1m78 0h1m3 0h1m24 0h2m4 0h1m9 0h2m6 0h1m5 0h1m1 0h2m11 0h1m5 0h1m18 0h1M173 678.5h2m15 0h1m2 0h4m17 0h1m6 0h3m5 0h1m1 0h2m2 0h1m11 0h1m9 0h1m17 0h1m8 0h1m32 0h1m20 0h2m3 0h2m40 0h1m8 0h1m12 0h1m7 0h1m37 0h1m13 0h2m21 0h1m5 0h1m1 0h2m10 0h3m6 0h1m17 0h1m24 0h1m18 0h1m7 0h1m28 0h1m1 0h1m25 0h1m7 0h1m11 0h1m7 0h1m4 0h2m12 0h2m7 0h2m17 0h1m35 0h1m33 0h2m2 0h1m2 0h1m3 0h1m24 0h1m14 0h1m2 0h1m3 0h1m13 0h1m9 0h1m51 0h1m18 0h3m11 0h1M194 697.5h2m7 0h2m3 0h1m2 0h3m2 0h1m19 0h1m31 0h3m1 0h1m11 0h1m23 0h1m3 0h1m15 0h1m8 0h1m14 0h2m2 0h1m5 0h2m1 0h1m1 0h1m27 0h1m34 0h1m1 0h1m3 0h2m13 0h1m11 0h1m6 0h1m11 0h1m4 0h1m22 0h1m8 0h1m26 0h1m1 0h2m3 0h1m18 0h1m12 0h3m2 0h1m3 0h1m13 0h1m9 0h1m2 0h1m18 0h1m7 0h3m2 0h1m29 0h1m29 0h3m28 0h3m16 0h3m3 0h2m1 0h2m17 0h2m16 0h1m7 0h1m27 0h1m6 0h1m8 0h1m20 0h2m33 0h1m11 0h1M196 716.5h1m14 0h1m2 0h1m1 0h2m3 0h1m24 0h1m9 0h3m7 0h1m1 0h2m4 0h1m12 0h2m10 0h1m14 0h1m16 0h1m6 0h1m16 0h2m17 0h1m5 0h2m21 0h1m3 0h4m35 0h2m26 0h2m13 0h1m21 0h2m49 0h1m7 0h1m3 0h2m53 0h1m4 0h1m4 0h1m6 0h2m2 0h1m2 0h2m2 0h1m2 0h2m17 0h2m14 0h1m2 0h2m9 0h2m18 0h1m3 0h1m9 0h4m5 0h2m69 0h1m2 0h1m3 0h1m3 0h1m3 0h2m6 0h1m14 0h1m10 0h1m5 0h1m38 0h1m48 0h1M202 735.5h4m20 0h1m4 0h2m10 0h1m10 0h1m4 0h2m35 0h2m5 0h1m8 0h2m6 0h1m2 0h1m26 0h1m5 0h1m7 0h1m21 0h1m17 0h1m11 0h1m1 0h2m43 0h1m14 0h1m1 0h1m10 0h1m2 0h1m6 0h1m4 0h2m7 0h1m26 0h2m22 0h1m18 0h1m8 0h3m2 0h1m54 0h1m1 0h1m8 0h1m10 0h2m15 0h2m8 0h1m12 0h2m1 0h1m6 0h3m56 0h1m4 0h1m9 0h3m14 0h1m3 0h1m21 0h1m7 0h1m14 0h3m11 0h1m6 0h1m47 0h1m7 0h1M174 754.5h1m6 0h1m12 0h2m42 0h1m9 0h1m1 0h2m12 0h1m11 0h1m22 0h1m15 0h2m1 0h1m3 0h2m7 0h1m36 0h1m9 0h2m19 0h2m23 0h2m13 0h1m9 0h1m11 0h1m8 0h1m7 0h1m2 0h1m10 0h2m28 0h1m5 0h1m8 0h1m48 0h2m19 0h3m30 0h1m7 0h1m1 0h1m12 0h3m17 0h1m10 0h1m46 0h1m1 0h1m6 0h1m3 0h2m5 0h1m41 0h2m4 0h1m17 0h1m6 0h1m5 0h1m8 0h1m1 0h1m28 0h1m8 0h2m15 0h1m21 0h1M174 763.5h1m5 0h1m11 0h1m28 0h1m21 0h1m1 0h1m7 0h1m16 0h1m6 0h1m5 0h1m5 0h1m25 0h2m21 0h1m9 0h1m54 0h1m18 0h1m8 0h3m4 0h1m27 0h1m7 0h2m9 0h1m9 0h1m9 0h1m42 0h2m23 0h1m8 0h1m12 0h2m16 0h1m6 0h1m8 0h1m7 0h1m4 0h2m2 0h1m43 0h1m13 0h1m2 0h2m4 0h1m1 0h1m15 0h1m2 0h1m25 0h1m16 0h2m3 0h2m5 0h1m4 0h1m11 0h1m37 0h1m8 0h1m5 0h1m19 0h1m13 0h1m3 0h1m29 0h1m22 0h3M179 782.5h1m13 0h4m1 0h1m7 0h1m2 0h2m11 0h3m47 0h1m12 0h2m4 0h2m16 0h1m4 0h3m17 0h2m12 0h1m19 0h1m19 0h1m45 0h1m5 0h1m14 0h2m5 0h1m22 0h3m9 0h3m16 0h1m1 0h1m3 0h1m6 0h1m4 0h1m23 0h2m61 0h1m7 0h1m2 0h2m20 0h1m7 0h1m4 0h2m10 0h2m39 0h1m1 0h1m3 0h2m1 0h1m11 0h1m47 0h1m18 0h1m28 0h1m4 0h1m2 0h1m12 0h1m29 0h2m16 0h1m4 0h1m7 0h2m3 0h1M191 801.5h1m7 0h1m15 0h1m14 0h1m12 0h1m12 0h1m26 0h1m151 0h1m15 0h1m20 0h1m15 0h1m8 0h1m30 0h2m48 0h3m1 0h1m1 0h1m15 0h1m9 0h1m5 0h2m16 0h1m104 0h1m38 0h1m56 0h1m9 0h1m6 0h1m16 0h1M174 820.5h3m9 0h1m31 0h1m1 0h1m3 0h2m3 0h2m3 0h1m12 0h1m9 0h1m19 0h1m4 0h1m11 0h1m14 0h1m10 0h1m5 0h1m1 0h3m6 0h1m9 0h1m2 0h1m69 0h2m24 0h2m38 0h1m14 0h1m14 0h1m3 0h2m5 0h2m97 0h1m20 0h1m20 0h1m1 0h2m16 0h2m19 0h1m11 0h1m13 0h2m32 0h2m9 0h1m15 0h1m34 0h1m5 0h1m7 0h1m4 0h1m10 0h1m35 0h2m8 0h1m16 0h2m13 0h3m14 0h1M183 829.5h1m23 0h1m4 0h2m33 0h1m34 0h1m7 0h1m36 0h1m5 0h3m70 0h2m82 0h1m10 0h1m4 0h1m13 0h2m28 0h1m4 0h1m35 0h1m2 0h1m8 0h1m2 0h1m9 0h1m21 0h1m66 0h1m5 0h1m46 0h1m66 0h3m9 0h1m13 0h2m6 0h2m45 0h1m22 0h1m1 0h2m3 0h1m26 0h1M183 848.5h3m8 0h2m2 0h1m25 0h1m27 0h1m40 0h1m20 0h1m41 0h1m33 0h2m32 0h1m1 0h1m7 0h1m52 0h1m60 0h2m12 0h1m3 0h3m40 0h1m34 0h1m22 0h1m36 0h1m17 0h1m20 0h1m3 0h1m40 0h1m2 0h3m36 0h1m11 0h1m1 0h1m11 0h3m4 0h1m30 0h2m72 0h2M193 867.5h1m9 0h3m22 0h1m11 0h2m7 0h1m18 0h2m6 0h1m55 0h2m2 0h1m14 0h3m4 0h1m19 0h1m33 0h1m4 0h1m32 0h1m2 0h1m34 0h1m3 0h2m87 0h1m125 0h2m103 0h1m23 0h1m8 0h1m1 0h2m29 0h1m33 0h2m11 0h1m12 0h1M214 886.5h2m40 0h1m11 0h2m38 0h1m101 0h1m35 0h2m19 0h1m65 0h1m92 0h1m48 0h2m18 0h2m89 0h1m55 0h1m97 0h2m1 0h2M180 895.5h1m28 0h1m11 0h1m3 0h1m5 0h2m6 0h1m34 0h1m45 0h2m36 0h1m18 0h1m18 0h1m247 0h2m35 0h2m54 0h1m47 0h1m48 0h1m5 0h1m57 0h1m10 0h1m37 0h1M303 914.5h1m8 0h1m91 0h1m24 0h1m27 0h2m18 0h1m75 0h1m88 0h2m7 0h3m48 0h1m15 0h1m34 0h1m157 0h3m35 0h3M303 933.5h1m60 0h1m17 0h1m128 0h2m107 0h1m41 0h1m62 0h1m35 0h1m90 0h2m28 0h1M432 961.5h1"/>
<path stroke="#ff9e00" stroke-width="10" d="M234 122h1M495 179h2M181 226h2m27 0h1m5 0h1m33 0h2m35 0h2m13 0h2m10 0h1m18 0h1m4 0h1m1 0h1m17 0h1m59 0h2m13 0h1m17 0h1m5 0h2m23 0h1m13 0h1m3 0h1m7 0h1m18 0h1m24 0h1m32 0h1m11 0h1m37 0h1m3 0h1m44 0h1m43 0h1m10 0h1m1 0h1m5 0h1m1 0h1m27 0h1m12 0h1m47 0h2m28 0h1m46 0h1M183 245h1m30 0h1m39 0h1m4 0h3m8 0h1m33 0h2m11 0h1m5 0h1m2 0h1m2 0h1m49 0h1m12 0h1m5 0h3m1 0h1m23 0h1m5 0h1m18 0h1m7 0h1m6 0h1m6 0h3m2 0h1m3 0h1m8 0h3m11 0h1m12 0h1m28 0h1m5 0h1m1 0h1m18 0h1m14 0h1m9 0h1m1 0h1m21 0h2m10 0h1m10 0h1m2 0h2m12 0h1m5 0h1m11 0h1m42 0h1m204 0h1M188 273h1m17 0h1m24 0h2m2 0h1m17 0h1m1 0h1m15 0h2m25 0h1m3 0h1m1 0h1m4 0h1m7 0h1m4 0h1m14 0h2m9 0h1m9 0h1m16 0h1m13 0h1m13 0h1m16 0h1m6 0h2m7 0h2m7 0h1m2 0h1m15 0h2m21 0h1m13 0h1m11 0h1m6 0h2m2 0h1m27 0h2m31 0h1m3 0h2m2 0h1m9 0h1m2 0h1m4 0h1m17 0h1m14 0h1m11 0h1m22 0h2m2 0h3m8 0h1m11 0h1m44 0h1M177 292h1m55 0h1m13 0h1m18 0h1m4 0h1m49 0h1m16 0h1m31 0h1m21 0h1m4 0h2m6 0h1m4 0h1m14 0h1m15 0h1m21 0h3m26 0h2m5 0h1m1 0h1m37 0h2m3 0h3m1 0h2m5 0h1m7 0h1m17 0h1m4 0h2m14 0h1m6 0h1m3 0h1m11 0h1m3 0h1m14 0h1m13 0h1m3 0h1m11 0h1m265 0h2M179 311h1m13 0h1m30 0h1m1 0h1m11 0h1m19 0h1m6 0h2m20 0h2m2 0h1m6 0h3m30 0h1m5 0h1m22 0h1m4 0h1m3 0h1m4 0h1m5 0h2m1 0h1m4 0h1m10 0h2m23 0h1m5 0h2m1 0h1m6 0h1m5 0h2m5 0h1m3 0h1m1 0h1m1 0h1m42 0h2m7 0h1m2 0h1m10 0h1m2 0h2m12 0h1m1 0h1m11 0h2m18 0h1m4 0h1m23 0h1m5 0h3m3 0h1m2 0h1m4 0h1m9 0h1m20 0h1m9 0h1m1 0h2m1 0h1m10 0h2m10 0h4m3 0h1m44 0h1m22 0h1M212 377h2m15 0h1m5 0h2m12 0h1m4 0h1m12 0h1m6 0h1m5 0h1m4 0h1m18 0h1m9 0h1m12 0h1m5 0h1m2 0h1m21 0h2m43 0h1m3 0h1m38 0h2m15 0h3m1 0h1m20 0h2m7 0h3m7 0h1m16 0h2m45 0h1m38 0h1m25 0h1m1 0h1m2 0h1m26 0h1m13 0h1m9 0h1m37 0h1m6 0h2m33 0h2m41 0h1m24 0h1m11 0h2m28 0h1m32 0h2m8 0h1m5 0h2m2 0h1m2 0h1m4 0h1M173 405h1m18 0h2m23 0h1m25 0h1m1 0h3m1 0h1m11 0h1m3 0h1m18 0h1m7 0h1m12 0h1m2 0h1m2 0h3m10 0h2m22 0h1m22 0h2m4 0h1m8 0h1m2 0h3m7 0h2m3 0h1m9 0h1m2 0h1m8 0h1m15 0h2m16 0h2m44 0h2m9 0h2m8 0h1m11 0h2m7 0h3m1 0h2m4 0h2m9 0h1m31 0h2m7 0h1m10 0h1m8 0h1m14 0h1m1 0h1m5 0h2m58 0h1m2 0h2m2 0h1m7 0h1m25 0h2m5 0h1m5 0h1m4 0h2m4 0h2m34 0h1m18 0h1m3 0h1m11 0h1m2 0h1m6 0h1m42 0h1m11 0h1m9 0h1m15 0h2m3 0h1M187 424h1m11 0h1m5 0h1m18 0h1m15 0h2m7 0h1m3 0h1m17 0h1m8 0h1m2 0h1m8 0h1m8 0h2m6 0h1m28 0h1m1 0h1m6 0h1m1 0h1m7 0h1m6 0h2m35 0h2m4 0h1m55 0h1m3 0h1m9 0h1m23 0h1m2 0h1m3 0h2m8 0h2m15 0h2m1 0h1m37 0h2m38 0h1m31 0h1m44 0h1m10 0h1m2 0h3m38 0h1m37 0h2m29 0h1m16 0h1m15 0h3m5 0h1m10 0h1m2 0h2m10 0h3M233 443h1m19 0h1m4 0h1m50 0h1m3 0h1m9 0h1m17 0h1m9 0h1m50 0h1m2 0h1m24 0h1m54 0h2m14 0h3m2 0h2m12 0h2m2 0h1m53 0h1m24 0h1m62 0h1m21 0h2m5 0h1m33 0h1m5 0h2m25 0h1m3 0h2m6 0h2m23 0h1m37 0h1m59 0h1m1 0h1M183 462h1m16 0h1m11 0h2m19 0h1m16 0h2m18 0h1m38 0h1m44 0h1m3 0h1m90 0h1m19 0h1m63 0h1m2 0h1m33 0h2m17 0h1m61 0h2m19 0h2m29 0h1m42 0h2m68 0h2m8 0h1M177 490h1m8 0h1m19 0h1m15 0h2m10 0h1m27 0h2m18 0h1m1 0h1m11 0h2m7 0h1m18 0h2m15 0h1m27 0h2m41 0h1m13 0h1m15 0h1m6 0h2m10 0h1m8 0h1m3 0h2m5 0h1m69 0h2m20 0h1m113 0h1m7 0h2m3 0h1m23 0h1m23 0h1m23 0h2m59 0h1m16 0h2m11 0h1m1 0h4m20 0h1m6 0h2m9 0h2m18 0h1M196 509h1m2 0h1m9 0h1m9 0h1m28 0h1m56 0h1m60 0h1m1 0h1m24 0h1m16 0h1m5 0h1m3 0h1m1 0h1m22 0h1m32 0h2m70 0h1m57 0h1m36 0h2m90 0h1m1 0h1m64 0h2m20 0h1m57 0h2M205 528h1m20 0h1m12 0h1m18 0h1m19 0h2m42 0h1m18 0h1m59 0h1m37 0h2m8 0h1m9 0h1m6 0h1m16 0h2m5 0h1m3 0h1m51 0h1m10 0h1m2 0h2m82 0h1m21 0h1m14 0h1m2 0h1m8 0h1m48 0h1m4 0h2m85 0h1m6 0h1m11 0h1m29 0h1m24 0h1m2 0h1m15 0h1M177 556h1m4 0h1m35 0h2m63 0h2m2 0h2m1 0h1m5 0h2m12 0h1m29 0h1m17 0h1m17 0h1m12 0h1m22 0h1m2 0h1m8 0h2m28 0h1m2 0h2m15 0h2m16 0h2m20 0h1m17 0h1m17 0h2m20 0h1m17 0h1m68 0h3m12 0h1m7 0h1m12 0h1m27 0h1m23 0h1m45 0h1m1 0h1m6 0h1m10 0h1m7 0h1m6 0h4m24 0h3m48 0h1m1 0h1M201 575h1m28 0h1m7 0h1m35 0h1m9 0h1m33 0h1m5 0h2m45 0h2m43 0h1m14 0h1m6 0h3m28 0h1m3 0h1m98 0h1m13 0h2m6 0h1m37 0h2m11 0h1m49 0h1m33 0h1m2 0h1m16 0h1m12 0h1m19 0h2m13 0h1m18 0h1m4 0h1m10 0h1m7 0h1m8 0h1m3 0h1m5 0h1m14 0h1m13 0h2m2 0h2m56 0h2m7 0h3m5 0h1M181 594h1m44 0h1m1 0h1m19 0h1m4 0h1m7 0h1m39 0h1m18 0h2m9 0h1m46 0h1m44 0h1m3 0h2m1 0h1m3 0h2m18 0h1m5 0h1m8 0h1m32 0h2m10 0h1m26 0h1m19 0h1m11 0h1m1 0h1m22 0h1m3 0h1m16 0h1m16 0h1m2 0h1m44 0h3m4 0h1m77 0h1m2 0h3m55 0h1m70 0h1m1 0h2m15 0h1m14 0h1m3 0h1M188 622h1m4 0h1m6 0h1m10 0h1m16 0h1m4 0h1m18 0h2m12 0h1m48 0h2m2 0h2m8 0h2m10 0h1m31 0h1m10 0h1m12 0h1m8 0h1m15 0h1m27 0h1m19 0h1m8 0h1m12 0h2m2 0h1m5 0h2m13 0h1m8 0h1m43 0h1m7 0h3m1 0h1m43 0h1m1 0h1m1 0h1m32 0h1m15 0h2m1 0h1m11 0h1m33 0h1m30 0h2m5 0h1m20 0h1m28 0h1m65 0h1m6 0h2m11 0h1m2 0h1m28 0h1M181 641h1m32 0h1m12 0h1m3 0h2m14 0h1m17 0h1m5 0h1m30 0h2m2 0h2m19 0h1m15 0h2m19 0h1m20 0h1m15 0h1m22 0h1m1 0h1m2 0h1m34 0h3m10 0h1m10 0h2m34 0h1m14 0h3m3 0h1m1 0h1m7 0h1m2 0h2m43 0h1m22 0h1m22 0h1m7 0h1m6 0h2m2 0h1m31 0h1m5 0h1m5 0h1m8 0h1m28 0h1m11 0h4m9 0h2m14 0h2m24 0h1m7 0h2m1 0h3m22 0h1m5 0h1m12 0h1m1 0h3m5 0h2m22 0h1m14 0h1m13 0h1m10 0h1M181 660h1m6 0h1m1 0h1m1 0h1m31 0h1m9 0h1m3 0h1m1 0h2m13 0h1m30 0h1m11 0h1m3 0h1m5 0h1m1 0h1m10 0h1m4 0h1m10 0h1m3 0h1m4 0h1m3 0h1m5 0h1m12 0h1m7 0h1m1 0h1m3 0h1m11 0h1m10 0h1m10 0h3m7 0h2m9 0h1m52 0h1m53 0h1m27 0h1m2 0h2m1 0h1m20 0h1m2 0h3m14 0h1m7 0h1m3 0h2m42 0h1m19 0h4m21 0h1m36 0h1m3 0h1m17 0h1m4 0h1m1 0h1m1 0h1m13 0h1m2 0h1m2 0h1m2 0h1m5 0h3m25 0h1m39 0h1m7 0h2m7 0h2m28 0h1m9 0h1m11 0h1M183 688h1m6 0h1m18 0h1m17 0h1m16 0h1m8 0h2m9 0h1m30 0h1m6 0h1m2 0h1m2 0h2m20 0h1m6 0h1m3 0h1m13 0h1m5 0h1m2 0h2m17 0h1m18 0h1m19 0h1m19 0h1m3 0h2m1 0h1m7 0h2m21 0h1m35 0h1m1 0h2m14 0h1m9 0h1m2 0h3m5 0h1m17 0h1m15 0h1m13 0h3m28 0h1m22 0h1m42 0h1m12 0h1m5 0h2m22 0h1m15 0h1m22 0h3m3 0h1m10 0h3m21 0h1m9 0h1m3 0h1m14 0h1m3 0h2m10 0h1m4 0h1m4 0h1m8 0h1m18 0h1m18 0h3m11 0h1m9 0h1m2 0h1m3 0h1m13 0h2M173 707h2m11 0h1m1 0h3m10 0h1m14 0h1m1 0h1m8 0h1m15 0h1m11 0h2m8 0h1m2 0h2m2 0h1m11 0h2m8 0h2m3 0h1m9 0h2m4 0h3m43 0h1m20 0h1m1 0h1m14 0h2m2 0h1m12 0h1m29 0h2m53 0h1m12 0h1m40 0h1m2 0h2m18 0h1m9 0h1m9 0h2m17 0h2m39 0h2m13 0h2m10 0h1m34 0h1m12 0h1m17 0h1m26 0h1m34 0h1m14 0h2m14 0h3m26 0h1m14 0h1m27 0h2m15 0h1M192 726h1m5 0h1m20 0h1m42 0h1m4 0h1m15 0h1m9 0h1m47 0h1m10 0h2m11 0h1m16 0h3m9 0h1m12 0h1m3 0h1m1 0h1m6 0h1m27 0h1m12 0h1m1 0h1m17 0h2m41 0h2m9 0h1m7 0h1m2 0h1m1 0h2m20 0h2m22 0h1m50 0h1m5 0h2m3 0h1m6 0h1m19 0h1m6 0h1m30 0h1m55 0h1m4 0h2m3 0h1m15 0h1m5 0h3m24 0h2m6 0h1m1 0h1m23 0h1m1 0h1m10 0h1m6 0h1m29 0h2m11 0h2m1 0h2m25 0h2M186 745h1m7 0h2m19 0h1m3 0h2m5 0h1m3 0h1m5 0h1m13 0h2m1 0h1m59 0h1m51 0h1m5 0h2m4 0h1m11 0h1m7 0h1m1 0h2m14 0h1m5 0h1m7 0h1m27 0h1m8 0h3m5 0h3m8 0h1m2 0h1m33 0h1m7 0h2m28 0h1m2 0h1m16 0h1m10 0h1m25 0h1m13 0h1m9 0h1m21 0h1m6 0h2m9 0h1m10 0h2m3 0h1m17 0h1m3 0h1m3 0h1m5 0h1m2 0h1m2 0h2m1 0h1m1 0h1m12 0h3m3 0h1m26 0h1m9 0h1m1 0h1m15 0h1m8 0h1m10 0h1m36 0h1m7 0h2m3 0h2m13 0h2m10 0h3m3 0h1m3 0h1m21 0h1m1 0h1m3 0h1m4 0h1m6 0h1m4 0h1m3 0h2M179 773h1m26 0h2m26 0h1m4 0h1m8 0h2m4 0h1m1 0h1m8 0h1m2 0h2m12 0h1m7 0h1m8 0h1m5 0h3m6 0h1m36 0h1m9 0h1m2 0h1m30 0h1m26 0h1m2 0h1m5 0h1m1 0h2m24 0h1m3 0h1m56 0h2m35 0h1m20 0h1m30 0h1m1 0h1m34 0h3m18 0h1m4 0h1m12 0h1m27 0h1m12 0h2m19 0h2m2 0h1m11 0h2m2 0h1m32 0h2m15 0h1m8 0h1m22 0h1m28 0h1m43 0h2m5 0h1m7 0h1M194 792h2m53 0h1m24 0h1m28 0h1m8 0h2m43 0h2m18 0h1m5 0h1m14 0h1m21 0h1m1 0h2m61 0h2m19 0h1m19 0h1m15 0h1m26 0h2m9 0h1m7 0h1m9 0h1m39 0h2m2 0h2m3 0h1m39 0h1m3 0h1m3 0h1m37 0h1m28 0h1m21 0h1m12 0h1m5 0h1m40 0h1m5 0h1m5 0h2m11 0h1m38 0h1m22 0h2m6 0h1m5 0h1m16 0h1M179 811h1m25 0h1m11 0h1m25 0h1m32 0h1m12 0h1m13 0h1m19 0h3m5 0h1m15 0h1m51 0h2m13 0h1m72 0h1m27 0h1m17 0h1m44 0h2m12 0h1m21 0h2m11 0h1m9 0h1m8 0h1m15 0h1m15 0h1m9 0h2m50 0h1m8 0h1m19 0h1m10 0h2m48 0h1m1 0h1m8 0h2m25 0h1m3 0h1m2 0h2m50 0h1m19 0h1M175 839h2m31 0h1m28 0h2m75 0h3m53 0h1m51 0h1m7 0h2m65 0h1m71 0h1m107 0h1m166 0h1m1 0h3m52 0h2m37 0h2M178 858h1m2 0h1m12 0h2m53 0h1m24 0h1m1 0h1m47 0h2m15 0h1m13 0h1m18 0h1m206 0h1m7 0h1m9 0h1m34 0h1m70 0h1m82 0h2m35 0h1m10 0h1m24 0h2m93 0h2M187 877h1m9 0h1m2 0h1m32 0h1m1 0h1m7 0h1m12 0h1m92 0h1m27 0h2m11 0h2m14 0h1m85 0h2m48 0h2m58 0h1m55 0h1m16 0h2m53 0h1m77 0h1m3 0h1m57 0h1M207 905h1m62 0h1m46 0h1m29 0h1m18 0h1m19 0h1m3 0h2m121 0h1m23 0h1m9 0h3m91 0h1m41 0h1m223 0h1M191 924h1m24 0h1m113 0h2m29 0h1m2 0h2m36 0h1m92 0h2m5 0h2m15 0h1m125 0h1m139 0h1m56 0h1m2 0h1m36 0h2m28 0h2"/>
<path stroke="#ff9000" stroke-width="9" d="M264 216.5h1m46 0h1m80 0h1m47 0h1m9 0h2m85 0h1m278 0h1m35 0h1M209 235.5h1m21 0h2m14 0h1m28 0h1m127 0h1m40 0h1m51 0h1m36 0h1m102 0h2m19 0h1m149 0h1M174 254.5h1m6 0h1m8 0h1m14 0h1m9 0h1m8 0h1m2 0h1m8 0h1m30 0h1m8 0h1m10 0h2m6 0h1m7 0h1m1 0h1m22 0h1m1 0h1m2 0h1m11 0h1m4 0h1m4 0h1m11 0h1m6 0h1m13 0h1m3 0h1m18 0h2m4 0h1m2 0h1m19 0h1m7 0h1m5 0h1m6 0h1m8 0h1m12 0h2m10 0h1m21 0h1m25 0h1m7 0h1m21 0h1m5 0h1m9 0h1m1 0h1m2 0h1m12 0h1m24 0h2m25 0h3m5 0h1m10 0h1m4 0h1m7 0h1m1 0h1m7 0h1m26 0h1m13 0h1m13 0h2m1 0h1m2 0h1m158 0h1m27 0h1M178 263.5h1m5 0h2m28 0h2m1 0h1m16 0h1m3 0h1m5 0h1m8 0h1m20 0h1m10 0h1m7 0h1m9 0h1m28 0h2m3 0h1m7 0h1m6 0h2m44 0h1m7 0h2m18 0h1m2 0h1m5 0h1m9 0h1m6 0h1m5 0h1m18 0h1m5 0h2m1 0h1m15 0h2m4 0h1m17 0h1m12 0h2m21 0h1m19 0h1m14 0h1m11 0h1m4 0h2m2 0h1m21 0h1m12 0h1m38 0h1m19 0h1m39 0h1m5 0h1m7 0h1M177 282.5h2m2 0h1m11 0h1m4 0h2m36 0h1m5 0h2m9 0h2m43 0h1m5 0h1m27 0h2m2 0h2m17 0h1m4 0h1m4 0h1m7 0h1m29 0h1m4 0h2m19 0h2m13 0h1m8 0h1m9 0h3m52 0h1m31 0h1m2 0h1m4 0h2m10 0h1m7 0h1m2 0h1m6 0h2m26 0h1m11 0h2m4 0h1m11 0h1m17 0h1m10 0h1m6 0h1m18 0h1m18 0h1M177 301.5h1m15 0h1m31 0h1m23 0h1m22 0h1m13 0h1m3 0h1m2 0h1m10 0h1m1 0h2m18 0h1m6 0h1m6 0h2m24 0h1m4 0h2m28 0h1m1 0h2m27 0h1m1 0h1m8 0h1m5 0h1m8 0h1m7 0h1m6 0h1m2 0h1m13 0h1m5 0h1m4 0h1m15 0h1m4 0h2m13 0h1m1 0h2m7 0h2m14 0h1m10 0h1m2 0h1m7 0h2m2 0h1m1 0h1m4 0h1m8 0h1m5 0h1m8 0h2m13 0h1m23 0h2m4 0h3m3 0h1m8 0h2m1 0h1m7 0h1m9 0h1m16 0h1m8 0h1m221 0h2m12 0h1M181 329.5h2m13 0h1m2 0h1m17 0h2m5 0h1m38 0h1m10 0h1m15 0h2m14 0h2m2 0h1m11 0h1m4 0h1m11 0h1m7 0h2m15 0h1m11 0h1m3 0h2m12 0h1m7 0h1m13 0h1m4 0h2m1 0h1m7 0h1m3 0h2m22 0h1m5 0h1m4 0h2m3 0h2m2 0h1m9 0h1m8 0h1m2 0h3m3 0h1m4 0h1m22 0h1m23 0h1m15 0h2m21 0h1m1 0h1m9 0h2m5 0h1m6 0h1m4 0h1m7 0h1m8 0h1m3 0h2m25 0h1m43 0h1m2 0h1m6 0h2M193 348.5h1m8 0h1m15 0h1m30 0h3m9 0h1m3 0h1m1 0h1m2 0h1m5 0h1m3 0h1m6 0h2m3 0h1m1 0h1m6 0h2m7 0h1m6 0h1m2 0h1m5 0h1m1 0h1m8 0h1m1 0h1m7 0h1m1 0h1m2 0h2m2 0h1m1 0h1m9 0h1m18 0h1m1 0h1m14 0h1m6 0h2m12 0h1m8 0h2m5 0h1m2 0h2m6 0h1m17 0h1m2 0h1m13 0h1m1 0h1m4 0h1m22 0h3m43 0h1m27 0h1m1 0h2m2 0h1m15 0h1m8 0h1m8 0h1m10 0h2m35 0h2m60 0h1M183 367.5h1m172 0h1m5 0h2m74 0h1m37 0h1m87 0h1m44 0h1m4 0h2m21 0h1m65 0h1m21 0h3m16 0h2m32 0h2m7 0h1m36 0h1m8 0h1m25 0h2M209 386.5h1m68 0h2m28 0h1m29 0h2m11 0h1m9 0h1m41 0h1m1 0h1m2 0h2m1 0h1m42 0h1m35 0h1m42 0h1m21 0h1m78 0h1m4 0h1m9 0h1m27 0h1m6 0h1m96 0h1m33 0h1m11 0h1m43 0h1m1 0h1m23 0h2M190 395.5h1m8 0h1m14 0h1m13 0h1m9 0h1m20 0h2m47 0h1m5 0h1m18 0h1m27 0h1m12 0h1m8 0h1m61 0h1m8 0h3m159 0h1m28 0h1m52 0h2m24 0h1m106 0h3m31 0h1m30 0h2m29 0h1m6 0h1m33 0h2M198 414.5h1m2 0h1m5 0h1m6 0h1m31 0h1m39 0h1m19 0h2m26 0h2m110 0h2m21 0h1m20 0h1m33 0h1m1 0h2m37 0h1m15 0h1m21 0h1m121 0h3m87 0h2m14 0h1m8 0h1m81 0h3m24 0h1M189 433.5h1m1 0h1m28 0h1m3 0h1m40 0h1m1 0h1m43 0h3m1 0h2m14 0h1m41 0h1m4 0h1m78 0h1m19 0h1m45 0h1m99 0h3m142 0h1m94 0h1m65 0h1m34 0h1M396 452.5h1m73 0h1m42 0h1m79 0h1m94 0h2m51 0h1m105 0h2M177 471.5h1m22 0h1m13 0h2m68 0h1m82 0h1m105 0h1m96 0h1m17 0h1m74 0h1m57 0h1m109 0h1m9 0h1m3 0h2m88 0h1M177 480.5h1m1 0h1m162 0h1m71 0h2m62 0h1m83 0h1m274 0h1m52 0h1m53 0h1M239 499.5h1m78 0h1m3 0h1m50 0h1m4 0h1m6 0h1m30 0h1m87 0h1m48 0h1m237 0h3m83 0h3M424 518.5h1m230 0h1m126 0h2m28 0h1m27 0h1m83 0h2M196 537.5h1m8 0h1m33 0h1m12 0h1m65 0h2m249 0h1m109 0h2m115 0h1m7 0h1m4 0h3m26 0h2M205 546.5h1m83 0h1m10 0h1m131 0h1m129 0h1m27 0h1m22 0h1m71 0h1m2 0h3M173 565.5h1m3 0h1m20 0h1m8 0h2m149 0h1m24 0h2m78 0h1m13 0h1m82 0h1m24 0h1m17 0h1m2 0h1m3 0h1m115 0h2m34 0h1m41 0h1m35 0h1m52 0h1M227 584.5h1m31 0h3m11 0h1m13 0h2m5 0h1m8 0h1m22 0h1m50 0h1m99 0h1m8 0h1m14 0h1m7 0h1m98 0h1m5 0h2m151 0h1m81 0h1m8 0h1m2 0h2m73 0h1M186 603.5h1m1 0h1m48 0h1m11 0h1m23 0h1m17 0h1m16 0h2m29 0h1m29 0h1m204 0h1m4 0h1m20 0h1m13 0h2m2 0h1m25 0h1m18 0h1m4 0h1m31 0h1m1 0h1m32 0h2m13 0h1m90 0h1m10 0h1m11 0h1m26 0h1m25 0h3m2 0h2M173 612.5h1m9 0h1m16 0h1m60 0h1m1 0h1m28 0h1m26 0h1m37 0h1m45 0h1m78 0h1m2 0h1m4 0h1m1 0h2m100 0h3m24 0h1m66 0h2m16 0h1m9 0h2m5 0h2m6 0h2m33 0h1m51 0h3m16 0h3m1 0h1m10 0h1m21 0h3M228 631.5h2m5 0h1m37 0h1m188 0h1m26 0h1m21 0h2m53 0h1m78 0h2m35 0h1m5 0h2m112 0h1m30 0h1m1 0h1m1 0h3m68 0h1m5 0h1m43 0h1M186 650.5h1m38 0h1m84 0h2m1 0h1m28 0h3m79 0h1m8 0h1m7 0h1m11 0h1m4 0h1m37 0h1m36 0h1m23 0h1m22 0h1m14 0h2m39 0h1m78 0h3m41 0h1m92 0h2m39 0h1m3 0h1m72 0h2M180 669.5h1m6 0h1m14 0h1m4 0h1m22 0h1m18 0h1m18 0h2m7 0h1m8 0h1m33 0h1m6 0h1m19 0h1m9 0h1m30 0h1m13 0h1m10 0h1m28 0h1m40 0h2m7 0h2m1 0h2m32 0h1m3 0h1m9 0h2m50 0h2m12 0h1m26 0h1m25 0h1m7 0h3m3 0h1m23 0h1m20 0h1m32 0h2m12 0h1m8 0h1m22 0h3m1 0h1m19 0h1m11 0h1m5 0h1m9 0h1m24 0h2m18 0h1m2 0h1m8 0h1M248 678.5h1m12 0h3m19 0h1m25 0h1m8 0h1m5 0h3m27 0h1m29 0h1m8 0h1m14 0h2m7 0h1m16 0h1m50 0h2m4 0h1m5 0h1m3 0h1m2 0h4m5 0h1m39 0h2m30 0h1m48 0h1m30 0h1m26 0h1m32 0h1m6 0h1m33 0h1m19 0h2m34 0h1m15 0h2m13 0h1m4 0h1m70 0h4m31 0h1M173 697.5h1m12 0h1m19 0h1m2 0h1m24 0h1m3 0h1m81 0h1m1 0h4m31 0h1m10 0h1m83 0h1m4 0h1m66 0h2m76 0h2m6 0h1m12 0h5m18 0h1m12 0h1m3 0h1m20 0h1m15 0h1m65 0h1m83 0h1m55 0h1m13 0h1m27 0h1m4 0h2m11 0h1m3 0h2M186 716.5h1m7 0h2m9 0h1m1 0h1m4 0h2m29 0h1m4 0h1m26 0h1m9 0h1m22 0h1m6 0h2m6 0h1m8 0h1m28 0h1m16 0h2m22 0h1m70 0h1m16 0h1m9 0h1m31 0h2m37 0h1m63 0h1m22 0h1m11 0h2m48 0h1m13 0h1m87 0h1m1 0h2m1 0h3m5 0h2m8 0h1M181 735.5h1m56 0h1m6 0h2m14 0h1m38 0h1m36 0h1m16 0h1m19 0h1m9 0h1m22 0h1m12 0h1m33 0h1m14 0h1m20 0h1m9 0h1m91 0h1m4 0h2m27 0h1m26 0h1m70 0h1m34 0h1m26 0h1m20 0h1m10 0h3m21 0h1m49 0h1m36 0h2m32 0h1M175 754.5h3m2 0h1m17 0h1m9 0h2m1 0h1m2 0h1m10 0h1m14 0h2m7 0h1m5 0h1m25 0h1m1 0h1m14 0h1m29 0h1m12 0h2m14 0h2m30 0h1m52 0h2m32 0h1m17 0h1m23 0h1m193 0h1m29 0h1m27 0h1m70 0h1m8 0h1M191 763.5h1m50 0h1m9 0h1m41 0h1m3 0h1m10 0h2m11 0h1m14 0h1m46 0h2m81 0h1m32 0h2m43 0h1m28 0h1m44 0h1m11 0h1m35 0h1m20 0h2m52 0h1m7 0h1m1 0h1m5 0h2m115 0h4m7 0h2M207 782.5h1m76 0h1m25 0h1m21 0h2m12 0h2m47 0h1m18 0h1m16 0h2m40 0h1m43 0h1m2 0h2m38 0h1m51 0h2m2 0h1m8 0h1m4 0h1m3 0h1m12 0h1m5 0h1m24 0h1m9 0h2m31 0h1m6 0h1m5 0h1m31 0h1m20 0h1m12 0h2m92 0h2m58 0h1M318 801.5h1m33 0h2m82 0h2m23 0h1m9 0h1m10 0h1m93 0h2m254 0h1m1 0h1m11 0h3m16 0h4m17 0h1M188 820.5h1m3 0h1m66 0h2m4 0h1m12 0h4m11 0h1m30 0h2m1 0h1m75 0h1m70 0h2m46 0h1m67 0h1m34 0h1m46 0h2m117 0h2m4 0h1m38 0h1m3 0h1m3 0h1m2 0h2m53 0h1m54 0h1M198 829.5h2m48 0h1m71 0h2m156 0h1m111 0h1m13 0h2m15 0h1m43 0h1m44 0h1m69 0h1m55 0h1m9 0h1m2 0h1m80 0h1M199 848.5h1m115 0h2m38 0h1m143 0h1m145 0h1m98 0h3m99 0h3m3 0h1m1 0h1m38 0h1m36 0h1m36 0h1M222 867.5h2m135 0h1m16 0h1m24 0h1m87 0h1m90 0h1m21 0h1m157 0h1m101 0h1m1 0h1m46 0h1m14 0h1M249 886.5h3M219 895.5h2m8 0h1m17 0h1m19 0h3m310 0h1m145 0h2m109 0h1m3 0h1m3 0h1M294 914.5h1m22 0h1m85 0h1m34 0h1m13 0h2m24 0h1m428 0h1M724 933.5h1m158 0h1"/>
<path stroke="#ff9000" stroke-width="10" d="M190 226h1m67 0h1m30 0h1m14 0h1m10 0h2m10 0h1m11 0h1m27 0h2m19 0h1m31 0h1m24 0h1m6 0h1m48 0h1m5 0h1m218 0h2m22 0h2m37 0h1M175 292h2m15 0h1m19 0h2m8 0h3m15 0h2m3 0h1m2 0h1m44 0h1m29 0h3m34 0h1m4 0h1m1 0h2m13 0h1m1 0h1m9 0h1m9 0h1m3 0h2m2 0h1m2 0h1m11 0h2m3 0h1m5 0h2m4 0h2m24 0h1m6 0h1m5 0h2m4 0h1m5 0h2m10 0h1m7 0h1m3 0h1m3 0h1m13 0h1m3 0h1m14 0h1m1 0h2m14 0h1m20 0h2m9 0h2m3 0h1m7 0h1m10 0h1m6 0h1m7 0h1m27 0h1m30 0h1m4 0h1m31 0h1m25 0h1m32 0h2m108 0h1m1 0h2m43 0h1m4 0h1M183 339h1m13 0h1m18 0h1m4 0h4m11 0h1m18 0h1m10 0h1m10 0h1m2 0h1m3 0h1m5 0h1m2 0h1m9 0h1m7 0h1m3 0h2m13 0h1m11 0h1m13 0h1m7 0h1m8 0h1m5 0h1m12 0h1m1 0h1m1 0h1m45 0h1m1 0h1m10 0h2m2 0h1m20 0h1m2 0h2m1 0h1m9 0h1m32 0h1m2 0h1m5 0h1m5 0h1m1 0h1m9 0h2m3 0h1m1 0h1m9 0h1m5 0h1m14 0h1m28 0h2m3 0h2m9 0h1m8 0h1m8 0h1m16 0h1m10 0h1m17 0h1m2 0h1m82 0h1m176 0h1M177 358h2m73 0h2m14 0h5m60 0h1m21 0h1m10 0h2m37 0h1m1 0h1m12 0h1m10 0h1m6 0h1m3 0h2m7 0h1m7 0h1m3 0h1m8 0h1m8 0h1m19 0h1m4 0h1m8 0h1m34 0h1m1 0h1m1 0h1m2 0h1m4 0h2m15 0h1m27 0h1m6 0h2m1 0h2m3 0h1m2 0h1m10 0h1m3 0h1m4 0h1m2 0h1m6 0h1m9 0h1m10 0h1m5 0h1m56 0h1m30 0h1m172 0h1m8 0h1M255 377h1m49 0h1m7 0h1m20 0h2m49 0h2m186 0h1m117 0h1m14 0h1m124 0h1m54 0h1m30 0h1m11 0h2M210 405h2m14 0h1m23 0h2m14 0h2m14 0h1m54 0h1m7 0h3m7 0h1m12 0h2m28 0h1m4 0h1m12 0h1m55 0h1m10 0h2m23 0h1m29 0h1m6 0h1m19 0h1m7 0h1m5 0h1m6 0h2m10 0h1m66 0h1m31 0h1m31 0h1m82 0h2m41 0h1m4 0h1m11 0h1m13 0h1M209 424h1m12 0h2m15 0h1m42 0h1m56 0h1m87 0h2m35 0h2m2 0h1m33 0h2m3 0h1m29 0h1m18 0h1m21 0h1m124 0h1m1 0h1m7 0h1m156 0h1m19 0h2m78 0h2M193 443h1m26 0h1m10 0h2m23 0h1m4 0h1m48 0h1m21 0h1m70 0h1m115 0h1m2 0h1m68 0h1m6 0h1m30 0h1m74 0h1m112 0h1m20 0h2m60 0h1M236 462h2m101 0h1m20 0h1m90 0h1m15 0h1m180 0h1m61 0h1m18 0h1m32 0h1m64 0h1m17 0h2m7 0h1M283 490h1m141 0h1m17 0h1m42 0h1m33 0h2m194 0h2m146 0h1m52 0h1M198 509h1m63 0h1m14 0h3m169 0h1m101 0h1m103 0h1m82 0h1m12 0h1m80 0h1m9 0h1m17 0h1m25 0h2m82 0h2M203 528h2m72 0h1m182 0h2m6 0h2m39 0h2m16 0h1m25 0h1m4 0h2m81 0h3m43 0h1m140 0h3m21 0h1m56 0h1m30 0h2M178 556h1m10 0h1m12 0h1m86 0h1m106 0h2m78 0h1m20 0h1m13 0h2m145 0h1m5 0h1m16 0h1m14 0h1m31 0h1m65 0h1m19 0h1m26 0h1m13 0h1M177 575h2m7 0h1m3 0h1m82 0h1m45 0h1m13 0h1m30 0h1m109 0h2m47 0h2m171 0h6m59 0h1m43 0h1m13 0h2m12 0h2M190 594h1m1 0h1m18 0h3m13 0h1m14 0h2m15 0h2m14 0h1m5 0h1m12 0h2m6 0h1m16 0h1m86 0h1m22 0h1m25 0h2m15 0h1m28 0h1m9 0h2m35 0h2m14 0h1m7 0h1m27 0h2m2 0h2m73 0h2m9 0h1m39 0h1m21 0h1m146 0h2m20 0h1M208 622h1m8 0h1m64 0h1m18 0h2m18 0h1m52 0h1m8 0h1m55 0h1m42 0h3m9 0h2m8 0h1m19 0h2m12 0h4m14 0h1m3 0h1m13 0h1m43 0h1m1 0h1m80 0h1m77 0h1m6 0h1m13 0h2m8 0h2m71 0h1m24 0h1m16 0h1m2 0h1M319 641h1m21 0h1m17 0h2m19 0h2m4 0h1m12 0h2m24 0h1m1 0h2m12 0h2m33 0h1m46 0h1m11 0h2m11 0h2m25 0h1m93 0h1m11 0h1m55 0h1m41 0h2m14 0h1m50 0h1m7 0h1m8 0h1m95 0h2M183 660h1m5 0h1m3 0h1m24 0h2m2 0h2m13 0h1m9 0h1m4 0h1m20 0h1m27 0h1m9 0h1m12 0h2m25 0h1m5 0h1m20 0h1m24 0h1m3 0h1m43 0h1m2 0h1m27 0h1m14 0h1m67 0h1m16 0h1m7 0h1m35 0h2m41 0h1m13 0h2m31 0h2m56 0h1m6 0h1m4 0h1m30 0h1m40 0h2m11 0h2m29 0h1m39 0h1m11 0h1M187 688h1m19 0h2m31 0h3m3 0h1m2 0h1m32 0h1m16 0h1m4 0h1m28 0h1m5 0h1m19 0h1m16 0h1m40 0h3m11 0h1m9 0h1m3 0h1m2 0h1m4 0h1m9 0h4m87 0h1m35 0h1m20 0h1m2 0h2m40 0h1m106 0h3m20 0h2m27 0h1m6 0h1m9 0h1m9 0h1m23 0h2m20 0h1m26 0h1m24 0h2M180 707h2m27 0h1m32 0h1m18 0h1m24 0h1m21 0h1m11 0h1m5 0h2m12 0h1m33 0h1m15 0h2m5 0h1m10 0h2m16 0h3m39 0h1m33 0h3m42 0h1m3 0h2m10 0h1m3 0h2m14 0h1m20 0h2m1 0h1m76 0h1m34 0h1m43 0h2m1 0h1m75 0h1m4 0h2m40 0h1m17 0h1m18 0h1M237 726h1m2 0h2m15 0h1m3 0h1m1 0h1m2 0h1m65 0h2m6 0h1m25 0h1m25 0h1m13 0h1m15 0h1m53 0h1m2 0h1m64 0h1m2 0h1m37 0h1m2 0h1m2 0h1m1 0h1m52 0h1m2 0h1m38 0h2m4 0h1m25 0h1m21 0h1m3 0h1m22 0h1m18 0h1m15 0h1m35 0h1m4 0h1m13 0h1m11 0h1M193 745h1m13 0h2m1 0h1m5 0h1m16 0h1m21 0h2m21 0h2m3 0h1m20 0h1m9 0h3m10 0h1m10 0h2m5 0h2m41 0h1m9 0h1m17 0h1m23 0h1m9 0h1m57 0h1m8 0h1m43 0h1m26 0h1m23 0h1m3 0h1m13 0h1m44 0h1m9 0h1m10 0h1m31 0h1m5 0h1m47 0h2m13 0h1m8 0h1m6 0h1m26 0h1m31 0h1m2 0h2m10 0h1m10 0h1m25 0h1m3 0h2m35 0h1M229 773h1m72 0h1m10 0h1m68 0h1m28 0h1m1 0h1m18 0h1m2 0h1m22 0h1m43 0h2m23 0h2m25 0h1m8 0h1m24 0h1m6 0h3m2 0h2m10 0h1m32 0h1m38 0h1m15 0h1m27 0h2m35 0h1m6 0h2m2 0h1m10 0h2m34 0h1m8 0h1m12 0h1m16 0h1m3 0h2M191 792h1m55 0h1m4 0h1m22 0h1m2 0h2m96 0h1m41 0h2m4 0h1m57 0h1m34 0h1m23 0h1m21 0h1m26 0h1m50 0h1m4 0h1m11 0h1m139 0h1m50 0h1m92 0h1m25 0h2M203 811h2m31 0h1m15 0h2m2 0h1m28 0h1m93 0h1m21 0h1m11 0h1m12 0h1m101 0h1m64 0h1m35 0h1m6 0h1m8 0h1m3 0h1m98 0h1m39 0h1m65 0h4m22 0h3m25 0h1M261 839h1m33 0h1m127 0h1m168 0h1m71 0h1m177 0h2M186 858h1m21 0h1m66 0h1M181 877h1m52 0h1m7 0h1m55 0h1m90 0h1m43 0h2m82 0h1m85 0h1m206 0h2m32 0h1m24 0h1M258 905h3m3 0h1m1 0h1m51 0h1m68 0h1m202 0h1m252 0h1m2 0h1m24 0h1M501 924h1m341 0h1m2 0h1m2 0h1"/>
<path stroke="#ff8100" stroke-width="9" d="M175 216.5h2m275 0h1m14 0h2M277 235.5h1m17 0h1M180 254.5h1m36 0h1m16 0h1m14 0h1m6 0h1m16 0h1m4 0h2m9 0h2m13 0h1m5 0h1m11 0h1m3 0h1m2 0h1m12 0h3m7 0h3m3 0h1m5 0h1m1 0h1m13 0h2m14 0h1m37 0h2m5 0h1m3 0h1m50 0h1m4 0h1m2 0h2m1 0h1m2 0h1m3 0h1m7 0h1m1 0h1m5 0h2m6 0h1m14 0h1m3 0h1m3 0h1m1 0h1m3 0h2m2 0h1m2 0h1m6 0h1m19 0h2m3 0h1m1 0h1m11 0h1m5 0h1m4 0h1m3 0h1m1 0h1m3 0h1m5 0h1m2 0h1m11 0h2m1 0h1m15 0h1m16 0h3M179 263.5h1m10 0h2m1 0h3m25 0h1m3 0h1m22 0h1m3 0h1m4 0h1m18 0h1m7 0h1m6 0h2m2 0h1m9 0h1m7 0h1m5 0h1m1 0h1m20 0h1m18 0h1m4 0h1m1 0h1m2 0h3m15 0h1m23 0h1m22 0h2m10 0h1m13 0h1m50 0h1m9 0h1m17 0h1m1 0h3m17 0h1m7 0h1m2 0h1m13 0h2m2 0h2m8 0h1m10 0h1m37 0h2m7 0h2m5 0h2m3 0h1m2 0h1m9 0h1m9 0h1m6 0h2m24 0h1m1 0h1m6 0h1m6 0h2m2 0h1m21 0h1m8 0h1m187 0h1M187 282.5h1m12 0h1m1 0h1m17 0h1m7 0h2m10 0h2m22 0h1m7 0h1m17 0h1m1 0h1m3 0h2m1 0h1m2 0h2m5 0h1m11 0h1m7 0h1m8 0h1m7 0h1m17 0h1m28 0h1m1 0h1m14 0h1m2 0h1m1 0h1m2 0h3m4 0h4m5 0h1m17 0h1m2 0h2m16 0h1m5 0h1m5 0h1m20 0h2m1 0h1m1 0h2m7 0h2m8 0h2m39 0h1m26 0h1m4 0h1m7 0h1m7 0h1m20 0h1m19 0h2m1 0h1m4 0h1m10 0h2m15 0h2m80 0h1m118 0h1m29 0h1m19 0h1M194 320.5h2m22 0h3m3 0h1m5 0h3m4 0h1m8 0h1m2 0h1m21 0h2m3 0h1m9 0h1m4 0h1m4 0h2m14 0h1m11 0h2m3 0h1m3 0h1m9 0h3m1 0h1m3 0h3m5 0h1m29 0h1m14 0h1m20 0h2m22 0h1m4 0h1m2 0h2m2 0h1m7 0h1m4 0h2m2 0h2m5 0h1m14 0h1m15 0h1m35 0h1m1 0h1m7 0h1m12 0h3m2 0h1m5 0h2m4 0h1m25 0h1m2 0h1m5 0h1m22 0h1m6 0h1m5 0h1m4 0h1m25 0h2m5 0h1m2 0h1m1 0h1m26 0h1m3 0h1m21 0h1m205 0h1M174 329.5h1m5 0h1m16 0h1m2 0h1m6 0h2m10 0h3m3 0h1m24 0h3m2 0h1m6 0h1m1 0h1m2 0h1m13 0h1m10 0h2m5 0h1m5 0h1m3 0h1m3 0h1m5 0h1m10 0h1m5 0h1m36 0h1m15 0h1m11 0h1m5 0h3m17 0h2m5 0h1m6 0h1m2 0h1m22 0h1m2 0h1m20 0h1m17 0h1m12 0h1m15 0h4m9 0h1m1 0h1m11 0h2m4 0h2m2 0h1m4 0h1m8 0h1m36 0h1m2 0h1m6 0h1m5 0h2m20 0h1m1 0h1m46 0h1m79 0h1m164 0h1M181 348.5h1m4 0h1m13 0h1m11 0h2m3 0h1m4 0h2m12 0h1m9 0h1m7 0h1m13 0h2m2 0h1m35 0h1m4 0h1m4 0h1m24 0h2m5 0h1m11 0h2m9 0h1m10 0h1m8 0h1m8 0h1m10 0h1m1 0h1m10 0h1m5 0h1m9 0h1m14 0h1m5 0h1m8 0h1m5 0h1m7 0h1m4 0h1m5 0h1m25 0h1m9 0h1m1 0h1m15 0h1m21 0h1m2 0h2m2 0h1m2 0h1m15 0h1m8 0h1m12 0h1m5 0h1m7 0h1m11 0h1m14 0h1m4 0h1m4 0h1m1 0h2m11 0h1m6 0h2m23 0h1m10 0h1m37 0h1M227 367.5h1m65 0h3m65 0h1m173 0h1m29 0h1m47 0h1m58 0h1m96 0h1M183 386.5h1m23 0h2m68 0h1m12 0h1m78 0h1m34 0h1m1 0h2m81 0h1m56 0h1m78 0h2m5 0h2m16 0h1m121 0h2m98 0h1M191 395.5h1m23 0h2m229 0h3m183 0h2m41 0h1m21 0h1m231 0h1m7 0h1M218 414.5h2m52 0h1m12 0h1m316 0h1m158 0h1m76 0h2m40 0h1M190 433.5h1m34 0h1m708 0h1M377 452.5h1m312 0h1m149 0h2M306 471.5h2m261 0h1m266 0h1m99 0h1M443 480.5h1m394 0h3m4 0h2m39 0h1m56 0h1m3 0h1M386 499.5h1M352 518.5h2m483 0h3m5 0h1M440 565.5h1m163 0h2M226 584.5h1m68 0h3m26 0h2m290 0h1m151 0h1m69 0h2m10 0h1M250 603.5h2m23 0h1m11 0h2m15 0h2m45 0h1m3 0h1m306 0h1m38 0h1m35 0h1m13 0h1m101 0h1m45 0h1M262 612.5h1m57 0h1m18 0h1m64 0h1m78 0h2m160 0h1m121 0h1m160 0h1M199 631.5h1m190 0h2m121 0h1m172 0h2m115 0h1m26 0h1m9 0h1m29 0h1M184 650.5h2m11 0h1m225 0h1m33 0h1m39 0h2m98 0h2m29 0h1m19 0h1M287 669.5h2m2 0h1m63 0h1m9 0h3m44 0h1m35 0h2m50 0h2m26 0h1m5 0h1m17 0h1m22 0h3m225 0h1m39 0h1m50 0h3M189 678.5h1m21 0h1m21 0h1m182 0h1m28 0h1m46 0h2m8 0h2m11 0h2m108 0h1m6 0h2m187 0h1m19 0h1m2 0h1m7 0h1m6 0h1m103 0h1M184 697.5h2m19 0h1m9 0h1m21 0h1m63 0h1m12 0h1m4 0h1m14 0h3m94 0h1m104 0h1m34 0h1m20 0h1m2 0h2m12 0h1m37 0h1m3 0h2m86 0h1m167 0h1M206 716.5h1m15 0h2m3 0h2m16 0h1m57 0h1m5 0h1m16 0h1m6 0h1m28 0h2m18 0h1m116 0h1m34 0h1m18 0h1m105 0h1m78 0h2m97 0h1m5 0h2m15 0h1M229 735.5h1m22 0h1m85 0h1m36 0h1m9 0h1m22 0h3m44 0h4m20 0h1m52 0h1m51 0h1m8 0h1m38 0h2m28 0h1m33 0h2m63 0h1m44 0h1M200 754.5h2m20 0h2m4 0h2m52 0h1m1 0h1m42 0h1m69 0h2m78 0h1m1 0h1m37 0h1m11 0h1m119 0h1m119 0h1m75 0h1M292 763.5h1m28 0h1m58 0h2m70 0h2m50 0h1m32 0h1m6 0h1m87 0h3m23 0h2m54 0h1m28 0h1m7 0h1m5 0h1M181 782.5h1m17 0h1m73 0h1m115 0h1m43 0h1m14 0h1m1 0h1m7 0h1m15 0h2m57 0h1m46 0h1m45 0h2m160 0h1m13 0h1m104 0h1M319 801.5h2m41 0h3m218 0h1m249 0h1m9 0h2M219 820.5h1m26 0h1m17 0h1m43 0h1m12 0h1M259 848.5h2m584 0h1m7 0h1M377 867.5h1m485 0h1M843 886.5h1M203 895.5h3m20 0h1m3 0h1m42 0h1m119 0h1m441 0h1m2 0h2m2 0h3"/>
<path stroke="#ff8100" stroke-width="10" d="M178 226h2m72 0h1m4 0h1m47 0h1m84 0h2m29 0h1m22 0h1m295 0h1M175 245h2m14 0h1m9 0h1m9 0h1m5 0h1m13 0h2m29 0h1m8 0h1m4 0h1m22 0h1m1 0h2m12 0h2m14 0h1m1 0h1m4 0h1m9 0h1m3 0h2m2 0h1m3 0h1m6 0h3m4 0h1m22 0h1m3 0h1m23 0h1m12 0h1m14 0h1m1 0h2m4 0h1m40 0h3m32 0h1m24 0h1m18 0h1m6 0h1m3 0h1m1 0h3m6 0h3m5 0h3m5 0h1m24 0h1m2 0h1m10 0h1m18 0h1m5 0h1m3 0h1m2 0h2m9 0h1m12 0h1m33 0h1m66 0h1m76 0h1M177 273h1m18 0h1m21 0h1m3 0h2m9 0h1m9 0h1m4 0h1m1 0h2m15 0h1m9 0h1m5 0h1m11 0h3m8 0h2m11 0h1m10 0h1m10 0h1m22 0h1m8 0h1m13 0h2m3 0h1m1 0h1m1 0h1m1 0h1m3 0h1m7 0h1m1 0h1m2 0h2m16 0h1m17 0h2m6 0h1m13 0h1m4 0h2m6 0h1m3 0h2m27 0h1m7 0h1m4 0h1m13 0h1m15 0h1m20 0h1m2 0h2m21 0h2m6 0h1m2 0h2m1 0h2m12 0h1m2 0h1m22 0h1m3 0h2m5 0h1m2 0h1m9 0h1m9 0h1m25 0h1m1 0h1m11 0h1m50 0h1m173 0h1M180 311h1m2 0h1m3 0h1m2 0h1m14 0h2m2 0h1m11 0h1m8 0h1m26 0h1m1 0h2m1 0h1m45 0h1m1 0h1m12 0h1m3 0h1m13 0h1m4 0h1m2 0h1m6 0h2m15 0h1m12 0h2m2 0h2m12 0h1m10 0h1m48 0h2m6 0h1m16 0h1m9 0h2m8 0h1m4 0h1m21 0h2m7 0h1m16 0h1m23 0h2m2 0h1m17 0h1m2 0h1m14 0h1m40 0h1m26 0h1m14 0h1m1 0h1m2 0h2m3 0h1m13 0h1m52 0h1m102 0h1m7 0h1m14 0h2m23 0h1M179 339h1m18 0h1m28 0h1m12 0h2m4 0h1m1 0h1m5 0h1m15 0h1m16 0h3m9 0h1m17 0h1m2 0h1m17 0h1m6 0h1m15 0h1m6 0h1m21 0h2m9 0h1m2 0h1m1 0h1m11 0h2m6 0h1m5 0h1m1 0h1m5 0h2m1 0h1m4 0h1m28 0h1m13 0h1m12 0h1m6 0h2m11 0h1m2 0h1m5 0h1m8 0h1m2 0h1m9 0h1m4 0h1m9 0h1m5 0h2m7 0h1m13 0h1m4 0h3m18 0h1m6 0h2m22 0h1m7 0h2m6 0h1m17 0h1m6 0h3m9 0h1m3 0h2m8 0h1m212 0h1M190 358h1m7 0h1m59 0h3m4 0h1m10 0h1m12 0h1m6 0h2m13 0h1m7 0h1m17 0h1m5 0h3m16 0h3m5 0h1m6 0h1m5 0h1m4 0h1m6 0h2m20 0h1m7 0h1m31 0h2m1 0h1m1 0h1m28 0h1m8 0h1m1 0h2m1 0h1m16 0h1m2 0h1m73 0h1m4 0h3m1 0h1m1 0h1m2 0h1m13 0h1m6 0h1m21 0h1m13 0h2m18 0h1m9 0h1m10 0h1m230 0h1m6 0h1M196 377h1m115 0h1m137 0h1m121 0h1m62 0h1m247 0h1m26 0h2m21 0h2M343 405h2m126 0h1m74 0h2m18 0h3m9 0h1m79 0h2m6 0h1m31 0h2m74 0h2m18 0h1M310 424h1m92 0h1m126 0h2M254 443h1m2 0h1m73 0h1m247 0h1m79 0h1M450 462h1m17 0h1m5 0h2m233 0h1m143 0h1M444 490h1m15 0h1M382 509h1M238 528h1m101 0h1m492 0h1m76 0h1M453 556h1m59 0h1m148 0h2m65 0h1m119 0h1M283 575h1m50 0h3m1 0h1m90 0h1m368 0h1M175 594h2m99 0h1m3 0h1m11 0h1m16 0h2m122 0h1m131 0h1m16 0h2m15 0h1m170 0h1m131 0h1M265 622h1m157 0h1m205 0h1m70 0h1m140 0h1m55 0h1m11 0h1M248 641h1m69 0h1m23 0h1m18 0h1m5 0h1m314 0h1m28 0h1m106 0h1m24 0h3m14 0h1M186 660h1m62 0h3m6 0h1m28 0h2m166 0h2m28 0h1m68 0h2m112 0h1m87 0h1m18 0h1m34 0h2m21 0h1m62 0h2M216 688h1m167 0h2m57 0h1m387 0h1m6 0h2M203 707h2m3 0h1m8 0h1m88 0h2m33 0h1m65 0h1m5 0h1m28 0h2m1 0h1m21 0h1m82 0h1m35 0h2m18 0h1m158 0h1m49 0h4m53 0h1M179 726h1m17 0h1m86 0h1m108 0h1m27 0h1m40 0h1m14 0h2m168 0h2m1 0h1m44 0h1m26 0h2m60 0h1m56 0h1M177 745h1m31 0h1m32 0h1m6 0h1m4 0h1m27 0h1m22 0h1m14 0h1m5 0h1m51 0h1m51 0h1m23 0h3m50 0h1m105 0h3m56 0h2m40 0h1m66 0h1m59 0h1m1 0h2m1 0h1m2 0h1m27 0h1m53 0h2m9 0h1M180 773h1m57 0h1m31 0h1m233 0h1m3 0h1m20 0h1m23 0h1m8 0h1m203 0h1m80 0h2M250 792h2m25 0h1m238 0h1m47 0h1m16 0h1m7 0h1m209 0h1m43 0h1m8 0h1m114 0h1M516 811h1m111 0h1m202 0h1M393 839h2m103 0h2M516 877h1m324 0h1m1 0h1m1 0h2M236 905h1m28 0h1m578 0h2M847 924h2"/>
<path stroke="#ff7200" stroke-width="9" d="M186 282.5h1m21 0h1m12 0h1m2 0h3m7 0h1m2 0h1m10 0h2m9 0h2m2 0h1m1 0h1m7 0h2m37 0h1m6 0h2m33 0h1m12 0h2m9 0h1m1 0h2m5 0h2m27 0h1m14 0h1m1 0h1m1 0h1m5 0h1m7 0h1m7 0h1m16 0h2m1 0h1m20 0h1m9 0h1m7 0h1m5 0h2m8 0h2m1 0h6m4 0h1m6 0h1m40 0h1m5 0h1m22 0h1m16 0h1m11 0h3m3 0h1m1 0h1m32 0h1m5 0h2m7 0h2m12 0h1m3 0h1m46 0h2m134 0h1M194 301.5h2m10 0h1m10 0h1m9 0h2m1 0h1m3 0h2m10 0h1m1 0h1m5 0h1m3 0h1m4 0h1m10 0h1m1 0h1m15 0h1m8 0h1m19 0h1m23 0h1m19 0h1m8 0h2m12 0h1m1 0h2m6 0h3m1 0h1m13 0h1m7 0h1m38 0h3m6 0h1m12 0h1m30 0h1m9 0h2m6 0h1m8 0h1m1 0h1m9 0h1m35 0h1m1 0h2m24 0h1m8 0h1m6 0h1m11 0h1m10 0h1m11 0h2m3 0h1m9 0h1m5 0h1m11 0h1m1 0h1m1 0h2m3 0h2m11 0h1m8 0h1m30 0h3m17 0h1m177 0h1M175 320.5h2m13 0h1m18 0h3m22 0h1m40 0h1m11 0h2m1 0h1m15 0h2m1 0h2m72 0h1m6 0h2m7 0h3m8 0h1m2 0h1m20 0h2m4 0h1m12 0h1m16 0h1m12 0h2m10 0h1m3 0h1m5 0h1m30 0h1m4 0h1m13 0h1m8 0h1m25 0h2m2 0h4m5 0h1m24 0h2m17 0h1m19 0h1m13 0h1m14 0h1m5 0h1m7 0h1m19 0h1m17 0h1m13 0h1m192 0h1M182 367.5h1m209 0h2M200 395.5h1m473 0h1M199 414.5h2M266 433.5h1m434 0h1M842 471.5h1m1 0h1M842 518.5h1M197 537.5h1m642 0h1m5 0h1M327 584.5h1m514 0h1M187 603.5h1m64 0h1m21 0h1m79 0h1M491 612.5h1M181 631.5h1m659 0h2M196 650.5h1m450 0h1M196 669.5h2m94 0h1m63 0h1m480 0h3m11 0h1M368 678.5h1m75 0h1m178 0h2m215 0h1m2 0h1M313 697.5h1m124 0h2m9 0h2m77 0h2m61 0h1m66 0h1m188 0h3M324 716.5h2m109 0h3m248 0h2M299 735.5h1m460 0h1M199 754.5h1m12 0h2m10 0h1m255 0h1m230 0h1m132 0h1M173 763.5h1m119 0h1m320 0h2M180 782.5h1m268 0h1m7 0h1m72 0h3M404 820.5h1m437 0h1M838 867.5h3M842 914.5h1"/>
<path stroke="#ff7200" stroke-width="10" d="M177 245h1m9 0h1m2 0h1m2 0h1m2 0h1m1 0h1m9 0h1m1 0h1m9 0h2m11 0h1m5 0h1m6 0h1m1 0h1m16 0h1m2 0h2m11 0h3m7 0h2m2 0h1m10 0h2m5 0h1m47 0h1m4 0h1m28 0h1m14 0h1m34 0h1m8 0h1m24 0h1m7 0h2m8 0h1m1 0h2m5 0h1m19 0h2m10 0h1m4 0h1m7 0h1m15 0h2m1 0h1m7 0h1m1 0h1m10 0h1m14 0h1m7 0h2m15 0h1m4 0h1m8 0h1m7 0h1m19 0h2m13 0h2m2 0h1m9 0h2m31 0h2m9 0h1m4 0h1m15 0h1m29 0h1m27 0h1m140 0h1M175 273h2m9 0h1m4 0h2m5 0h1m2 0h1m6 0h1m1 0h1m3 0h1m5 0h1m18 0h1m14 0h1m6 0h1m1 0h2m19 0h1m8 0h1m24 0h1m38 0h1m25 0h1m1 0h2m6 0h1m1 0h1m1 0h1m83 0h1m14 0h2m12 0h3m1 0h1m13 0h1m26 0h1m5 0h1m13 0h1m43 0h1m19 0h1m2 0h2m2 0h1m1 0h1m13 0h1m1 0h1m5 0h2m16 0h2m8 0h2m7 0h2m19 0h1m20 0h2m7 0h1m160 0h1M173 292h1m12 0h1m2 0h1m6 0h1m3 0h1m2 0h2m9 0h1m2 0h1m8 0h2m7 0h1m2 0h1m10 0h1m9 0h2m7 0h2m5 0h1m10 0h3m9 0h1m21 0h1m1 0h1m4 0h1m4 0h2m20 0h2m2 0h2m15 0h1m4 0h2m3 0h1m3 0h1m53 0h1m4 0h1m8 0h1m4 0h1m4 0h2m4 0h1m11 0h2m11 0h1m12 0h2m1 0h1m11 0h1m33 0h1m6 0h2m13 0h3m13 0h1m35 0h1m20 0h1m10 0h1m10 0h1m5 0h1m79 0h2m32 0h1m165 0h1M197 311h1m12 0h1m37 0h1m1 0h3m28 0h1m2 0h1m11 0h2m19 0h2m40 0h1m10 0h1m14 0h1m3 0h1m13 0h1m37 0h1m48 0h1m19 0h1m21 0h2m17 0h1m32 0h2m7 0h2m11 0h1m16 0h3m10 0h1m8 0h1m14 0h2m1 0h1m5 0h1m8 0h3m21 0h1m1 0h1m5 0h1m12 0h1m23 0h1m12 0h1m6 0h1m118 0h1m19 0h1m41 0h1M180 339h2m11 0h1m9 0h2m1 0h1m4 0h1m22 0h1m14 0h1m12 0h1m18 0h1m4 0h1m14 0h1m29 0h1m5 0h1m14 0h3m10 0h1m5 0h2m1 0h1m2 0h1m8 0h1m1 0h1m9 0h1m31 0h2m1 0h1m28 0h1m7 0h2m17 0h1m8 0h3m14 0h1m3 0h1m6 0h1m12 0h2m12 0h2m12 0h2m3 0h1m5 0h1m10 0h1m3 0h1m17 0h1m6 0h1m1 0h1m10 0h1m23 0h1m7 0h1m19 0h1m7 0h1m1 0h1m13 0h2m3 0h1m3 0h3m9 0h1m1 0h1m4 0h2m3 0h1m160 0h1m50 0h1m8 0h1M179 358h2m3 0h2m10 0h1m9 0h1m1 0h1m12 0h1m9 0h3m13 0h1m2 0h2m4 0h1m21 0h3m1 0h1m7 0h1m7 0h1m1 0h1m2 0h1m1 0h3m6 0h1m5 0h1m1 0h1m16 0h1m2 0h1m7 0h2m4 0h1m61 0h2m3 0h2m1 0h3m5 0h1m11 0h2m13 0h1m23 0h2m7 0h1m25 0h2m4 0h1m6 0h1m19 0h1m26 0h2m3 0h1m11 0h2m3 0h1m20 0h2m16 0h1m8 0h1m13 0h1m3 0h1m40 0h1m18 0h1m3 0h1m1 0h1M266 377h1m617 0h2M283 405h1m86 0h1m203 0h2m219 0h2M370 443h3M214 462h2m628 0h1m7 0h1M842 490h1M847 528h2M337 575h1m92 0h1m416 0h2M191 594h1m101 0h1m555 0h1M206 622h2m350 0h2m59 0h1m229 0h1M228 641h1m133 0h2M184 660h2m8 0h2m52 0h1m10 0h2m91 0h2m129 0h2m79 0h1m192 0h1m77 0h1M215 688h1m124 0h1m19 0h1m83 0h1m167 0h2m229 0h1m2 0h1M202 707h1m211 0h1m29 0h1m134 0h2M178 726h1m79 0h3m325 0h2M674 745h1m7 0h1m159 0h1m2 0h1m76 0h2M289 773h1M591 839h1M842 877h1"/>
<path stroke="#ff6300" stroke-width="9" d="M175 254.5h2m10 0h1m5 0h1m8 0h1m3 0h2m1 0h1m23 0h1m21 0h1m10 0h1m7 0h1m5 0h1m32 0h1m9 0h3m63 0h1m139 0h1m20 0h1m11 0h1m41 0h2m19 0h1m18 0h1m1 0h1m17 0h1m25 0h1m11 0h1m3 0h1m4 0h2m3 0h2m15 0h1m7 0h1m1 0h1m17 0h1m7 0h1m1 0h1m19 0h2m104 0h1m27 0h1m5 0h2m28 0h1M173 263.5h1m3 0h1m2 0h1m26 0h1m10 0h1m35 0h1m3 0h1m28 0h2m10 0h1m14 0h1m8 0h1m26 0h1m11 0h2m3 0h1m18 0h1m6 0h1m1 0h1m8 0h1m18 0h2m13 0h1m5 0h1m33 0h1m16 0h1m2 0h1m21 0h2m6 0h2m18 0h2m20 0h1m4 0h1m15 0h1m14 0h1m12 0h1m11 0h1m2 0h2m13 0h1m4 0h1m11 0h1m17 0h1m9 0h1m19 0h1m6 0h1m27 0h1m13 0h2m4 0h1m1 0h1m126 0h1m16 0h1m10 0h1M173 282.5h1m16 0h1m5 0h2m11 0h1m7 0h2m12 0h2m5 0h1m28 0h1m3 0h1m12 0h1m16 0h1m6 0h1m19 0h1m13 0h1m16 0h1m39 0h2m5 0h1m10 0h1m14 0h1m25 0h1m17 0h1m10 0h1m11 0h2m9 0h1m6 0h1m16 0h1m7 0h1m5 0h2m5 0h1m4 0h1m22 0h2m5 0h1m3 0h1m12 0h1m13 0h1m1 0h2m7 0h2m8 0h4m20 0h1m2 0h4m3 0h1m10 0h3m13 0h1m28 0h3m17 0h1m16 0h1m146 0h1m1 0h1m33 0h1m3 0h1M179 301.5h1m19 0h1m2 0h3m7 0h2m6 0h1m5 0h1m16 0h1m29 0h1m20 0h1m3 0h2m5 0h1m23 0h3m14 0h1m12 0h2m26 0h1m6 0h1m58 0h1m17 0h1m42 0h1m29 0h1m24 0h1m15 0h1m3 0h1m26 0h1m1 0h1m10 0h1m9 0h3m7 0h2m13 0h1m8 0h1m5 0h2m7 0h2m4 0h1m1 0h1m13 0h1m4 0h1m2 0h1m21 0h1m9 0h1m12 0h2m155 0h1m44 0h1M179 320.5h1m12 0h1m19 0h3m13 0h1m7 0h1m5 0h1m1 0h2m4 0h3m4 0h1m24 0h2m5 0h1m44 0h2m24 0h1m21 0h1m29 0h1m1 0h1m18 0h1m10 0h1m35 0h2m57 0h2m22 0h1m2 0h1m14 0h1m6 0h1m24 0h1m9 0h3m5 0h1m6 0h3m3 0h1m9 0h1m7 0h1m12 0h1m9 0h1m2 0h2m10 0h1m8 0h1m6 0h2m14 0h1m20 0h1m13 0h2m13 0h2m10 0h1m138 0h1m11 0h1M175 329.5h2m1 0h1m22 0h1m10 0h2m1 0h1m15 0h2m5 0h1m10 0h1m9 0h2m4 0h1m5 0h1m13 0h1m12 0h1m32 0h1m6 0h1m13 0h2m1 0h1m26 0h1m35 0h2m13 0h1m15 0h1m38 0h1m35 0h1m10 0h1m7 0h1m14 0h2m9 0h1m11 0h1m15 0h2m15 0h2m4 0h2m6 0h1m19 0h1m4 0h1m14 0h1m3 0h1m8 0h1m6 0h2m6 0h1m4 0h1m1 0h2m13 0h1m9 0h1m10 0h1m3 0h1m6 0h1m11 0h1m8 0h1m14 0h1m109 0h1m24 0h1m30 0h1M177 348.5h1m23 0h1m5 0h2m6 0h1m9 0h1m5 0h3m39 0h1m1 0h1m5 0h1m1 0h2m13 0h1m34 0h1m25 0h1m1 0h1m17 0h1m21 0h1m34 0h2m10 0h1m9 0h1m3 0h1m17 0h1m9 0h1m45 0h1m21 0h2m40 0h1m15 0h1m31 0h1m11 0h2m3 0h1m12 0h1m5 0h1m19 0h2m8 0h2m8 0h1m4 0h1m5 0h3m9 0h1m4 0h1m14 0h1m26 0h1m94 0h1m12 0h1m11 0h1m15 0h1m11 0h1m21 0h1M842 452.5h1M843 471.5h1M841 480.5h2m1 0h1M842 499.5h1m2 0h2M841 546.5h1m4 0h1M841 565.5h1m5 0h2M847 584.5h2M849 603.5h1M849 612.5h1M182 631.5h1m664 0h2M311 669.5h2M846 697.5h1M253 735.5h1M842 754.5h2M841 820.5h1M847 829.5h2M841 914.5h1"/>
<path stroke="#ff6300" stroke-width="10" d="M389 226h1M192 245h1m12 0h1m36 0h1m21 0h1m1 0h1m6 0h1m26 0h1m7 0h1m1 0h2m15 0h2m25 0h1m20 0h1m6 0h1m6 0h1m3 0h2m18 0h2m5 0h1m15 0h2m5 0h2m100 0h1m23 0h1m1 0h1m35 0h3m6 0h1m21 0h1m12 0h2m23 0h1m16 0h1m1 0h1m1 0h1m14 0h2m20 0h1m14 0h1m8 0h1m2 0h1m177 0h1M193 273h1m9 0h3m5 0h3m3 0h1m24 0h1m15 0h3m33 0h1m26 0h1m29 0h1m59 0h1m70 0h4m16 0h2m1 0h1m9 0h1m17 0h1m11 0h1m92 0h1m8 0h1m7 0h1m10 0h1m11 0h1m11 0h1m11 0h1m1 0h2m6 0h1m2 0h1m2 0h2m2 0h1m8 0h1m3 0h2m3 0h1m6 0h1m9 0h1m10 0h1m157 0h1m3 0h1M179 292h1m11 0h1m9 0h1m13 0h1m20 0h1m5 0h1m10 0h2m9 0h1m2 0h1m4 0h3m2 0h1m3 0h1m14 0h2m1 0h1m6 0h2m20 0h1m11 0h2m8 0h1m35 0h2m28 0h1m7 0h1m8 0h1m12 0h2m11 0h1m6 0h1m13 0h1m25 0h1m2 0h1m22 0h1m3 0h1m20 0h1m11 0h1m27 0h1m6 0h2m4 0h1m6 0h1m3 0h2m8 0h3m19 0h1m11 0h1m2 0h1m9 0h1m6 0h3m8 0h1m21 0h2m52 0h2m32 0h1m158 0h1M178 311h1m9 0h1m5 0h2m6 0h1m11 0h1m38 0h2m13 0h2m12 0h2m5 0h2m18 0h1m57 0h1m16 0h1m143 0h2m30 0h2m36 0h1m4 0h1m14 0h1m25 0h1m6 0h3m8 0h1m1 0h2m8 0h1m1 0h1m11 0h2m2 0h2m6 0h2m10 0h2m11 0h1m6 0h1m20 0h1m2 0h1m12 0h2m20 0h2m22 0h1m85 0h1m25 0h1m3 0h2m6 0h1M173 339h1m1 0h2m5 0h1m1 0h2m1 0h2m2 0h1m8 0h2m10 0h2m11 0h1m13 0h1m5 0h1m1 0h1m4 0h1m4 0h1m1 0h3m1 0h1m36 0h1m3 0h2m3 0h2m10 0h1m25 0h1m19 0h1m31 0h2m4 0h1m11 0h1m31 0h1m7 0h1m16 0h3m8 0h1m4 0h1m27 0h1m45 0h1m18 0h1m6 0h1m26 0h1m4 0h1m7 0h1m3 0h1m5 0h1m9 0h1m2 0h1m21 0h1m6 0h1m3 0h2m8 0h1m23 0h1m5 0h2m4 0h1m26 0h1m14 0h1m13 0h1m176 0h1m2 0h2M173 358h1m9 0h1m3 0h1m1 0h1m3 0h1m7 0h2m11 0h2m9 0h1m2 0h1m9 0h5m2 0h2m14 0h4m16 0h1m4 0h1m15 0h1m1 0h1m8 0h1m7 0h1m7 0h1m28 0h1m6 0h1m31 0h1m5 0h1m28 0h1m2 0h1m3 0h1m47 0h1m4 0h2m5 0h1m27 0h1m6 0h1m1 0h1m14 0h1m23 0h3m22 0h1m20 0h1m8 0h4m49 0h1m4 0h2m15 0h1m13 0h1m9 0h1m1 0h1m26 0h1m3 0h3m145 0h1m9 0h1m36 0h1m1 0h2m5 0h1M841 462h1M843 509h1m2 0h1M842 528h1M842 556h1m4 0h2M841 575h1M841 594h1M844 688h2M548 707h2"/>
<path stroke="#f50" stroke-width="9" d="M178 254.5h2m2 0h2m2 0h1m14 0h1m6 0h1m50 0h2m2 0h1m47 0h2m4 0h1m33 0h1m5 0h1m263 0h1m1 0h2m20 0h1m27 0h1m1 0h1m37 0h1m21 0h2m2 0h1m18 0h1m6 0h1m2 0h1m43 0h2m2 0h1m73 0h1m24 0h1m11 0h2M181 263.5h1m7 0h1m15 0h2m15 0h3m5 0h3m2 0h1m6 0h2m12 0h1m32 0h1m74 0h1m49 0h1m79 0h1m16 0h2m9 0h1m11 0h1m12 0h1m19 0h2m21 0h1m13 0h2m26 0h2m5 0h1m15 0h1m7 0h1m1 0h1m4 0h2m16 0h2m10 0h1m32 0h1m4 0h1m1 0h1m5 0h1m9 0h1m11 0h1m11 0h1m131 0h2m22 0h1m33 0h2M175 282.5h2m7 0h2m5 0h2m10 0h2m14 0h1m24 0h1m5 0h2m3 0h1m35 0h1m8 0h1m4 0h1m33 0h3m19 0h3m15 0h1m16 0h2m3 0h1m5 0h1m3 0h2m37 0h1m37 0h1m52 0h1m4 0h1m7 0h1m6 0h1m29 0h1m28 0h1m16 0h1m3 0h1m16 0h1m6 0h1m27 0h2m9 0h1m19 0h1m5 0h1m19 0h1m7 0h1m8 0h1m185 0h1M173 301.5h1m1 0h2m11 0h2m10 0h1m7 0h1m6 0h1m13 0h1m6 0h1m10 0h1m19 0h3m7 0h1m22 0h1m18 0h2m11 0h1m5 0h1m15 0h1m160 0h1m35 0h1m18 0h1m11 0h1m49 0h3m2 0h2m23 0h2m1 0h1m17 0h1m2 0h1m3 0h1m2 0h1m6 0h1m8 0h1m4 0h1m24 0h1m6 0h1m4 0h1m5 0h1m132 0h1m38 0h1M182 320.5h1m8 0h1m23 0h1m64 0h1m130 0h1m24 0h2m22 0h1m171 0h2m7 0h3m2 0h1m4 0h3m16 0h2m2 0h1m7 0h2m2 0h2m2 0h1m7 0h2m3 0h1m3 0h2m14 0h1m1 0h1m2 0h1m23 0h1m50 0h1M177 329.5h1m5 0h1m2 0h1m3 0h1m2 0h1m12 0h1m3 0h1m3 0h1m18 0h1m24 0h1m7 0h1m3 0h1m25 0h2m3 0h1m31 0h1m31 0h1m51 0h1m32 0h1m72 0h1m10 0h1m55 0h1m2 0h1m19 0h1m2 0h2m13 0h1m13 0h2m7 0h1m8 0h1m1 0h1m7 0h1m5 0h2m12 0h2m3 0h2m30 0h1m50 0h1m155 0h1m6 0h1M182 348.5h1m26 0h1m1 0h1m17 0h2m51 0h1m16 0h1m11 0h2m47 0h1m24 0h1m153 0h2m16 0h1m130 0h2m1 0h1m11 0h1m2 0h1m2 0h2m9 0h1m29 0h1m5 0h1m2 0h1m17 0h1m123 0h1m42 0h1m8 0h1m16 0h2M843 452.5h1M843 480.5h1M844 499.5h1M843 518.5h1M841 537.5h1m3 0h1M842 603.5h1M843 631.5h1M843 782.5h2"/>
<path stroke="#f50" stroke-width="10" d="M178 245h1m18 0h1m47 0h1m1 0h1m64 0h1m105 0h2m26 0h2m59 0h1m2 0h1m33 0h1m92 0h1m27 0h2m8 0h1m18 0h1m15 0h1m5 0h2m2 0h1m2 0h1m1 0h3m5 0h1m3 0h1m5 0h1m6 0h1m14 0h2m1 0h1m161 0h1m30 0h2M178 273h2m1 0h1m5 0h1m6 0h2m3 0h2m14 0h2m2 0h1m14 0h1m5 0h2m4 0h1m327 0h1m50 0h1m15 0h1m7 0h1m8 0h1m17 0h1m19 0h1m3 0h1m9 0h2m2 0h1m24 0h1m25 0h1m3 0h1m9 0h1m33 0h1m106 0h1M178 292h1m11 0h1m3 0h2m1 0h2m7 0h1m2 0h1m8 0h1m9 0h1m8 0h1m17 0h1m7 0h1m12 0h1m3 0h1m13 0h1m53 0h2m27 0h3m37 0h1m3 0h2m49 0h1m8 0h1m23 0h1m29 0h1m82 0h1m19 0h1m10 0h2m6 0h1m14 0h1m11 0h1m9 0h1m5 0h1m9 0h1m10 0h2m2 0h3m4 0h1m1 0h1m3 0h1m15 0h3m5 0h1m35 0h1m129 0h2m17 0h1M173 311h1m27 0h1m9 0h3m58 0h1m29 0h1m292 0h2m78 0h1m11 0h1m18 0h1m17 0h1m4 0h1m11 0h2m11 0h2m1 0h1m3 0h1m4 0h1m28 0h1m107 0h3m41 0h1M174 339h1m3 0h1m7 0h1m15 0h1m2 0h1m20 0h1m16 0h1m6 0h2m1 0h1m4 0h1m19 0h2m69 0h1m5 0h1m22 0h1m8 0h1m37 0h1m37 0h3m36 0h2m37 0h1m27 0h1m14 0h1m36 0h1m20 0h3m2 0h1m1 0h1m1 0h2m7 0h2m4 0h1m21 0h2m10 0h1m1 0h1m2 0h1m19 0h1m13 0h1m21 0h1m4 0h1m9 0h1m29 0h1m113 0h1m19 0h2m17 0h2m9 0h2M197 358h1m2 0h1m15 0h1m1 0h1m3 0h3m5 0h1m12 0h2m9 0h2m29 0h1m13 0h1m140 0h1m63 0h1m30 0h1m46 0h3m8 0h2m14 0h1m18 0h2m14 0h1m9 0h1m2 0h2m3 0h2m5 0h1m2 0h2m18 0h2m4 0h2m10 0h1m5 0h3m3 0h1m7 0h1m9 0h1m1 0h1m8 0h1m35 0h1m3 0h2m121 0h1m24 0h1M843 490h1m1 0h1M844 509h2M846 528h1"/>
<path stroke="#ff4600" stroke-width="9" d="M191 254.5h2m163 0h1m265 0h1m51 0h1m1 0h1m18 0h1m24 0h1m5 0h2m18 0h2m15 0h2m5 0h1m1 0h2m20 0h1m107 0h1m4 0h1m16 0h1m1 0h1m30 0h2m8 0h1m2 0h2M183 263.5h1m82 0h2m7 0h1m24 0h1m93 0h1m115 0h1m151 0h1m16 0h2m1 0h2m7 0h1m9 0h1m17 0h1m2 0h1m3 0h2m1 0h1m5 0h2m6 0h1m13 0h1m2 0h1m6 0h1m152 0h2m2 0h1m3 0h1m28 0h1m3 0h1M174 282.5h1m7 0h1m6 0h1m16 0h1m15 0h2m28 0h1m3 0h1m26 0h1m263 0h1m60 0h3m56 0h1m13 0h1m2 0h1m10 0h1m9 0h1m3 0h2m17 0h1m8 0h2m1 0h1m10 0h1m1 0h1m14 0h1m105 0h1m9 0h2m31 0h1m1 0h1m1 0h1m24 0h1m17 0h2M207 301.5h1m44 0h1m17 0h1m181 0h1m97 0h1m79 0h2m13 0h1m23 0h1m27 0h1m18 0h2m6 0h1m5 0h2m26 0h1m3 0h1m14 0h1m2 0h1m137 0h1m35 0h1M173 320.5h2m5 0h2m47 0h1m5 0h1m7 0h1m9 0h2m26 0h1m157 0h1m3 0h1m175 0h2m24 0h1m20 0h1m5 0h1m18 0h1m22 0h2m8 0h1m10 0h2m7 0h2m23 0h1m9 0h2m12 0h1m111 0h1m5 0h1m22 0h1m29 0h1m3 0h4M203 329.5h3m42 0h1m102 0h1m190 0h1m24 0h2m23 0h1m39 0h2m15 0h1m6 0h1m3 0h2m12 0h2m11 0h1m28 0h2m1 0h1m11 0h1m2 0h1m12 0h1m19 0h2m13 0h2m34 0h1m124 0h1m18 0h1M210 348.5h1m169 0h2m56 0h2m177 0h1m78 0h1m3 0h1m6 0h2m7 0h2m14 0h1m5 0h1m10 0h1m1 0h1m9 0h1m9 0h1m7 0h2m18 0h1m108 0h1m22 0h2m21 0h1M843 499.5h1M844 518.5h1M845 546.5h1M846 584.5h1M847 603.5h2M843 612.5h1M844 631.5h1m1 0h1"/>
<path stroke="#ff4600" stroke-width="10" d="M203 245h2m2 0h1m59 0h1m6 0h2m33 0h1m198 0h1m63 0h1m97 0h2m14 0h1m11 0h2m4 0h2m34 0h2m2 0h2m7 0h1m8 0h1m13 0h1m1 0h1m6 0h1m131 0h1m8 0h1m15 0h1m1 0h1m10 0h1m11 0h1M247 273h1m402 0h1m3 0h1m20 0h1m19 0h1m7 0h1m9 0h1m7 0h1m4 0h2m4 0h1m8 0h1m10 0h1m6 0h2m17 0h1m6 0h1m130 0h1m31 0h1M181 292h2m24 0h2m47 0h1m38 0h1m80 0h1m81 0h1m51 0h1m9 0h2m126 0h1m5 0h1m1 0h1m6 0h1m5 0h3m18 0h1m12 0h1m16 0h1m10 0h1m5 0h1m5 0h1m3 0h1m33 0h1m5 0h1m6 0h1m1 0h1m157 0h1m12 0h1M196 311h1m58 0h2m4 0h1m5 0h1m329 0h1m6 0h2m114 0h1m9 0h1m4 0h2m1 0h1m1 0h1m5 0h1m2 0h1m8 0h1m19 0h1m6 0h1m3 0h1m81 0h1m22 0h2m6 0h1m11 0h1m23 0h1m16 0h1m9 0h1M189 339h2m23 0h1m27 0h1m123 0h1m2 0h2m52 0h2m76 0h1m139 0h1m4 0h1m20 0h3m6 0h2m3 0h1m22 0h1m10 0h1m5 0h1m2 0h1m8 0h2m35 0h1m1 0h2m7 0h1m2 0h1m29 0h1m142 0h2M174 358h1m13 0h1m3 0h1m10 0h3m23 0h1m7 0h1m74 0h1m27 0h2m15 0h1m1 0h1m1 0h1m12 0h2m225 0h1m82 0h1m1 0h1m4 0h1m2 0h1m2 0h1m8 0h3m11 0h1m5 0h2m9 0h1m6 0h2m66 0h1m89 0h1m18 0h1m3 0h1m18 0h1m5 0h2m12 0h1M842 462h2M844 490h1M845 528h1M847 594h2M842 622h1m4 0h2"/>
<path stroke="#ff3700" stroke-width="9" d="M705 254.5h1m8 0h2m5 0h1m1 0h1m1 0h1m24 0h1m189 0h3m1 0h1m14 0h2M174 263.5h3m59 0h2m17 0h1m394 0h1m36 0h1m5 0h1m2 0h2m6 0h1m1 0h3m11 0h1m13 0h1m4 0h1m10 0h1m30 0h3m11 0h1m120 0h1m12 0h1m14 0h1m23 0h2M183 282.5h1m4 0h1m16 0h1m100 0h2m330 0h1m39 0h1m6 0h1m29 0h1m13 0h1m1 0h1m17 0h1m12 0h1m26 0h1m1 0h2m106 0h1m25 0h1m5 0h2m7 0h2m28 0h2M174 301.5h1m39 0h1m4 0h1m22 0h1m28 0h1m426 0h2m20 0h1m8 0h1m8 0h1m5 0h2m1 0h1m13 0h1m24 0h1m132 0h1m39 0h3M255 320.5h2m181 0h1m234 0h1m19 0h1m26 0h1m22 0h1m12 0h2m12 0h1m4 0h1m11 0h1m10 0h1m102 0h1m34 0h1m1 0h2m19 0h2M187 329.5h1m3 0h1m45 0h1m96 0h2m319 0h1m28 0h1m5 0h1m23 0h2m8 0h1m4 0h1m40 0h1m14 0h1m153 0h1M690 348.5h1m11 0h1m9 0h1m5 0h1m2 0h1m11 0h1m5 0h1m2 0h4m12 0h1m11 0h1m5 0h1m4 0h1m3 0h1m4 0h1m11 0h1m2 0h1m4 0h2m81 0h1m11 0h1m6 0h2m36 0h2m5 0h1m7 0h1m1 0h3M844 537.5h1M842 546.5h1M846 565.5h1M843 584.5h1M846 603.5h1M847 612.5h2M845 631.5h1"/>
<path stroke="#ff3700" stroke-width="10" d="M243 245h1m265 0h1m162 0h1m38 0h1m7 0h1m18 0h2m12 0h1m18 0h1m9 0h1m2 0h1m4 0h1m5 0h1m8 0h1m4 0h1m83 0h1m31 0h1m5 0h2m2 0h1m1 0h1m10 0h1M180 273h1m552 0h2m3 0h1m5 0h2m2 0h1m4 0h1m9 0h2m5 0h1m3 0h1m106 0h1m40 0h2m10 0h1m23 0h1m2 0h1m1 0h1m4 0h2M183 292h3m460 0h1m44 0h1m5 0h1m3 0h2m3 0h3m2 0h1m1 0h1m2 0h2m6 0h1m5 0h1m2 0h1m1 0h2m20 0h1m2 0h1m16 0h1m4 0h2m152 0h1M743 311h3m5 0h1m16 0h1m6 0h1m3 0h2m15 0h1m111 0h1m2 0h1m9 0h1m2 0h1m1 0h1m3 0h1m11 0h1m3 0h1m9 0h1m4 0h1m4 0h2M177 339h1m170 0h1m296 0h1m16 0h1m15 0h3m14 0h1m33 0h1m7 0h1m4 0h1m5 0h2m1 0h2m5 0h1m1 0h1m10 0h1m3 0h1m2 0h1m6 0h1m4 0h1m24 0h1m98 0h1m31 0h2m19 0h1M191 358h1m25 0h1m424 0h2m43 0h1m13 0h1m33 0h2m1 0h1m13 0h1m8 0h1m146 0h1m6 0h1m1 0h1m13 0h2m25 0h1M843 528h1M843 556h1m2 0h1M842 575h1m3 0h1"/>
<path stroke="#ff2800" stroke-width="9" d="M734 254.5h1m3 0h1m15 0h2m4 0h1m14 0h1m4 0h1m4 0h1m4 0h1m143 0h2m7 0h1m8 0h1m13 0h1m1 0h2M681 263.5h1m23 0h1m19 0h1m5 0h1m33 0h1m6 0h2m22 0h1m11 0h1m14 0h1m46 0h1m43 0h1m41 0h1m5 0h2M677 282.5h1m33 0h1m1 0h1m8 0h2m17 0h2m14 0h1m19 0h1m4 0h2m16 0h2m103 0h1m9 0h1m14 0h1m13 0h2m12 0h1m3 0h2m2 0h4M253 301.5h1m469 0h1m2 0h2m9 0h1m4 0h1m39 0h3m12 0h1m114 0h2m20 0h1m11 0h2m1 0h1m2 0h2m1 0h1M692 320.5h1m28 0h1m12 0h1m4 0h1m1 0h1m4 0h1m7 0h2m5 0h1m14 0h1m9 0h1m1 0h2m15 0h1m16 0h1m87 0h1m15 0h1m15 0h1m6 0h4M662 329.5h1m37 0h1m34 0h2m1 0h1m14 0h1m6 0h1m26 0h1m1 0h1m8 0h1m4 0h1m71 0h2m37 0h1m33 0h2M697 348.5h3m13 0h1m8 0h1m8 0h1m2 0h1m5 0h1m12 0h1m3 0h1m20 0h1m19 0h1m91 0h1m12 0h2m24 0h1m9 0h1m5 0h1m2 0h1m7 0h1m6 0h1m2 0h1M842 537.5h2M843 546.5h2M842 565.5h1M845 584.5h1M843 603.5h1"/>
<path stroke="#ff2800" stroke-width="10" d="M244 245h1m461 0h3m9 0h1m12 0h2m9 0h1m14 0h1m1 0h1m17 0h1m10 0h1m2 0h2m9 0h1m88 0h1m6 0h1m28 0h1m10 0h1m1 0h2m15 0h1m10 0h4M729 273h2m11 0h1m18 0h2m3 0h2m3 0h3m3 0h1m32 0h2m3 0h1m66 0h1m13 0h1m56 0h1M647 292h1m50 0h2m12 0h1m1 0h1m13 0h2m9 0h2m1 0h1m16 0h1m1 0h1m59 0h1m96 0h1m7 0h1m4 0h2m13 0h1m6 0h1m10 0h1m3 0h2M721 311h2m14 0h1m27 0h1m10 0h1m4 0h1m8 0h1m8 0h1m6 0h1m86 0h1m13 0h1m41 0h5m4 0h1m11 0h2M694 339h1m6 0h1m36 0h1m5 0h2m23 0h1m7 0h1m8 0h2m24 0h1m98 0h3m23 0h1m18 0h1m6 0h1M360 358h1m380 0h1m1 0h1m4 0h1m4 0h1m11 0h1m16 0h3m21 0h1m86 0h1m15 0h1m14 0h1m13 0h1m24 0h1M844 528h1M845 556h1M843 575h1M842 594h1m3 0h1M846 622h1"/>
<path stroke="#ff1a00" stroke-width="9" d="M737 254.5h1m15 0h1m12 0h1m11 0h2m25 0h1m78 0h2m34 0h1m17 0h1m6 0h2m6 0h1m8 0h1m2 0h1M709 263.5h1m13 0h2m7 0h1m18 0h1m1 0h3m28 0h1m8 0h1m3 0h1m80 0h1m12 0h1m27 0h1m5 0h1m4 0h1m4 0h1m2 0h1m19 0h1M712 282.5h1m1 0h1m28 0h3m8 0h3m2 0h2m10 0h1m2 0h1m11 0h1m1 0h1m13 0h1m147 0h2M743 301.5h1m4 0h1m7 0h1m13 0h1m5 0h1m2 0h1m1 0h1m7 0h1m6 0h1m25 0h1m64 0h1m5 0h1m27 0h1m18 0h2M711 320.5h1m1 0h1m33 0h1m2 0h1m7 0h1m1 0h1m29 0h3m2 0h1m1 0h1m6 0h1m1 0h1m111 0h2m5 0h1m9 0h1m1 0h1m10 0h1m7 0h2m8 0h1M192 329.5h1m492 0h2m50 0h1m8 0h1m4 0h1m160 0h2m2 0h3m7 0h1m3 0h1m4 0h2m5 0h1m23 0h1m1 0h2M754 348.5h2m9 0h1m27 0h1m2 0h1m7 0h1m8 0h1m42 0h2m16 0h1m22 0h1m8 0h2m12 0h1m25 0h1m5 0h1m8 0h1M845 565.5h1M844 584.5h1M844 603.5h2M844 612.5h1m1 0h1"/>
<path stroke="#ff1a00" stroke-width="10" d="M684 245h2m68 0h2m7 0h2m4 0h1m2 0h4m6 0h2m12 0h1m6 0h1m90 0h2m3 0h1m1 0h1m9 0h3m5 0h1m4 0h1m8 0h1m2 0h1m12 0h1m3 0h2m1 0h1m1 0h3M743 273h1m10 0h3m23 0h1m17 0h1m15 0h1m83 0h1m7 0h1m26 0h1m6 0h2m10 0h1m1 0h1M746 292h1m4 0h1m13 0h2m7 0h1m3 0h1m14 0h1m1 0h1m9 0h1m4 0h2m2 0h1m102 0h1m26 0h1m4 0h3m6 0h1M752 311h1m9 0h3m9 0h1m9 0h1m27 0h1m4 0h1m80 0h1m1 0h1m19 0h1m1 0h2m4 0h1m11 0h2m17 0h2m1 0h1m1 0h1M722 339h1m20 0h1m2 0h1m3 0h1m2 0h3m1 0h1m7 0h1m25 0h2m1 0h1m13 0h1m101 0h1m14 0h2m6 0h1m11 0h1m2 0h1m1 0h2m12 0h1M695 358h1m6 0h3m18 0h3m23 0h2m3 0h2m1 0h1m13 0h1m14 0h1m21 0h1m64 0h1m38 0h2m21 0h2m10 0h2m13 0h1M844 556h1M844 575h2M845 594h1M843 622h1m1 0h1"/>
<path stroke="#f50b00" stroke-width="9" d="M749 254.5h1m1 0h2m23 0h2m11 0h1m5 0h1m18 0h1m72 0h1m13 0h1m3 0h2m12 0h1m2 0h2m6 0h1m8 0h1m10 0h2m2 0h1m8 0h1M774 263.5h2m2 0h1m15 0h1m9 0h1m2 0h1m76 0h2m15 0h1m15 0h1m21 0h1m14 0h2M748 282.5h1m14 0h3m4 0h1m22 0h1m2 0h1m17 0h1m68 0h1m5 0h1m8 0h1m21 0h1m5 0h1m27 0h2m1 0h1m3 0h1M722 301.5h1m29 0h1m1 0h2m12 0h1m9 0h1m14 0h2m5 0h3m10 0h1m63 0h1m20 0h1m15 0h2m11 0h1m2 0h1m2 0h1m2 0h1M740 320.5h1m1 0h1m6 0h1m13 0h2m6 0h1m2 0h1m9 0h1m11 0h1m10 0h1m1 0h1m83 0h1m8 0h1m6 0h1m10 0h1m19 0h2m19 0h1m1 0h1M744 329.5h2m6 0h1m4 0h3m12 0h3m4 0h2m3 0h1m12 0h1m15 0h1m74 0h1m17 0h1m4 0h1m26 0h1m17 0h1M762 348.5h1m6 0h1m12 0h2m5 0h1m7 0h1m83 0h1m5 0h1m46 0h1m1 0h1M843 565.5h2M845 612.5h1"/>
<path stroke="#f50b00" stroke-width="10" d="M756 245h1m13 0h1m8 0h1m93 0h1m9 0h3m20 0h1m9 0h1m1 0h1m9 0h1m14 0h1m1 0h1m6 0h1m10 0h1m1 0h1M797 273h1m85 0h1m15 0h2m6 0h1m3 0h1m6 0h1m6 0h1m9 0h1m13 0h3m3 0h1m1 0h1m1 0h2m3 0h1M715 292h1m32 0h1m3 0h2m4 0h1m9 0h1m2 0h1m3 0h1m4 0h1m10 0h2m6 0h1m93 0h1m4 0h3m2 0h2m28 0h1m14 0h1m7 0h1M772 311h2m8 0h2m3 0h1m9 0h2m1 0h2m12 0h1m20 0h1m51 0h2m3 0h1m22 0h1m18 0h1m22 0h1M756 339h1m5 0h1m4 0h1m11 0h1m13 0h1m2 0h1m5 0h1m89 0h1m28 0h3m25 0h1M696 358h1m62 0h2m7 0h1m3 0h2m4 0h2m8 0h1m1 0h1m27 0h1m55 0h1m15 0h1m7 0h1m1 0h1m2 0h2m6 0h1m22 0h1m5 0h2m11 0h4m13 0h2M843 594h2M844 622h1"/>
<path stroke="#e30000" stroke-width="9" d="M748 254.5h1m48 0h1m76 0h1m23 0h1m4 0h2m4 0h1m4 0h1m3 0h1m10 0h1m25 0h2M759 263.5h1m17 0h1m10 0h1m20 0h1m84 0h2m11 0h2m13 0h2m3 0h1m15 0h1m3 0h1m4 0h1m6 0h2m3 0h1M747 282.5h1m18 0h1m9 0h1m2 0h1m5 0h1m1 0h1m6 0h2m94 0h1m3 0h3m6 0h2m2 0h1m14 0h2m5 0h1m13 0h1m4 0h2m9 0h2M721 301.5h1m27 0h1m3 0h1m17 0h1m15 0h2m1 0h3m2 0h1m2 0h2m83 0h1m10 0h4m19 0h1m4 0h2m11 0h1m1 0h1m6 0h2m11 0h1m12 0h2M712 320.5h1m53 0h1m11 0h1m98 0h1m22 0h1m16 0h1m10 0h1m18 0h1m10 0h1M765 329.5h2m8 0h1m1 0h1m10 0h1m15 0h1m25 0h1m43 0h1m3 0h1m15 0h2m9 0h1m9 0h1m3 0h1m8 0h1m2 0h2m12 0h1m1 0h1m2 0h2m3 0h1m7 0h1m3 0h1M788 348.5h1m11 0h2m4 0h1m5 0h1m78 0h1m4 0h1m12 0h1m1 0h1m7 0h1m1 0h1m11 0h1m4 0h1m8 0h1m14 0h1"/>
<path stroke="#e30000" stroke-width="10" d="M780 245h1m5 0h2m2 0h1m8 0h1m40 0h1m45 0h1m27 0h1m5 0h2m12 0h1m29 0h1M775 273h2m7 0h1m6 0h2m1 0h2m16 0h1m60 0h1m16 0h1m26 0h1m11 0h1m9 0h1m4 0h1m2 0h1m8 0h1m8 0h3M750 292h1m19 0h1m8 0h1m4 0h1m1 0h1m15 0h1m103 0h1m4 0h1m10 0h2m6 0h1m7 0h2m5 0h1m6 0h1m2 0h1m5 0h1M777 311h1m16 0h1m95 0h2m4 0h1m12 0h1m6 0h1m8 0h1m7 0h1m1 0h1m7 0h1m19 0h1M747 339h1m15 0h2m135 0h1m23 0h1m14 0h1m2 0h1m12 0h1M756 358h1m9 0h2m6 0h1m5 0h2m3 0h1m9 0h1m7 0h1m15 0h2m70 0h1m26 0h1m10 0h1m15 0h1m21 0h3"/>
<path stroke="#d10000" stroke-width="9" d="M781 254.5h1m2 0h1m2 0h1m8 0h1m5 0h2m59 0h1m4 0h1m11 0h1m2 0h1m2 0h1m6 0h1m2 0h1m3 0h1m7 0h1M776 263.5h1m9 0h2m98 0h1m15 0h1m28 0h2m7 0h2m3 0h1m4 0h2m13 0h2M746 282.5h1m14 0h1m13 0h1m27 0h1m9 0h1m79 0h1m8 0h1m21 0h1m11 0h3m3 0h1M772 301.5h3m31 0h1m62 0h1m21 0h1m10 0h1m5 0h1m19 0h1m10 0h1m2 0h1m23 0h1M765 320.5h1m6 0h2m7 0h1m3 0h1m13 0h1m8 0h1m55 0h1m3 0h1m20 0h1m2 0h1m10 0h2m17 0h3m5 0h3m20 0h2m7 0h1M748 329.5h2m4 0h2m20 0h1m1 0h1m11 0h3m1 0h3m5 0h1m3 0h1m1 0h4m4 0h2m19 0h1m43 0h1m11 0h1m8 0h1m17 0h1m1 0h2m5 0h1m10 0h2m17 0h2m4 0h1M763 348.5h2m9 0h1m11 0h1m27 0h1m60 0h2m5 0h1m3 0h1m5 0h1m1 0h2m4 0h1m21 0h2m4 0h1m8 0h1"/>
<path stroke="#d10000" stroke-width="10" d="M798 245h1m1 0h2m3 0h1m1 0h1m73 0h2m13 0h2m12 0h1m4 0h1m34 0h2M781 273h1m5 0h1m1 0h1m3 0h1m2 0h1m94 0h1m17 0h1m2 0h2m13 0h1m3 0h2m3 0h1m5 0h1m2 0h1M749 292h1m19 0h1m18 0h1m18 0h1m4 0h1m5 0h1m4 0h2m22 0h2m47 0h2m3 0h2m11 0h1m1 0h1m3 0h1m4 0h1m9 0h1m6 0h1m16 0h2M793 311h1m8 0h1m4 0h1m5 0h1m2 0h1m93 0h1m6 0h1m11 0h1m6 0h1m7 0h1M768 339h1m11 0h1m1 0h2m13 0h1m15 0h1m10 0h1m53 0h1m9 0h1m9 0h1m7 0h1m11 0h1m10 0h4m1 0h2m2 0h1m14 0h1M789 358h1m3 0h2m9 0h1m8 0h1m48 0h1m26 0h1m2 0h1m14 0h1m14 0h2m9 0h1m27 0h1"/>
<path stroke="#bf0000" stroke-width="9" d="M782 254.5h2m15 0h1m6 0h2m10 0h1m4 0h1m1 0h1m40 0h2m1 0h2m8 0h1m12 0h1m17 0h1m1 0h2M785 263.5h1m3 0h4m5 0h1m6 0h2m65 0h1m17 0h1m2 0h1m3 0h1m1 0h1m5 0h1m5 0h1m6 0h1m14 0h2m7 0h1m3 0h1M804 282.5h1m4 0h1m2 0h1m13 0h1m55 0h1m17 0h1m8 0h1m1 0h3m19 0h1m1 0h1m3 0h1M769 301.5h1m35 0h1m1 0h1m6 0h2m40 0h2m20 0h1m2 0h1m10 0h1m31 0h1m6 0h2m5 0h1m4 0h1m12 0h1m11 0h2M777 320.5h1m24 0h1m7 0h2m74 0h1m19 0h2m4 0h2m7 0h1m22 0h1m1 0h1M756 329.5h1m43 0h2m3 0h1m1 0h1m4 0h1m2 0h1m5 0h1m4 0h1m70 0h1m2 0h2m1 0h2m5 0h1m14 0h1m20 0h1m14 0h1M772 348.5h2m10 0h1m6 0h2m10 0h1m5 0h1m5 0h1m64 0h1m3 0h2m24 0h1m4 0h1m8 0h4"/>
<path stroke="#bf0000" stroke-width="10" d="M793 245h2m13 0h1m1 0h2m2 0h1m1 0h1m57 0h1m12 0h1m2 0h1M786 273h1m13 0h2m16 0h1m35 0h1m25 0h1m16 0h1m3 0h1m6 0h1m5 0h1m22 0h2m4 0h1M785 292h1m23 0h1m3 0h1m68 0h1m4 0h1m2 0h2m2 0h2m38 0h1m8 0h1M788 311h1m20 0h3m6 0h1m19 0h2m30 0h1m7 0h2m1 0h1m2 0h2m13 0h1m45 0h1M798 339h1m1 0h2m1 0h1m14 0h1m61 0h1m6 0h1m21 0h1m7 0h1m25 0h2M775 358h3m27 0h1m88 0h2m3 0h1m5 0h1m10 0h1m9 0h1m19 0h1"/>
<path stroke="#ad0000" stroke-width="9" d="M788 254.5h1m11 0h2m2 0h1m12 0h1m1 0h2m52 0h1m14 0h1m2 0h1m2 0h2m3 0h1M803 263.5h1m18 0h1m69 0h1m3 0h1m3 0h1m2 0h2m1 0h1m41 0h2M780 282.5h2m2 0h1m42 0h1m2 0h1m1 0h1m14 0h2m65 0h1m13 0h1M775 301.5h1m28 0h1m14 0h2m4 0h1m34 0h1m18 0h1m19 0h1m1 0h1m1 0h3m5 0h1m4 0h1m9 0h1M800 320.5h2m12 0h1m59 0h3m11 0h1m5 0h2m31 0h1M814 329.5h1m12 0h1m19 0h2m1 0h1m26 0h1m11 0h1m2 0h1m6 0h1m7 0h3m23 0h2m18 0h2m9 0h1M787 348.5h1m42 0h1m31 0h1m53 0h3"/>
<path stroke="#ad0000" stroke-width="10" d="M822 245h1m1 0h1m54 0h1m20 0h1m1 0h1m4 0h1m38 0h2M790 273h1m8 0h1m2 0h1m2 0h1m80 0h1m5 0h1m1 0h2m6 0h1m2 0h1m9 0h1m12 0h1m17 0h1M789 292h2m13 0h1m12 0h1m1 0h2m9 0h1m42 0h2m13 0h1m18 0h1m1 0h1m11 0h1m2 0h1M804 311h2m34 0h1m39 0h1m1 0h1M807 339h1m1 0h1m7 0h1m14 0h1m48 0h1m17 0h1m2 0h1m2 0h1m1 0h2m6 0h1m3 0h1m34 0h1M807 358h1m1 0h3m44 0h2m12 0h2m16 0h1m7 0h1m22 0h1"/>
<path stroke="#9b0000" stroke-width="9" d="M808 254.5h1m1 0h2m3 0h1m5 0h2m1 0h1m46 0h1m9 0h2m28 0h1m4 0h1M802 263.5h1m12 0h1m73 0h1m19 0h1M798 282.5h2m70 0h2m3 0h2m4 0h1m4 0h1m4 0h1m14 0h1m3 0h1m23 0h1M803 301.5h1m14 0h1m2 0h1m40 0h1m7 0h1m13 0h2m21 0h1m1 0h1m15 0h1m41 0h1M812 320.5h2m9 0h1m9 0h1m44 0h1m2 0h1m26 0h1m5 0h1m1 0h1m26 0h1M822 329.5h1m23 0h1m24 0h1M825 348.5h1m53 0h1m3 0h1m14 0h1"/>
<path stroke="#9b0000" stroke-width="10" d="M806 245h1m16 0h1m81 0h1m2 0h2M782 273h2m20 0h1m1 0h3m7 0h1m2 0h2m58 0h1m8 0h2m3 0h1m9 0h2M808 292h1m6 0h1m52 0h1m6 0h2m12 0h1m2 0h1m22 0h1M808 311h1m109 0h2M799 339h1m10 0h2m4 0h1m69 0h1m4 0h1m1 0h1m2 0h2m5 0h2m22 0h2M799 358h4m20 0h1m1 0h1m56 0h1m14 0h1m3 0h1m25 0h2"/>
<path stroke="#800000" stroke-width="9" d="M809 254.5h1m16 0h37m1 0h2m6 0h1m2 0h4m10 0h1m27 0h1M799 263.5h3m8 0h5m1 0h6m2 0h46m1 0h1m1 0h5m1 0h5m3 0h2m21 0h1M797 282.5h1m7 0h4m1 0h2m3 0h11m2 0h2m1 0h1m1 0h14m2 0h21m2 0h2m3 0h4m6 0h2m3 0h1m8 0h1M808 301.5h5m3 0h2m5 0h2m1 0h30m2 0h2m1 0h1m1 0h6m2 0h6m3 0h1m1 0h1m3 0h1m1 0h2m10 0h1m5 0h1m3 0h1M815 320.5h7m2 0h9m1 0h30m1 0h3m1 0h5m5 0h2m1 0h4m1 0h1m2 0h2m4 0h4m15 0h1M819 329.5h2m2 0h3m2 0h2m1 0h6m1 0h8m3 0h1m1 0h20m1 0h2m5 0h2m1 0h6m2 0h2m6 0h1M807 348.5h2m7 0h9m1 0h4m1 0h25m2 0h4m1 0h11m3 0h2m20 0h1"/>
<path stroke="#800000" stroke-width="10" d="M812 245h2m3 0h5m4 0h14m1 0h32m2 0h4m1 0h1m7 0h2m13 0h2M803 273h1m5 0h1m7 0h1m3 0h33m1 0h18m1 0h5m8 0h1M803 292h1m12 0h1m5 0h1m2 0h5m1 0h16m2 0h19m1 0h4m4 0h5m1 0h4m21 0h1M819 311h16m1 0h2m3 0h29m2 0h6m5 0h1M804 339h2m13 0h5m1 0h7m1 0h45m1 0h1m2 0h4m3 0h2m3 0h2m20 0h1M796 358h3m15 0h4m3 0h2m1 0h1m1 0h30m2 0h4m1 0h7m2 0h1m2 0h7m1 0h5"/>
</g>
<g clip-path="url(#c)"><path d="M173 971.5H972" stroke="#000" stroke-width="2.78"/>
<text font-size="25.5" y="971.3" x="172.7 180.01 197.32 207.29 221.2 239.51 257.31">INJPHYS</text>
</g>
<rect class="k" x="173.5" y="61.5" width="798" height="915"/>
<path class="k" d="M175.5 977v4.86M277.5 977v4.86M379.5 977v4.86M481.5 977v4.86M583.5 977v4.86M685.5 977v4.86M788.5 977v4.86M890.5 977v4.86M173 132.5h-4.86M173 415.5h-4.86M173 698.5h-4.86"/>
<text font-size="32.69" y="53" x="454.57 472.6 481.6 490.62 499.87 506.98 522.98 538.74 554.45 570.66 587.62 594.73 603.09 624.21 640.66 648.52 663.73 678.62">Fill 11141, B2 ver</text>
<text font-size="31.93" y="1064" x="532.78 543.67 551.67 562.32 585.67 599.6">f (Hz)</text>
<text font-size="31.99" y="0" transform="translate(51,519.8) rotate(-90)" x="-133.27 -110.17 -90.64 -69.3 -61.06 -52.42 -43.28 -18.91 -4.47 3.53 19.53 28.41 44.41 60.39 69.28 85.28 101.27 117.02">UTC time 6/10/2025</text>
<text font-size="28.91" y="141.4" x="64.61 77.36 91.62 99.01 113.01 127.03 134.42 148.18">19:20:00</text>
<text font-size="28.91" y="424.4" x="64.61 77.36 91.62 99.01 112.76 127.03 134.67 148.43">19:15:00</text>
<text font-size="28.91" y="707.4" x="64.61 77.36 91.62 99.01 113.01 127.03 134.42 148.18">19:10:00</text>
<text font-size="28.72" y="70.14" x="1078.35 1094.54 1108.41 1122.3"><tspan font-size="31" dy="2.5">−</tspan><tspan dy="-2.5">100</tspan></text>
<text font-size="28.72" y="253.18" x="1078.35 1094.54 1108.41 1122.55"><tspan font-size="31" dy="2.5">−</tspan><tspan dy="-2.5">120</tspan></text>
<text font-size="28.72" y="436.21" x="1078.35 1094.54 1107.91 1122.55"><tspan font-size="31" dy="2.5">−</tspan><tspan dy="-2.5">140</tspan></text>
<text font-size="28.72" y="619.25" x="1078.35 1094.54 1108.41 1122.55"><tspan font-size="31" dy="2.5">−</tspan><tspan dy="-2.5">160</tspan></text>
<text font-size="28.72" y="802.28" x="1078.35 1094.54 1108.41 1122.3"><tspan font-size="31" dy="2.5">−</tspan><tspan dy="-2.5">180</tspan></text>
<text font-size="28.72" y="985.32" x="1078.35 1094.79 1108.41 1122.3"><tspan font-size="31" dy="2.5">−</tspan><tspan dy="-2.5">200</tspan></text>
<text font-size="28.5" y="0" transform="translate(171.45,1002.6) rotate(-30)" x="-55.28 -42.03 -28.02 -14.14">4500</text>
<text font-size="28.5" y="0.25" transform="translate(273.5,1002.6) rotate(-30)" x="-55.03 -41.66 -28.02 -14.39">5000</text>
<text font-size="28.5" y="0" transform="translate(375.55,1002.6) rotate(-30)" x="-55.03 -41.91 -28.14 -14.14">5500</text>
<text font-size="28.5" y="0.5" transform="translate(477.6,1002.6) rotate(-30)" x="-55.03 -41.16 -27.27 -13.39">6000</text>
<text font-size="28.5" y="0.5" transform="translate(579.65,1002.6) rotate(-30)" x="-55.03 -41.16 -27.27 -13.39">6500</text>
<text font-size="28.5" y="0" transform="translate(681.7,1002.6) rotate(-30)" x="-54.53 -42.16 -28.27 -14.39">7000</text>
<text font-size="28.5" y="0" transform="translate(783.75,1002.6) rotate(-30)" x="-54.53 -42.41 -28.14 -14.39">7500</text>
<text font-size="28.5" y="0.5" transform="translate(886.8,1002.6) rotate(-30)" x="-54.91 -42.28 -28.52 -14.77">8000</text>
<rect x="1020.5" y="61.5" width="46" height="915" fill="url(#j)"/>
<rect class="k" x="1020.5" y="61.5" width="46" height="915"/>
<path class="k" d="M1067 61.5h4.86M1067 244.5h4.86M1067 427.5h4.86M1067 610.5h4.86M1067 793.5h4.86M1067 976.5h4.86"/>
</svg>
</body></html>
